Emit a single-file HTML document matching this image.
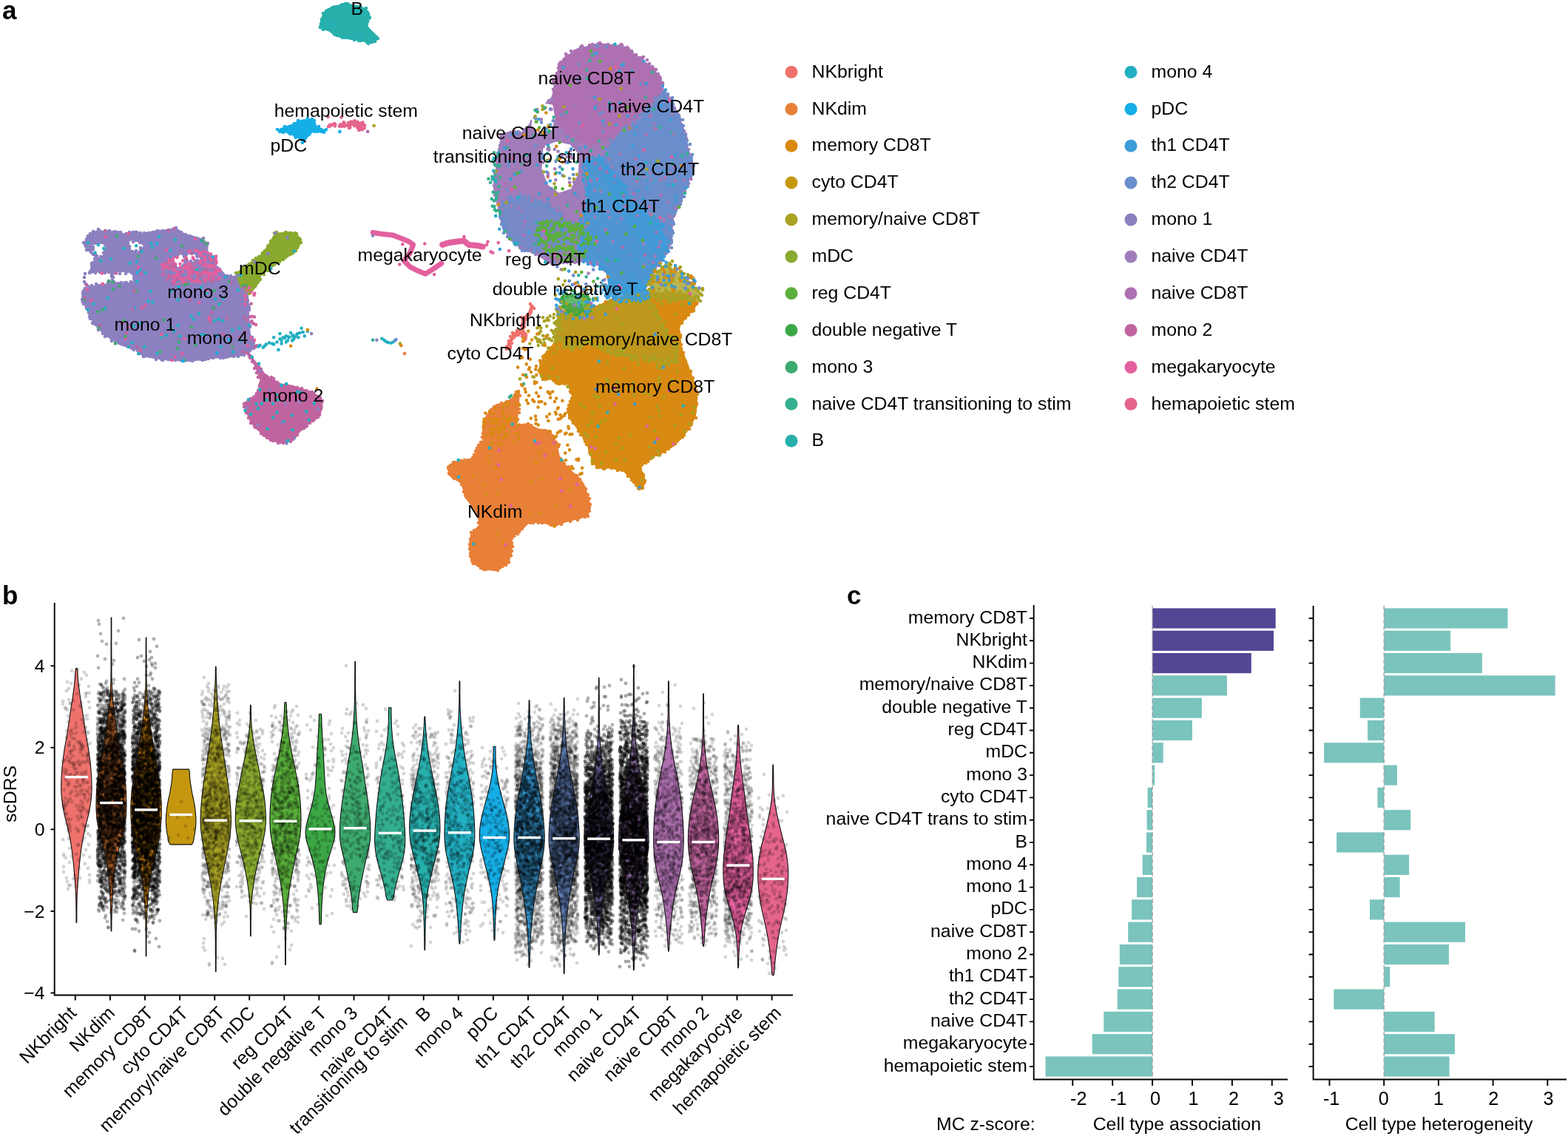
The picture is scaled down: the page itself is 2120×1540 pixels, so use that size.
<!DOCTYPE html><html><head><meta charset="utf-8"><style>html,body{margin:0;padding:0;background:#fff}svg{display:block}text{font-family:"Liberation Sans",Arial,sans-serif}</style></head><body>
<svg xmlns="http://www.w3.org/2000/svg" width="2120" height="1540" viewBox="0 0 2120 1540">
<rect width="2120" height="1540" fill="#fff"/>
<g font-weight="bold" font-size="35">
<text x="3" y="26">a</text><text x="3" y="817">b</text><text x="1145" y="817">c</text>
</g>
<g id="umap">
<path d="M114.1 329.4 117.9 322.1 124.0 315.9 134.6 311.3 139.7 314.6 153.3 313.6 156.2 312.9 165.6 317.6 184.3 313.0 189.3 316.2 196.5 317.7 203.0 314.3 211.8 312.7 223.1 311.7 237.0 309.1 249.4 317.1 272.9 323.7 280.4 329.6 279.4 340.9 292.7 360.8 306.5 374.5 318.7 374.5 333.6 391.2 335.5 414.8 335.5 435.7 337.7 453.3 343.6 463.1 342.2 470.7 327.4 479.9 307.6 481.9 280.4 484.0 261.9 487.1 233.2 486.0 210.7 484.0 193.2 480.1 184.9 471.9 163.8 465.6 143.8 453.5 127.8 437.6 119.7 421.4 111.8 405.6 111.8 397.3 118.1 389.7 121.4 378.7 123.4 363.0 130.6 348.4 121.4 338.5 115.1 333.0Z" fill="#8C80C0" stroke="#8C80C0" stroke-width="3" stroke-linejoin="round"/>
<path d="M113 328h0m4-4h0m1-2h0m1-3h0m3-3h0m4-3h0m5 1h0m2-4h0m5 5h0m2-1h0m5-1h0m3 0h0m0-1h0m5 3h0m2-2h0m5 1h0m3 0h0m1 2h0m5 1h0m2-1h0m4-2h0m4 1h0m1-1h0m4 0h0m6 1h0m5 0h0m1 4h0m2-3h0m3-1h0m7-1h0m5-2h0m3 1h0m4-1h0m4 1h0m2-1h0m2-1h0m6 1h0m4-4h0m2 4h0m1 1h0m4 1h0m3 4h0m3-1h0m4 3h0m2-1h0m4 3h0m4 1h0m1-1h0m3 2h0m6-2h0m-1 3h0m3 3h0m4 1h0m-3 4h0m1 4h0m2 5h0m0 2h0m3 1h0m3 6h0m1 2h0m0 2h0m1 4h0m2 0h0m3 3h0m3 2h0m1 2h0m2 3h0m2 5h0m5-1h0m2 1h0m3-1h0m5 3h0m2-2h0m0 1h0m3 3h0m4 2h0m-1 6h0m4-1h0m3 2h0m2 6h0m1 2h0m-2 2h0m0 5h0m2 4h0m-1 1h0m2 6h0m1 3h0m0 3h0m-3 3h0m1 1h0m-1 5h0m1 5h0m2 3h0m1 5h0m0 1h0m-2 3h0m0 4h0m2 6h0m3 1h0m1 5h0m0 3h0m3 4h0m-2 3h0m-5 3h0m-2 2h0m-1 0h0m-5 4h0m-2-1h0m-5 0h0m-1 3h0m-6 0h0m0 0h0m-6 0h0m-4-2h0m0 3h0m-4 1h0m-4 0h0m-1-2h0m-6 0h0m-3 2h0m-3-1h0m-3 2h0m-2-1h0m-2 2h0m-4 1h0m-3-1h0m-3-2h0m-3 1h0m-5 3h0m-3-1h0m-1 0h0m-4 0h0m-3 1h0m-5-1h0m-2-2h0m-1 1h0m-4 1h0m-2-1h0m-5 0h0m-3 0h0m-4-1h0m-3 2h0m-2-1h0m-2-3h0m-5 3h0m-2-4h0m-7 0h0m-3-1h0m-4 1h0m-1 0h0m-5-4h0m-1-5h0m-2 1h0m-5-1h0m-2-3h0m-1 1h0m-6-3h0m-2-1h0m-4-1h0m-1-2h0m-4 0h0m-5-3h0m0-1h0m-5 1h0m0-2h0m-6-5h0m-3 1h0m-1-5h0m-2 1h0m-1-5h0m-5 0h0m0-3h0m-5-5h0m1-1h0m-4 0h0m1-4h0m-4-2h0m-1-3h0m0-5h0m-1 0h0m-3-6h0m0-3h0m-4-3h0m-1-3h0m-1-3h0m2-4h0m-1-5h0m1-3h0m2-3h0m4 0h0m-1-4h0m4-5h0m1-3h0m-1-1h0m0-5h0m1-1h0m-1-4h0m2-3h0m0-5h0m0-3h0m2-1h0m2-5h0m1 0h0m1-3h0m-5-5h0m-2-1h0m-3-3h0m-3 0h0m0-5h0" stroke="#8C80C0" stroke-width="4.6" stroke-linecap="round" fill="none"/>
<path d="M242.8 354.8h0m13.2 6.8h0m-21.9 0.1h0m-8.9-4.9h0m17.1-7.9h0m22.5 14h0m13.2 6h0m-2.7 10.4h0m-26.1-26h0m26.7 14.9h0m13.5-0.7h0m-12.7 8.7h0m-47.6-13.6h0m29.2 14.6h0m24.1-0.4h0m-17.7 3.2h0m7.9-9.4h0m-44-15.6h0m34.1 12.5h0m5.4 2.5h0m13.7 3.2h0m-23.6-10h0m12.5-22.1h0m6.2 8.8h0m-0.6-2.3h0m-18.8 8.4h0m-1.2 14.1h0m23.1-3.1h0m-10-25.4h0m-39.6 8.3h0m47.7 2.4h0m-14.1-13.7h0m8.4 31.9h0m0.3-18.8h0m-12.8 8.1h0m-4-16.2h0m34.2 3.8h0m-35.5 3.2h0m-19.2 31.8h0m0.1-17.1h0m-5.6-2.7h0m54.3-0.7h0m5.3 9.2h0m-52.4 9.1h0m20.4-41h0m-2.8 13h0m-24.8 2h0m14 23.3h0m41.8-33.9h0m7 27.9h0m-2-19.9h0m-42.3 4.9h0m-0.9 1.6h0m-6.1 23.9h0m-2.9-31.5h0m21-3.6h0m-11 36h0m40.8-6.7h0m-20.2 4.7h0m24.8-17.1h0m-17.7-23.5h0m1 18.9h0m1.6 9.1h0m-22.4-14.1h0m-14 18.5h0m28.7-20.6h0m-7.9 4.4h0m-28 24.1h0m23.2-32.3h0m-3.8-3.7h0m-8.6-2.3h0m-8.3 7.8h0m26.5 29.6h0m14.4-22.3h0m-26.9 5.2h0m-3-8.7h0m10.2 13.7h0m28.7-19.4h0m-47.3 1.5h0m10.3 9.3h0m-29.4 12.3h0m69.1-11.1h0m-40.4 21.4h0m34.7-3.4h0m-24.2-8.1h0m10 3.8h0m-15.2-10h0m-18 17.3h0m33-28.9h0m-41.4-2.5h0m40.7 21h0m-8.9-5.4h0m-11-16.9h0m17.1-10h0m-24 21.2h0m46.6 0.6h0m-51.9-10.7h0m21.1 20.1h0m-6.3-19.6h0m19.8 31.4h0m-26.4-23.7h0m27.6-10.5h0m9.2 25.4h0m-23.4-25.1h0m25.2 1.2h0m-47.9 24.9h0m5.9 9h0m16.1-35.9h0m-21.8 10.8h0m-6.2-1.1h0m-6.9 0h0m69.7-3h0m-21.3 2.3h0m-23.3-2.2h0m-7.5 0.9h0m6.1 22.1h0m37.3-18.3h0m-61.9 2h0m25.9 20.9h0m-14.4-26.1h0m17.5 21.1h0m40.7-26.1h0m-13.8 30.1h0m-32.7-29.4h0m49.5 16.2h0m-55.6 4.7h0m4.3-20.7h0m48 16.8h0m-54.6-7.5h0m12.2-10.5h0m3.5 11.4h0m39.8-14.6h0m-10 26.1h0m1.6 1.6h0m-17.2-20.9h0m-23 1.6h0m37-13.3h0m-46.8 31.7h0m-13.1-9.4h0m5-2.6h0m49.1-2.4h0m-38.1-1.4h0m30.9 12.1h0m10.2 8.1h0m-6.6-34.1h0m14.1 8.1h0m-21.9 3.7h0m13.6-8.1h0m-39.2 2.1h0m26.5 3.8h0m-5.7-4.4h0m24.1 19.8h0m-26.7 7.8h0m36.4-21h0m-5.1 3.6h0m-48.5 15.5h0m26.9-7.5h0m-30.3-11.8h0m3 10.9h0m31.7-18.6h0" stroke="#E3609E" stroke-width="4.6" stroke-linecap="round" fill="none"/>
<path d="M116.8 370.7 135.0 367.5 151.4 369.7 152.6 382.3 138.2 384.5 121.5 386.6 114.3 380.5Z" fill="#fff"/>
<path d="M115 370h0m6-1h0m2-1h0m6 1h0m1-2h0m5 1h0m5-1h0m2 2h0m5-1h0m4 3h0m0 3h0m1 4h0m2 6h0m-5-2h0m-3 0h0m-6 3h0m-2 1h0m-4 0h0m-4-2h0m-6 2h0m-2 2h0m-6-4h0m-2-3h0m0-6h0" stroke="#8C80C0" stroke-width="4.6" stroke-linecap="round" fill="none"/>
<path d="M151.3 369.2 165.0 367.5 179.8 369.7 179.5 381.4 164.9 382.5 151.5 380.3Z" fill="#fff"/>
<path d="M151 371h0m3-2h0m8 1h0m2-4h0m6 4h0m2-3h0m6 2h0m3 1h0m0 2h0m0 4h0m-2 7h0m-2-2h0m-6 1h0m-2 0h0m-5 0h0m-3 1h0m-7-2h0m-2-2h0m1-4h0m-1-2h0" stroke="#8C80C0" stroke-width="4.6" stroke-linecap="round" fill="none"/>
<path d="M125.5 329.7 141.3 327.3 142.6 340.5 134.2 350.1 125.5 342.7Z" fill="#fff"/>
<path d="M126 329h0m3 0h0m4 0h0m4-1h0m3 0h0m2 3h0m1 6h0m-1 2h0m-2 3h0m-4 5h0m-3 3h0m-2-4h0m-2-2h0m-3 0h0m0-7h0m0-3h0" stroke="#8C80C0" stroke-width="4.6" stroke-linecap="round" fill="none"/>
<path d="M174.4 325.8 186.6 323.3 193.9 333.1 186.4 341.8 175.6 337.0Z" fill="#fff"/>
<path d="M176 324h0m4 3h0m3-2h0m3 0h0m3 3h0m4 1h0m2 6h0m-5 0h0m0 3h0m-2 3h0m-4-2h0m-5 1h0m-4-4h0m0-3h0m-2-5h0" stroke="#8C80C0" stroke-width="4.6" stroke-linecap="round" fill="none"/>
<path d="M231.2 346.9 245.8 343.3 251.8 355.3 243.3 363.8 233.7 359.0Z" fill="#fff"/>
<path d="M230 348h0m6-1h0m1-1h0m4-2h0m5-1h0m3 4h0m1 6h0m0 4h0m-1 1h0m-2 2h0m-2 4h0m-5-1h0m-3-4h0m-2-2h0m-1-3h0m-1-1h0" stroke="#8C80C0" stroke-width="4.6" stroke-linecap="round" fill="none"/>
<path d="M251.3 343.7 262.5 342.4 271.6 350.2 262.2 355.6 252.7 353.2Z" fill="#fff"/>
<path d="M252 344h0m2-3h0m3 1h0m6 0h0m3 4h0m1 1h0m5 2h0m-5 3h0m-3 1h0m-3 3h0m-3-3h0m-5 0h0m-2-3h0" stroke="#8C80C0" stroke-width="4.6" stroke-linecap="round" fill="none"/>
<path d="M320.2 370.1 330.8 361.4 351.8 346.6 362.7 333.6 372.4 316.2 394.2 314.4 404.5 321.2 405.9 328.5 396.8 339.5 384.9 349.4 368.3 357.7 352.8 371.0 346.4 385.8 337.9 396.1 334.9 395.1 323.5 379.8Z" fill="#89AA2E" stroke="#89AA2E" stroke-width="3" stroke-linejoin="round"/>
<path d="M319 369h0m2 0h0m6-2h0m1-4h0m1-1h0m5-3h0m3-2h0m3 0h0m0-1h0m2-4h0m4-3h0m1 1h0m3-3h0m6-4h0m-1-1h0m3-3h0m4-4h0m0-2h0m1-1h0m4-3h0m-1-3h0m4-4h0m2-3h0m-1-4h0m3-1h0m4 3h0m5 0h0m3-3h0m2 1h0m4 0h0m1 0h0m6 0h0m2 1h0m0 2h0m4 5h0m1 1h0m1 4h0m-4 5h0m-1 2h0m-2 4h0m-3 2h0m-2 2h0m-3 1h0m-2 1h0m-4 3h0m-3 3h0m-2-2h0m-3 5h0m-2-2h0m-4 1h0m0 4h0m-3 2h0m-5 1h0m-1 3h0m-1 3h0m-6 2h0m1 3h0m-6-1h0m-1 2h0m2 6h0m-3 3h0m-1 1h0m-3 2h0m0 3h0m-4 4h0m-3 2h0m-1 4h0m-3-3h0m1-1h0m-2-3h0m-6-3h0m0-1h0m-2-3h0m-1-4h0m0-4h0m-1-3h0" stroke="#89AA2E" stroke-width="4.6" stroke-linecap="round" fill="none"/>
<path d="M335.0 478.5 346.8 491.9 359.5 508.9 379.5 519.9 394.3 522.1 418.8 530.2 433.5 537.6 435.2 551.4 429.8 564.1 413.7 574.1 402.9 584.9 395.2 594.5 380.6 598.2 365.6 594.4 351.8 582.6 339.9 570.7 334.0 557.0 330.7 545.2 339.0 540.2 350.6 530.9 353.0 514.1 346.4 496.5 338.0 479.7Z" fill="#C0649F" stroke="#C0649F" stroke-width="3" stroke-linejoin="round"/>
<path d="M333 477h0m5 6h0m0 1h0m4 4h0m1 1h0m3 4h0m2 3h0m2 0h0m3 3h0m0 3h0m1 3h0m5 3h0m1 0h0m2 2h0m5 0h0m3 2h0m0 2h0m5 3h0m1 3h0m2 0h0m5 1h0m3 0h0m2 0h0m2 2h0m5 0h0m1 0h0m6 1h0m0 1h0m6 0h0m0 1h0m5 4h0m1-2h0m4 2h0m4 0h0m2 2h0m5 4h0m0 2h0m3-1h0m4 5h0m-1 2h0m-1 4h0m0 2h0m-1 3h0m-1 6h0m0 2h0m-2 3h0m-4 2h0m-2 2h0m-1 1h0m-4 3h0m-3-1h0m-1 5h0m-2 1h0m-2 2h0m-3 1h0m-4 3h0m-3 2h0m1 3h0m-2 1h0m-3 3h0m-1 2h0m-3 3h0m-5 0h0m0-1h0m-5 3h0m-4-1h0m-3 1h0m0-2h0m-6-1h0m-1 0h0m-3-1h0m-1-2h0m-4-1h0m-3-3h0m-2-1h0m-3-2h0m-2-5h0m-2-1h0m-4-2h0m-1-2h0m-2-4h0m-3 0h0m1-5h0m-4-2h0m-1-6h0m-2-1h0m1-3h0m-2-4h0m-2-1h0m0-4h0m5-1h0m1-4h0m3-2h0m4-2h0m3-2h0m1-3h0m3-2h0m-1-2h0m2-5h0m0-2h0m1-3h0m2-4h0m0-1h0m-5-3h0m2-4h0m-4-2h0m1-7h0m-4 1h0m2-5h0m-4-4h0m-1 0h0m-1-5h0m1 0h0m-4-3h0" stroke="#C0649F" stroke-width="4.6" stroke-linecap="round" fill="none"/>
<path d="M441.0 14.1 451.1 9.1 470.0 6.4 486.0 9.1 493.6 12.9 498.2 17.4 499.3 22.8 498.1 27.3 494.3 35.0 503.2 43.9 509.4 50.0 509.4 52.8 505.4 56.8 501.5 57.8 492.3 55.2 484.8 53.7 473.5 52.3 462.3 49.5 451.8 46.8 446.1 41.2 432.7 37.2 432.4 36.0 435.6 29.6 436.3 22.4 438.7 17.5Z" fill="#27AFAC" stroke="#27AFAC" stroke-width="3" stroke-linejoin="round"/>
<path d="M441 15h0m4-1h0m4-2h0m1-2h0m4 0h0m3 0h0m4-3h0m2-1h0m4-1h0m3 0h0m3 2h0m4 2h0m1 0h0m5 0h0m4 1h0m2 1h0m6 0h0m1 5h0m0 2h0m4 6h0m-3 5h0m-1 2h0m0 2h0m1 5h0m1 3h0m2 1h0m3 3h0m2 2h0m4 3h0m2 2h0m-4 4h0m-5 1h0m-4 2h0m-2-2h0m-4-3h0m-4 1h0m-3 0h0m-6-1h0m0-1h0m-7-2h0m-4-1h0m0 1h0m-5 0h0m-3-2h0m-4-1h0m-3-1h0m-3-4h0m-3-2h0m-3-2h0m-6-2h0m-1 3h0m-4-3h0m1 0h0m0-5h0m1-3h0m0-3h0m2-2h0m0-6h0" stroke="#27AFAC" stroke-width="4.6" stroke-linecap="round" fill="none"/>
<path d="M377.1 176.4 380.1 174.6 391.1 170.5 401.8 167.4 404.7 164.5 410.6 162.8 420.7 162.1 424.4 164.0 427.2 171.1 436.9 175.9 439.2 177.3 440.1 176.7 432.9 177.9 423.1 176.3 416.1 183.2 410.1 189.3 409.1 191.6 408.6 189.2 401.7 184.1 394.2 181.0 386.6 178.0 377.4 176.7Z" fill="#15AEE6" stroke="#15AEE6" stroke-width="3" stroke-linejoin="round"/>
<path d="M375 175h0m6 0h0m4-2h0m0-2h0m6 1h0m6-3h0m1-2h0m4-1h0m1-3h0m3 1h0m3 1h0m3-1h0m4-4h0m6 1h0m3 2h0m-1 6h0m4 4h0m3-2h0m3 4h0m3 3h0m1 1h0m3-4h0m-6 3h0m-1-2h0m-5 2h0m-4 0h0m-2-4h0m-3 5h0m-2 3h0m-3 2h0m-2 3h0m-2 2h0m-2 4h0m1-3h0m-5-4h0m-5 0h0m-1-2h0m-6-3h0m-1 0h0m-5-4h0m-4 2h0m-3-1h0m-2 0h0" stroke="#15AEE6" stroke-width="4.6" stroke-linecap="round" fill="none"/>
<path d="M484.6 166.5h0m-22.3 4.2h0m22.8 4.2h0m-0.3-0.3h0m-13.9-8.2h0m16.2 7.4h0m-14.1-1.8h0m-8.2-6.6h0m18.9 3.5h0m-1.2-3.1h0m6.6 4h0m-23.7 0.9h0m-6.6-0.3h0m2.3-0.7h0m-17.1 1.6h0m39.4-6.6h0m-11 2.7h0m15.6 1.9h0m-17.3-3.1h0m12.2 2.3h0m9.7 4.7h0m-7.4 2.7h0m-12.7-7.8h0m-19.8 2.3h0m23.9-2.4h0m-23.9-0.6h0m37.4 7.7h0m-6.7-2.7h0m-6.4-5.7h0m-4.9 6.4h0m7.3-7.8h0m8.6 9.6h0m-42.1-6.1h0m40.7 2.5h0m-22.6-4h0m21.5 1.9h0m-11.3-4.7h0m5 5.7h0m-25.9-1.9h0m33.1-1.1h0m-38.8 2.2h0m28.9-3.9h0m-11 1h0m14.4 0.1h0m4.6 0.7h0m1.5 2.6h0m-37.4-1.3h0m42-3h0m-11.6-0.3h0m-5.9 4.1h0m0.2 3h0m11.5-1.8h0m-4.6-2.4h0m-0.6-4.9h0m5.2 3.9h0m1.8 7.4h0m3.9-5.4h0m-2.2-2.9h0m-29 4.5h0m4.3-1.1h0m21.5 4.9h0m8-5.2h0m-25.5 0.5h0m10.7-4.6h0m-7.1 4.5h0m7.3-5.8h0m9.7 8.5h0m-21.8-3h0m-20 1h0m34.7-5.7h0m4.5 10.8h0m-25.3-7.2h0m26.1 1.5h0m-3.6-2.6h0m-31-0.1h0" stroke="#E5648C" stroke-width="4.6" stroke-linecap="round" fill="none"/>
<path d="M760.6 84.2 765.4 76.7 778.6 70.1 790.1 64.4 806.4 61.9 819.9 61.2 833.4 62.5 849.2 66.5 856.8 73.7 868.9 82.4 879.6 90.6 892.7 105.3 895.7 120.4 902.0 129.8 915.8 154.5 923.6 175.0 929.6 203.9 935.2 221.4 933.9 237.1 924.7 255.7 920.3 271.6 912.8 283.5 908.0 299.5 908.0 313.7 905.6 328.1 899.9 343.2 890.2 354.9 882.8 366.5 876.9 383.2 866.3 394.7 850.2 396.5 827.9 392.0 823.2 373.4 812.1 359.0 790.4 352.5 759.7 354.5 745.9 356.3 732.8 347.0 706.7 334.9 692.5 325.5 684.1 312.4 678.4 299.0 675.9 284.2 670.4 265.3 668.5 247.2 672.5 228.6 674.5 210.4 676.5 195.6 679.0 182.6 690.5 178.5 706.4 179.6 720.4 164.6 731.9 155.2 738.0 141.0 745.6 133.3 751.2 126.0 749.6 111.4 755.2 95.3Z" fill="#A07DBA" stroke="#A07DBA" stroke-width="3" stroke-linejoin="round"/>
<path d="M760 86h0m4-4h0m3-4h0m0-3h0m7 0h0m0-4h0m5-1h0m3-3h0m2 0h0m1-3h0m7 1h0m3-1h0m3 1h0m3-4h0m3 0h0m3 0h0m3 2h0m4-2h0m3 0h0m5-1h0m1 2h0m2 0h0m7 0h0m0 0h0m5 0h0m1 1h0m4 1h0m3 1h0m3 2h0m5 2h0m2 3h0m1 3h0m4 1h0m3 2h0m2 1h0m3 3h0m3 3h0m1 1h0m6 1h0m2 4h0m1 4h0m2 2h0m2-1h0m5 4h0m-1 2h0m4 4h0m-1 1h0m4 5h0m-3 2h0m2 4h0m1 4h0m3 2h0m2 4h0m2 2h0m2 3h0m2 1h0m1 2h0m1 5h0m1 4h0m2 1h0m2 4h0m1 1h0m1 3h0m2 3h0m0 4h0m1 2h0m2 5h0m0 1h0m0 2h0m1 4h0m3 2h0m2 4h0m0 5h0m1 1h0m-1 6h0m-1-1h0m3 5h0m2 5h0m-1 4h0m1 1h0m1 2h0m0 4h0m1 4h0m2 2h0m-1 2h0m1 4h0m0 4h0m1 2h0m-2 3h0m2 2h0m-4 5h0m-3 2h0m2 5h0m-3 0h0m0 5h0m-2 5h0m-1 1h0m-3 2h0m0 4h0m-2 2h0m1 5h0m-3 5h0m-1-1h0m-3 6h0m-2 2h0m-2 2h0m2 4h0m-1 2h0m-2 5h0m-2 3h0m1 5h0m0 1h0m-2 3h0m3 3h0m-3 4h0m1 6h0m0 4h0m-3 0h0m2 4h0m-2 4h0m-3 2h0m-2 6h0m1 1h0m-2 2h0m-4 4h0m0 3h0m-2 1h0m-3 0h0m1 6h0m-4 3h0m0 1h0m-3 5h0m-1 4h0m-3 1h0m1 2h0m-3 6h0m0 3h0m-3 0h0m-2 3h0m0 2h0m-3 2h0m-3 3h0m-3-1h0m-5 4h0m-2-2h0m-4 0h0m-3 0h0m-1 0h0m-6 1h0m-3-2h0m0-2h0m-5 3h0m-2-4h0m-5 2h0m0-2h0m-2-3h0m1-6h0m-1-4h0m0-2h0m0-2h0m-4-4h0m-1-3h0m-1-2h0m-3-1h0m-3-2h0m-1-2h0m-3-3h0m-4-2h0m-4 3h0m-2-2h0m-4-1h0m-2-2h0m-3-2h0m-3 1h0m-4 2h0m-3-1h0m0 1h0m-3 1h0m-7-2h0m-3 2h0m-1-1h0m-4 1h0m-2-1h0m-2 0h0m-5 0h0m-5 4h0m-1-1h0m-6-4h0m-2-2h0m-2-1h0m-3-2h0m-1-2h0m-2 0h0m-3-3h0m-4 1h0m-3-4h0m-1 1h0m-5-4h0m-1 1h0m-6-3h0m-3 1h0m-2-1h0m-1-5h0m-3-1h0m-3 0h0m-4-5h0m1-1h0m-2-2h0m-3-2h0m-2-4h0m-4-2h0m0-4h0m1-5h0m-2-3h0m-2-1h0m-2-5h0m2-3h0m-2-5h0m-3-3h0m1-4h0m-2-4h0m1-1h0m-3-4h0m0-3h0m1-3h0m-3-1h0m-1-4h0m1-2h0m0-4h0m-1-3h0m1-4h0m1-2h0m-2-5h0m2-3h0m-1-3h0m2-2h0m1-5h0m0-2h0m1-4h0m-1-3h0m4-1h0m-4-3h0m4-3h0m-3-4h0m2-5h0m1-5h0m2-1h0m0-2h0m0-6h0m-1-4h0m0 0h0m6-3h0m1 0h0m5 0h0m0-1h0m6 0h0m1-2h0m5 0h0m2 2h0m3 1h0m2-6h0m3 0h0m4-2h0m2-2h0m1-4h0m1-3h0m5-3h0m3-2h0m2 0h0m1-6h0m3-2h0m2-3h0m2 0h0m1-4h0m-1-2h0m4-4h0m1-2h0m4-1h0m3-5h0m0-2h0m2-3h0m-1-4h0m0-2h0m2-2h0m-1-4h0m2-4h0m0-6h0m1-1h0m-1-3h0m4-4h0m0-3h0m0-1h0m0-5h0" stroke="#A07DBA" stroke-width="4.6" stroke-linecap="round" fill="none"/>
<path d="M760.6 84.2 765.4 76.7 778.6 70.1 790.1 64.4 806.4 61.9 819.9 61.2 833.4 62.5 849.2 66.5 856.8 73.7 868.9 82.4 879.6 90.6 892.7 105.3 895.2 118.0 877.4 137.7 859.7 157.4 842.8 169.2 831.9 178.7 811.6 192.7 795.7 196.3 781.8 187.0 762.5 177.3 751.4 158.8 748.5 140.0 751.1 125.1 749.6 111.4 755.2 95.3Z" fill="#AE70B0" opacity="1"/>
<path d="M762 84h0m-4 0h0m4-3h0m2-2h0m2-3h0m-1-3h0m8 2h0m-4 1h0m3-7h0m5 0h0m1 2h0m1-1h0m1-2h0m6-5h0m1-1h0m3 5h0m3-1h0m4-5h0m4 4h0m-5 1h0m5-6h0m7 3h0m1-4h0m2-1h0m-2 3h0m0 1h0m4-2h0m6 1h0m4 1h0m2 0h0m3 3h0m-4-1h0m4 0h0m5 1h0m-3-4h0m8 6h0m2-7h0m1 1h0m2 6h0m-1 2h0m6-5h0m-1 2h0m7 3h0m-4-3h0m2 8h0m2 0h0m3 3h0m3-3h0m6 4h0m0 4h0m4-5h0m-2 3h0m3 7h0m4-6h0m-3 8h0m5-2h0m1-1h0m4 4h0m2 3h0m-4 0h0m2 6h0m5-5h0m-2 5h0m4 3h0m1 0h0m-1 4h0m3-2h0m1 10h0m-2-4h0m5 4h0m-3 4h0m-1 2h0m0 5h0m3-6h0m-5 8h0m1 1h0m-4 1h0m-3-1h0m2 6h0m-1 0h0m-6 2h0m2 0h0m-3 0h0m-2 3h0m-5 1h0m1 6h0m-1-3h0m-3 1h0m-1 1h0m-4 7h0m2-2h0m0 1h0m-5 0h0m0 3h0m1 4h0m0-1h0m-2 4h0m-8-2h0m2 8h0m-4-1h0m-1 2h0m-5-2h0m5 0h0m-7-1h0m-3 4h0m3 1h0m-4 2h0m-1 6h0m-1-3h0m-1 7h0m-3-5h0m0 7h0m-6-4h0m-3 4h0m4 2h0m-2-2h0m-6 6h0m0-2h0m-1 1h0m-7 2h0m-2 3h0m0-1h0m0-1h0m-4-2h0m2 5h0m-2-3h0m-5 6h0m-5-5h0m-3-1h0m3-2h0m-2 2h0m-4 0h0m-2-1h0m-1-4h0m-1-2h0m-3 3h0m-1-5h0m-2 5h0m-5-7h0m-2 4h0m-5-8h0m1 4h0m0-4h0m-1-2h0m-3-3h0m-7-2h0m-1 1h0m3-4h0m2-1h0m-8-4h0m4 4h0m-6-9h0m4 0h0m1-1h0m-3-3h0m1-2h0m-4 2h0m-3-4h0m0-3h0m2-1h0m-3-4h0m3 0h0m5-5h0m-5-5h0m0-1h0m1-5h0m4 1h0m-4 1h0m-1-6h0m0 0h0m5-7h0m-1 2h0m-4-6h0m2 2h0m-2-4h0m5-4h0m0 1h0m-2-2h0m2-3h0m5-7h0m1 4h0m-3-10h0m-1 5h0m1-2h0" stroke="#AE70B0" stroke-width="4.6" stroke-linecap="round" fill="none"/>
<path d="M898.6 124.7 902.0 129.8 915.8 154.5 923.6 175.0 929.6 203.9 935.2 221.4 933.9 237.1 924.7 255.7 920.3 271.6 912.8 283.5 908.0 299.5 908.0 313.7 905.6 328.3 902.4 340.9 881.7 336.8 862.7 317.7 847.8 297.9 833.1 278.4 823.4 249.1 815.7 215.5 827.8 192.2 847.2 174.7 864.3 162.6 882.6 142.3Z" fill="#6A8DCB" opacity="1"/>
<path d="M896 127h0m1-2h0m6 2h0m-1 8h0m4 2h0m3-5h0m-5 8h0m5-4h0m0 4h0m1 1h0m-3 9h0m4 1h0m-1-1h0m2 2h0m1 4h0m1 3h0m4-3h0m-1 5h0m6 1h0m-5 8h0m6 0h0m-4-2h0m1 1h0m-1 6h0m3 3h0m0-2h0m4 7h0m-1 1h0m1 6h0m2 0h0m-3-1h0m1 8h0m0-3h0m1 0h0m5 1h0m-3 10h0m-2 0h0m1-1h0m0 1h0m5 8h0m2-4h0m-1 4h0m0 4h0m-2 6h0m-2 0h0m7 1h0m-2 6h0m-4-1h0m4 0h0m0 3h0m-2 4h0m1 0h0m-1 3h0m-4 3h0m-1 5h0m1 0h0m-1 0h0m-3 0h0m4 5h0m-4 2h0m1 0h0m-6 7h0m2 0h0m2 5h0m0-5h0m-4 9h0m2-4h0m-6 4h0m-1 2h0m4 4h0m-4-2h0m-2 10h0m2-3h0m-3 5h0m1-3h0m-1 4h0m-2 1h0m-2 3h0m-1 0h0m-2 7h0m-2-1h0m6 3h0m-3 2h0m4 1h0m-2 9h0m-3-1h0m4 4h0m-3-3h0m0 6h0m1 1h0m-2 6h0m2 0h0m-3 4h0m3-1h0m0 7h0m-5 2h0m-1-2h0m2 5h0m-4 0h0m1 2h0m-9-2h0m1-1h0m1-1h0m-6 3h0m-2-3h0m-2 2h0m-1-1h0m-4-7h0m1 2h0m-1 0h0m-7-6h0m-2 3h0m-1-7h0m4 2h0m-8 0h0m4-4h0m-7 0h0m2-2h0m3 0h0m-3-7h0m-5 1h0m-4 2h0m0-7h0m-1-2h0m3 0h0m-4-3h0m-5-2h0m5 2h0m-1-6h0m-7-4h0m2 1h0m-2-1h0m-1-3h0m1-3h0m-1 1h0m-8-3h0m3-1h0m-1-3h0m-4 2h0m-1-2h0m3-3h0m-4 1h0m-1-3h0m-3-5h0m3-6h0m2-2h0m-3-1h0m2 1h0m-2-2h0m-2-1h0m-3-6h0m3-3h0m0-1h0m-7-3h0m5 5h0m-4-5h0m-2 0h0m3-8h0m-5 2h0m-1-1h0m2-8h0m1-1h0m0-4h0m2 0h0m-1-4h0m-1 4h0m-4-10h0m0 3h0m-2-3h0m-2-3h0m7-2h0m0-5h0m3-2h0m1 5h0m2-6h0m-4-3h0m4-1h0m3-6h0m-3 4h0m2-4h0m-2-6h0m3 5h0m6-7h0m2-3h0m0 6h0m-1-2h0m5-9h0m-1 2h0m1 0h0m1-1h0m3-7h0m4-1h0m2 4h0m2-4h0m-3-1h0m3 0h0m2-2h0m3-3h0m5-3h0m-2 5h0m3-3h0m6-4h0m-4-5h0m7-2h0m-2 2h0m-1-2h0m2-1h0m4-3h0m-1-2h0m2-4h0m1 5h0m4-2h0m-2-1h0m5-3h0m2-3h0m-1-1h0m1-6h0m1 0h0m5-3h0m5-3h0m-1-1h0m2 3h0" stroke="#6A8DCB" stroke-width="4.6" stroke-linecap="round" fill="none"/>
<path d="M793.2 217.9 810.8 213.9 827.2 232.2 847.3 262.2 872.7 287.7 892.0 302.1 901.3 330.1 896.8 346.3 887.1 358.0 878.8 373.5 873.1 387.8 864.6 394.6 850.1 396.5 827.9 392.0 823.2 373.4 812.1 359.0 792.3 353.0 783.6 339.2 788.5 300.5 795.5 260.0 791.5 234.9Z" fill="#3A9CD8" opacity="0.8"/>
<path d="M795 214h0m-2 4h0m8-5h0m0 5h0m4-3h0m2 0h0m3-4h0m2 3h0m-2-3h0m0 6h0m5-3h0m-1 2h0m0 2h0m3 8h0m7 0h0m-3-1h0m4 5h0m1 0h0m-3 1h0m7 3h0m-5 2h0m4-3h0m6 6h0m-1-2h0m2 8h0m2 0h0m1 3h0m-1-1h0m3 4h0m2-2h0m2 4h0m1-1h0m1 7h0m-4 2h0m1-3h0m3 2h0m2 7h0m3 0h0m-1 2h0m5 1h0m3 3h0m-3-5h0m4 8h0m-1 0h0m5 3h0m-5-1h0m2-1h0m8 4h0m0 2h0m-1-1h0m2 7h0m4-3h0m-3 1h0m7 3h0m2 4h0m-3 1h0m2 2h0m3-2h0m8 2h0m-4 5h0m5 2h0m0-2h0m5 2h0m1 0h0m0 2h0m-2 1h0m-2 9h0m3 2h0m-1-2h0m0 4h0m6 2h0m-3 5h0m5 0h0m-6 2h0m4 5h0m-1 0h0m1 0h0m-1 4h0m2 1h0m-5 7h0m-3 1h0m4 0h0m-3 3h0m2 2h0m-3-4h0m-5 3h0m3 8h0m-8 0h0m3-2h0m-3 7h0m1-1h0m-1 2h0m-2 3h0m2 5h0m-3 2h0m-4 4h0m2 0h0m-4-2h0m1 7h0m1-1h0m-6 3h0m5-1h0m-3 2h0m-6 1h0m-2 4h0m3 6h0m-8-5h0m3 0h0m-7 2h0m-4-1h0m0 1h0m2 0h0m-8 4h0m-1-1h0m0-1h0m-5-5h0m1 2h0m-4 1h0m0-3h0m-6 4h0m-1-5h0m-1-1h0m0-4h0m0 2h0m-4 1h0m-1-8h0m-2 0h0m4-1h0m-3-2h0m-3-6h0m3 3h0m-1-4h0m-1-4h0m0 1h0m-6-4h0m2-3h0m-6 3h0m1-5h0m-1 3h0m-6-6h0m-3 0h0m1 3h0m-1-3h0m-4 0h0m-3 1h0m2-1h0m-8-2h0m4-3h0m0 1h0m-2-2h0m-2-2h0m-6-3h0m3-3h0m-4-6h0m3 4h0m-3-8h0m0-3h0m4 5h0m1-7h0m0-5h0m1 0h0m-6 0h0m1-5h0m0-1h0m4 1h0m-4-2h0m1-8h0m5-1h0m-2 0h0m-1-1h0m0-2h0m5-4h0m-6-1h0m1-4h0m3-6h0m2 3h0m1-5h0m-1-1h0m-2 0h0m7-2h0m0-6h0m1-5h0m-4-1h0m0 2h0m3-4h0m-3-5h0m1-1h0m-1 1h0m3-4h0m-3-1h0m-1-5h0m3 1h0m3-2h0m-1-1h0m-2-4h0m-6-6h0m0 3h0m5-4h0m-4-5h0m-1 0h0m7-5h0m-8-4h0m3 4h0m4-6h0m-5-5h0m0 3h0" stroke="#3A9CD8" stroke-width="4.6" stroke-linecap="round" fill="none"/>
<path d="M683.1 272.5 700.2 265.7 728.8 273.3 757.9 287.9 771.3 301.2 766.8 327.7 739.5 341.3 706.4 334.7 692.5 325.5 684.1 312.4 678.6 299.6Z" fill="#6A8DCB" opacity="0.75"/>
<path d="M683 276h0m6-2h0m-2-1h0m0-6h0m5 2h0m-1-3h0m1 5h0m8-1h0m4-5h0m0 0h0m3 5h0m-3-6h0m3 5h0m3-4h0m6 6h0m-1-5h0m6 5h0m-4-1h0m6 5h0m1-2h0m0-2h0m8 1h0m-4 3h0m2-2h0m5 4h0m3 2h0m1-4h0m4 1h0m0 4h0m4 3h0m-2 1h0m6-1h0m-2 5h0m6-6h0m-1 9h0m2-4h0m6 5h0m0 1h0m-3-3h0m9 7h0m-5-4h0m3 8h0m1 0h0m8 1h0m-1 0h0m-6 0h0m4 3h0m2 7h0m-7 3h0m-1 0h0m0 4h0m5 3h0m-7 2h0m4 2h0m-1 0h0m1 4h0m-7-5h0m2 3h0m-3-1h0m0 1h0m-1 7h0m-5-4h0m-1 2h0m-4 0h0m3 4h0m-7-2h0m1 7h0m-2-5h0m-6 3h0m1-2h0m-3 6h0m-1-8h0m-8 0h0m3 4h0m-4-2h0m-3 1h0m0 2h0m-2-1h0m0 0h0m-4-7h0m-3 6h0m-4 0h0m-4 0h0m0-3h0m-4-4h0m-1-1h0m-4-1h0m5 1h0m-2-1h0m-3 1h0m-2-7h0m-6-1h0m-3-3h0m6 3h0m-6-3h0m3-1h0m-1-5h0m-7 1h0m1-4h0m-1-3h0m4-5h0m-4 2h0m-1 0h0m-2-2h0m3-2h0m-5-8h0m2 3h0m-2-7h0m6 3h0m-4-6h0m5-1h0m1-1h0m-4-7h0m-1 2h0m1-6h0" stroke="#6A8DCB" stroke-width="4.6" stroke-linecap="round" fill="none"/>
<path d="M768.1 334.4h0m0.5 2.3h0m-22.9-37.9h0m4.5 4.7h0m-19.4 21.1h0m12.5 16.6h0m-7.4-40.2h0m9.7 18.5h0m30.2 2.2h0m18.9-6.2h0m-8.1-6.9h0m2.1 34.6h0m-14.4-31.5h0m-0.9 18.5h0m0.2-24.4h0m-40.4-5h0m39.7 28.4h0m-33.5-30.3h0m11 39.5h0m-8.8-21.4h0m21.2-15.3h0m-21.4 41.1h0m2.9-25h0m37.4-9.4h0m-44.6-0.3h0m14.9 8.8h0m20 6.4h0m1.8 21.9h0m-17.6-43.2h0m1.7 35.7h0m-28.6-35.6h0m30.1 3.3h0m-19.4 16h0m10.2 1.8h0m44.9 5.1h0m-67.5-20h0m52.4 20.5h0m15.6-2.3h0m-54.9-21.3h0m48.7 2.5h0m-60.9 3.2h0m65.6 11.8h0m-36.8-8.6h0m-19.3 20.7h0m12.2-32.6h0m48.6 21.7h0m-25.9 2h0m6.9 1.3h0m-39.5-2.3h0m28.9 9.2h0m19.7-17h0m-49.2 13.8h0m16.5-27.5h0m-19.3 36.5h0m30.6 11.5h0m-14.1-15.7h0m-13.2-12.1h0m21.7 28.3h0m8.6-43.9h0m16.5-0.9h0m-39.9 12.3h0m1.7 15.7h0m-25-17.7h0m18.3 4.8h0m23.7 15.5h0m-33.1-28.3h0m0.9-6.2h0m29.1 26.7h0m-22.4-24.8h0m27.4 17h0m-13.8 26.2h0m19.7-1.7h0m21.9-27.1h0m-50.9-7.2h0m10.2 14.5h0m33.4 16.6h0m-15.2-17.6h0m-41.9-16.2h0m42.2 20.6h0m-6.8-24.3h0m9.5 4.4h0m-35.5 6.7h0m22.4 18.6h0m7.8-12.3h0m3.7 19.7h0m0.5-5.5h0m-2.4-31.7h0m-32.3 15h0m13.7 31.9h0m25.5-36.1h0m-5.7 24.4h0m-41.8-32.6h0m6.9 2.6h0m14.9 9.2h0m-25.6 9.7h0m67.4-0.3h0m-45.8 7.7h0m6.4-31.8h0m3.5-9.4h0m15.1 8.6h0m7.1 40.4h0m-9.7-12h0m-34.8 7.9h0m8.2-30.7h0m40.6 20.8h0m-18.2-24.2h0m10.7 4.4h0m-43.1 25.5h0m7.2 0.9h0m5.5-11.4h0m-1.2-6.3h0m12.3-9.5h0m-24.6-10h0m36 36.3h0m-28.2 5.7h0m36.3-27h0m-18.4-9.2h0m34.1 22.3h0m-18.5-10.5h0m1.9-9.3h0m6.3 34.3h0m-54.9-12.9h0m7.6 7.3h0m47.8 5h0m-44.7-41.9h0m33.7 28.3h0m-40.9-22.3h0m34.6-5.1h0m4 8h0m-29.2 10.9h0m21.4 18.1h0m-24.4-26.1h0m32.7 24.1h0m-2 12.6h0m-31.9-35.4h0m35.7-3.1h0m-39.4-2h0m47.9 36h0m1.8-31h0m-37.4 24.7h0m15.5-34.2h0m-4.1 2.8h0m-26.7 18.5h0m31.4-8.6h0m15.2 10h0m-50.4-8.6h0m32.2-8h0m14.4-1.9h0m-27.3 15.3h0m30.8 17.6h0m-26.6-19.4h0m19.3-20.5h0m-12.8 31.9h0m-25.4-10.2h0m38.2-10h0m11.8 8.2h0m-53.4-2.6h0m-2.7-6.3h0m55.9-9.2h0m-47.1 23.8h0m52.2-21.8h0m-51.5 35.8h0m19.7-25.6h0m-23.6-5.7h0m10.6 29.8h0m16.7 13h0m10.2-40.1h0m-10.8 25.7h0m21-35.2h0m-30.9 7.1h0m-6.5 13.3h0m46.8-8.9h0m-53.2 25.4h0m13.1-33.4h0m6 38h0m34.7-14.8h0m-20 19.5h0m18.9-4.9h0m-45.5-27.1h0m8.5-0.8h0m0.3-14.6h0m2.5 31.5h0m37.2 7.2h0m-12.4 0h0m6.6-30.1h0m-12.2 7.6h0m-9.1-2.6h0m21.9 0.5h0m1.8 30.2h0m-13-11.8h0m-10.1-11.8h0m-16.2 19.7h0m34.5 5.2h0m-44.3-31.8h0m2.7-14.4h0m42.7 7.6h0m-4.3-1.7h0m-21.8 12.2h0m-11.8 13.8h0m45.6-9.7h0m0.4 15.8h0m-45.9 8.4h0m20.4-46h0m1.1 43.4h0m-5.4-20.8h0m-7.9 23.8h0m19.4-40.3h0m-23.6 9.3h0m5.4 21.2h0m-0.2-37.5h0m7.3 43.7h0m20.7-27.8h0m-44.2 23.3h0m45.2-31.6h0m-28.7 9.7h0m21.6 33h0m-39.7-37.7h0m10 25.8h0m-11.1-11.1h0m24.4 7.3h0" stroke="#5AAF3A" stroke-width="4.6" stroke-linecap="round" fill="none"/>
<path d="M720.6 149.2 734.7 139.4 747.3 141.7 750.5 160.1 745.2 177.2 729.6 182.7 718.4 171.6Z" fill="#fff"/>
<path d="M744 147.4h0m-5.3 26.8h0m-3.7-27.2h0m9 21.8h0m-15.4-7.5h0" stroke="#3A9CD8" stroke-width="4.6" stroke-linecap="round" fill="none"/>
<path d="M747.7 163.3h0m-15.7 2.2h0m5.8 13.1h0m-14.8-19.3h0m1.3 0.9h0" stroke="#6A8DCB" stroke-width="4.6" stroke-linecap="round" fill="none"/>
<path d="M742.8 177h0m-16-25.6h0m-1.9 13.4h0m4.3 7.8h0m3.4 9h0" stroke="#5AAF3A" stroke-width="4.6" stroke-linecap="round" fill="none"/>
<path d="M730.1 179.4h0m1.8-17.8h0m9.7 10.3h0m-15.3-23.9h0m7.7 32.3h0" stroke="#A07DBA" stroke-width="4.6" stroke-linecap="round" fill="none"/>
<path d="M734.6 178.3h0m-1.1-34.9h0m7.8 26.8h0m-17.7-13h0m10-9.2h0" stroke="#A9A224" stroke-width="4.6" stroke-linecap="round" fill="none"/>
<path d="M734.8 179.8h0m6.7-8h0m-14.3 3.9h0m11.1-23.2h0m-0.9-6.8h0" stroke="#D88A12" stroke-width="4.6" stroke-linecap="round" fill="none"/>
<path d="M736.4 145.6h0m-10.4 4.9h0m22.7 8.1h0m-25.1-9.7h0" stroke="#33AE8E" stroke-width="4.6" stroke-linecap="round" fill="none"/>
<path d="M734.6 197.9 751.9 191.4 770.8 195.6 783.5 209.5 781.5 235.4 772.1 255.2 755.7 260.7 740.8 250.0 732.5 228.2Z" fill="#fff"/>
<path d="M741.1 196.5h0m13.5 15.6h0m-20.8 1.7h0m38.8-4.3h0m-37.2 0.2h0" stroke="#3A9CD8" stroke-width="4.6" stroke-linecap="round" fill="none"/>
<path d="M753.1 216h0m7.7 21.3h0m-3.8-11.5h0m-5.6-7.5h0m18.5 23h0" stroke="#6A8DCB" stroke-width="4.6" stroke-linecap="round" fill="none"/>
<path d="M754.2 215.8h0m-14.3 1h0m11.1 36.6h0m0 1.2h0m9.6 0.7h0" stroke="#5AAF3A" stroke-width="4.6" stroke-linecap="round" fill="none"/>
<path d="M767.8 218.6h0m8.2 27.6h0m-25.7-17.9h0m9.7-17.8h0m-5.4-5.7h0" stroke="#A07DBA" stroke-width="4.6" stroke-linecap="round" fill="none"/>
<path d="M775.9 241.9h0m-13.3-3.6h0m17.3-2.6h0m-30.4 12.6h0m21.2 2.6h0" stroke="#A9A224" stroke-width="4.6" stroke-linecap="round" fill="none"/>
<path d="M750.6 235h0m9.9-15.7h0m-3.7-4.8h0m-16.1 24.7h0m11.5-41.3h0" stroke="#D88A12" stroke-width="4.6" stroke-linecap="round" fill="none"/>
<path d="M779.5 219.2h0m-37.7-19.8h0m10.4 34.2h0m-12.2-26.4h0" stroke="#33AE8E" stroke-width="4.6" stroke-linecap="round" fill="none"/>
<path d="M750.5 360.6 790.2 358.5 819.3 368.9 823.8 391.3 799.9 393.5 774.8 389.5 750.5 386.3Z" fill="#fff"/>
<path d="M814.5 384.9h0m-45.4-18.3h0m46 12.9h0m-34.2 2.4h0m-7.1 3.1h0" stroke="#3A9CD8" stroke-width="4.6" stroke-linecap="round" fill="none"/>
<path d="M753.3 360.4h0m48.9 4.2h0m-27 7.8h0m17.1 11.6h0m-22.6-4.1h0" stroke="#6A8DCB" stroke-width="4.6" stroke-linecap="round" fill="none"/>
<path d="M802.4 380.6h0m-38.7-16.8h0m55.9 24.8h0m0.9 2.4h0m-34.2-22.9h0" stroke="#5AAF3A" stroke-width="4.6" stroke-linecap="round" fill="none"/>
<path d="M758.7 364.2h0m17.5 20.1h0m41.4-6.2h0m-22-8.5h0m23.1 15.4h0" stroke="#A07DBA" stroke-width="4.6" stroke-linecap="round" fill="none"/>
<path d="M763.8 379.8h0m-9-2.7h0m6.1-12.5h0m17.2 3.3h0m-16.7 17.2h0" stroke="#A9A224" stroke-width="4.6" stroke-linecap="round" fill="none"/>
<path d="M799.8 392.4h0m-17.1-6.2h0m-4.1-3.5h0m38.1 3.5h0m-24.2 4.1h0" stroke="#D88A12" stroke-width="4.6" stroke-linecap="round" fill="none"/>
<path d="M782.3 372.2h0m10.4 2.1h0m15.4 2.2h0m0.2 10.7h0" stroke="#33AE8E" stroke-width="4.6" stroke-linecap="round" fill="none"/>
<path d="M728.4 501.5 735.8 481.8 749.5 465.3 755.2 442.5 757.7 425.0 771.7 418.0 798.8 418.0 826.6 406.9 853.3 398.9 907.1 396.2 930.4 398.8 943.2 409.5 931.8 423.2 917.2 440.7 920.2 469.9 928.5 492.1 936.6 513.7 941.9 537.5 939.3 563.4 928.9 581.6 915.8 597.4 897.3 610.5 878.0 618.8 865.1 631.8 870.9 649.3 868.8 660.0 864.9 661.3 858.2 652.4 846.6 637.8 825.9 631.9 810.2 631.9 801.4 625.3 798.8 609.8 790.3 592.8 779.2 576.1 771.5 565.8 769.0 551.2 774.6 534.4 767.6 516.8 755.3 519.8 744.8 511.9 734.7 511.9Z" fill="#D88A12" stroke="#D88A12" stroke-width="3" stroke-linejoin="round"/>
<path d="M729 501h0m2-4h0m1-3h0m-1-3h0m3-1h0m1-4h0m1-1h0m-2-3h0m5-4h0m1-2h0m1 0h0m4-2h0m0-4h0m4-1h0m0-2h0m1-3h0m1-7h0m2-3h0m1-4h0m2-1h0m-1-5h0m1-2h0m-1-2h0m-1-5h0m1-2h0m4-6h0m-1-2h0m3 0h0m2-1h0m2-5h0m5-1h0m0 0h0m4-1h0m5 1h0m3-1h0m3 0h0m3 1h0m4 1h0m1-1h0m4 0h0m0 2h0m6-2h0m3-3h0m2 1h0m5-1h0m0-2h0m5-3h0m1-2h0m4 0h0m3-2h0m4 1h0m3-3h0m4 0h0m3 1h0m0-2h0m6-2h0m2-1h0m0-1h0m4-1h0m5 1h0m4 0h0m1 1h0m5-2h0m4 1h0m1-1h0m3 2h0m3 0h0m2-4h0m5 0h0m3 0h0m5 2h0m2 1h0m5-2h0m2-2h0m0 1h0m7-1h0m2 0h0m2 4h0m4 0h0m1-2h0m4 2h0m3 1h0m4 0h0m4 0h0m4 3h0m2 1h0m3 5h0m0 2h0m-2 0h0m-2 5h0m0 4h0m-2 1h0m-4 1h0m-1 4h0m-4 4h0m-2-1h0m-3 3h0m0 5h0m-4 1h0m0 3h0m-1 3h0m-1 1h0m2 4h0m2 4h0m0 3h0m-2 4h0m1 3h0m2 3h0m0 5h0m0 2h0m3 4h0m-2 1h0m1 4h0m1 4h0m3 2h0m2 6h0m0 0h0m1 4h0m4 4h0m-1 1h0m-1 3h0m5 5h0m-2 3h0m0 3h0m2 1h0m3 5h0m-1 1h0m2 4h0m0 2h0m2 3h0m-2 4h0m-1 2h0m2 7h0m-2 0h0m1 3h0m-1 5h0m0 2h0m-2 4h0m3 5h0m-5 1h0m0 2h0m-1 5h0m-1 2h0m-2 5h0m-3 0h0m-2 3h0m-2 5h0m-2 3h0m-5 2h0m1 0h0m-4 3h0m-2 4h0m-3 2h0m-3 2h0m-3 3h0m-2-2h0m-4 5h0m1 1h0m-6 2h0m0-2h0m-4 4h0m-5-2h0m-1 5h0m0-1h0m-3 3h0m-3 1h0m-1 3h0m-3 2h0m-5 2h0m-1 1h0m-2 3h0m1 2h0m0 4h0m2 2h0m2 2h0m0 3h0m2 5h0m-1 3h0m-3 5h0m1 2h0m-5 1h0m-1-1h0m-3-4h0m-3-4h0m-1-3h0m-2 0h0m-1-5h0m-4 0h0m0-3h0m-2-2h0m-4-4h0m-3-1h0m0 1h0m-5 1h0m-2-3h0m-5-2h0m-1 2h0m-4-2h0m-4 1h0m-2 2h0m-2-1h0m-5-1h0m-3 0h0m-4-6h0m-2 1h0m1-5h0m0-1h0m-2-6h0m0-3h0m-3-1h0m0-4h0m-1-4h0m-3-2h0m0-5h0m-2 1h0m-1-4h0m-1-4h0m-4-1h0m0-4h0m-3-1h0m1-5h0m-3-2h0m-3-4h0m-2 0h0m-1-4h0m-4-3h0m0-3h0m0-2h0m-2-3h0m0-4h0m1-5h0m2-5h0m3-1h0m-1-3h0m2-3h0m-3-5h0m-1-2h0m1-2h0m-2-5h0m0-4h0m-3 0h0m-3 1h0m-4-1h0m-3-1h0m-3 1h0m-2 0h0m-2-3h0m-2-1h0m-1-3h0m-6 1h0m-3 1h0m-4 0h0m-1-4h0m-1-2h0m-3-5h0" stroke="#D88A12" stroke-width="4.6" stroke-linecap="round" fill="none"/>
<path d="M752.6 417.3 771.0 412.7 804.0 418.1 826.4 409.7 852.7 404.5 877.8 409.5 890.6 430.0 904.2 451.8 917.2 475.2 915.0 488.2 901.6 492.7 880.7 487.5 853.4 482.0 826.4 476.6 813.6 471.5 798.6 459.5 785.9 465.8 771.2 470.8 762.8 466.6 757.8 451.6 752.6 435.8Z" fill="#A9A224" opacity="0.55"/>
<path d="M756 416h0m-4 2h0m5-3h0m1 3h0m3-4h0m7-1h0m-2-2h0m4 4h0m1-3h0m0 3h0m4 1h0m2 0h0m-1-4h0m10 4h0m0-1h0m0-2h0m0 4h0m6-3h0m2-1h0m2 1h0m1 2h0m3-2h0m2 5h0m-1-2h0m7 1h0m1 1h0m2-6h0m1 4h0m4-1h0m0-3h0m7 2h0m0-7h0m2-1h0m5 7h0m0-7h0m4-1h0m2 3h0m-5 2h0m6-1h0m4-3h0m4-3h0m2 1h0m-5-1h0m3-2h0m7 0h0m-2 1h0m3 5h0m8 0h0m2-3h0m1 0h0m4 4h0m0-4h0m-3 6h0m6-2h0m5-3h0m1 3h0m3 0h0m-3 6h0m1 0h0m6-2h0m0 3h0m-3 1h0m7 3h0m-2 3h0m-3 3h0m7 3h0m-2-3h0m1 6h0m4-1h0m0 0h0m5 5h0m-2 4h0m-2 2h0m3 2h0m-1-2h0m6 4h0m-1 2h0m0 1h0m-1 5h0m3 2h0m4 0h0m1-1h0m3 3h0m2 6h0m-1 2h0m-1 1h0m6-2h0m-6 4h0m4-1h0m-1 8h0m2-4h0m-2 6h0m0 1h0m2 2h0m0 6h0m-4 3h0m1-5h0m2 5h0m-4-3h0m0 2h0m-3 0h0m-4 4h0m-3 0h0m-5 0h0m3-4h0m-4 4h0m-6 0h0m4-7h0m-7 0h0m-3-1h0m0 1h0m-4 1h0m-2 2h0m1-6h0m-6-1h0m-2 1h0m1 4h0m0-5h0m-10 4h0m1 1h0m-3-5h0m-4 5h0m1-5h0m-3 2h0m1-3h0m-8-1h0m4 0h0m-4 1h0m-4-1h0m-4 0h0m3-4h0m-7 5h0m3-7h0m-5 5h0m-1-2h0m-8-2h0m3 3h0m-6-2h0m1-1h0m-7-2h0m0 0h0m-2-4h0m1-1h0m-1-1h0m-4 2h0m-5-2h0m-2 0h0m-2-3h0m0-6h0m-1 2h0m-2-2h0m-1 2h0m1 2h0m-6 0h0m2 1h0m-5 5h0m-4 1h0m-3-5h0m-4 4h0m4-2h0m-5 5h0m-4-4h0m0 3h0m2 3h0m-8-4h0m-1-5h0m-2 6h0m-1-5h0m2-6h0m1-2h0m-6 3h0m-3-5h0m1-1h0m-2-5h0m1-3h0m-2-1h0m3-3h0m1 0h0m-5-4h0m4-4h0m-1-1h0m1 0h0m-3 1h0m-4-9h0m5 2h0m0-5h0m-1-3h0m-1-1h0" stroke="#A9A224" stroke-width="4.6" stroke-linecap="round" fill="none"/>
<path d="M605.6 632.4 613.0 626.1 626.4 622.7 641.5 620.2 644.6 607.2 653.5 595.5 653.5 580.4 656.2 566.9 662.8 555.1 671.5 547.6 682.7 546.3 692.3 539.7 701.0 529.7 701.1 529.1 700.8 539.9 699.4 559.6 697.3 575.4 713.6 573.6 725.9 580.4 739.8 583.2 748.4 590.6 752.3 602.3 755.3 617.1 766.0 632.4 777.5 642.4 789.8 657.4 795.2 673.7 797.3 686.8 792.8 697.9 769.9 702.9 749.0 710.8 733.3 705.5 715.0 705.5 703.1 717.4 691.0 726.5 691.0 746.6 686.2 761.4 671.8 770.9 652.1 768.4 637.8 758.9 635.3 736.4 637.8 721.7 649.3 710.1 646.0 694.0 632.2 674.6 623.7 652.1 610.1 643.9Z" fill="#E88038" stroke="#E88038" stroke-width="3" stroke-linejoin="round"/>
<path d="M606 632h0m1-1h0m2-2h0m4-4h0m2 0h0m5 0h0m3-2h0m5-1h0m3 2h0m3-1h0m0-1h0m5-3h0m4 2h0m0-4h0m-2-2h0m2-5h0m2-4h0m2-1h0m0-3h0m3-4h0m4-2h0m-2-5h0m3-2h0m-2-3h0m1-2h0m0-4h0m0-3h0m0-2h0m3-4h0m1-4h0m1-4h0m1-1h0m3-3h0m1-5h0m3-1h0m1-3h0m5-1h0m4-1h0m1-3h0m5 0h0m2-2h0m3 0h0m3-2h0m3-2h0m2-5h0m2-4h0m3-1h0m-2 2h0m2 0h0m2 4h0m-3 3h0m-1 6h0m2 2h0m-2 3h0m3 4h0m0 5h0m-4 3h0m-1 3h0m3 3h0m-2 3h0m-2 2h0m0 3h0m3 1h0m5 0h0m4-1h0m4 0h0m2-2h0m4 2h0m0 1h0m6 4h0m2 1h0m5 1h0m2 0h0m4 0h0m1 2h0m6 1h0m2 5h0m1-1h0m2 4h0m3 5h0m-1 3h0m2 0h0m2 3h0m-3 4h0m0 3h0m2 5h0m1 3h0m3 1h0m0 1h0m3 3h0m2 3h0m0 3h0m5 1h0m0 1h0m1 3h0m4 5h0m3 2h0m3 1h0m1 0h0m1 3h0m3 2h0m2 4h0m2 3h0m0 3h0m4 3h0m-2 3h0m5 5h0m0 0h0m2 5h0m-2 5h0m3 3h0m-2 2h0m1 2h0m0 5h0m-3 3h0m1 4h0m-4 1h0m-3-2h0m-5 3h0m-2 3h0m-4-2h0m-3 1h0m-3 3h0m-6-2h0m0 0h0m-3 1h0m-3 5h0m-5-1h0m-3 2h0m-2 1h0m-4-1h0m0 0h0m-4-3h0m-5-1h0m-3 1h0m-4-1h0m-1 1h0m-6-2h0m-1 2h0m-4 0h0m-2-1h0m-1 0h0m-4 3h0m-4 3h0m0 3h0m-4 4h0m-1-1h0m-1 4h0m-5 3h0m0-1h0m-6 4h0m3 0h0m0 6h0m0 4h0m1 1h0m-1 6h0m-2 2h0m1 4h0m-2 1h0m-2 4h0m-1 4h0m2 0h0m-4 4h0m-5 2h0m0 0h0m-6 2h0m0 3h0m-3-2h0m-6 0h0m0-1h0m-7 2h0m-3 0h0m-4-3h0m0 1h0m-4-4h0m-4-2h0m-2 0h0m-1-2h0m-1-4h0m-2-4h0m0-4h0m1-3h0m-2-3h0m2-2h0m-2-4h0m3-2h0m-2-5h0m3-5h0m-2-4h0m3 0h0m1-3h0m6-2h0m0-1h0m4-4h0m-4-3h0m2-2h0m-1-5h0m-1-4h0m-1-2h0m0-1h0m-2-5h0m-2-4h0m-2-1h0m-2-3h0m-2-4h0m-2 0h0m-3-3h0m-2-3h0m0-4h0m-2-1h0m1-6h0m0-2h0m-4-2h0m0-1h0m-1-3h0m-5-4h0m-4 0h0m-1-2h0m-1-1h0m-4-3h0m-1-1h0m0-5h0" stroke="#E88038" stroke-width="4.6" stroke-linecap="round" fill="none"/>
<path d="M881.2 373.8 900.4 356.4 922.8 370.8 946.5 393.5 946.5 404.5 900.2 404.5 876.1 401.9Z" fill="#A9A224" opacity="0.8"/>
<path d="M881 372h0m0 0h0m3 2h0m3-7h0m-2-2h0m4 3h0m6-6h0m1 0h0m-1-1h0m-2-5h0m7 3h0m-1 1h0m6-4h0m-4 3h0m6-1h0m-3 3h0m2 3h0m7-2h0m0 1h0m0 0h0m7 4h0m1 0h0m2 3h0m1 0h0m1 0h0m5 5h0m-2 2h0m-2-1h0m3 6h0m0-2h0m9 4h0m0-2h0m-2 5h0m2 2h0m2 2h0m4 2h0m5-2h0m1-1h0m0 2h0m-3 5h0m2 2h0m-5 6h0m3 2h0m-3-6h0m0 1h0m-4-1h0m-4 5h0m2 0h0m-5 0h0m-1-4h0m-3 3h0m-1-3h0m-5 1h0m-4 0h0m3 2h0m-7 1h0m-2 1h0m-2-6h0m-2 4h0m-2 3h0m3-5h0m-3 3h0m-4-3h0m1 5h0m-10-5h0m0-1h0m-1 5h0m-5-1h0m0-7h0m2 2h0m-7-1h0m-1 0h0m-4 0h0m1 2h0m-4 0h0m4-1h0m-3 0h0m4-6h0m-2-4h0m-3 2h0m5-8h0m3 4h0m-7-4h0m2-4h0m5-4h0m-2 0h0" stroke="#A9A224" stroke-width="4.6" stroke-linecap="round" fill="none"/>
<path d="M820.6 385.4 868.2 383.6 875.8 395.1 870.0 404.5 840.4 404.5 816.4 399.4Z" fill="#3A9CD8" opacity="0.85"/>
<path d="M818 386h0m4 3h0m1-2h0m1-4h0m3-1h0m5 0h0m5 0h0m0 6h0m-1-6h0m7 2h0m4-1h0m-2 5h0m2 0h0m6-6h0m0 6h0m-1-1h0m7-1h0m1-5h0m5 0h0m1 5h0m-2-1h0m3 1h0m-1 3h0m4 1h0m2 2h0m0 0h0m-1 1h0m1 5h0m4-2h0m1 6h0m-1-5h0m-3 7h0m-2-3h0m0 3h0m-5 3h0m-5-6h0m3 2h0m-9-1h0m5 4h0m-8-4h0m3 4h0m-5-4h0m-3 6h0m-6-4h0m-2 4h0m-2 0h0m4-2h0m-9-1h0m2-2h0m-5 0h0m3-4h0m-2 2h0m-7-2h0m0 3h0m-2 1h0m-2-3h0m1-3h0m-7-1h0m3-4h0m2-3h0m5 1h0m0-1h0" stroke="#3A9CD8" stroke-width="4.6" stroke-linecap="round" fill="none"/>
<path d="M759.6 400.7 775.2 396.6 794.6 399.2 799.1 409.8 792.8 421.8 772.8 424.4 760.4 416.1Z" fill="#3BA845" opacity="0.8"/>
<path d="M761 403h0m-1-1h0m2-2h0m5 1h0m-1-4h0m7 3h0m4-6h0m-4-1h0m6 6h0m2 0h0m2-1h0m5 1h0m1 0h0m1 2h0m3-5h0m1 3h0m1 3h0m0 1h0m2 2h0m5-1h0m-7 8h0m2-1h0m1 2h0m-4-1h0m4 9h0m-6-2h0m-1-1h0m3 7h0m-8-5h0m2 5h0m-4-3h0m-4 4h0m2 0h0m-8-1h0m5 1h0m-6-4h0m-6 3h0m-2-1h0m3-4h0m0 2h0m-5-8h0m-2 1h0m-3 2h0m4-8h0m-4-1h0m3-2h0m-2 2h0m-2-3h0" stroke="#3BA845" stroke-width="4.6" stroke-linecap="round" fill="none"/>
<path d="M717.4 418.5 715.2 426.5 707.1 430.5 706.4 434.5 707.7 445.0 700.2 448.0 694.1 451.5 691.7 456.2 690.7 464.1 689.7 469.3 689.0 469.1 685.4 470.6 688.4 461.5 695.6 455.4 704.3 450.2 708.9 459.4 709.6 460.1 711.0 459.3 711.7 453.9 706.5 445.6 707.8 436.4 712.3 428.5 716.2 421.6 718.7 412.6 720.7 414.6Z" fill="#EF716C" stroke="#EF716C" stroke-width="3" stroke-linejoin="round"/>
<path d="M717 420h0m1 2h0m-2 3h0m-4 3h0m-2 1h0m-5 0h0m2 4h0m-1 5h0m3 4h0m-2 3h0m-4 3h0m-4-1h0m-2 4h0m-4-1h0m-3 5h0m1 5h0m1 4h0m-2 5h0m0 2h0m-5 1h0m0-3h0m3-4h0m0-4h0m1 0h0m4-3h0m2-2h0m2-4h0m4 1h0m3-5h0m3 5h0m-1 2h0m2 6h0m2-2h0m0-1h0m1-5h0m0-1h0m-2-2h0m-2-6h0m-2-3h0m1-1h0m3-3h0m0-4h0m4-1h0m-1-5h0m4-3h0m2-4h0m0-2h0m1-3h0m-2-4h0m5 6h0" stroke="#EF716C" stroke-width="4.6" stroke-linecap="round" fill="none"/>
<path d="M504.1 314.5 517.7 316.6 531.3 317.9 543.6 322.7 553.2 326.8 558.6 330.9 554.5 341.8 546.3 352.7 554.5 360.9 565.4 366.3 575.0 370.4 585.9 363.6 596.8 356.1" fill="none" stroke="#E3609E" stroke-width="7" stroke-linecap="round" stroke-linejoin="round"/>
<path d="M598.2 330.9 606.3 328.2 617.2 326.8 626.8 325.4 633.6 330.9 647.2 332.3 652.7 333.6" fill="none" stroke="#E3609E" stroke-width="8" stroke-linecap="round" stroke-linejoin="round"/>
<path d="M262 431.7h0m-86.3-75.8h0m-57 62.9h0m73.2-78.8h0m20.6 137.8h0m-45-141.9h0m91.2 91.2h0m-28.4-88.4h0m-80.4 11.5h0m81.2 43.4h0m9.5 46.4h0m81.4-47.9h0m-179.5 24.8h0m36.2 46.1h0m94.3-137.5h0m-0.6 127h0m-66.5-118.3h0m59.9 30.3h0m-125.5-28.6h0m64.2-7h0m-4.2 78.6h0m40-27.3h0m-53.2 98.1h0m127.8-2.4h0m-23.7-71.3h0m5.3 6.8h0m-160.1-58.7h0m48.9 28.2h0m51.6-56.8h0m40.1 128.6h0m21.6 15.9h0m-114.5-136.3h0m106.2 101.5h0m-93.2-64.8h0m21.3 86.8h0m-28.9-90.9h0m41.5 78.6h0m43-63.3h0m40.2 66h0m-73.2-73.7h0m-67.3 96.8h0m-45.2-127.8h0m173.4 61.9h0m-61.2 1.9h0m-34.3 3.3h0m-73.5-77.5h0m136.1 93h0m32.1 9.6h0m-65.8 14.4h0m-89.7-45h0m178 40.7h0m-120.2-49.7h0m91.9 37.3h0m-114.3 9.5h0m43.6 12.3h0m-29.3 15.5h0m76.6-79.8h0m-29.1 65.6h0m-8 28.7h0m44.2-87.2h0m-90 41.6h0m116.1-63.1h0m-186-46.3h0m7.4 82.8h0m58.7-57.2h0m30.1-33.9h0m110.2 140.7h0m-83.7-72.9h0m-59.8 29.3h0m154.8 23h0" stroke="#22AFC2" stroke-width="4.6" stroke-linecap="round" fill="none"/>
<path d="M137.9 369.4h0m0.6 14.3h0m205.5 76.2h0m-170.3-144h0m60.8 45.2h0m34.8 48.2h0m-18.2-48.4h0m32.8 72.1h0m-4.9-40.4h0m-59.8-34.2h0m-101.3 33.3h0m137.7-51.8h0m58.2 128.3h0m-1.5-11.7h0m-87.3-118.6h0m-51.9 104.1h0m18.7-25.9h0m-2.7 57.6h0m-2.1-111.8h0m62.2 96.4h0m-125.8-52.4h0m112.7 76.7h0m6.2-110.4h0m4 106.1h0m88.3-10.5h0m-164.9-10.4h0m26.4-44.3h0m-31.2 23.5h0m99.3-113.6h0m10.6 46.9h0m-132.2-50.1h0m75.4 132.8h0m17.6-96.3h0m-3.4 130.8h0m50.6-57.7h0" stroke="#E3609E" stroke-width="4.6" stroke-linecap="round" fill="none"/>
<path d="M309.8 381.1h0m-67.9 81.5h0m-86 1.9h0m-41.7-59.6h0m131.5-72.4h0m83 54.3h0m-176.2-5.2h0m97.1 3.3h0m29.2-55.1h0m-109.4 125.2h0m144.8 13.7h0m-25.6-52.4h0m-77.2-67h0m37.4 137.7h0m-90.5-167.7h0m116 6h0m-112.7 61.4h0m22.2 6.7h0m-36.7-13.5h0m128.6-14.5h0m-143.1 56.2h0m83.9 53.8h0m-83.1-31.8h0m135-69.6h0m-129.4 44.7h0m150.5-25.8h0m-68.3 39.5h0m32.7-48.6h0m-101.1 7.5h0m86.9 80.1h0m-52.9-124.7h0m72.2 95.5h0m-91.5-8.9h0m165.2-47h0m-68.5 79.6h0" stroke="#3DAA6E" stroke-width="4.6" stroke-linecap="round" fill="none"/>
<path d="M156.9 369.4h0m24.6 24.2h0m104.8 28.6h0m44.2 7.2h0m-213.5-44.1h0m-2.2 17.5h0m144.7-59.9h0m53.4 39.1h0m-56.4 23.8h0m-85.3 44h0m13.8 19h0m42.9-156.6h0m-48.1 106.1h0m114.7-40.6h0m-60.9 5.7h0m94.3 92h0m-43.8-40.3h0m-142-123.2h0m164.8 118.1h0m-47.9-66.7h0m-23.5-54.2h0m-45.8 60.9h0m134.4 86.3h0m-189.1-16.5h0m166.7 11.8h0" stroke="#C0649F" stroke-width="4.6" stroke-linecap="round" fill="none"/>
<path d="M309.6 459h0m-77.9-110.1h0m60.9 104.9h0m-45.4 34.4h0m46.2-11.1h0m-5.7-129.8h0m-101.8 21.4h0m26.3-39.6h0" stroke="#15AEE6" stroke-width="4.6" stroke-linecap="round" fill="none"/>
<path d="M297.3 365.6h0m-21.5 0.9h0m4.8-6.6h0m-25.8 14.5h0m21.1 5.1h0m-28.7-1.4h0m31.2-9.7h0m-24-0.3h0m-24.1-16.7h0m17.1 1h0m-19.2 21h0m49.7-3.5h0m-38.2 3.7h0m45.1-3.6h0m-43.5-2h0m12.1-10.5h0m-17.9 21.2h0m35.2 2.4h0m-33.5-23.7h0m24.6-7.3h0m-15.1 17.1h0m13.1 13.1h0m6.9-9.7h0m0.6 5.3h0m-15.9-27.9h0m44.7 28.1h0m-62.2-24.1h0m7 19.4h0m-6.7-22.7h0m26.5-0.5h0m-17.2 13.4h0m-3.9-13.5h0m4 8.6h0m4.7 6h0m2.6-3.2h0" stroke="#E3609E" stroke-width="4.6" stroke-linecap="round" fill="none"/>
<path d="M226.1 377.7h0m52.3-12.2h0m-53.5-9.2h0m65.4 7.9h0m-50.7 12.9h0m50-24.8h0m-28.4 15.6h0m-28-8.6h0m36.5 12.6h0m0.8-1.9h0m-18.3-19.6h0m-26.3 27.3h0m61.8 2.4h0m-57.5-4.8h0m7-15h0m2.1 18.2h0m45-0.9h0m-31.8 3.6h0m-8.9-12.8h0m30.1-12.1h0" stroke="#C0649F" stroke-width="4.6" stroke-linecap="round" fill="none"/>
<path d="M336.9 389h0m7.4 7.6h0m-11.9 8.4h0m9.1 32.3h0m-2.1 19.5h0m4.1-57.9h0m-3.9-3.7h0m-5.2-2h0m-3 18.3h0m14.6 27.6h0m-14.4-39.4h0m9 28h0" stroke="#E3609E" stroke-width="4.6" stroke-linecap="round" fill="none"/>
<path d="M330.5 388.5h0m9.7 45.6h0m-8.8 15.5h0m2.9-16.6h0m5.2-22.4h0m-1.9 18h0m7.5 40.3h0m-1.2-40.4h0m-1 8.9h0m4.4 30h0" stroke="#C0649F" stroke-width="4.6" stroke-linecap="round" fill="none"/>
<path d="M873 131.8h0m-52.4 76.3h0m-92.3 117.1h0m-2.8-24.6h0m73.4-96.8h0m59.5 102h0m25.5-157.8h0m-35.7 79.3h0m74.2-16.6h0m-128.7 29.3h0m3.8-158.1h0m-85.5 127.8h0m48.3 19.2h0m49.8-38.2h0m-68.1-12.6h0m10.4 133.8h0m47.6 18.3h0m-78.6-146.2h0m52.9 5.6h0m155 18.4h0m-88.6 53.3h0m51-89.1h0m-80.4 84.8h0m-128.1 55.7h0m84.1-34.9h0m-1.4-125.8h0m-26.7 72.4h0m-16.6 105.7h0m-37-130.6h0m193.7 102.2h0m2.8-203.9h0m26.5 82.1h0m-20.8 39.3h0m21.2 2.1h0m-108.1-146.6h0m21.2 278.5h0m-115.8-131.1h0m87-127.5h0m69.7 137.3h0m-31.2 120.5h0m94.3-91.2h0m-223.6-28.2h0m121.9-17.8h0m-30.8-109.3h0m67.9 135.8h0" stroke="#33AE8E" stroke-width="4.6" stroke-linecap="round" fill="none"/>
<path d="M749.6 343h0m21.8-131.3h0m-36.2 100.6h0m173.1-100.3h0m-214.6 1.9h0m113 112.7h0m25.5-236.4h0m38.2 112.5h0m34.8-67.1h0m-219.4 55.1h0m120.4 51.6h0m-114.4 13.9h0m95.3-86.4h0m105.2 124.6h0m-53.1 94.8h0" stroke="#E3609E" stroke-width="4.6" stroke-linecap="round" fill="none"/>
<path d="M699 328.8h0m174.6-109.3h0m-173.1 47.2h0m135.3 84.6h0m-98.5 3.1h0m-41.8-25.3h0m214.9-78.9h0m-78.9-190.5h0m-0.5 208.1h0m45-33.1h0m-32.3-149.8h0m39.3 159.9h0m-59-105.4h0m-4.2 211.1h0m-53.9-144.1h0" stroke="#22AFC2" stroke-width="4.6" stroke-linecap="round" fill="none"/>
<path d="M839.8 119.7h0m-15.5 48h0m-29.7 134h0m-124.1-70.2h0m80.5 31.3h0m138.6-45.2h0m-52.2-61.1h0m-102.3 75.8h0m75.7-98.2h0m63.6 94.6h0m-112.1-84.2h0m-77.8 129.4h0" stroke="#A9A224" stroke-width="4.6" stroke-linecap="round" fill="none"/>
<path d="M850.9 173h0m-65.1 118.5h0m-77-108.9h0m171.6 108.1h0m-55.2-197.7h0m-151.6 183.8h0m148.2 97.3h0m-28.5-139.2h0m-51.3-18.3h0m179.4 8h0" stroke="#D88A12" stroke-width="4.6" stroke-linecap="round" fill="none"/>
<path d="M719.1 271.1h0m85.3-50.6h0m52.4 41.5h0m-13.2-33h0m-168.8-16.7h0m218.9 51.4h0m18.9-19.5h0m-202.6 55.4h0m131.6 34.4h0m-152.6-117.7h0m197.8-41.7h0m-204.4 73.8h0m140.2-128.5h0m-66.7-11.1h0m36-35.3h0m52.8 205.5h0m-45-193.5h0m58 31.5h0m76.6 125.3h0m-22.4-16h0m-157.5 58.1h0m104.9-69.2h0m-118.9-13.6h0m120.2-65.7h0m-152.4 87.5h0m136.9-142.9h0m-107 241.4h0m60 33.4h0m59.4-85.1h0m-60.5 15h0m10.8-164.9h0m47.6-18.5h0m-105.6 247.4h0m70.7-116.5h0m38.8-6.4h0m-89.2 20.4h0m143.4 34.8h0m-171 51.7h0m100.7-68.4h0m24.7-115.6h0m25.4 94.2h0m-21.1 101.7h0m-137.5-146.8h0m29.3-114.2h0m140.7 208.3h0m-105.6-48h0m-36.2 48.2h0m48.4-64.7h0m37.1-53.5h0m-42.6-81h0m-42.5-10.2h0m110.4 99h0m-102.2 21.1h0m60 34.8h0m46.6 41.3h0m-33.8-196.3h0m-79.7 136.4h0m74.2-140.7h0m-20.2 231.8h0m-110.5 7.2h0m153.1-72.7h0m29.4 88.6h0m-53.4-47h0m-123.4-113.2h0m40.3 178.2h0m124.8-194.5h0m-115.7 33.4h0m135.8 49.5h0m-61.4-31.8h0m-96.7 29.3h0" stroke="#AE70B0" stroke-width="4.6" stroke-linecap="round" fill="none"/>
<path d="M796 106h0m-91 125.1h0m178.6-25.5h0m-206.2 74.5h0m103 36.2h0m3.7-115.4h0m-9 35.1h0m40-58h0m35.1 4.4h0m68.6-22h0m-135.3 6h0m27.5-12.5h0m37.3 44.7h0m10.5-41.1h0m-68.8 90.9h0m71.7 32.6h0m-79.3-193.9h0m63.8 87.3h0m-141.7 116.8h0m118.8-147.5h0m63.5 145.3h0m-104.5-23.2h0m62.4-57.2h0m-154.6-26.1h0m233.8 3h0m-84-97.5h0m36.9 265.5h0m-109.7-168.5h0m38.3-40.9h0m47.6 88h0m51.2 36.4h0m-69.6-61.4h0m-53.3-99.5h0m33.7 44.2h0m7.3 205.8h0m-76.8-102.5h0m-4.7 87h0m-18.6-62.7h0m94.7-110.2h0m-130 55.1h0m121.2 113.4h0m-59.5-5.3h0m-20.1-57.7h0m130.4-46.9h0m-163.1-8.2h0m226.6-28h0m-104.9 10h0m-14.2-129.1h0m103.4 183.6h0m-146.7-101.1h0m135.2 32.2h0m-65.1 59.6h0m36.2-133.4h0m-46.7-49.8h0m24.3 203.9h0m-36-205.3h0m119.3 162.8h0m-33.6-4.4h0m-169.3-23.9h0m-38.7 59.8h0m39.4 41.4h0m-12.5-4.1h0m121.5 7.5h0m17.9-107.6h0m22.1 69.4h0m-116.4 76h0m93.2 6.1h0m33.7-131.9h0m-111.3 116.7h0m71-87.6h0" stroke="#6A8DCB" stroke-width="4.6" stroke-linecap="round" fill="none"/>
<path d="M871.3 289.6h0m-94-27.8h0m26.6-19.4h0m-12.4-43.7h0m62.4-102.8h0m0.6 279.7h0m18.8-132h0m-111.6-152.5h0m-71.4 151.2h0m24.9 71.9h0m170.7-92.2h0m14-100.4h0m-143.1 112.1h0m107.1-22.4h0m-116.2 143.2h0m24.6-153.2h0m-46.1 21.7h0m132.1-41.5h0m-12.1 45.1h0m-102.4 17.9h0m62.8-172.4h0m-67.3 160.5h0m173.3-22.7h0m-183.8 52.4h0m-32.9-26.6h0m146.4-147.6h0m-27.2 75.5h0m53.7 104.9h0m45.1-2.9h0m-56.3 69.5h0m-175.5-134.7h0m60.3 17.3h0m161.4 31.6h0m-35.1 70.2h0m-127.7-50h0m26.7-49.5h0m42.5 66h0m63.4-173.1h0m-174.7 67.2h0m-10.8 38.9h0m71.6 91.5h0m136.2-194.2h0m-76.3 121.8h0m13.5-69.3h0m42 85.1h0m21.8-22.4h0m-58.9-92.2h0m17.5 57.4h0m7 61h0m-24.6-13.3h0m22.7-74.1h0m-65.1 50.6h0m74.6-138.2h0m-65.5 63.9h0m21.7-0.1h0m83.6 35.7h0m-4 127.2h0m-167.3-62.1h0m99.1-151.1h0m-30.7 131h0m41.6-70.5h0m65.4 114.1h0m-6.9-108.9h0m-47.4 190.2h0m34.4-209.4h0m-9.6 150h0m42.9-38.8h0m-61.3 33.3h0m-91.6-58.8h0m29.5-96.8h0" stroke="#3A9CD8" stroke-width="4.6" stroke-linecap="round" fill="none"/>
<path d="M736.5 346.8h0m160.1-50.4h0m-43.1-64.1h0m-31.6 53.5h0m-29-201.6h0m-58.1 255.6h0m148.6 15.1h0m-116.7-143h0m158.5 32.2h0m-73.8-148.6h0m-0.7 27.8h0m8.8 43.3h0m-50.3-82.9h0m83.7 243.5h0m-68.9-33.1h0m-66-192.7h0m-4 209.6h0m65.1-207.2h0m-88.2 116.5h0m57.2-116.8h0m82 226.2h0m-118.8-86.5h0m-1.5-41.2h0m1.6 78.8h0m155.1 12.8h0m-43.7-62.6h0m-34.1 95.7h0m48.9-38.6h0m-195.5-66.6h0m56.5 44.3h0m35-52.1h0m38.6 45.4h0m96.5-104.8h0m-106.2-91.4h0m-68.1 156.7h0m117.2-109h0m33.6 235.8h0m-42-186.1h0m-152.4 118.6h0m14.2 6.8h0m144-148.8h0m-53.6-6.6h0m108.1 143.3h0m-49.4-3.1h0m24.2-36.5h0m-51.7-7.8h0m45.2 14h0m-130.8-5.8h0m66.5 121.3h0m54.4-226.4h0m-57.8 128.1h0m19.5-42.2h0m-19.2 78.1h0m101.8-59.1h0m-26.6 56.3h0m-128.8-111.6h0m48.6-20.4h0m-32.8 138.8h0m70.6 88.6h0m47.8-218.7h0m-180.5 166.5h0m74.2-156.1h0m13.2 129.4h0m82.9-189.1h0m-154.9 56.3h0m-6.4 46.5h0m-12.4 60.5h0m76.4-139h0m75.2 27.8h0m18.7 188.3h0m-126-210.3h0m110.2-40.2h0m-40.5-32.4h0m-72.6 127.2h0m84.5-118.3h0m60.4 229.9h0m-211.6-67.8h0m205.3-90.9h0m-177.6 32.7h0m177.4 55.7h0m2.6-71h0m-20.6 58.4h0m11.1-105.5h0m23.9 172.6h0m-190.5 7.7h0m-31.8-88.7h0m59.8 102h0m126.3-27.6h0m-21.5 3.7h0m70.4-114.1h0" stroke="#A07DBA" stroke-width="4.6" stroke-linecap="round" fill="none"/>
<path d="M807.1 280.5h0m111.3-0.4h0m-112.3 40.8h0m-7-252h0m15.7 130.5h0m-58.1-6.8h0m-31.2-28.1h0m144 196.3h0m-79.6-13.7h0m-90.6-112.9h0m169.5 90.9h0m-97.8-209.9h0m72.8 60.9h0m-147.8 76.8h0m150.5 63.4h0m-25.6-0.9h0m3.1-53.2h0m34 44.1h0m-10.5-161.4h0m-49.3 175.7h0m42.1 48.5h0m-150.9-46.1h0m121.8-239.9h0m-31.5 203.3h0m24.8 43.5h0" stroke="#5AAF3A" stroke-width="4.6" stroke-linecap="round" fill="none"/>
<path d="M350 491.7h0m1.2 35.2h0m38.1 68.8h0m-14.8-38.1h0m-14.3-16.9h0m-21.2 19.4h0m41.3-39.2h0m8.1 75.8h0m-1.3-77.7h0m-11.5 21.8h0m-6.5 4.8h0m14.3 24.4h0m34.3-2.2h0m-48.3-3.2h0m-20.4-12.2h0m46.5 28.8h0m18.7-24.8h0m-78.3-16.1h0m58.7 21.2h0m-47.9-15.4h0m55.4-16.4h0m-28.6 3.5h0m-32.9-50.7h0m84.2 63h0m-18.4-14.8h0m-52.5 14.9h0m7.7 34.1h0m-30.2-24.7h0" stroke="#22AFC2" stroke-width="4.6" stroke-linecap="round" fill="none"/>
<path d="M364.6 527.1h0m22.8 72.4h0m-1.8-54h0m-36.9 29.1h0m32.4-3.5h0m48.9-17.8h0m-25.4-9.7h0m-71.3 7.5h0m18.9-50.2h0m45.9 91.3h0" stroke="#8C80C0" stroke-width="4.6" stroke-linecap="round" fill="none"/>
<path d="M854.7 525.5h0m-51.5 9.9h0m-2.6 87.9h0m33.9-94.4h0m78.7-104.1h0m-78.8 91.6h0m-19.1 11.6h0m25.3-89.5h0m80-34.2h0m-153 118.6h0m137.2-116.4h0m-72.2 45.7h0m-80.8 6.8h0m137.1 90.5h0m-135.2-78.9h0m139.5 50.9h0m-122.5-59.4h0m86.9 72h0m40 3.1h0m-102.7 37.8h0m141.9-168.7h0m-103.6 24.5h0m58.4 79.6h0m20.5 64.9h0m26.9-24.5h0m-34.9-65.9h0m29.1 88.2h0m3.5-14.8h0m-45.4-3.1h0m-0.6-39.4h0m-106.9-51.5h0m136.7 97h0m-28.7 54.2h0m-69.6-99.7h0m-1-25.6h0m-30 96.5h0m86.6 17.7h0m7.5-124.1h0m-63.6-12.8h0m-12.7 69.4h0m33.4-63.9h0m42.6 109.3h0m-71.8 44.3h0m28.3-171.8h0m81.1-43.2h0m-51.4 119.7h0m-26.3 90.6h0m23 27.4h0m25.5-150h0m-51.7 106.8h0m9.9-17.6h0m-50.6-30.5h0m88.1-61.2h0m-82 39.4h0m25.6 85.2h0m-47.8-150.7h0m27.4 99.9h0m24.7 21.3h0m-26.2-43.3h0m45-30.7h0m-55.8 52h0m-14.9-23.2h0m93.3-12.7h0m13.9 28.5h0m-59.6 37.2h0m81.9-144.3h0m-5.6 59h0m-82.8 14h0m-18.4-73h0m71.5 108.3h0m-89.1-13.3h0m-15.4-111h0m49.2 30.7h0m-74.4 7.1h0m4.9 33.3h0m51.3 80.6h0m12.8-23h0m-62.7-130.1h0m170.3 144.9h0m-31.2-171.8h0m-32.2-12.1h0m26.5 210.4h0m-26-116.9h0m-65.2 121.6h0m22-100.7h0m-26.1 77h0m121.7-88.5h0m-96.8 109.6h0m63.2 6.8h0m-38.7-119.8h0" stroke="#A9A224" stroke-width="4.6" stroke-linecap="round" fill="none"/>
<path d="M932.9 397h0m-127.9 209.4h0m70-30.2h0m-41.3-158.6h0m76.7 182.7h0m-79-54.3h0m72.9-18.5h0m-73.4-2.6h0m58.2 68.4h0m-89.7 11.1h0" stroke="#E3609E" stroke-width="4.6" stroke-linecap="round" fill="none"/>
<path d="M808.5 576.4h0m1.3-87.9h0m11.6 69.1h0m110.7-147.4h0m-8.3 138.6h0" stroke="#22AFC2" stroke-width="4.6" stroke-linecap="round" fill="none"/>
<path d="M885.3 598.1h0m-66.6-173.2h0m67.1 27.2h0m-49.6 80.9h0m-30.3-6.8h0m58.8 132.8h0m32.3-162.3h0m-38.9 49.6h0" stroke="#3A9CD8" stroke-width="4.6" stroke-linecap="round" fill="none"/>
<path d="M749 598.6h0m-12.4 17.3h0m20.9 31.2h0m22.6 7.9h0m-106.3-26.5h0m0.7-19.5h0m9.1 127.2h0m75.5-72.5h0m-29.6-65.4h0m-51.9 50.2h0m93.8 36h0m-80.8-0.5h0" stroke="#E3609E" stroke-width="4.6" stroke-linecap="round" fill="none"/>
<path d="M672.7 667.6h0m-34.5-8.4h0m28.1-70.2h0m82.7 24.7h0m0.5 97.8h0m20-49.8h0m-52.4 33.7h0m7.3-70h0m1.4 1.2h0m-62.4-40.5h0m-8.6 69.9h0m4.3-39.2h0m70-4.9h0m22.6 71.4h0m-33.8-31.9h0m14.4-3.5h0m-51.6 85.5h0m-19.3-108.4h0m8.7 6.9h0m11.5-56.2h0m-9.4 145.9h0m-33.3-78.6h0m19.2 25.4h0m40.3-98.3h0m32 123.3h0" stroke="#D88A12" stroke-width="4.6" stroke-linecap="round" fill="none"/>
<path d="M661.9 605.5h0m97.4 16.5h0m-66.7-48.5h0m-73 48.6h0m20.8 113.4h0" stroke="#22AFC2" stroke-width="4.6" stroke-linecap="round" fill="none"/>
<path d="M344.4 354.3h0m-23.4 18.2h0m51.1-57.3h0m-9.8 27.9h0m26.2-21.8h0" stroke="#8C80C0" stroke-width="4.6" stroke-linecap="round" fill="none"/>
<path d="M325.4 372.1h0m72.4-32.6h0m-31.4 23.7h0" stroke="#22AFC2" stroke-width="4.6" stroke-linecap="round" fill="none"/>
<path d="M466.5 50.8h0m21.5 0h0m-38.1-18.4h0" stroke="#22AFC2" stroke-width="4.6" stroke-linecap="round" fill="none"/>
<path d="M782.8 414.5h0m-6.1-17.8h0m26 16.7h0m-7.3 7.7h0m-7.5 7.3h0m-36.3-24.4h0m6.9 12.7h0m-1.8-19.4h0m25.9 11.8h0m-0.8-8.5h0m-27.9-8.2h0m3.8 14.4h0m1 2.7h0m-0.2 11.4h0m45.6-17.3h0m-50.7 13.7h0m43-7h0m8.6-14.1h0m-10.9 31.9h0m-18.2-16.6h0m26.4-5.5h0m-41.2-10.1h0m46.4 7.1h0m-15.3 5.2h0m-37.5-2.9h0m11.9 24.5h0m8.3 1.1h0m-9.6-38.9h0m40.3 1.2h0m-7.2 21.8h0m-32.2 10h0m17.5 4.6h0m23.9-23.8h0m-15.4 14.8h0m-2.3-29.6h0m2.1 31h0m-31.6-28h0m-8.1 18.9h0m2.5 12.7h0m40.2-17.6h0" stroke="#3A9CD8" stroke-width="4.6" stroke-linecap="round" fill="none"/>
<path d="M759.7 407.9h0m27.2 18.3h0m18.2-22.6h0m-13.1 13.6h0m7.4 6.9h0m-11.4 0.4h0m-32 5.2h0m34.7-35.7h0m-31.9 22.9h0m8.8 12.5h0m-1.7-19h0m14.3 19.1h0m-12.8-2h0m26.9-13.6h0m1.7-1h0m-45.2-13.6h0m38.8-4.4h0m-0.4 9.7h0m-16.4 20h0m29-3.2h0" stroke="#A9A224" stroke-width="4.6" stroke-linecap="round" fill="none"/>
<path d="M776.6 412.5h0m10.3-19.2h0m-31.4 24.4h0m5.1 3.9h0m31.3-24.7h0m-1.9 34.4h0m9.3-21.4h0m1.5 19.5h0" stroke="#A07DBA" stroke-width="4.6" stroke-linecap="round" fill="none"/>
<path d="M748.5 429.6h0m-12.3 34.1h0m-0.3-29.5h0m3.4-1.4h0m0.7-2.4h0m9.6 6.3h0m8-5.8h0m-11.6 29.5h0m-16.4-0.9h0m13.3-0.6h0m-13.9-7.7h0m24.8 7.8h0m-22.5-15.6h0m24.1-15.5h0m-15.2 25.3h0m-0.9-12.2h0m11.6-5.2h0m-16.8-6.6h0m0 24.5h0m16.5-0.9h0m-7-25.4h0m-16.5 34.6h0m32.7-14.6h0m-16.7 10.4h0m-16.6-14.3h0m9.5 22.1h0m15.7-2.4h0m-22.8-12.8h0m27.9-15.8h0m-21.5 24.3h0m24.5-32.5h0m-11.5 24h0m-6.2 20.8h0m-16.5-13.3h0m8.4 8.6h0m15.1-18.6h0m-21.3 19.2h0m20.8-11.1h0m-17.3 6.9h0m21.4-23.3h0m3.6 2.6h0m2 14.8h0m-6.6-11.6h0m-12.3 11.9h0m13.2-9.4h0m3.6-11h0m-14.4-3.9h0m-13.3 8h0m-4.7 15.3h0m21.8-9.5h0" stroke="#A9A224" stroke-width="4.6" stroke-linecap="round" fill="none"/>
<path d="M935.8 376.2h0m-44.6 14.6h0m-1.7-12.2h0m16.9 3.7h0m34.6 7.5h0m-38-14.7h0m18.5-5.6h0m-14.8 0h0m23.4 1.8h0m-0.1 20.8h0m-20-13.3h0m-9.9 13.5h0m8.1-22.3h0m-3.3 4.2h0m-8.3-3.6h0m35.7 3.6h0m-12.4-13.1h0m-12.8 15.8h0m-1.6-18.1h0m13.3 17.4h0m-10.1 3.8h0m-6 3.1h0m17.1 10.7h0m-28.6-27.3h0m37.2 27h0m-15.7-5.7h0m-25-7.1h0m15.3 2.6h0m-2.2-24.3h0m-2 25.7h0m31.1 9.1h0m-20.9-40.7h0m21.3 20.4h0m-34.4 12.4h0m16.3 6.4h0" stroke="#A9A224" stroke-width="4.6" stroke-linecap="round" fill="none"/>
<path d="M936.5 375.6h0m-28.4 0h0m-24.3 16.2h0m6.7-13.9h0m8.5-9.6h0m13.6-4.4h0m-20.6 18.1h0m3.6-18.5h0m9.9 10h0m14.7 6.5h0m-22.2-12.9h0m13.1 25.5h0m23.3-19.6h0m-49.6-5.8h0m22.6 13.5h0m-24.6 0.4h0m26.4 10h0m-10.8-15.7h0m5.8 1.1h0m3.2-10h0m5.3 1h0m5.3-4.6h0m-14.1 13.5h0m33.8 0.8h0m0.5 3.5h0m-4.8-5.4h0m0.7 7.3h0m4.7 0.8h0m-28.4-9.4h0m-27.2 18.7h0" stroke="#D88A12" stroke-width="4.6" stroke-linecap="round" fill="none"/>
<path d="M938.2 378.5h0m-25.6 10.1h0m-15.1-9.4h0m7.3-0.1h0m-2.3-6.4h0m22.7 8h0m-24.5-25.8h0m-0.4 5.3h0m-18.2 28.5h0m17.2-2.9h0m37.7 2.4h0m2.6-7.9h0m-17.3-9.9h0m-17.7 3.4h0m8.4-14.8h0m14.1 31h0m-18.7-3.2h0m-19.2-12.5h0m38.6 1.3h0m-5.7-0.4h0" stroke="#3A9CD8" stroke-width="4.6" stroke-linecap="round" fill="none"/>
<path d="M929 383.5h0m-18.3-11.1h0m-22 5.9h0m8.1-7.2h0m-2.8 13.7h0m37.6-1.9h0m-1.5-6.6h0m15.2 13h0m-19.4 0.4h0m-10.4-25.7h0" stroke="#6A8DCB" stroke-width="4.6" stroke-linecap="round" fill="none"/>
<path d="M673.3 260.1h0m-3.1-16.9h0m5 41.9h0m-12.1-38.3h0m6.7-10h0m5.9-13h0m-10 55h0m-1-9.9h0m0.8-30h0m3.9-15.5h0m7.1 66h0m-16-47.6h0m14.3 10.2h0m-1.1-27.2h0m-5.7-18.6h0m-0.1 65.2h0m-1.6-53.8h0m4.5 67.5h0m2.1-74.6h0m-4.3 11.3h0m7.6 17.9h0m-7.3 43.7h0m-3-40.8h0m4.9 19h0m-4.1-1.8h0m1.7 19.2h0m2.7-10h0m0.4-2.8h0" stroke="#33AE8E" stroke-width="4.6" stroke-linecap="round" fill="none"/>
<path d="M667.8 214h0m-0.5 16.9h0m3.2 14.7h0m3.6-39.3h0m-3.9 85.6h0m-3.3-50.7h0" stroke="#22AFC2" stroke-width="4.6" stroke-linecap="round" fill="none"/>
<path d="M768.9 579.3h0m-0.6-2.6h0m-13.5-10h0m-1.1 18.7h0m-3.7-42.4h0m-38.1-1.8h0m47.4 23.2h0m10.8 43.8h0m-9.7-66.3h0m-2.8 19.2h0m6.6 51.5h0m22.9 20.2h0m-65-89.9h0m25-13.4h0m-19.4 45.1h0m-9.9-9h0m61.7 55.7h0m-4.8 12.2h0m-49.3-116.4h0m26.4 42.7h0m5.3 6.5h0m-13-28.6h0m-7.2 8.2h0m5.5-15.3h0m-17.1 0.6h0m39.7 91h0m-23.6-53.2h0m-27.5-23.6h0m67.8 77.1h0m-49.5-79.5h0m20-4.4h0m-21.4-14.4h0m34.8 61.3h0m-36.8-42.1h0m-4.3 29.4h0m30.3-21.6h0m2 32h0m-47.1-57.2h0m31.1 3.9h0m11.1 60.2h0m-9.4-58.5h0m30.2 99.1h0m-30.9-47.7h0m-31.1-53h0m45.2 71.3h0m-33-85.1h0m28.2 41.2h0m-11.8 6h0m24.8 23.2h0m-36.6-36h0m36.7 8.7h0m-39.5 8.3h0m46.1 66.3h0m-46.8-71h0m46.7 24.5h0m-27.1-54.8h0m29.8 54.4h0m13.1 52.9h0m-43.5-80.2h0m39.3 60.9h0m-67.3-85.9h0m13.1 1.2h0m25.9 16.6h0m4 30.4h0m26.3 58.3h0m-64.2-100.6h0m23.8 42.9h0m5.7 7.4h0m17.8 10.9h0m-4.7-39.9h0" stroke="#D88A12" stroke-width="4.6" stroke-linecap="round" fill="none"/>
<path d="M688.5 562.9h0m-8.3-11.8h0m-13.8 8.2h0m4.6 7.8h0m30.7 7.1h0m-21.7-8.2h0m-0.1 26.9h0m-1.2-19.6h0m-8.8-21.3h0m3.3 25.2h0m-15.4 11.9h0m17.2-8.6h0m-1.1 11.1h0m12.8-43.7h0m-6.7 9.3h0m10.1 6.9h0m12.2-16.4h0m-37.5 52.8h0m-10.2-33.8h0m19.5 17.5h0m-8.4-3.9h0m31.9-33.8h0m-31.9 51.3h0m16.2-31.8h0m-18.8 14.1h0m-8.1-7.4h0m11.7-5.8h0m16.4 20.9h0m3.5-19.6h0m-17.4 12.5h0m6.2 19.7h0m3.6-22.3h0m7-6.7h0m-8.9 11.7h0m-9.5-11h0m34.1 20.8h0m-21.4-33.1h0m-19.2 7.2h0m12.6 1.1h0m-8.6 3.1h0m16.2-24.6h0m4.3 39.6h0m-23.6-30h0m-8.1 14.5h0m32.5-3.9h0m-4.4 12.5h0m-4.1 20.8h0m10.1-31.1h0m-3 20.7h0m-18.9-3.7h0m25.2-20h0m5.9-0.7h0m0.2 20.6h0m-41-27.3h0m15.7 12.7h0m7-14.1h0m-25.5 19.9h0m46 9.6h0m-3.8 10.1h0m-9.9-53.1h0" stroke="#D88A12" stroke-width="4.6" stroke-linecap="round" fill="none"/>
<path d="M711.8 492.4h0m7.3-32.9h0m17.6 7.4h0m-13.8 51.6h0m-22.8-21.9h0m6.2 24.8h0m10.5-35.7h0m-4.3-14.1h0m11.8 27.8h0m29.3-20.6h0m-43.7-6.4h0m28.4-17.6h0m-30.4 2.6h0m17.4 49.7h0m12.8-27.4h0m-11.7-28.2h0m-19.5 19.4h0m8.1 28.4h0m-8.1-37.9h0m-3.2 22.5h0m2.3-0.5h0m1.1 23.3h0m29.6-26.5h0m-6.7 7.3h0m-15.8-39.8h0" stroke="#D88A12" stroke-width="4.6" stroke-linecap="round" fill="none"/>
<path d="M741.9 509.5h0m-21.5-0.2h0m1.3 0.7h0m9.4-62h0m10.1 22.5h0m-24.8-5.9h0m30.3 33.1h0m-35.8 9h0m-7.9 5.5h0m29.3-3.3h0" stroke="#A9A224" stroke-width="4.6" stroke-linecap="round" fill="none"/>
<path d="M659.5 326.8h0m4.1 13.6h0m10.2-12.2h0m14.3 10.9h0m-113.8-9.6h0m12.9 41.6h0m-47-13.6h0m4.1-27.3h0m83.2-10.2h0m30.6 10.9h0m8.2 10.9h0m58.7 258.2h0" stroke="#E3609E" stroke-width="4.6" stroke-linecap="round" fill="none"/>
<path d="M675.2 309.8h0m0.7 27.2h0" stroke="#3A9CD8" stroke-width="4.6" stroke-linecap="round" fill="none"/>
<path d="M504.1 459.7h0m206.9 48.3h0m-3 11h0m-19 18h0m2-2h0" stroke="#33AE8E" stroke-width="4.6" stroke-linecap="round" fill="none"/>
<path d="M509.5 459.7h0m-5.4-141.1h0m-83 132.5h0" stroke="#8C80C0" stroke-width="4.6" stroke-linecap="round" fill="none"/>
<path d="M516.4 457.7h0m2.7 2h0m2.7 2.1h0m2.7 1.3h0m4.1 0.7h0m2.7-1.3h0m-179.8 4.2h0m8.3-1.1h0m4.2-2h0m10.4-1.1h0m4.1-4.1h0m6.3-1.1h0m5.2-2.1h0m6.2-2h0m6.2-2.1h0m7.3-2.1h0m-6.2 7.3h0m-8.3 4.1h0m-8.4 2.1h0m-6.2 2.1h0m-10.4 1h0m-14.5 4.2h0m-6.3-1h0m8.3-1.1h0m10.4-3.1h0m2.1-8.3h0m8.3-5.2h0m8.3 3.1h0m4.2 2.1h0m4.2-2.1h0m6.2-2.1h0m4.1-2.1h0m6.3 4.2h0m-4.2-10.4h0m8.3 4.2h0m-35.3 12.4h0m8.3 0h0m8.3-2h0m-20.8 14.5h0m6.3-16.6h0m16.6-1.1h0m-6.2-5.2h0m329.9 146h0m-103 49h0" stroke="#22AFC2" stroke-width="4.6" stroke-linecap="round" fill="none"/>
<path d="M535.4 459.1h0m-1.3 1.3h0" stroke="#6A8DCB" stroke-width="4.6" stroke-linecap="round" fill="none"/>
<path d="M540.9 464.5h0m-35.2-294.5h0" stroke="#A9A224" stroke-width="4.6" stroke-linecap="round" fill="none"/>
<path d="M542.3 467.2h0m-126.4-21.3h0m-22.8 21.8h0m35.3 58.2h0m271.6 4.1h0m5-10h0m7-10h0m6-7h0m7-8h0m-28 39h0m19-37h0" stroke="#D88A12" stroke-width="4.6" stroke-linecap="round" fill="none"/>
<path d="M547 478.1h0" stroke="#E88038" stroke-width="4.6" stroke-linecap="round" fill="none"/>
<path d="M443.6 157.9h0m17.8 0.7h0" stroke="#E5648C" stroke-width="4.6" stroke-linecap="round" fill="none"/>
<path d="M497.1 177.9h0" stroke="#AE70B0" stroke-width="4.6" stroke-linecap="round" fill="none"/>
<path d="M459.3 177.9h0" stroke="#15AEE6" stroke-width="4.6" stroke-linecap="round" fill="none"/>
</g>
<g font-size="24.8" fill="#000">
<text x="474.5" y="20.3">B</text>
<text x="370.7" y="158.0">hemapoietic stem</text>
<text x="365.5" y="205.0">pDC</text>
<text x="727.6" y="113.9">naive CD8T</text>
<text x="821.3" y="151.9">naive CD4T</text>
<text x="624.8" y="188.4">naive CD4T</text>
<text x="585.8" y="220.3">transitioning to stim</text>
<text x="839.0" y="236.5">th2 CD4T</text>
<text x="785.8" y="287.1">th1 CD4T</text>
<text x="483.5" y="353.0">megakaryocyte</text>
<text x="683.1" y="358.5">reg CD4T</text>
<text x="323.1" y="371.0">mDC</text>
<text x="226.3" y="402.5">mono 3</text>
<text x="665.8" y="399.0">double negative T</text>
<text x="154.5" y="447.0">mono 1</text>
<text x="252.7" y="464.8">mono 4</text>
<text x="635.0" y="440.5">NKbright</text>
<text x="763.1" y="466.8">memory/naive CD8T</text>
<text x="604.5" y="486.0">cyto CD4T</text>
<text x="354.5" y="542.8">mono 2</text>
<text x="805.1" y="530.6">memory CD8T</text>
<text x="631.9" y="699.7">NKdim</text>
</g>
<g font-size="24.8">
<circle cx="1070" cy="97.5" r="8.5" fill="#EF716C"/>
<text x="1097.5" y="104.7">NKbright</text>
<circle cx="1070" cy="147.4" r="8.5" fill="#E88038"/>
<text x="1097.5" y="154.6">NKdim</text>
<circle cx="1070" cy="197.2" r="8.5" fill="#D88A12"/>
<text x="1097.5" y="204.4">memory CD8T</text>
<circle cx="1070" cy="247.1" r="8.5" fill="#C4970F"/>
<text x="1097.5" y="254.3">cyto CD4T</text>
<circle cx="1070" cy="297.0" r="8.5" fill="#A9A224"/>
<text x="1097.5" y="304.2">memory/naive CD8T</text>
<circle cx="1070" cy="346.9" r="8.5" fill="#89AA2E"/>
<text x="1097.5" y="354.1">mDC</text>
<circle cx="1070" cy="396.7" r="8.5" fill="#5AAF3A"/>
<text x="1097.5" y="403.9">reg CD4T</text>
<circle cx="1070" cy="446.6" r="8.5" fill="#3BA845"/>
<text x="1097.5" y="453.8">double negative T</text>
<circle cx="1070" cy="496.5" r="8.5" fill="#3DAA6E"/>
<text x="1097.5" y="503.7">mono 3</text>
<circle cx="1070" cy="546.3" r="8.5" fill="#33AE8E"/>
<text x="1097.5" y="553.5">naive CD4T transitioning to stim</text>
<circle cx="1070" cy="596.2" r="8.5" fill="#27AFAC"/>
<text x="1097.5" y="603.4">B</text>
<circle cx="1529" cy="97.5" r="8.5" fill="#22AFC2"/>
<text x="1556.5" y="104.7">mono 4</text>
<circle cx="1529" cy="147.4" r="8.5" fill="#15AEE6"/>
<text x="1556.5" y="154.6">pDC</text>
<circle cx="1529" cy="197.2" r="8.5" fill="#3A9CD8"/>
<text x="1556.5" y="204.4">th1 CD4T</text>
<circle cx="1529" cy="247.1" r="8.5" fill="#6A8DCB"/>
<text x="1556.5" y="254.3">th2 CD4T</text>
<circle cx="1529" cy="297.0" r="8.5" fill="#8C80C0"/>
<text x="1556.5" y="304.2">mono 1</text>
<circle cx="1529" cy="346.9" r="8.5" fill="#A07DBA"/>
<text x="1556.5" y="354.1">naive CD4T</text>
<circle cx="1529" cy="396.7" r="8.5" fill="#AE70B0"/>
<text x="1556.5" y="403.9">naive CD8T</text>
<circle cx="1529" cy="446.6" r="8.5" fill="#C0649F"/>
<text x="1556.5" y="453.8">mono 2</text>
<circle cx="1529" cy="496.5" r="8.5" fill="#E3609E"/>
<text x="1556.5" y="503.7">megakaryocyte</text>
<circle cx="1529" cy="546.3" r="8.5" fill="#E5648C"/>
<text x="1556.5" y="553.5">hemapoietic stem</text>
</g>
<g id="panelb">
<path d="M73.7 815V1345.5H1072" fill="none" stroke="#000" stroke-width="1.9"/>
<path d="M68.5 900.3H73.7" stroke="#000" stroke-width="1.9"/>
<path d="M68.5 1010.8H73.7" stroke="#000" stroke-width="1.9"/>
<path d="M68.5 1121.4H73.7" stroke="#000" stroke-width="1.9"/>
<path d="M68.5 1232.0H73.7" stroke="#000" stroke-width="1.9"/>
<path d="M68.5 1342.5H73.7" stroke="#000" stroke-width="1.9"/>
<g font-size="24.8" text-anchor="end">
<text x="60.5" y="908.9">4</text>
<text x="60.5" y="1019.4">2</text>
<text x="60.5" y="1130.0">0</text>
<text x="60.5" y="1240.6">−2</text>
<text x="60.5" y="1351.1">−4</text>
</g>
<text font-size="24.8" transform="translate(21.6 1073.5) rotate(-90)" text-anchor="middle">scDRS</text>
<path d="M101.8 1345.5V1352.5" stroke="#000" stroke-width="1.9"/>
<path d="M148.9 1345.5V1352.5" stroke="#000" stroke-width="1.9"/>
<path d="M196.0 1345.5V1352.5" stroke="#000" stroke-width="1.9"/>
<path d="M243.1 1345.5V1352.5" stroke="#000" stroke-width="1.9"/>
<path d="M290.2 1345.5V1352.5" stroke="#000" stroke-width="1.9"/>
<path d="M337.2 1345.5V1352.5" stroke="#000" stroke-width="1.9"/>
<path d="M384.3 1345.5V1352.5" stroke="#000" stroke-width="1.9"/>
<path d="M431.4 1345.5V1352.5" stroke="#000" stroke-width="1.9"/>
<path d="M478.5 1345.5V1352.5" stroke="#000" stroke-width="1.9"/>
<path d="M525.6 1345.5V1352.5" stroke="#000" stroke-width="1.9"/>
<path d="M572.7 1345.5V1352.5" stroke="#000" stroke-width="1.9"/>
<path d="M619.8 1345.5V1352.5" stroke="#000" stroke-width="1.9"/>
<path d="M666.9 1345.5V1352.5" stroke="#000" stroke-width="1.9"/>
<path d="M714.0 1345.5V1352.5" stroke="#000" stroke-width="1.9"/>
<path d="M761.1 1345.5V1352.5" stroke="#000" stroke-width="1.9"/>
<path d="M808.1 1345.5V1352.5" stroke="#000" stroke-width="1.9"/>
<path d="M855.2 1345.5V1352.5" stroke="#000" stroke-width="1.9"/>
<path d="M902.3 1345.5V1352.5" stroke="#000" stroke-width="1.9"/>
<path d="M949.4 1345.5V1352.5" stroke="#000" stroke-width="1.9"/>
<path d="M996.5 1345.5V1352.5" stroke="#000" stroke-width="1.9"/>
<path d="M1043.6 1345.5V1352.5" stroke="#000" stroke-width="1.9"/>
<defs>
<path id="v0" d="M104.2 903.6 104.9 907.5 105.1 911.3 105.2 915.2 105.6 919.1 105.9 922.9 106.4 926.8 106.8 930.7 107.4 934.6 108.0 939.1 108.6 943.7 109.3 948.2 110.1 952.8 110.8 957.4 111.5 961.9 112.2 966.5 112.8 971.0 113.4 975.6 114.1 980.2 114.8 984.7 115.5 989.3 116.3 993.8 117.1 998.4 117.9 1003.0 118.7 1007.5 119.5 1012.1 120.2 1016.6 120.8 1021.2 121.4 1025.8 122.0 1030.2 122.4 1034.6 122.9 1039.0 123.2 1043.5 123.5 1048.0 123.8 1052.6 123.9 1057.1 124.0 1061.7 124.1 1066.3 123.9 1070.8 123.7 1075.4 123.2 1079.9 122.7 1084.5 122.0 1089.1 121.2 1093.6 120.3 1098.2 119.4 1102.3 118.4 1106.5 117.3 1110.6 116.2 1114.8 115.2 1119.7 114.1 1124.7 113.0 1129.7 112.0 1134.7 111.1 1139.6 110.3 1144.6 109.6 1149.6 109.0 1154.6 108.4 1159.5 107.8 1164.5 107.3 1169.5 106.8 1174.5 106.4 1179.4 106.0 1184.4 105.6 1189.4 105.2 1194.4 104.9 1199.3 104.6 1204.3 104.4 1207.1 104.2 1209.8 104.1 1214.0 104.0 1218.2 103.9 1222.4 103.9 1226.6 103.8 1230.7 103.8 1234.9 103.8 1239.1 103.8 1243.3 103.7 1247.4 103.1 1247.4 103.0 1243.3 103.0 1239.1 103.0 1234.9 103.0 1230.7 102.9 1226.6 102.9 1222.4 102.8 1218.2 102.7 1214.0 102.6 1209.8 102.4 1207.1 102.2 1204.3 101.9 1199.3 101.6 1194.4 101.2 1189.4 100.8 1184.4 100.4 1179.4 100.0 1174.5 99.5 1169.5 99.0 1164.5 98.4 1159.5 97.8 1154.6 97.2 1149.6 96.5 1144.6 95.7 1139.6 94.8 1134.7 93.8 1129.7 92.7 1124.7 91.6 1119.7 90.5 1114.8 89.4 1110.6 88.4 1106.5 87.4 1102.3 86.5 1098.2 85.6 1093.6 84.8 1089.1 84.1 1084.5 83.6 1079.9 83.1 1075.4 82.9 1070.8 82.7 1066.3 82.8 1061.7 82.9 1057.1 83.0 1052.6 83.3 1048.0 83.6 1043.5 83.9 1039.0 84.4 1034.6 84.8 1030.2 85.4 1025.8 86.0 1021.2 86.6 1016.6 87.3 1012.1 88.1 1007.5 88.9 1003.0 89.7 998.4 90.5 993.8 91.3 989.3 92.0 984.7 92.7 980.2 93.4 975.6 94.0 971.0 94.6 966.5 95.3 961.9 96.0 957.4 96.7 952.8 97.5 948.2 98.2 943.7 98.8 939.1 99.4 934.6 100.0 930.7 100.4 926.8 100.8 922.9 101.2 919.1 101.5 915.2 101.7 911.3 101.9 907.5 102.6 903.6Z"/>
<path id="v1" d="M150.8 835.0 150.8 838.9 150.8 842.8 150.8 846.7 150.8 850.6 150.8 854.5 150.8 858.4 150.8 862.3 150.8 866.2 150.8 870.1 150.8 874.0 150.8 877.9 150.8 881.8 150.9 885.7 150.9 889.6 150.9 893.5 150.9 897.4 150.9 901.3 150.9 905.2 150.9 909.1 150.9 913.0 151.0 916.9 151.1 921.3 151.3 925.7 151.5 930.1 151.7 934.6 152.0 939.1 152.4 943.7 152.8 948.2 153.3 952.8 153.8 957.4 154.4 961.9 155.0 966.5 155.6 971.0 156.2 975.6 156.9 980.2 157.5 984.7 158.2 989.3 158.9 993.8 159.6 998.4 160.3 1003.0 161.1 1007.5 161.8 1012.1 162.6 1016.6 163.4 1021.2 164.2 1025.8 165.1 1030.2 165.9 1034.6 166.7 1039.0 167.5 1043.5 168.2 1048.0 168.8 1052.6 169.3 1057.1 169.7 1061.7 170.1 1066.3 170.4 1070.8 170.6 1075.4 170.8 1079.9 170.9 1084.5 170.9 1089.1 170.8 1093.6 170.6 1098.2 170.4 1102.3 169.9 1106.5 169.3 1110.6 168.6 1114.8 167.7 1119.7 166.6 1124.7 165.4 1129.7 164.2 1134.7 162.8 1139.6 161.5 1144.6 160.2 1149.6 159.1 1154.6 158.0 1159.5 157.1 1164.5 156.2 1169.5 155.5 1174.5 154.8 1179.4 154.3 1184.4 153.7 1189.4 153.3 1194.4 152.9 1199.3 152.5 1204.3 152.2 1209.3 152.0 1214.3 151.7 1219.2 151.5 1224.4 151.4 1229.6 151.2 1234.7 151.1 1238.8 151.0 1242.8 150.9 1246.9 150.9 1250.9 150.9 1255.0 150.8 1259.0 150.2 1259.0 150.1 1255.0 150.1 1250.9 150.0 1246.9 150.0 1242.8 149.9 1238.8 149.8 1234.7 149.6 1229.6 149.5 1224.4 149.3 1219.2 149.0 1214.3 148.8 1209.3 148.5 1204.3 148.1 1199.3 147.7 1194.4 147.3 1189.4 146.7 1184.4 146.1 1179.4 145.5 1174.5 144.7 1169.5 143.9 1164.5 143.0 1159.5 141.9 1154.6 140.7 1149.6 139.5 1144.6 138.1 1139.6 136.8 1134.7 135.5 1129.7 134.3 1124.7 133.3 1119.7 132.4 1114.8 131.6 1110.6 131.1 1106.5 130.6 1102.3 130.3 1098.2 130.1 1093.6 130.0 1089.1 130.1 1084.5 130.2 1079.9 130.3 1075.4 130.6 1070.8 130.9 1066.3 131.2 1061.7 131.7 1057.1 132.2 1052.6 132.8 1048.0 133.5 1043.5 134.3 1039.0 135.1 1034.6 135.9 1030.2 136.8 1025.8 137.6 1021.2 138.4 1016.6 139.2 1012.1 139.9 1007.5 140.7 1003.0 141.4 998.4 142.1 993.8 142.8 989.3 143.5 984.7 144.1 980.2 144.8 975.6 145.4 971.0 146.0 966.5 146.6 961.9 147.2 957.4 147.7 952.8 148.2 948.2 148.6 943.7 148.9 939.1 149.3 934.6 149.5 930.1 149.7 925.7 149.9 921.3 150.0 916.9 150.0 913.0 150.1 909.1 150.1 905.2 150.1 901.3 150.1 897.4 150.1 893.5 150.1 889.6 150.1 885.7 150.1 881.8 150.1 877.9 150.1 874.0 150.1 870.1 150.2 866.2 150.2 862.3 150.2 858.4 150.2 854.5 150.2 850.6 150.2 846.7 150.2 842.8 150.2 838.9 150.2 835.0Z"/>
<path id="v2" d="M197.9 862.1 197.9 866.0 197.9 869.9 197.9 873.7 197.9 877.6 197.9 881.5 198.0 885.4 198.0 889.2 198.0 893.1 198.0 897.0 198.0 900.8 198.0 904.7 198.0 908.6 198.0 912.4 198.0 916.3 198.1 920.2 198.2 924.1 198.3 927.9 198.4 932.1 198.6 936.2 198.8 940.4 199.1 944.5 199.4 948.7 199.8 952.8 200.2 957.4 200.6 961.9 201.2 966.5 201.8 971.0 202.4 975.6 203.0 980.2 203.7 984.7 204.4 989.3 205.0 993.8 205.7 998.4 206.4 1003.0 207.1 1007.5 207.8 1012.1 208.5 1016.6 209.3 1021.2 210.1 1025.8 210.9 1030.2 211.7 1034.6 212.5 1039.0 213.3 1043.5 214.1 1048.0 214.8 1052.6 215.4 1057.1 216.0 1061.7 216.6 1066.3 217.1 1070.8 217.5 1075.4 217.8 1079.9 218.1 1084.5 218.2 1089.1 218.3 1093.6 218.3 1098.2 218.2 1102.3 218.1 1106.5 217.8 1110.6 217.4 1114.8 216.9 1119.7 216.3 1124.7 215.6 1129.7 214.7 1134.9 213.8 1140.2 212.8 1145.0 211.8 1149.9 210.7 1154.7 209.6 1159.5 208.5 1163.8 207.5 1168.1 206.4 1172.4 205.4 1176.7 204.5 1180.9 203.6 1185.2 202.8 1189.4 202.1 1194.4 201.5 1199.3 200.9 1204.3 200.4 1209.3 200.0 1214.3 199.6 1219.2 199.2 1224.4 198.9 1229.6 198.7 1234.7 198.6 1238.9 198.4 1243.0 198.3 1247.2 198.2 1251.3 198.1 1255.5 198.1 1259.6 198.0 1263.7 198.0 1267.9 197.9 1272.0 197.9 1276.2 197.9 1280.3 197.9 1284.5 197.9 1288.6 197.9 1292.8 197.3 1292.8 197.3 1288.6 197.2 1284.5 197.2 1280.3 197.2 1276.2 197.2 1272.0 197.2 1267.9 197.2 1263.7 197.1 1259.6 197.0 1255.5 197.0 1251.3 196.9 1247.2 196.8 1243.0 196.6 1238.9 196.4 1234.7 196.2 1229.6 195.9 1224.4 195.6 1219.2 195.2 1214.3 194.8 1209.3 194.3 1204.3 193.7 1199.3 193.0 1194.4 192.3 1189.4 191.5 1185.2 190.7 1180.9 189.7 1176.7 188.7 1172.4 187.7 1168.1 186.6 1163.8 185.6 1159.5 184.5 1154.7 183.4 1149.9 182.3 1145.0 181.4 1140.2 180.4 1134.9 179.6 1129.7 178.8 1124.7 178.2 1119.7 177.8 1114.8 177.4 1110.6 177.1 1106.5 176.9 1102.3 176.9 1098.2 176.8 1093.6 176.9 1089.1 177.1 1084.5 177.4 1079.9 177.7 1075.4 178.1 1070.8 178.6 1066.3 179.2 1061.7 179.7 1057.1 180.4 1052.6 181.1 1048.0 181.9 1043.5 182.7 1039.0 183.5 1034.6 184.3 1030.2 185.1 1025.8 185.9 1021.2 186.6 1016.6 187.4 1012.1 188.1 1007.5 188.7 1003.0 189.4 998.4 190.1 993.8 190.8 989.3 191.5 984.7 192.2 980.2 192.8 975.6 193.4 971.0 194.0 966.5 194.5 961.9 195.0 957.4 195.4 952.8 195.7 948.7 196.0 944.5 196.3 940.4 196.5 936.2 196.7 932.1 196.9 927.9 197.0 924.1 197.1 920.2 197.1 916.3 197.1 912.4 197.1 908.6 197.2 904.7 197.2 900.8 197.2 897.0 197.2 893.1 197.2 889.2 197.2 885.4 197.2 881.5 197.2 877.6 197.2 873.7 197.3 869.9 197.3 866.0 197.3 862.1Z"/>
<path id="v3" d="M255.6 1040.1 256.4 1044.8 256.5 1049.5 256.8 1053.6 257.3 1057.6 258.0 1061.7 258.7 1066.7 259.6 1071.6 260.5 1075.8 261.4 1079.9 262.3 1084.5 263.2 1089.1 263.8 1093.6 264.3 1098.2 264.7 1102.7 264.9 1107.3 264.9 1111.9 264.7 1116.4 264.1 1121.7 263.4 1126.9 262.5 1130.8 262.0 1134.7 261.4 1138.3 259.2 1141.9 230.2 1141.9 227.9 1138.3 227.3 1134.7 226.8 1130.8 225.9 1126.9 225.2 1121.7 224.7 1116.4 224.4 1111.9 224.4 1107.3 224.6 1102.7 225.1 1098.2 225.5 1093.6 226.2 1089.1 227.0 1084.5 227.9 1079.9 228.9 1075.8 229.8 1071.6 230.6 1066.7 231.4 1061.7 232.0 1057.6 232.5 1053.6 232.8 1049.5 233.0 1044.8 233.8 1040.1Z"/>
<path id="v4" d="M292.1 901.4 292.2 905.6 292.2 909.8 292.3 914.0 292.4 918.2 292.5 922.4 292.7 926.4 292.9 930.5 293.1 934.6 293.4 939.1 293.6 943.7 293.9 948.2 294.2 952.8 294.5 957.4 294.9 961.9 295.3 966.5 295.7 971.0 296.2 975.6 296.7 980.2 297.2 984.7 297.8 989.3 298.4 993.8 299.0 998.4 299.7 1003.0 300.4 1007.5 301.1 1012.1 301.8 1016.6 302.4 1021.2 303.1 1025.8 303.8 1030.2 304.5 1034.6 305.2 1039.0 305.9 1043.5 306.5 1048.0 307.2 1052.6 307.8 1057.1 308.5 1061.7 309.1 1066.3 309.7 1070.8 310.2 1075.4 310.7 1079.9 311.1 1084.5 311.5 1089.1 311.9 1093.6 312.1 1098.2 312.3 1102.7 312.4 1107.3 312.4 1111.9 312.2 1116.4 311.9 1120.8 311.5 1125.3 310.9 1129.7 310.2 1134.7 309.4 1139.6 308.5 1144.6 307.5 1149.6 306.6 1154.6 305.6 1159.5 304.6 1164.5 303.6 1169.5 302.6 1174.5 301.6 1179.4 300.6 1184.4 299.6 1189.4 298.7 1194.4 297.8 1199.3 297.0 1204.3 296.2 1209.3 295.6 1214.3 295.0 1219.2 294.5 1224.4 294.0 1229.6 293.6 1234.7 293.2 1239.7 292.9 1244.7 292.7 1249.6 292.5 1253.7 292.4 1257.7 292.3 1261.7 292.3 1265.7 292.3 1269.7 292.2 1273.7 292.2 1277.7 292.2 1281.7 292.2 1285.7 292.2 1289.7 292.2 1293.7 292.1 1297.7 292.1 1301.8 292.1 1305.8 292.1 1309.8 292.1 1313.8 291.5 1313.8 291.4 1309.8 291.4 1305.8 291.4 1301.8 291.4 1297.7 291.4 1293.7 291.3 1289.7 291.3 1285.7 291.3 1281.7 291.3 1277.7 291.3 1273.7 291.3 1269.7 291.2 1265.7 291.2 1261.7 291.1 1257.7 291.0 1253.7 290.8 1249.6 290.6 1244.7 290.3 1239.7 290.0 1234.7 289.5 1229.6 289.0 1224.4 288.5 1219.2 287.9 1214.3 287.3 1209.3 286.5 1204.3 285.7 1199.3 284.8 1194.4 283.9 1189.4 282.9 1184.4 282.0 1179.4 281.0 1174.5 280.0 1169.5 279.0 1164.5 278.0 1159.5 277.0 1154.6 276.0 1149.6 275.0 1144.6 274.1 1139.6 273.3 1134.7 272.6 1129.7 272.0 1125.3 271.6 1120.8 271.3 1116.4 271.2 1111.9 271.1 1107.3 271.2 1102.7 271.4 1098.2 271.7 1093.6 272.0 1089.1 272.4 1084.5 272.8 1079.9 273.3 1075.4 273.9 1070.8 274.4 1066.3 275.0 1061.7 275.7 1057.1 276.3 1052.6 277.0 1048.0 277.7 1043.5 278.3 1039.0 279.0 1034.6 279.7 1030.2 280.4 1025.8 281.1 1021.2 281.8 1016.6 282.4 1012.1 283.1 1007.5 283.8 1003.0 284.5 998.4 285.1 993.8 285.7 989.3 286.3 984.7 286.8 980.2 287.3 975.6 287.8 971.0 288.2 966.5 288.6 961.9 289.0 957.4 289.3 952.8 289.6 948.2 289.9 943.7 290.2 939.1 290.4 934.6 290.6 930.5 290.8 926.4 291.0 922.4 291.1 918.2 291.3 914.0 291.3 909.8 291.3 905.6 291.5 901.4Z"/>
<path id="v5" d="M339.2 953.3 339.3 957.2 339.3 961.1 339.4 965.0 339.4 968.8 339.6 972.7 339.8 976.6 340.0 980.4 340.4 984.9 340.9 989.3 341.4 993.8 342.1 998.4 342.8 1003.0 343.6 1007.5 344.4 1012.1 345.2 1016.6 346.1 1021.2 347.0 1025.8 347.9 1030.2 348.9 1034.6 349.8 1039.0 350.7 1043.5 351.6 1048.0 352.5 1052.6 353.4 1057.1 354.3 1061.7 355.2 1066.3 356.1 1070.8 356.8 1075.4 357.5 1079.9 358.1 1084.5 358.5 1089.1 358.9 1093.6 359.1 1098.2 359.3 1102.7 359.4 1107.3 359.3 1111.9 359.0 1116.4 358.6 1120.8 358.0 1125.3 357.2 1129.7 356.2 1134.7 355.1 1139.6 353.9 1144.6 352.7 1149.6 351.4 1154.6 350.2 1159.5 348.9 1164.5 347.8 1169.5 346.7 1174.5 345.7 1179.4 344.7 1184.4 343.8 1189.4 343.0 1194.4 342.3 1199.3 341.6 1204.3 341.0 1209.3 340.5 1214.3 340.1 1219.2 339.8 1222.8 339.6 1226.4 339.4 1230.4 339.3 1234.3 339.3 1238.2 339.3 1242.1 339.2 1246.1 339.2 1250.0 339.2 1253.9 339.2 1257.8 339.2 1261.8 339.2 1265.7 338.6 1265.7 338.5 1261.8 338.5 1257.8 338.5 1253.9 338.5 1250.0 338.5 1246.1 338.4 1242.1 338.4 1238.2 338.4 1234.3 338.3 1230.4 338.1 1226.4 337.9 1222.8 337.6 1219.2 337.2 1214.3 336.7 1209.3 336.1 1204.3 335.4 1199.3 334.7 1194.4 333.9 1189.4 333.0 1184.4 332.1 1179.4 331.0 1174.5 329.9 1169.5 328.8 1164.5 327.5 1159.5 326.3 1154.6 325.0 1149.6 323.8 1144.6 322.6 1139.6 321.5 1134.7 320.5 1129.7 319.8 1125.3 319.1 1120.8 318.7 1116.4 318.4 1111.9 318.3 1107.3 318.4 1102.7 318.6 1098.2 318.8 1093.6 319.2 1089.1 319.6 1084.5 320.2 1079.9 320.9 1075.4 321.6 1070.8 322.5 1066.3 323.4 1061.7 324.3 1057.1 325.2 1052.6 326.1 1048.0 327.0 1043.5 327.9 1039.0 328.9 1034.6 329.8 1030.2 330.7 1025.8 331.6 1021.2 332.5 1016.6 333.3 1012.1 334.1 1007.5 334.9 1003.0 335.6 998.4 336.3 993.8 336.8 989.3 337.3 984.9 337.7 980.4 337.9 976.6 338.1 972.7 338.3 968.8 338.3 965.0 338.4 961.1 338.4 957.2 338.6 953.3Z"/>
<path id="v6" d="M386.9 949.5 387.3 953.8 387.3 958.1 387.5 962.4 387.7 966.7 388.1 971.0 388.4 975.6 388.9 980.2 389.4 984.7 389.9 989.3 390.5 993.8 391.1 998.4 391.8 1003.0 392.6 1007.5 393.4 1012.1 394.2 1016.6 395.1 1021.2 396.0 1025.8 396.9 1030.2 397.8 1034.6 398.8 1039.0 399.7 1043.5 400.7 1048.0 401.5 1052.6 402.4 1057.1 403.2 1061.7 403.9 1066.3 404.6 1070.8 405.1 1075.4 405.6 1079.9 406.0 1084.5 406.3 1089.1 406.6 1093.6 406.7 1098.2 406.9 1102.7 407.0 1107.3 406.9 1111.9 406.8 1116.4 406.6 1120.4 406.3 1124.4 405.8 1128.4 405.2 1132.5 404.4 1137.1 403.6 1141.7 402.6 1146.3 401.5 1150.7 400.5 1155.1 399.4 1159.5 398.4 1164.5 397.3 1169.5 396.3 1174.5 395.3 1179.4 394.3 1184.4 393.4 1189.4 392.5 1194.4 391.7 1199.3 390.9 1204.3 390.3 1209.3 389.7 1214.3 389.1 1219.2 388.7 1224.4 388.3 1229.6 387.9 1234.7 387.6 1239.7 387.3 1244.7 387.1 1249.6 386.9 1253.5 386.7 1257.4 386.6 1261.3 386.5 1265.1 386.5 1269.1 386.4 1273.0 386.4 1276.9 386.4 1280.8 386.3 1284.8 386.3 1288.7 386.3 1292.6 386.3 1296.5 386.3 1300.5 386.2 1304.4 385.6 1304.4 385.6 1300.5 385.6 1296.5 385.6 1292.6 385.6 1288.7 385.5 1284.8 385.5 1280.8 385.5 1276.9 385.5 1273.0 385.4 1269.1 385.4 1265.1 385.3 1261.3 385.2 1257.4 385.0 1253.5 384.8 1249.6 384.6 1244.7 384.3 1239.7 384.0 1234.7 383.6 1229.6 383.2 1224.4 382.7 1219.2 382.2 1214.3 381.6 1209.3 380.9 1204.3 380.2 1199.3 379.4 1194.4 378.5 1189.4 377.6 1184.4 376.6 1179.4 375.6 1174.5 374.6 1169.5 373.5 1164.5 372.5 1159.5 371.4 1155.1 370.3 1150.7 369.3 1146.3 368.3 1141.7 367.5 1137.1 366.7 1132.5 366.1 1128.4 365.6 1124.4 365.3 1120.4 365.1 1116.4 365.0 1111.9 364.9 1107.3 365.0 1102.7 365.1 1098.2 365.3 1093.6 365.6 1089.1 365.9 1084.5 366.3 1079.9 366.7 1075.4 367.3 1070.8 367.9 1066.3 368.7 1061.7 369.5 1057.1 370.3 1052.6 371.2 1048.0 372.2 1043.5 373.1 1039.0 374.0 1034.6 375.0 1030.2 375.9 1025.8 376.8 1021.2 377.7 1016.6 378.5 1012.1 379.3 1007.5 380.0 1003.0 380.7 998.4 381.4 993.8 382.0 989.3 382.5 984.7 383.0 980.2 383.5 975.6 383.8 971.0 384.1 966.7 384.4 962.4 384.5 958.1 384.6 953.8 384.9 949.5Z"/>
<path id="v7" d="M434.5 965.5 434.8 969.5 434.9 973.4 434.9 977.4 435.1 981.4 435.3 985.3 435.5 989.3 435.7 993.8 436.0 998.4 436.3 1003.0 436.5 1007.5 436.8 1012.1 437.1 1016.6 437.3 1021.2 437.6 1025.8 437.8 1030.2 438.0 1034.6 438.3 1039.0 438.5 1043.5 438.7 1048.0 439.0 1052.6 439.3 1057.1 439.7 1061.7 440.1 1066.3 440.7 1070.8 441.4 1075.4 442.3 1079.9 443.3 1084.5 444.5 1089.1 445.7 1093.6 447.1 1098.2 448.5 1102.9 449.8 1107.6 450.9 1112.0 451.9 1116.4 452.6 1120.3 452.9 1124.2 452.8 1128.3 452.4 1132.5 451.6 1136.5 450.5 1140.6 449.1 1144.6 447.6 1149.6 446.1 1154.6 444.5 1159.5 443.1 1164.5 441.8 1169.5 440.7 1174.5 439.7 1179.4 438.8 1184.4 438.1 1189.4 437.5 1194.4 436.9 1199.3 436.4 1204.3 436.0 1209.3 435.6 1214.3 435.3 1219.2 435.0 1224.4 434.8 1229.6 434.6 1234.7 434.5 1239.7 434.4 1244.7 434.0 1249.6 432.0 1249.6 431.7 1244.7 431.6 1239.7 431.5 1234.7 431.3 1229.6 431.1 1224.4 430.8 1219.2 430.5 1214.3 430.1 1209.3 429.7 1204.3 429.2 1199.3 428.6 1194.4 428.0 1189.4 427.2 1184.4 426.4 1179.4 425.4 1174.5 424.2 1169.5 422.9 1164.5 421.5 1159.5 420.0 1154.6 418.5 1149.6 416.9 1144.6 415.6 1140.6 414.4 1136.5 413.7 1132.5 413.2 1128.3 413.1 1124.2 413.5 1120.3 414.2 1116.4 415.1 1112.0 416.3 1107.6 417.6 1102.9 418.9 1098.2 420.3 1093.6 421.6 1089.1 422.7 1084.5 423.7 1079.9 424.6 1075.4 425.4 1070.8 425.9 1066.3 426.4 1061.7 426.7 1057.1 427.0 1052.6 427.3 1048.0 427.6 1043.5 427.8 1039.0 428.0 1034.6 428.3 1030.2 428.5 1025.8 428.7 1021.2 429.0 1016.6 429.2 1012.1 429.5 1007.5 429.8 1003.0 430.1 998.4 430.3 993.8 430.6 989.3 430.8 985.3 431.0 981.4 431.1 977.4 431.2 973.4 431.3 969.5 431.5 965.5Z"/>
<path id="v8" d="M480.4 894.2 480.5 898.1 480.5 901.9 480.5 905.8 480.5 909.7 480.5 913.5 480.5 917.4 480.5 921.3 480.5 925.2 480.6 929.0 480.6 932.9 480.6 936.8 480.7 940.6 480.8 944.5 480.9 948.9 481.0 953.3 481.2 957.8 481.4 962.2 481.6 966.6 481.9 971.0 482.1 975.6 482.5 980.2 482.9 984.7 483.3 989.3 483.8 993.8 484.3 998.4 485.0 1003.0 485.6 1007.5 486.4 1012.1 487.1 1016.6 487.8 1021.2 488.6 1025.8 489.4 1030.2 490.1 1034.6 490.8 1039.0 491.5 1043.5 492.1 1048.0 492.8 1052.6 493.4 1057.1 494.1 1061.7 494.8 1066.3 495.5 1070.8 496.2 1075.4 496.9 1079.9 497.5 1084.5 498.2 1089.1 498.7 1093.6 499.2 1098.2 499.7 1102.7 500.1 1107.3 500.4 1111.9 500.6 1116.4 500.8 1121.0 500.8 1125.5 500.7 1130.1 500.5 1134.7 500.1 1138.5 499.4 1142.4 498.6 1146.3 497.7 1150.7 496.6 1155.1 495.5 1159.5 494.4 1164.5 493.2 1169.5 492.2 1174.5 491.1 1179.4 490.1 1184.4 489.1 1189.4 488.1 1194.4 487.2 1199.3 486.4 1204.3 485.6 1209.3 484.9 1214.3 484.2 1219.2 483.9 1224.0 483.6 1228.8 482.7 1233.6 477.5 1233.6 476.6 1228.8 476.3 1224.0 476.0 1219.2 475.4 1214.3 474.7 1209.3 473.9 1204.3 473.0 1199.3 472.1 1194.4 471.1 1189.4 470.1 1184.4 469.1 1179.4 468.1 1174.5 467.0 1169.5 465.9 1164.5 464.7 1159.5 463.6 1155.1 462.6 1150.7 461.6 1146.3 460.8 1142.4 460.2 1138.5 459.8 1134.7 459.5 1130.1 459.4 1125.5 459.5 1121.0 459.6 1116.4 459.9 1111.9 460.2 1107.3 460.5 1102.7 461.0 1098.2 461.5 1093.6 462.1 1089.1 462.7 1084.5 463.4 1079.9 464.1 1075.4 464.8 1070.8 465.5 1066.3 466.1 1061.7 466.8 1057.1 467.5 1052.6 468.1 1048.0 468.8 1043.5 469.5 1039.0 470.1 1034.6 470.9 1030.2 471.6 1025.8 472.4 1021.2 473.2 1016.6 473.9 1012.1 474.6 1007.5 475.3 1003.0 475.9 998.4 476.4 993.8 476.9 989.3 477.4 984.7 477.8 980.2 478.1 975.6 478.4 971.0 478.6 966.6 478.9 962.2 479.1 957.8 479.2 953.3 479.4 948.9 479.5 944.5 479.6 940.6 479.6 936.8 479.7 932.9 479.7 929.0 479.7 925.2 479.7 921.3 479.7 917.4 479.7 913.5 479.8 909.7 479.8 905.8 479.8 901.9 479.8 898.1 479.8 894.2Z"/>
<path id="v9" d="M529.0 956.7 528.9 961.5 529.0 966.2 529.1 971.0 529.2 975.6 529.3 980.2 529.6 984.7 529.9 989.3 530.3 993.8 530.7 998.4 531.2 1003.0 531.9 1007.5 532.5 1012.1 533.3 1016.6 534.1 1021.2 535.0 1025.8 535.9 1030.2 536.7 1034.6 537.6 1039.0 538.4 1043.5 539.2 1048.0 539.9 1052.6 540.6 1057.1 541.3 1061.7 541.9 1066.3 542.5 1070.8 543.1 1075.4 543.7 1079.9 544.2 1084.5 544.7 1089.1 545.2 1093.6 545.6 1098.2 546.0 1102.7 546.3 1107.3 546.7 1111.9 547.0 1116.4 547.3 1121.0 547.5 1125.5 547.7 1130.1 547.8 1134.7 547.7 1139.5 547.4 1144.2 546.9 1149.0 546.1 1154.3 545.1 1159.5 544.0 1164.5 542.6 1169.5 541.2 1174.5 539.7 1179.4 538.4 1184.4 537.0 1189.4 535.8 1194.4 534.6 1199.3 533.5 1204.3 533.0 1208.6 532.4 1212.8 530.6 1217.0 523.8 1217.0 522.0 1212.8 521.5 1208.6 520.9 1204.3 519.8 1199.3 518.6 1194.4 517.4 1189.4 516.1 1184.4 514.7 1179.4 513.2 1174.5 511.8 1169.5 510.5 1164.5 509.3 1159.5 508.3 1154.3 507.5 1149.0 507.0 1144.2 506.7 1139.5 506.6 1134.7 506.7 1130.1 506.9 1125.5 507.2 1121.0 507.5 1116.4 507.8 1111.9 508.1 1107.3 508.4 1102.7 508.8 1098.2 509.2 1093.6 509.7 1089.1 510.2 1084.5 510.7 1079.9 511.3 1075.4 511.9 1070.8 512.5 1066.3 513.2 1061.7 513.8 1057.1 514.5 1052.6 515.2 1048.0 516.0 1043.5 516.8 1039.0 517.7 1034.6 518.6 1030.2 519.4 1025.8 520.3 1021.2 521.1 1016.6 521.9 1012.1 522.6 1007.5 523.2 1003.0 523.7 998.4 524.2 993.8 524.5 989.3 524.8 984.7 525.1 980.2 525.3 975.6 525.4 971.0 525.4 966.2 525.5 961.5 525.4 956.7Z"/>
<path id="v10" d="M574.6 968.8 575.0 972.9 575.2 977.0 575.3 981.1 575.6 985.2 575.9 989.3 576.2 993.8 576.7 998.4 577.1 1003.0 577.7 1007.5 578.2 1012.1 578.8 1016.6 579.5 1021.2 580.3 1025.8 581.1 1030.2 581.9 1034.6 582.8 1039.0 583.7 1043.5 584.6 1048.0 585.5 1052.6 586.4 1057.1 587.3 1061.7 588.3 1066.3 589.2 1070.8 590.1 1075.4 590.9 1079.9 591.7 1084.5 592.5 1089.1 593.1 1093.6 593.7 1098.2 594.2 1102.7 594.6 1107.3 594.8 1111.9 594.9 1116.4 594.9 1121.0 594.8 1125.5 594.5 1130.1 594.1 1134.7 593.6 1138.5 592.9 1142.4 592.0 1146.3 591.0 1150.7 590.0 1155.1 588.8 1159.5 587.6 1164.5 586.3 1169.5 585.1 1174.5 583.9 1179.4 582.7 1184.4 581.5 1189.4 580.4 1194.4 579.4 1199.3 578.5 1204.3 577.8 1209.3 577.1 1214.3 576.6 1219.2 576.3 1224.4 575.9 1229.6 575.7 1234.7 575.5 1239.7 575.3 1244.7 575.2 1249.6 575.1 1253.5 575.0 1257.4 574.9 1261.3 574.9 1265.1 574.8 1269.0 574.8 1272.9 574.7 1276.7 574.7 1280.6 574.6 1284.5 574.0 1284.5 573.9 1280.6 573.9 1276.7 573.8 1272.9 573.8 1269.0 573.7 1265.1 573.7 1261.3 573.6 1257.4 573.5 1253.5 573.4 1249.6 573.3 1244.7 573.1 1239.7 572.9 1234.7 572.7 1229.6 572.3 1224.4 572.0 1219.2 571.5 1214.3 570.8 1209.3 570.1 1204.3 569.2 1199.3 568.2 1194.4 567.1 1189.4 565.9 1184.4 564.7 1179.4 563.5 1174.5 562.3 1169.5 561.0 1164.5 559.8 1159.5 558.6 1155.1 557.6 1150.7 556.6 1146.3 555.7 1142.4 555.0 1138.5 554.5 1134.7 554.1 1130.1 553.8 1125.5 553.7 1121.0 553.7 1116.4 553.8 1111.9 554.0 1107.3 554.4 1102.7 554.9 1098.2 555.5 1093.6 556.1 1089.1 556.9 1084.5 557.7 1079.9 558.5 1075.4 559.4 1070.8 560.3 1066.3 561.3 1061.7 562.2 1057.1 563.1 1052.6 564.0 1048.0 564.9 1043.5 565.8 1039.0 566.7 1034.6 567.5 1030.2 568.3 1025.8 569.1 1021.2 569.8 1016.6 570.4 1012.1 571.0 1007.5 571.5 1003.0 571.9 998.4 572.4 993.8 572.7 989.3 573.0 985.2 573.3 981.1 573.5 977.0 573.6 972.9 574.0 968.8Z"/>
<path id="v11" d="M621.7 920.7 621.8 924.8 621.8 928.8 621.8 932.8 621.8 936.9 621.8 940.9 621.9 944.9 621.9 949.0 622.0 953.0 622.1 957.1 622.3 961.1 622.6 966.1 622.8 971.0 623.1 975.6 623.5 980.2 623.9 984.7 624.3 989.3 624.7 993.8 625.2 998.4 625.7 1003.0 626.3 1007.5 626.9 1012.1 627.6 1016.6 628.3 1021.2 629.0 1025.8 629.8 1030.2 630.6 1034.6 631.4 1039.0 632.3 1043.5 633.1 1048.0 634.0 1052.6 634.8 1057.1 635.6 1061.7 636.4 1066.3 637.1 1070.8 637.8 1075.4 638.5 1079.9 639.1 1084.5 639.6 1089.1 640.1 1093.6 640.5 1098.2 640.8 1102.7 641.1 1107.3 641.4 1111.9 641.5 1116.4 641.7 1120.7 641.8 1125.0 641.8 1129.4 641.7 1133.7 641.4 1138.0 640.9 1143.5 640.2 1149.0 639.3 1154.3 638.3 1159.5 637.1 1164.5 635.9 1169.5 634.6 1174.5 633.4 1179.4 632.3 1184.4 631.2 1189.4 630.2 1194.4 629.2 1199.3 628.3 1204.3 627.5 1209.3 626.8 1214.3 626.1 1219.2 625.5 1224.4 625.0 1229.6 624.5 1234.7 624.1 1239.7 623.7 1244.7 623.3 1249.6 623.0 1254.6 622.6 1259.6 622.5 1264.6 622.3 1270.4 621.7 1276.2 621.1 1276.2 620.4 1270.4 620.3 1264.6 620.1 1259.6 619.8 1254.6 619.5 1249.6 619.1 1244.7 618.7 1239.7 618.3 1234.7 617.8 1229.6 617.3 1224.4 616.7 1219.2 616.0 1214.3 615.3 1209.3 614.5 1204.3 613.6 1199.3 612.6 1194.4 611.6 1189.4 610.5 1184.4 609.3 1179.4 608.1 1174.5 606.9 1169.5 605.7 1164.5 604.5 1159.5 603.4 1154.3 602.6 1149.0 601.9 1143.5 601.4 1138.0 601.1 1133.7 601.0 1129.4 601.0 1125.0 601.1 1120.7 601.3 1116.4 601.4 1111.9 601.7 1107.3 601.9 1102.7 602.3 1098.2 602.7 1093.6 603.2 1089.1 603.7 1084.5 604.3 1079.9 604.9 1075.4 605.6 1070.8 606.4 1066.3 607.2 1061.7 608.0 1057.1 608.8 1052.6 609.6 1048.0 610.5 1043.5 611.3 1039.0 612.2 1034.6 613.0 1030.2 613.7 1025.8 614.5 1021.2 615.2 1016.6 615.9 1012.1 616.5 1007.5 617.1 1003.0 617.6 998.4 618.1 993.8 618.5 989.3 618.9 984.7 619.3 980.2 619.7 975.6 620.0 971.0 620.2 966.1 620.5 961.1 620.6 957.1 620.8 953.0 620.9 949.0 620.9 944.9 620.9 940.9 621.0 936.9 621.0 932.8 621.0 928.8 621.0 924.8 621.1 920.7Z"/>
<path id="v12" d="M670.0 1009.2 669.9 1013.3 670.0 1017.5 670.0 1021.6 670.1 1025.8 670.2 1030.2 670.5 1034.6 670.8 1039.0 671.4 1043.5 672.0 1048.0 672.7 1052.6 673.6 1057.1 674.6 1061.7 675.6 1066.3 676.7 1070.8 677.9 1075.4 679.2 1079.9 680.4 1084.5 681.7 1089.1 682.9 1093.6 684.0 1098.2 685.2 1102.7 686.1 1107.3 687.0 1111.9 687.6 1116.4 688.2 1121.0 688.6 1125.5 688.7 1130.1 688.5 1134.7 688.1 1138.5 687.5 1142.4 686.7 1146.3 685.7 1150.7 684.6 1155.1 683.4 1159.5 682.2 1164.5 680.9 1169.5 679.7 1174.5 678.5 1179.4 677.3 1184.4 676.1 1189.4 675.0 1194.4 674.0 1199.3 673.1 1204.3 672.4 1209.3 671.7 1214.3 671.2 1219.2 670.8 1224.4 670.5 1229.6 670.2 1234.7 669.9 1239.7 669.7 1244.7 669.5 1249.6 669.4 1254.0 669.3 1258.3 669.2 1262.6 669.1 1266.9 668.9 1271.2 668.1 1271.2 667.8 1266.9 667.8 1262.6 667.7 1258.3 667.6 1254.0 667.4 1249.6 667.2 1244.7 667.0 1239.7 666.8 1234.7 666.5 1229.6 666.1 1224.4 665.7 1219.2 665.2 1214.3 664.6 1209.3 663.8 1204.3 663.0 1199.3 662.0 1194.4 660.9 1189.4 659.7 1184.4 658.5 1179.4 657.3 1174.5 656.0 1169.5 654.8 1164.5 653.6 1159.5 652.4 1155.1 651.3 1150.7 650.3 1146.3 649.5 1142.4 648.9 1138.5 648.5 1134.7 648.3 1130.1 648.4 1125.5 648.7 1121.0 649.3 1116.4 650.0 1111.9 650.8 1107.3 651.8 1102.7 652.9 1098.2 654.1 1093.6 655.3 1089.1 656.5 1084.5 657.8 1079.9 659.0 1075.4 660.2 1070.8 661.3 1066.3 662.4 1061.7 663.4 1057.1 664.2 1052.6 665.0 1048.0 665.6 1043.5 666.1 1039.0 666.5 1034.6 666.7 1030.2 666.9 1025.8 666.9 1021.6 667.0 1017.5 667.0 1013.3 667.0 1009.2Z"/>
<path id="v13" d="M715.9 946.7 716.0 950.8 716.1 954.8 716.1 958.9 716.2 962.9 716.3 967.0 716.4 971.0 716.5 975.6 716.7 980.2 716.9 984.7 717.1 989.3 717.4 993.8 717.7 998.4 718.1 1003.0 718.6 1007.5 719.1 1012.1 719.7 1016.6 720.4 1021.2 721.0 1025.8 721.7 1030.2 722.4 1034.6 723.2 1039.0 724.0 1043.5 724.8 1048.0 725.6 1052.6 726.5 1057.1 727.4 1061.7 728.3 1066.3 729.2 1070.8 730.0 1075.4 730.9 1079.9 731.6 1084.5 732.4 1089.1 733.0 1093.6 733.6 1098.2 734.1 1102.7 734.6 1107.3 735.0 1111.9 735.4 1116.4 735.7 1120.4 736.0 1124.4 736.2 1128.4 736.2 1132.5 736.2 1137.1 735.9 1141.7 735.5 1146.3 734.9 1150.7 734.2 1155.1 733.4 1159.5 732.4 1164.5 731.5 1169.5 730.5 1174.5 729.5 1179.4 728.5 1184.4 727.6 1189.4 726.6 1194.4 725.7 1199.3 724.8 1204.3 724.0 1209.3 723.1 1214.3 722.3 1219.2 721.6 1224.4 720.9 1229.6 720.3 1234.7 719.7 1239.7 719.1 1244.7 718.7 1249.6 718.2 1254.6 717.9 1259.6 717.5 1264.6 717.3 1269.6 717.0 1274.5 716.8 1279.5 716.7 1283.6 716.5 1287.7 716.4 1291.8 716.3 1295.9 716.2 1300.0 716.1 1304.1 715.9 1308.2 715.3 1308.2 715.0 1304.1 714.9 1300.0 714.9 1295.9 714.8 1291.8 714.6 1287.7 714.5 1283.6 714.3 1279.5 714.1 1274.5 713.9 1269.6 713.6 1264.6 713.3 1259.6 712.9 1254.6 712.5 1249.6 712.0 1244.7 711.5 1239.7 710.9 1234.7 710.2 1229.6 709.5 1224.4 708.8 1219.2 708.0 1214.3 707.2 1209.3 706.3 1204.3 705.4 1199.3 704.5 1194.4 703.6 1189.4 702.6 1184.4 701.6 1179.4 700.6 1174.5 699.7 1169.5 698.7 1164.5 697.8 1159.5 696.9 1155.1 696.2 1150.7 695.6 1146.3 695.2 1141.7 695.0 1137.1 694.9 1132.5 695.0 1128.4 695.2 1124.4 695.4 1120.4 695.7 1116.4 696.1 1111.9 696.5 1107.3 697.0 1102.7 697.6 1098.2 698.1 1093.6 698.8 1089.1 699.5 1084.5 700.3 1079.9 701.1 1075.4 702.0 1070.8 702.8 1066.3 703.7 1061.7 704.7 1057.1 705.5 1052.6 706.4 1048.0 707.2 1043.5 707.9 1039.0 708.7 1034.6 709.4 1030.2 710.1 1025.8 710.8 1021.2 711.4 1016.6 712.0 1012.1 712.5 1007.5 713.0 1003.0 713.4 998.4 713.8 993.8 714.0 989.3 714.2 984.7 714.4 980.2 714.6 975.6 714.7 971.0 714.8 967.0 714.9 962.9 715.0 958.9 715.1 954.8 715.1 950.8 715.3 946.7Z"/>
<path id="v14" d="M763.0 943.4 763.1 947.3 763.1 951.3 763.2 955.2 763.2 959.2 763.3 963.1 763.4 967.1 763.5 971.0 763.7 975.6 763.8 980.2 764.0 984.7 764.3 989.3 764.5 993.8 764.8 998.4 765.2 1003.0 765.6 1007.5 766.1 1012.1 766.6 1016.6 767.2 1021.2 767.9 1025.8 768.6 1030.2 769.4 1034.6 770.1 1039.0 771.0 1043.5 771.8 1048.0 772.7 1052.6 773.6 1057.1 774.5 1061.7 775.4 1066.3 776.3 1070.8 777.1 1075.4 777.9 1079.9 778.7 1084.5 779.4 1089.1 780.1 1093.6 780.7 1098.2 781.2 1102.7 781.7 1107.3 782.1 1111.9 782.5 1116.4 782.8 1121.0 783.0 1125.5 783.2 1130.1 783.3 1134.7 783.1 1139.5 782.7 1144.2 782.1 1149.0 781.3 1154.3 780.3 1159.5 779.3 1164.5 778.1 1169.5 777.0 1174.5 776.0 1179.4 775.0 1184.4 774.1 1189.4 773.1 1194.4 772.2 1199.3 771.3 1204.3 770.5 1209.3 769.7 1214.3 768.9 1219.2 768.1 1224.4 767.5 1229.6 766.8 1234.7 766.3 1239.7 765.8 1244.7 765.3 1249.6 764.9 1254.6 764.6 1259.6 764.3 1264.6 764.1 1269.6 763.9 1274.5 763.7 1279.5 763.6 1283.6 763.5 1287.7 763.4 1291.8 763.3 1296.0 763.3 1300.1 763.2 1304.2 763.2 1308.3 763.1 1312.4 763.0 1316.5 762.4 1316.5 762.2 1312.4 762.2 1308.3 762.1 1304.2 762.0 1300.1 762.0 1296.0 761.9 1291.8 761.8 1287.7 761.7 1283.6 761.6 1279.5 761.4 1274.5 761.2 1269.6 761.0 1264.6 760.7 1259.6 760.4 1254.6 760.0 1249.6 759.6 1244.7 759.1 1239.7 758.5 1234.7 757.9 1229.6 757.2 1224.4 756.4 1219.2 755.7 1214.3 754.8 1209.3 754.0 1204.3 753.1 1199.3 752.2 1194.4 751.3 1189.4 750.3 1184.4 749.3 1179.4 748.3 1174.5 747.2 1169.5 746.0 1164.5 745.0 1159.5 744.0 1154.3 743.2 1149.0 742.6 1144.2 742.2 1139.5 742.0 1134.7 742.1 1130.1 742.3 1125.5 742.5 1121.0 742.9 1116.4 743.2 1111.9 743.6 1107.3 744.1 1102.7 744.7 1098.2 745.2 1093.6 745.9 1089.1 746.6 1084.5 747.4 1079.9 748.2 1075.4 749.0 1070.8 749.9 1066.3 750.8 1061.7 751.7 1057.1 752.6 1052.6 753.5 1048.0 754.4 1043.5 755.2 1039.0 756.0 1034.6 756.7 1030.2 757.4 1025.8 758.1 1021.2 758.7 1016.6 759.2 1012.1 759.7 1007.5 760.1 1003.0 760.5 998.4 760.8 993.8 761.1 989.3 761.3 984.7 761.5 980.2 761.6 975.6 761.8 971.0 761.9 967.1 762.0 963.1 762.1 959.2 762.1 955.2 762.2 951.3 762.2 947.3 762.4 943.4Z"/>
<path id="v15" d="M810.0 916.3 810.1 920.2 810.1 924.2 810.1 928.1 810.1 932.0 810.1 936.0 810.2 939.9 810.2 943.9 810.2 947.8 810.2 951.7 810.2 955.7 810.2 959.6 810.3 963.5 810.3 967.5 810.3 971.4 810.3 975.3 810.4 979.3 810.5 983.2 810.6 987.3 810.7 991.3 810.9 995.4 811.1 999.4 811.3 1003.5 811.6 1007.5 812.0 1012.1 812.4 1016.6 812.9 1021.2 813.4 1025.8 814.0 1030.2 814.6 1034.6 815.3 1039.0 816.0 1043.5 816.8 1048.0 817.6 1052.6 818.4 1057.1 819.3 1061.7 820.2 1066.3 821.1 1070.8 822.0 1075.4 822.9 1079.9 823.8 1084.5 824.7 1089.1 825.5 1093.6 826.3 1098.2 827.1 1102.7 827.7 1107.3 828.3 1111.9 828.7 1116.4 829.1 1120.7 829.4 1125.0 829.5 1129.4 829.5 1133.7 829.4 1138.0 829.3 1142.1 828.9 1146.3 828.3 1150.4 827.6 1154.6 826.7 1160.1 825.8 1165.6 824.7 1170.0 823.6 1174.5 822.5 1179.4 821.4 1184.4 820.3 1189.4 819.3 1194.4 818.4 1199.3 817.5 1204.3 816.6 1209.3 815.8 1214.3 815.1 1219.2 814.4 1224.4 813.8 1229.6 813.3 1234.7 812.8 1239.7 812.4 1244.7 812.0 1249.6 811.7 1254.6 811.4 1259.6 811.2 1264.6 810.9 1269.0 810.7 1273.4 810.5 1277.8 810.5 1282.3 810.4 1286.7 810.0 1291.1 809.5 1291.1 809.1 1286.7 809.0 1282.3 809.0 1277.8 808.8 1273.4 808.6 1269.0 808.3 1264.6 808.1 1259.6 807.8 1254.6 807.5 1249.6 807.1 1244.7 806.7 1239.7 806.2 1234.7 805.7 1229.6 805.1 1224.4 804.4 1219.2 803.7 1214.3 802.9 1209.3 802.0 1204.3 801.1 1199.3 800.2 1194.4 799.2 1189.4 798.1 1184.4 797.0 1179.4 795.9 1174.5 794.8 1170.0 793.7 1165.6 792.8 1160.1 791.9 1154.6 791.2 1150.4 790.6 1146.3 790.2 1142.1 790.1 1138.0 790.0 1133.7 790.0 1129.4 790.1 1125.0 790.4 1120.7 790.8 1116.4 791.2 1111.9 791.8 1107.3 792.4 1102.7 793.2 1098.2 794.0 1093.6 794.8 1089.1 795.7 1084.5 796.6 1079.9 797.5 1075.4 798.4 1070.8 799.3 1066.3 800.2 1061.7 801.1 1057.1 801.9 1052.6 802.7 1048.0 803.5 1043.5 804.2 1039.0 804.9 1034.6 805.5 1030.2 806.1 1025.8 806.6 1021.2 807.1 1016.6 807.5 1012.1 807.9 1007.5 808.2 1003.5 808.4 999.4 808.6 995.4 808.8 991.3 808.9 987.3 809.0 983.2 809.1 979.3 809.2 975.3 809.2 971.4 809.2 967.5 809.2 963.5 809.3 959.6 809.3 955.7 809.3 951.7 809.3 947.8 809.3 943.9 809.3 939.9 809.4 936.0 809.4 932.0 809.4 928.1 809.4 924.2 809.4 920.2 809.5 916.3Z"/>
<path id="v16" d="M857.1 898.6 857.2 902.5 857.2 906.4 857.2 910.3 857.2 914.2 857.2 918.1 857.3 922.0 857.3 926.0 857.3 929.9 857.3 933.8 857.3 937.7 857.3 941.6 857.4 945.5 857.4 949.4 857.4 953.3 857.5 957.2 857.6 961.1 857.6 966.1 857.8 971.0 857.9 975.6 858.1 980.2 858.3 984.7 858.5 989.3 858.7 993.8 859.0 998.4 859.4 1003.0 859.8 1007.5 860.2 1012.1 860.7 1016.6 861.3 1021.2 861.9 1025.8 862.6 1030.2 863.2 1034.6 864.0 1039.0 864.8 1043.5 865.6 1048.0 866.4 1052.6 867.3 1057.1 868.2 1061.7 869.1 1066.3 869.9 1070.8 870.7 1075.4 871.5 1079.9 872.3 1084.5 873.0 1089.1 873.7 1093.6 874.3 1098.2 874.9 1102.7 875.5 1107.3 875.9 1111.9 876.2 1116.4 876.5 1120.7 876.8 1125.0 876.9 1129.4 877.0 1133.7 877.0 1138.0 876.8 1142.6 876.5 1147.2 875.9 1151.8 875.2 1157.3 874.4 1162.9 873.5 1168.7 872.4 1174.5 871.4 1179.4 870.5 1184.4 869.5 1189.4 868.5 1194.4 867.6 1199.3 866.6 1204.3 865.7 1209.3 864.8 1214.3 863.9 1219.2 863.1 1224.4 862.4 1229.6 861.7 1234.7 861.2 1239.7 860.6 1244.7 860.2 1249.6 859.7 1254.6 859.4 1259.6 859.0 1264.6 858.7 1269.6 858.4 1274.5 858.2 1279.5 858.0 1283.5 857.8 1287.5 857.7 1291.5 857.6 1295.5 857.5 1299.5 857.4 1303.5 857.4 1307.6 857.1 1311.6 856.5 1311.6 856.3 1307.6 856.3 1303.5 856.2 1299.5 856.1 1295.5 856.0 1291.5 855.8 1287.5 855.7 1283.5 855.5 1279.5 855.3 1274.5 855.0 1269.6 854.7 1264.6 854.3 1259.6 853.9 1254.6 853.5 1249.6 853.0 1244.7 852.5 1239.7 851.9 1234.7 851.3 1229.6 850.6 1224.4 849.8 1219.2 848.9 1214.3 848.0 1209.3 847.1 1204.3 846.1 1199.3 845.2 1194.4 844.2 1189.4 843.2 1184.4 842.3 1179.4 841.2 1174.5 840.2 1168.7 839.3 1162.9 838.5 1157.3 837.8 1151.8 837.2 1147.2 836.9 1142.6 836.7 1138.0 836.7 1133.7 836.8 1129.4 836.9 1125.0 837.2 1120.7 837.4 1116.4 837.8 1111.9 838.2 1107.3 838.7 1102.7 839.3 1098.2 840.0 1093.6 840.6 1089.1 841.4 1084.5 842.1 1079.9 842.9 1075.4 843.8 1070.8 844.6 1066.3 845.5 1061.7 846.4 1057.1 847.3 1052.6 848.1 1048.0 848.9 1043.5 849.7 1039.0 850.4 1034.6 851.1 1030.2 851.8 1025.8 852.4 1021.2 852.9 1016.6 853.4 1012.1 853.9 1007.5 854.3 1003.0 854.7 998.4 855.0 993.8 855.2 989.3 855.4 984.7 855.6 980.2 855.8 975.6 855.9 971.0 856.0 966.1 856.1 961.1 856.2 957.2 856.3 953.3 856.3 949.4 856.3 945.5 856.3 941.6 856.4 937.7 856.4 933.8 856.4 929.9 856.4 926.0 856.4 922.0 856.4 918.1 856.5 914.2 856.5 910.3 856.5 906.4 856.5 902.5 856.5 898.6Z"/>
<path id="v17" d="M904.2 920.7 904.3 924.8 904.3 928.9 904.4 932.9 904.4 937.0 904.4 941.1 904.5 945.1 904.5 949.2 904.6 953.3 904.6 957.3 904.7 961.4 904.7 965.5 904.8 969.5 905.0 973.6 905.2 977.7 905.5 983.5 905.8 989.3 906.2 993.8 906.7 998.4 907.2 1003.0 907.8 1007.5 908.4 1012.1 909.1 1016.6 909.8 1021.2 910.7 1025.8 911.5 1030.2 912.4 1034.6 913.3 1039.0 914.2 1043.5 915.1 1048.0 916.0 1052.6 916.8 1057.1 917.6 1061.7 918.3 1066.3 919.1 1070.8 919.8 1075.4 920.4 1079.9 921.0 1084.5 921.6 1089.1 922.0 1093.6 922.4 1098.2 922.8 1102.7 923.2 1107.3 923.5 1111.9 923.7 1116.4 924.0 1121.0 924.1 1125.5 924.2 1130.1 924.2 1134.7 924.2 1139.5 924.0 1144.2 923.8 1149.0 923.4 1154.3 923.0 1159.5 922.3 1164.5 921.6 1169.5 920.6 1174.5 919.6 1179.4 918.5 1184.4 917.4 1189.4 916.1 1194.4 915.0 1199.3 913.8 1204.3 912.8 1209.3 911.8 1214.3 910.9 1219.2 910.0 1224.4 909.3 1229.6 908.6 1234.7 908.0 1239.7 907.5 1244.7 907.0 1249.6 906.5 1254.6 906.1 1259.6 905.7 1264.6 905.4 1268.9 905.0 1273.2 904.9 1277.5 904.8 1281.8 904.2 1286.1 903.6 1286.1 903.1 1281.8 903.0 1277.5 902.8 1273.2 902.5 1268.9 902.2 1264.6 901.8 1259.6 901.4 1254.6 900.9 1249.6 900.4 1244.7 899.8 1239.7 899.2 1234.7 898.6 1229.6 897.8 1224.4 897.0 1219.2 896.1 1214.3 895.1 1209.3 894.0 1204.3 892.9 1199.3 891.7 1194.4 890.5 1189.4 889.3 1184.4 888.2 1179.4 887.2 1174.5 886.3 1169.5 885.5 1164.5 884.9 1159.5 884.4 1154.3 884.1 1149.0 883.8 1144.2 883.7 1139.5 883.6 1134.7 883.7 1130.1 883.7 1125.5 883.9 1121.0 884.1 1116.4 884.4 1111.9 884.7 1107.3 885.0 1102.7 885.4 1098.2 885.8 1093.6 886.3 1089.1 886.8 1084.5 887.4 1079.9 888.1 1075.4 888.8 1070.8 889.5 1066.3 890.3 1061.7 891.1 1057.1 891.9 1052.6 892.8 1048.0 893.6 1043.5 894.5 1039.0 895.4 1034.6 896.3 1030.2 897.2 1025.8 898.0 1021.2 898.8 1016.6 899.5 1012.1 900.1 1007.5 900.7 1003.0 901.2 998.4 901.7 993.8 902.1 989.3 902.4 983.5 902.7 977.7 902.9 973.6 903.1 969.5 903.2 965.5 903.2 961.4 903.2 957.3 903.3 953.3 903.3 949.2 903.4 945.1 903.4 941.1 903.5 937.0 903.5 932.9 903.5 928.9 903.5 924.8 903.6 920.7Z"/>
<path id="v18" d="M951.3 937.9 951.4 941.9 951.4 945.9 951.4 950.0 951.4 954.0 951.4 958.0 951.4 962.0 951.5 966.1 951.5 970.1 951.5 974.1 951.5 978.1 951.6 982.2 951.6 986.2 951.7 990.2 951.8 994.3 952.0 998.7 952.3 1003.1 952.6 1007.5 952.9 1012.1 953.4 1016.6 953.9 1021.2 954.4 1025.8 955.0 1030.2 955.6 1034.6 956.3 1039.0 957.1 1043.5 957.9 1048.0 958.8 1052.6 959.7 1057.1 960.7 1061.7 961.8 1066.3 962.8 1070.8 963.9 1075.4 964.9 1079.9 965.9 1084.5 966.8 1089.1 967.7 1093.6 968.4 1098.2 969.2 1102.7 969.8 1107.3 970.3 1111.9 970.7 1116.4 971.1 1121.0 971.4 1125.5 971.6 1130.1 971.6 1134.7 971.6 1138.5 971.5 1142.4 971.2 1146.3 970.8 1150.7 970.3 1155.1 969.6 1159.5 968.8 1164.5 967.9 1169.5 966.9 1174.5 965.7 1179.4 964.6 1184.4 963.5 1189.4 962.3 1194.4 961.2 1199.3 960.2 1204.3 959.2 1209.3 958.3 1214.3 957.5 1219.2 956.7 1224.4 956.0 1229.6 955.3 1234.7 954.7 1239.7 954.2 1244.7 953.7 1249.6 953.3 1254.6 952.9 1259.6 952.5 1264.6 952.3 1269.6 952.1 1274.5 951.3 1279.5 950.7 1279.5 949.9 1274.5 949.7 1269.6 949.5 1264.6 949.1 1259.6 948.7 1254.6 948.3 1249.6 947.8 1244.7 947.3 1239.7 946.7 1234.7 946.1 1229.6 945.3 1224.4 944.6 1219.2 943.7 1214.3 942.8 1209.3 941.8 1204.3 940.8 1199.3 939.7 1194.4 938.6 1189.4 937.4 1184.4 936.3 1179.4 935.2 1174.5 934.1 1169.5 933.2 1164.5 932.4 1159.5 931.7 1155.1 931.2 1150.7 930.8 1146.3 930.6 1142.4 930.4 1138.5 930.4 1134.7 930.5 1130.1 930.7 1125.5 930.9 1121.0 931.3 1116.4 931.7 1111.9 932.3 1107.3 932.9 1102.7 933.6 1098.2 934.4 1093.6 935.2 1089.1 936.1 1084.5 937.1 1079.9 938.2 1075.4 939.2 1070.8 940.3 1066.3 941.3 1061.7 942.3 1057.1 943.3 1052.6 944.1 1048.0 944.9 1043.5 945.7 1039.0 946.4 1034.6 947.0 1030.2 947.6 1025.8 948.2 1021.2 948.7 1016.6 949.1 1012.1 949.5 1007.5 949.8 1003.1 950.0 998.7 950.2 994.3 950.3 990.2 950.4 986.2 950.5 982.2 950.5 978.1 950.5 974.1 950.5 970.1 950.6 966.1 950.6 962.0 950.6 958.0 950.6 954.0 950.7 950.0 950.7 945.9 950.7 941.9 950.7 937.9Z"/>
<path id="v19" d="M998.4 980.4 998.8 985.0 998.9 989.5 999.0 994.0 999.2 998.5 999.4 1003.0 999.6 1007.5 999.8 1012.1 1000.1 1016.6 1000.4 1021.2 1000.8 1025.8 1001.1 1030.2 1001.6 1034.6 1002.0 1039.0 1002.6 1043.5 1003.1 1048.0 1003.7 1052.6 1004.3 1057.1 1005.0 1061.7 1005.6 1066.3 1006.2 1070.8 1006.9 1075.4 1007.5 1079.9 1008.0 1084.5 1008.6 1089.1 1009.2 1093.6 1009.7 1098.2 1010.3 1102.7 1010.9 1107.3 1011.5 1111.9 1012.2 1116.4 1012.9 1121.0 1013.6 1125.5 1014.3 1130.1 1014.9 1134.7 1015.5 1139.2 1016.1 1143.8 1016.6 1148.3 1017.0 1152.9 1017.4 1156.2 1017.8 1159.5 1018.0 1164.5 1018.2 1169.5 1018.3 1174.5 1018.3 1179.4 1018.2 1184.4 1018.0 1189.4 1017.5 1194.4 1016.9 1199.3 1016.1 1204.3 1015.0 1209.3 1013.8 1214.3 1012.4 1219.2 1010.8 1224.4 1009.3 1229.6 1007.8 1234.7 1006.3 1239.7 1004.9 1244.7 1003.7 1249.6 1002.6 1254.6 1001.7 1259.6 1001.0 1264.6 1000.4 1269.6 999.9 1274.5 999.5 1279.5 999.3 1283.7 999.1 1287.9 998.9 1292.1 998.8 1296.2 998.7 1300.4 998.7 1304.6 998.4 1308.8 997.8 1308.8 997.6 1304.6 997.5 1300.4 997.4 1296.2 997.3 1292.1 997.1 1287.9 996.9 1283.7 996.7 1279.5 996.3 1274.5 995.8 1269.6 995.3 1264.6 994.5 1259.6 993.6 1254.6 992.5 1249.6 991.3 1244.7 989.9 1239.7 988.5 1234.7 986.9 1229.6 985.4 1224.4 983.9 1219.2 982.4 1214.3 981.2 1209.3 980.2 1204.3 979.3 1199.3 978.7 1194.4 978.3 1189.4 978.0 1184.4 977.9 1179.4 977.9 1174.5 978.0 1169.5 978.2 1164.5 978.5 1159.5 978.8 1156.2 979.2 1152.9 979.7 1148.3 980.2 1143.8 980.7 1139.2 981.3 1134.7 982.0 1130.1 982.6 1125.5 983.3 1121.0 984.0 1116.4 984.7 1111.9 985.3 1107.3 985.9 1102.7 986.5 1098.2 987.1 1093.6 987.6 1089.1 988.2 1084.5 988.8 1079.9 989.4 1075.4 990.0 1070.8 990.6 1066.3 991.3 1061.7 991.9 1057.1 992.5 1052.6 993.1 1048.0 993.7 1043.5 994.2 1039.0 994.7 1034.6 995.1 1030.2 995.5 1025.8 995.8 1021.2 996.1 1016.6 996.4 1012.1 996.6 1007.5 996.9 1003.0 997.1 998.5 997.3 994.0 997.4 989.5 997.4 985.0 997.8 980.4Z"/>
<path id="v20" d="M1045.5 1034.1 1045.6 1038.1 1045.7 1042.1 1045.7 1046.2 1045.8 1050.2 1045.9 1054.2 1045.9 1058.3 1046.0 1062.3 1046.1 1066.3 1046.3 1070.4 1046.6 1074.4 1046.9 1078.4 1047.3 1082.4 1047.8 1086.4 1048.5 1090.4 1049.2 1094.4 1049.9 1098.4 1050.7 1102.4 1051.6 1106.4 1052.6 1110.3 1053.5 1114.4 1054.5 1118.5 1055.5 1122.6 1056.5 1126.7 1057.5 1130.8 1058.6 1134.8 1059.6 1138.8 1060.6 1142.7 1061.5 1146.7 1062.4 1150.7 1063.2 1154.8 1063.9 1158.9 1064.5 1163.0 1064.9 1167.1 1065.3 1171.2 1065.5 1175.1 1065.7 1179.1 1065.7 1183.1 1065.6 1187.1 1065.5 1191.1 1065.2 1195.1 1064.9 1199.2 1064.6 1203.3 1064.1 1207.4 1063.5 1211.5 1063.0 1215.5 1062.4 1219.5 1061.7 1223.4 1060.9 1227.4 1060.0 1231.4 1059.2 1235.4 1058.3 1239.4 1057.3 1243.3 1056.4 1247.3 1055.5 1251.3 1054.6 1255.4 1053.8 1259.5 1053.0 1263.6 1052.3 1267.7 1051.6 1271.8 1051.0 1275.7 1050.4 1279.7 1049.8 1283.7 1049.3 1287.7 1048.9 1291.7 1048.4 1295.8 1048.0 1299.8 1047.6 1303.9 1047.2 1308.0 1047.0 1312.1 1046.8 1315.4 1046.0 1318.7 1044.4 1318.7 1043.6 1315.4 1043.4 1312.1 1043.2 1308.0 1042.8 1303.9 1042.4 1299.8 1042.0 1295.8 1041.5 1291.7 1041.1 1287.7 1040.6 1283.7 1040.0 1279.7 1039.4 1275.7 1038.8 1271.8 1038.1 1267.7 1037.4 1263.6 1036.6 1259.5 1035.8 1255.4 1034.9 1251.3 1034.0 1247.3 1033.1 1243.3 1032.1 1239.4 1031.2 1235.4 1030.4 1231.4 1029.5 1227.4 1028.7 1223.4 1028.0 1219.5 1027.4 1215.5 1026.9 1211.5 1026.3 1207.4 1025.8 1203.3 1025.5 1199.2 1025.2 1195.1 1024.9 1191.1 1024.8 1187.1 1024.7 1183.1 1024.7 1179.1 1024.9 1175.1 1025.1 1171.2 1025.5 1167.1 1025.9 1163.0 1026.5 1158.9 1027.2 1154.8 1028.0 1150.7 1028.9 1146.7 1029.8 1142.7 1030.8 1138.8 1031.8 1134.8 1032.9 1130.8 1033.9 1126.7 1034.9 1122.6 1035.9 1118.5 1036.9 1114.4 1037.8 1110.3 1038.8 1106.4 1039.7 1102.4 1040.5 1098.4 1041.2 1094.4 1041.9 1090.4 1042.6 1086.4 1043.1 1082.4 1043.5 1078.4 1043.8 1074.4 1044.1 1070.4 1044.3 1066.3 1044.4 1062.3 1044.5 1058.3 1044.5 1054.2 1044.6 1050.2 1044.7 1046.2 1044.7 1042.1 1044.8 1038.1 1044.9 1034.1Z"/>
</defs>
<use href="#v0" fill="#EF716C"/>
<g stroke="#000" stroke-opacity="0.170" stroke-width="4.8" stroke-linecap="round" fill="none">
<path d="M88 1079h0m-1-11h0m14 116h0m-15-100h0m4-150h0m-2 119h0m15 36h0m-13 98h0m29-167h0m-3 27h0m-1 76h0m-20-134h0m-6 55h0m1 56h0m11-51h0m2 27h0m6-45h0m5-63h0m-6 121h0m-22-49h0m6-64h0m-7 113h0m32-20h0m-16-70h0m-5 48h0m25 112h0m0-202h0m-11-7h0m8 167h0m-23-101h0m10 127h0m9-170h0m8 157h0m-30-68h0m6-40h0m14 33h0m-9-64h0m7 22h0m6 136h0m0-207h0m-31 193h0m26-127h0m-16 11h0m11 144h0m-1-160h0m10 42h0m-12 144h0m5-186h0m6-94h0m-3 182h0m-8-52h0m3 69h0m6 29h0"/>
<path d="M95 1197h0m-2-189h0m19 84h0m7 82h0m-7-59h0m-9 40h0m18-81h0m-17-16h0m8 28h0m-9 34h0m7-47h0m-23 22h0m17 104h0m1-154h0m-8 39h0m15-63h0m8-72h0m-29 243h0m27-173h0m-6 49h0m1-9h0m-14-22h0m7 58h0m-11 23h0m23-151h0m-32 188h0m20-62h0m14 49h0m-22-150h0m-3 2h0m-7 34h0m-2 151h0m6-94h0m15 89h0m-10-16h0m-7-117h0m8-43h0m-12 174h0m19-50h0m13-93h0m-3-46h0m-18 87h0m6 0h0m17-80h0m-2 93h0m-14-19h0m12-126h0m-27 163h0m19-147h0m12-26h0m-1 143h0m-26 46h0"/>
<path d="M120 1096h0m-21-82h0m13 41h0m-16 53h0m5-68h0m21-35h0m-4-5h0m-27 24h0m27-52h0m-5 18h0m-13 44h0m1-21h0m2 18h0m-8 1h0m15-76h0m-23 133h0m28-101h0m-26 172h0m30-133h0m-20-67h0m19 137h0m-25 100h0m19-167h0m-6 112h0m5-37h0m-17-102h0m19-25h0m6 80h0m-10 38h0m3-84h0m9 54h0m-6 102h0m-8-242h0m7 192h0m-17-211h0m-4 39h0m1 168h0m15-107h0m-16 22h0m-1 53h0m25-145h0m-28 150h0m0-129h0m33 107h0m-32 49h0m28-91h0m-26 84h0m22-53h0m-27 104h0m7 8h0m20-91h0m-10 29h0"/>
<path d="M112 1047h0m-19 73h0m22-89h0m-9-2h0m-7 3h0m10 73h0m-22-13h0m26 64h0m-11-172h0m-8 64h0m-9-18h0m3-73h0m19 76h0m11-41h0m-7 57h0m8 67h0m-24-36h0m0-54h0m14 76h0m-8-53h0m-9 11h0m25-70h0m4 42h0m-27-25h0m14 54h0m-17-101h0m19 137h0m-23-52h0m7-16h0m13-25h0m-12 120h0m-2 10h0m-7-106h0m28 105h0m-20-12h0m16-38h0m-17-23h0m17-50h0m-21 79h0m3-121h0m-7-16h0m34 55h0m-4 72h0m-12-96h0m-9 150h0m6-124h0m-4 7h0m12-3h0m-23-65h0m12 39h0m-2-36h0m6 113h0"/>
<path d="M106 1074h0m13 53h0m0-28h0m-9-93h0m-6-68h0m-12 171h0m3-36h0m26 7h0m-27 67h0m-4-150h0m0-9h0m8 43h0m10 156h0m2-214h0m-7 5h0m5 57h0m-2 89h0m3-61h0m4-11h0m0-43h0m-23 46h0m27-142h0m1 109h0m-9 47h0m-17 133h0m0-79h0m29-186h0m-22 251h0m-8-140h0m25-64h0m-30 108h0m23-75h0m5 77h0m7 99h0m-26-242h0m20 166h0m-5-199h0m0 127h0m-14-121h0m-3 7h0m6 16h0m-6 111h0m12-153h0m11 138h0m5 147h0m-4-132h0m-3 16h0m-11-29h0m-3-11h0m21 149h0m-16-128h0m-14-133h0"/>
</g>
<use href="#v0" fill="none" stroke="#111" stroke-width="1.1" stroke-linejoin="round"/>
<rect x="87.9" y="1048.9" width="31" height="3.4" fill="#fff"/>
<use href="#v1" fill="#E88038"/>
<g stroke="#000" stroke-opacity="0.290" stroke-width="4.8" stroke-linecap="round" fill="none">
<path d="M167 1114h0m-17-171h0m17 79h0m-17-1h0m15 91h0m1-146h0m-5 143h0m2 85h0m-5-42h0m-20-120h0m20-15h0m0 97h0m-15-42h0m9 95h0m9-190h0m-27 76h0m-1 70h0m19 25h0m7 39h0m-10-62h0m-17-141h0m23 120h0m-18-26h0m21-5h0m-24 80h0m35-33h0m-24-96h0m-2 10h0m7 21h0m-12 27h0m-4 89h0m0-72h0m34 12h0m-12-30h0m12-54h0m-24 119h0m25 53h0m-17-82h0m-6-36h0m-1-17h0m-2-66h0m-5 55h0m10-112h0m11 127h0m-4-43h0m0 60h0m-12 60h0m-3-58h0m-7-82h0m25 6h0"/>
<path d="M161 1105h0m-9-141h0m13 63h0m-12 181h0m-21-48h0m14-225h0m8 220h0m-16-164h0m27 30h0m-5 49h0m-1 32h0m-6-76h0m-18 144h0m3-71h0m26 60h0m1-34h0m-24-43h0m-7-73h0m35-14h0m-19 96h0m5-80h0m14-18h0m-29 185h0m14-109h0m13-1h0m-12 27h0m-2-18h0m14-42h0m-32-110h0m18 150h0m4-68h0m3-5h0m-20 59h0m7 33h0m17-23h0m2 14h0m3 79h0m-3 39h0m-27-48h0m23-30h0m-4-179h0m-16 172h0m2 23h0m-2-117h0m-4-22h0m2 106h0m-3 77h0m-5-37h0m7 77h0m11-43h0"/>
<path d="M155 1078h0m-16 15h0m27-34h0m-21-31h0m22 151h0m-24-214h0m17 36h0m-12 73h0m-10 117h0m-4-177h0m1 58h0m20 75h0m-6-59h0m-2-8h0m17 7h0m0-137h0m-10 116h0m-19 16h0m4-64h0m-6 64h0m5 56h0m30-31h0m-34-36h0m28 134h0m-25-36h0m9-70h0m14 44h0m-1-79h0m5-91h0m-13 146h0m-5 135h0m-1-258h0m5 17h0m10 121h0m-27-119h0m3 104h0m32-143h0m-30 90h0m6 49h0m-6-58h0m20 108h0m-26-103h0m11-26h0m26-53h0m-13 98h0m-4-61h0m-5 125h0m1-176h0m9 210h0m-1-109h0"/>
<path d="M142 1009h0m5 142h0m-8-148h0m8 3h0m-14-8h0m33 45h0m-20-32h0m11-75h0m-9 132h0m-11 70h0m-4-235h0m12 44h0m6 159h0m-8 23h0m11 87h0m-11-14h0m15-5h0m-17-78h0m15-54h0m-15 18h0m-8 53h0m15-146h0m-3 137h0m14-73h0m-6 64h0m-10-185h0m-7 200h0m24-52h0m-2-64h0m11 54h0m-4 130h0m-3-185h0m0 177h0m4-175h0m-21 95h0m-3-124h0m20 68h0m-30 3h0m32-6h0m-14-16h0m1 172h0m17-206h0m-18 194h0m-16-201h0m10 123h0m4 14h0m-1-170h0m21 6h0m-35 71h0m5 106h0"/>
<path d="M148 1177h0m3-134h0m1-82h0m12 66h0m-9-3h0m-5-3h0m17 56h0m-21-7h0m4 22h0m-7 75h0m4-37h0m10-111h0m8 51h0m2-1h0m-12-5h0m-10 37h0m17 40h0m-22 46h0m17-161h0m-12 164h0m-12-216h0m29 35h0m-28-45h0m4 72h0m-5 21h0m20-41h0m3-61h0m-17 29h0m-1 178h0m14-71h0m10-36h0m-21 133h0m-2-156h0m5-75h0m-11 102h0m10 45h0m13-111h0m5 60h0m-28 28h0m16 49h0m-10 80h0m20-241h0m-27 72h0m21 28h0m12 23h0m-18 14h0m-15-45h0m3-84h0m14 206h0m12-159h0"/>
<path d="M139 1083h0m-1-94h0m6-14h0m-6 253h0m10-250h0m14 180h0m4-145h0m-13 55h0m3 38h0m-18 15h0m27 20h0m-17-194h0m-5 100h0m24 72h0m-22-56h0m-12 43h0m30-16h0m4 71h0m-24-37h0m2 80h0m5-205h0m-7 221h0m3-146h0m16-80h0m-11 106h0m-11-74h0m26 106h0m-17-17h0m-14-107h0m19 26h0m14 128h0m-1 9h0m-7-88h0m-6 61h0m-12-50h0m2-46h0m-7 52h0m-1-1h0m-1-45h0m6 63h0m-7-64h0m4 79h0m28-139h0m-14-56h0m13 20h0m-10 273h0m-9-147h0m7-34h0m-14-74h0m0 123h0"/>
<path d="M133 1068h0m17 61h0m-13-203h0m24 263h0m-27-181h0m8 58h0m16 12h0m-13-141h0m22 162h0m-15-43h0m5 163h0m11-25h0m-18-256h0m18 113h0m-14-117h0m-14 74h0m20 210h0m-4-222h0m-8 152h0m-8-83h0m17 152h0m-7-190h0m-2-64h0m20 215h0m-32-144h0m31 84h0m-13-13h0m-3-144h0m-6 70h0m3-35h0m15 195h0m-17-209h0m-14 93h0m31 41h0m-4-58h0m5-15h0m-30 35h0m27-133h0m-20 217h0m28-113h0m0 66h0m-4-37h0m-11 32h0m3 28h0m-9-2h0m-3-108h0m14 25h0m-23 134h0m31-169h0m-30 108h0"/>
<path d="M136 1025h0m12 59h0m14 27h0m-24-63h0m22 5h0m-13 100h0m-5 67h0m7-224h0m-14 168h0m31-12h0m-4 38h0m-25-106h0m3-70h0m7 73h0m3 6h0m-4-83h0m14-14h0m7 126h0m-8 3h0m-24-115h0m16-9h0m-8 65h0m-10-55h0m32 130h0m-10-182h0m-4 220h0m-9-152h0m2-3h0m-10 64h0m10-72h0m15 110h0m-13-35h0m16-83h0m-21 121h0m20-49h0m-9-42h0m15-61h0m-19 199h0m5-140h0m12 84h0m-1-108h0m-23 73h0m-4-63h0m20 40h0m-20 49h0m-4-55h0m19-51h0m15 130h0m-25 25h0m2-115h0"/>
<path d="M132 1053h0m7 17h0m17-112h0m8 116h0m-26 46h0m9-47h0m10-127h0m-14 130h0m19 96h0m-3 15h0m-3-70h0m-12 33h0m20-145h0m-8 121h0m-18-105h0m17 132h0m-2-22h0m-2-67h0m2-22h0m6 43h0m-20 56h0m28-33h0m-22-100h0m1 73h0m5-7h0m9 29h0m-15-173h0m-10 165h0m18 21h0m2 92h0m-10-158h0m13 8h0m-16 167h0m19-84h0m-25-165h0m9-2h0m8-1h0m12 223h0m-5-190h0m4 20h0m-28-41h0m10 127h0m18 32h0m2-114h0m-11 12h0m-10 92h0m-13-40h0m16-138h0m-4 25h0m11 48h0"/>
<path d="M140 1214h0m25-225h0m2 83h0m-22 75h0m-5 31h0m17-128h0m-17 11h0m24 9h0m-17-31h0m-7-33h0m0 64h0m18 151h0m-7-243h0m16 117h0m-20 68h0m5 46h0m-13-123h0m20-83h0m3 91h0m-19-33h0m24 34h0m-1 149h0m-4-190h0m-3 69h0m5-166h0m-12 174h0m-12 27h0m-5-213h0m27 162h0m-28-13h0m11 10h0m19-155h0m-28 180h0m-1-119h0m34 205h0m-23-73h0m15-73h0m-4-119h0m-10 73h0m-4 53h0m9-178h0m-19 234h0m-1-60h0m28-49h0m-20 157h0m-7-154h0m24-40h0m-2 110h0m-5 61h0m9-182h0"/>
<path d="M153 1057h0m-11 31h0m-3 79h0m2-25h0m1-46h0m2-53h0m18-33h0m-27 25h0m5 133h0m24-57h0m-17-84h0m-15-49h0m21-18h0m-5 138h0m-4-82h0m6-78h0m-15 103h0m16 27h0m-12-29h0m20 103h0m-18 18h0m-5-74h0m19-86h0m-15 150h0m-3-116h0m7 69h0m24-112h0m-3 50h0m3-5h0m-27-95h0m3 191h0m21-107h0m-26 144h0m25-6h0m-10-101h0m0 69h0m-18-30h0m3-172h0m-2 96h0m29-17h0m-7 34h0m8 15h0m2-29h0m-24 9h0m-12 39h0m22 54h0m12-130h0m-13 5h0m11 11h0m-6 87h0"/>
<path d="M152 1142h0m-1-52h0m-1 10h0m-13 70h0m-5-176h0m9-37h0m-3 44h0m10-40h0m19 79h0m-9-39h0m-4 115h0m-18 56h0m7-42h0m26-76h0m-19 111h0m-17-21h0m33-156h0m-31 201h0m-3-103h0m30 96h0m-4-56h0m-12-142h0m2 203h0m-13-75h0m28 39h0m-1-156h0m-11 28h0m0 118h0m-8-97h0m23-36h0m-11 35h0m-3 62h0m6-69h0m-20 67h0m-3-61h0m9-107h0m11 122h0m7-17h0m-27 103h0m32-97h0m0 94h0m-7-90h0m-9 44h0m10 2h0m-5 35h0m3 23h0m-23-94h0m22-43h0m-23 115h0m16-72h0"/>
<path d="M141 988h0m7 132h0m11-84h0m-16 14h0m12 2h0m10 16h0m-31 26h0m33-53h0m0 73h0m-18 103h0m-5-156h0m25-118h0m-12 284h0m7-180h0m-3-4h0m-15-32h0m3 82h0m19-151h0m-26 142h0m-5 17h0m8-123h0m-9 133h0m14-76h0m14-52h0m-10 223h0m-19-180h0m28 9h0m-27 89h0m1-187h0m22 158h0m-24-24h0m26-128h0m0 232h0m-3 15h0m-15-38h0m14-73h0m-12-8h0m-4-77h0m5 119h0m-5-54h0m14 23h0m14 96h0m-25-163h0m19 106h0m-26-145h0m18 24h0m-15 231h0m15-191h0m5-50h0m-1 20h0"/>
<path d="M159 1097h0m3 76h0m0-116h0m-2-38h0m-25-25h0m17 200h0m-13 0h0m3-149h0m16-47h0m-6 141h0m10-98h0m-1 75h0m-12 0h0m4-7h0m-6 33h0m0-170h0m11 187h0m7-41h0m4-122h0m-29-23h0m22 160h0m-12-20h0m19-78h0m0 70h0m-26-96h0m6 84h0m15 45h0m2-87h0m-15 87h0m0-59h0m-3-103h0m-11 223h0m31-24h0m-23-87h0m22-55h0m-1-90h0m-21 161h0m4 27h0m-12-109h0m20-46h0m-4 45h0m-3-50h0m-10 57h0m23 35h0m-8-28h0m0 90h0m-17-70h0m-3-32h0m-1 55h0m21-38h0"/>
<path d="M145 1029h0m-13-58h0m15 92h0m5 16h0m-10-48h0m26 176h0m-15-136h0m-1-89h0m-5 123h0m7-48h0m-6-71h0m-9 153h0m-1 8h0m7-80h0m9 52h0m-18-24h0m32-93h0m-24 84h0m6 66h0m15-68h0m-11 37h0m-3-27h0m16-125h0m-17 193h0m5-162h0m-20 128h0m16 64h0m15-191h0m-23 52h0m-6 168h0m31-222h0m-33 32h0m7 160h0m-4-32h0m1-20h0m-1-52h0m29 30h0m-35 44h0m5-100h0m7-24h0m-6 35h0m29 63h0m-22-161h0m-6 147h0m26 8h0m0-96h0m-21 171h0m-1-171h0m21 57h0m-19-50h0"/>
<path d="M157 1019h0m-11 129h0m13-107h0m-5 143h0m-13-92h0m-3 93h0m11-98h0m-9 10h0m20-60h0m-17 88h0m-10-26h0m25-47h0m-15-39h0m5 51h0m15 123h0m-25-208h0m-2 192h0m25-6h0m-2-23h0m6-153h0m-14-33h0m12 97h0m-25-2h0m28 21h0m-22-26h0m18 15h0m-8 118h0m3-50h0m2-94h0m-17 138h0m-6-34h0m7-94h0m-2-42h0m18-42h0m-7 102h0m-16-61h0m26 116h0m-2-32h0m9 84h0m-10-123h0m-1 39h0m3-17h0m7-48h0m-6 70h0m-7 23h0m-23-86h0m34 83h0m-21-95h0m7 74h0m11-66h0"/>
<path d="M159 1037h0m4 3h0m-1-79h0m-3 140h0m-2-24h0m-25-97h0m31 138h0m-18-101h0m-8 209h0m11-193h0m9 87h0m-15 46h0m26-13h0m-5-100h0m-7 39h0m-18 59h0m6 68h0m-4-148h0m26 63h0m-24-50h0m11 107h0m-13-47h0m-7-7h0m3-75h0m28 6h0m-11 48h0m6 38h0m-21 7h0m14-148h0m-12-44h0m-4 67h0m20 159h0m4-198h0m-16 4h0m-6-14h0m4 212h0m23-138h0m-28 129h0m28 10h0m-28-159h0m13-31h0m-6 75h0m-1-70h0m18 127h0m-15-24h0m14-72h0m1 61h0m-3-64h0m-3 116h0m-21-315h0"/>
<path d="M160 1056h0m-8 5h0m-7-63h0m4 163h0m-16-158h0m27 61h0m-28 93h0m36-75h0m-2 29h0m-27-146h0m-3 167h0m25 0h0m4-81h0m-9-18h0m10 17h0m-15 103h0m2-144h0m-9 13h0m-6-44h0m7 167h0m-13-112h0m22-68h0m14 122h0m-16 19h0m8-112h0m-15 50h0m1 108h0m-4-180h0m12 105h0m-7 66h0m-12-24h0m16-125h0m18-19h0m-14 113h0m-8 5h0m20-53h0m-31-39h0m0 17h0m3-3h0m5 63h0m8-12h0m8-41h0m-24-27h0m-1 125h0m11-7h0m9 19h0m1 42h0m7-82h0m-5-144h0m-11 145h0"/>
<path d="M137 1104h0m27-59h0m0-52h0m-10 16h0m-18 20h0m12 121h0m13 55h0m1-86h0m0-64h0m-12 26h0m-7-83h0m2 79h0m4 77h0m-7-51h0m12-78h0m-3 6h0m0 57h0m0 66h0m8-134h0m-18 91h0m25-41h0m3 15h0m-3 84h0m-24-162h0m4 135h0m22-105h0m-19 35h0m-12-10h0m7-65h0m7 219h0m7-153h0m-16-74h0m2-12h0m-2 133h0m13-80h0m-11 51h0m3 79h0m-13-151h0m19 181h0m7-20h0m-17 13h0m-1 7h0m3-131h0m-11 72h0m17-185h0m-3 157h0m6-11h0m-18-2h0m28 29h0m-21-195h0"/>
<path d="M143 1058h0m9 83h0m6-129h0m9 65h0m-1 92h0m-5-171h0m7 46h0m-22-106h0m-4 264h0m-2-230h0m20 39h0m-10 19h0m-16-10h0m23 144h0m-6-145h0m16-25h0m-20 81h0m0-93h0m18 146h0m-10-59h0m3 13h0m-24 4h0m25 15h0m-16-85h0m14-16h0m-15 3h0m-9-41h0m10 124h0m8-44h0m-10 85h0m12-7h0m-11-48h0m12 45h0m13-63h0m-22-44h0m14 17h0m-27-73h0m2 99h0m23-90h0m-13 192h0m1-90h0m4-29h0m15 31h0m2-121h0m-20 208h0m14-101h0m-4 73h0m-9-2h0m-11 30h0m-2-105h0"/>
<path d="M134 1157h0m12-93h0m21-21h0m-17 136h0m18-77h0m-15-137h0m12 38h0m1 73h0m-30-91h0m21 84h0m11 34h0m-16-106h0m6 38h0m5-27h0m-14-27h0m-11 99h0m16-36h0m-17 70h0m11 29h0m-8-146h0m27 90h0m-9 91h0m9-73h0m1 7h0m-27-29h0m17-23h0m0-42h0m6 97h0m-3-134h0m-9 214h0m-16-163h0m8 6h0m-2-77h0m1 8h0m9 250h0m-9-48h0m20-159h0m3 56h0m-24 173h0m-8-207h0m32 187h0m-1-181h0m-20 56h0m15-50h0m5-92h0m-14 159h0m14-41h0m-22-43h0m-11 53h0m13-120h0"/>
<path d="M137 998h0m24-29h0m5 11h0m-6 110h0m-27 6h0m23-84h0m13 167h0m-16-75h0m-21 23h0m33 29h0m-28-166h0m22-18h0m-16 111h0m19 25h0m-22-74h0m11 93h0m-15-141h0m21 47h0m-7 66h0m8 84h0m-16-93h0m0 44h0m-4-72h0m1 164h0m12-197h0m-14 63h0m25-99h0m-9 18h0m1-3h0m-7 43h0m19-78h0m-2 67h0m-9 29h0m-19 97h0m30 21h0m-21-254h0m11 75h0m-20 1h0m30 31h0m2-47h0m-29 128h0m20-157h0m-10 122h0m-12-101h0m11 37h0m4 121h0m-2-4h0m-6-192h0m-12 74h0m21-97h0"/>
<path d="M139 1157h0m-2-85h0m12 27h0m-13 40h0m27-98h0m-26-68h0m19 126h0m-23 71h0m6-64h0m27-15h0m-18 76h0m-10-82h0m20-67h0m-21 64h0m13-42h0m-17-87h0m0 73h0m32-64h0m-10 223h0m-13-23h0m22-194h0m-1 53h0m-27 130h0m1-168h0m7 124h0m5-125h0m16 2h0m-4 162h0m-23-64h0m-1 20h0m21 7h0m-11-15h0m-4-47h0m24-78h0m-23 102h0m-1-34h0m-7 60h0m21 82h0m4 16h0m-3-219h0m-8 12h0m16 181h0m-20-56h0m-11 36h0m12-115h0m16-24h0m-21 151h0m27-69h0m-31 46h0m29 54h0"/>
<path d="M134 1064h0m31-67h0m-26 13h0m-3 133h0m6-109h0m9 93h0m-9 38h0m-6-49h0m21-175h0m-2 86h0m-22 157h0m21-102h0m4-58h0m6 79h0m-13 44h0m8-29h0m-7 71h0m-3-188h0m11 62h0m-9 11h0m-12 80h0m3-101h0m6 15h0m-2 42h0m-7-124h0m14 197h0m8-191h0m4 106h0m3-57h0m-11 73h0m-5-90h0m-15 169h0m7-69h0m-12 44h0m18-25h0m-1-127h0m18 85h0m-13 26h0m-3-176h0m4 215h0m-7 12h0m-5-29h0m0-50h0m19-100h0m-23 78h0m13 83h0m-14-293h0m13 172h0m6 24h0m-19-49h0"/>
<path d="M160 1139h0m-14-200h0m-6 140h0m-8-12h0m13 64h0m-1-11h0m-8-125h0m-4 155h0m33-80h0m-27-57h0m21 89h0m2-95h0m0 117h0m-9-13h0m17-179h0m-13 55h0m-17 163h0m17 5h0m5-139h0m-17-56h0m-3 122h0m0 12h0m-5-101h0m20 86h0m8-2h0m-14-143h0m-6 106h0m25 98h0m-32-155h0m21 155h0m-23-128h0m20 50h0m-2-102h0m-14 60h0m-4 92h0m17 16h0m16-146h0m-33 54h0m-2 81h0m0 15h0m17-16h0m14-154h0m-15 112h0m-5 109h0m-3-202h0m20 103h0m-18 103h0m17-172h0m-8 13h0m7 202h0"/>
<path d="M146 1057h0m6-98h0m1 157h0m9-1h0m-19-176h0m-7 282h0m33-83h0m-28-28h0m2-125h0m13 102h0m-19-60h0m23 55h0m5 56h0m-26-81h0m5 20h0m15-24h0m-20 143h0m23-199h0m-10 75h0m9 40h0m-3-134h0m5 75h0m-9-37h0m12-64h0m-20 202h0m-11-29h0m26-164h0m1 232h0m-13-32h0m-9-39h0m8-51h0m9-114h0m3 163h0m-18-2h0m10-82h0m6 16h0m-11 27h0m0-62h0m1 163h0m-16-56h0m9-57h0m16-72h0m5 161h0m-16-111h0m-6 19h0m-5 41h0m24-154h0m-26 109h0m13 73h0m-6 1h0"/>
<path d="M165 1025h0m3 29h0m-8 24h0m5 38h0m-9-9h0m9-148h0m-16 27h0m6 32h0m-8 236h0m-11-174h0m-3 9h0m28-117h0m-25 244h0m-2-280h0m19 142h0m-1-76h0m1 74h0m-13 101h0m-7-142h0m4 21h0m26 21h0m-19-112h0m14 174h0m4-140h0m-25-59h0m23 105h0m-7-10h0m12 78h0m-29-149h0m1 180h0m0-68h0m20-26h0m-3 149h0m-22-102h0m33-107h0m-25 167h0m29-67h0m-35-58h0m22 115h0m-5 29h0m-18-169h0m4 24h0m12-36h0m-16 3h0m24-6h0m-8 165h0m-13-51h0m1 85h0m29-60h0m-14-39h0"/>
<path d="M144 1168h0m21-100h0m-13 58h0m5-62h0m-20 134h0m22-80h0m-19-128h0m23 155h0m0-164h0m-1 190h0m-27-40h0m18-94h0m-3 71h0m14-59h0m3-50h0m-20-27h0m6 105h0m14-82h0m-35 58h0m26 3h0m-8-49h0m17 216h0m-34-259h0m22 73h0m-18-28h0m-2 179h0m30-31h0m-30-45h0m14-52h0m4-17h0m-10 124h0m16-13h0m-24-118h0m12-18h0m10 75h0m-4-52h0m-6 73h0m6-58h0m-7 34h0m1-33h0m16 52h0m-18-161h0m-11 82h0m23 86h0m-9-73h0m12-30h0m-15-44h0m-2 128h0m22 50h0m-3-86h0"/>
<path d="M158 1103h0m-22-246h0m16 278h0m-17-55h0m21 22h0m-8 37h0m-5-152h0m-7 141h0m21-24h0m-18-103h0m30 45h0m-31 65h0m28-66h0m-4 35h0m6 35h0m-36-32h0m18-120h0m-4 221h0m-6-49h0m27-84h0m-18 11h0m9 7h0m-6-65h0m-16 112h0m16-148h0m-4 66h0m-9-13h0m8 13h0m3 0h0m15 106h0m-25-24h0m-5-53h0m15-7h0m7-13h0m-11-35h0m-10-19h0m23-20h0m-24 138h0m17-110h0m-15 6h0m0 4h0m28 69h0m-8-141h0m-22 70h0m3 41h0m17 23h0m2 62h0m-9-11h0m-4-45h0m-11 32h0"/>
<path d="M156 1121h0m-11-130h0m0 75h0m-10 77h0m13-184h0m-15 45h0m20 44h0m-3 28h0m-7 9h0m9-13h0m0 35h0m-7-112h0m-12 77h0m29 31h0m-11-91h0m9 24h0m9 26h0m-26-101h0m21 79h0m-5-11h0m-26 94h0m10-129h0m18 107h0m6-111h0m1 160h0m-19-204h0m6 133h0m9-50h0m5-67h0m-15 134h0m15-33h0m-23-99h0m22 162h0m-35-106h0m7 108h0m-1-60h0m-5 55h0m10 10h0m24-113h0m-2-42h0m-13 92h0m5 84h0m5 21h0m-26-126h0m0-64h0m20 135h0m6-56h0m-25-107h0m13-18h0m-6 219h0"/>
<path d="M139 1082h0m15 90h0m-10-158h0m14 152h0m-4-215h0m-18 22h0m18 87h0m-7 121h0m13-194h0m-23 80h0m18 31h0m6-17h0m4 12h0m-6 88h0m-23-55h0m12 49h0m11-81h0m-27 14h0m25 12h0m-15-126h0m1 134h0m1-130h0m-1 115h0m13-61h0m8 60h0m-20 2h0m-8 40h0m4-103h0m-6-17h0m14 168h0m15-136h0m-27-42h0m27 14h0m-27 45h0m32 13h0m-17-122h0m-18 54h0m15 166h0m2-5h0m-16-133h0m32-59h0m0 126h0m-11 40h0m-17-100h0m13 79h0m8-202h0m-4 52h0m4 94h0m-26-142h0m10 20h0"/>
<path d="M146 1118h0m-6-31h0m8-131h0m-2 262h0m22-83h0m-9 77h0m-9-104h0m1-150h0m18 227h0m-21-132h0m15 123h0m-25-186h0m11 106h0m-6 13h0m13-106h0m-1 168h0m-20 52h0m-2-138h0m23 9h0m-12 12h0m24-107h0m-31-61h0m27 132h0m-19 30h0m9-79h0m-7 30h0m19-112h0m-12 202h0m-18-77h0m0-24h0m13 57h0m-3-78h0m-13 133h0m13-123h0m-10-12h0m30-20h0m1 57h0m-17-81h0m-4 185h0m3-26h0m-12-74h0m-5 20h0m24-19h0m-10 43h0m-11-154h0m26 106h0m-29 98h0m33-36h0m-8-29h0m-7-10h0"/>
<path d="M137 1199h0m2 13h0m18-95h0m7-66h0m-17-46h0m9 133h0m7 51h0m-28-14h0m5-83h0m14-85h0m13 127h0m-6 31h0m-6 13h0m8-71h0m-29 56h0m17-39h0m-11-159h0m2 132h0m-2-152h0m9 135h0m-14-47h0m23 142h0m-9-67h0m9 20h0m-1 43h0m-6-27h0m-13-22h0m13-26h0m9 20h0m0-15h0m-8-110h0m-2 56h0m0 183h0m18-144h0m-21 48h0m14-52h0m7-94h0m-19 21h0m-12 7h0m29-41h0m-13 230h0m-10 9h0m2-63h0m-12-70h0m20-71h0m-3 75h0m-16-61h0m28 135h0m6-206h0m-21 42h0"/>
<path d="M146 1127h0m0-41h0m8-35h0m15 60h0m-4-50h0m-12-93h0m1 95h0m-5-14h0m17 50h0m-30-44h0m31 55h0m-23-97h0m25 76h0m-11-43h0m-7-8h0m-15 40h0m3 30h0m21 73h0m-14-103h0m-11-14h0m12 141h0m2-211h0m18 66h0m0 169h0m-28-228h0m20 110h0m7-26h0m-27-54h0m-7-6h0m3 133h0m-1-122h0m28 4h0m-4-24h0m-16 15h0m19 173h0m-20-113h0m12 61h0m-15-100h0m5-7h0m11 18h0m-13 34h0m-7-61h0m28 54h0m-8 19h0m-13 59h0m1-100h0m0 104h0m8-42h0m10-30h0m9-137h0"/>
<path d="M155 1204h0m7-8h0m-18-163h0m24 54h0m-3 20h0m-12-100h0m-10 84h0m-7-6h0m31-58h0m-6 57h0m-25 2h0m9 99h0m1 15h0m8-62h0m-12-161h0m8 129h0m13-148h0m-20 60h0m7 140h0m-3-30h0m-4-27h0m-5-12h0m1 6h0m14 54h0m7-73h0m-3-12h0m-22-116h0m11 224h0m-6-120h0m27 79h0m-4-33h0m-6 12h0m-7-39h0m0-83h0m7 86h0m-14-60h0m-10 86h0m7 95h0m17-97h0m0-125h0m3 105h0m-27-38h0m-1 144h0m10-46h0m19-80h0m6 20h0m-33-24h0m35-94h0m-6 30h0m-28-14h0"/>
<path d="M145 1046h0m2 68h0m7-140h0m8 180h0m-18-42h0m0-4h0m0-50h0m-8 82h0m0-143h0m-4 13h0m1 159h0m0 9h0m35-105h0m-29-82h0m4 4h0m3 47h0m13 165h0m-2 18h0m1-118h0m-22-31h0m4-69h0m15 183h0m-18-237h0m15 55h0m7 116h0m-25-14h0m19 57h0m-9-87h0m25 90h0m-31-52h0m30 69h0m-2-64h0m-5-128h0m-20 123h0m16 87h0m2-201h0m-10 139h0m7-75h0m11-32h0m-10-23h0m-18 87h0m-6-74h0m18 145h0m-3 34h0m-11-13h0m-5-42h0m7-63h0m28 130h0m-30-83h0m28 18h0"/>
<path d="M141 1034h0m21 21h0m-13-51h0m3 18h0m-10 10h0m-4-29h0m22 51h0m-12-52h0m-8 39h0m21-2h0m7 59h0m0 104h0m-26-135h0m11 98h0m-11-155h0m25 62h0m-1-60h0m-29 78h0m31 64h0m-29-156h0m13 101h0m-3 32h0m7-72h0m0 28h0m7 9h0m-16 19h0m3 24h0m19 73h0m-23-108h0m-9-111h0m18 105h0m11-143h0m-20 134h0m13-62h0m-23 41h0m6 12h0m24 0h0m-26 42h0m12-109h0m-6 74h0m-6 19h0m14-10h0m-10-54h0m-6 59h0m0-66h0m21-50h0m-16 81h0m17-127h0m-21 3h0m-1 273h0"/>
<path d="M169 1164h0m-29-204h0m29 207h0m-10-96h0m-4 43h0m8-51h0m-7-37h0m-22 50h0m21-124h0m12 131h0m-26 32h0m17-84h0m8-83h0m-23 126h0m22-83h0m4 94h0m-32 31h0m8 26h0m13-36h0m-6-78h0m7-5h0m-3 72h0m-18 112h0m4-109h0m0-131h0m-6 75h0m21-62h0m-8 127h0m-10-42h0m19-67h0m-24 15h0m6-19h0m8 63h0m5 137h0m2-254h0m7 127h0m-18-82h0m-7 164h0m31 11h0m-21-53h0m9-11h0m-24-25h0m32-40h0m-8 32h0m-14 17h0m17 41h0m-5 9h0m-21 4h0m33-19h0m-4-67h0"/>
<path d="M156 1149h0m9-154h0m-3 76h0m-27-45h0m6 151h0m13-181h0m-17-70h0m9 14h0m20 72h0m-15 175h0m-17-150h0m15 77h0m18-74h0m-16 27h0m-1-29h0m-6 22h0m23 44h0m-11-79h0m8 202h0m0-139h0m-7-119h0m-23 63h0m34 61h0m-7-5h0m4-130h0m-1 50h0m-25 192h0m8-76h0m11-110h0m3 25h0m1 166h0m-24-60h0m-1 61h0m-4-147h0m34 10h0m-13 4h0m1-17h0m10 12h0m-24-84h0m20 206h0m-6-157h0m8-45h0m-17 73h0m16 16h0m-12 4h0m12-49h0m-15 14h0m18 26h0m-26-55h0m24-61h0"/>
<path d="M169 1166h0m-29-27h0m5 14h0m-11-11h0m18-71h0m-13-96h0m14 49h0m-12-70h0m16 123h0m-7-4h0m13-92h0m-5-13h0m0 107h0m-9 40h0m8 91h0m9-140h0m-14-54h0m6 221h0m10-279h0m-6 157h0m-23-3h0m28 3h0m-11-67h0m-23 53h0m19-91h0m-6 101h0m-7-15h0m29-46h0m-6 91h0m-28-31h0m12 34h0m-11 23h0m23-39h0m-8-99h0m19 21h0m-21 64h0m3-139h0m-13 81h0m12 50h0m-11-62h0m-6-27h0m31 63h0m4 120h0m-14-152h0m-17 15h0m30-85h0m-28 104h0m13 105h0m-7 63h0m-7-287h0"/>
<path d="M133 1064h0m22 45h0m12 43h0m-14-32h0m-18-64h0m-2 18h0m36 49h0m-25 74h0m20-141h0m-16-11h0m-10 43h0m23 119h0m-21-270h0m6 148h0m17-33h0m-10 101h0m-18-84h0m17 53h0m1-60h0m-19 40h0m29-119h0m-2 158h0m-11-38h0m-3-49h0m-1 137h0m-14-99h0m14 13h0m-9 118h0m7-40h0m12-232h0m10 65h0m-2 121h0m-30 86h0m11-101h0m18 58h0m-17-188h0m1-12h0m-14 154h0m3-75h0m17-41h0m-18 80h0m30 105h0m-26-131h0m26 78h0m-29 71h0m24-151h0m8-53h0m-33 176h0m27-122h0m2-63h0"/>
<path d="M158 1060h0m-26-26h0m21-11h0m-13-93h0m-5 184h0m2-29h0m31 56h0m-19-126h0m1 117h0m14-181h0m-19 65h0m-5 99h0m23-49h0m-30 164h0m8-175h0m21 167h0m-27-162h0m-1 10h0m5-61h0m0 119h0m22-134h0m5 20h0m3 198h0m0-191h0m-35 150h0m13-212h0m-8 55h0m26 59h0m-33-52h0m13 88h0m-4-58h0m22-46h0m-4 138h0m2 28h0m-23-91h0m2-144h0m23 206h0m-13-36h0m12-34h0m-8-107h0m7 219h0m-28-21h0m2-115h0m19 38h0m8-29h0m-21-66h0m15 53h0m-14 84h0m-2-49h0m-6-52h0"/>
<path d="M136 1192h0m22-193h0m-1 18h0m3-35h0m1 179h0m-10-9h0m10-37h0m-27-54h0m34-68h0m-33 87h0m9 125h0m17-252h0m-19 32h0m1 3h0m2 142h0m-5-6h0m21-119h0m-9 10h0m-1 115h0m9-84h0m-1 65h0m-1-93h0m-2 52h0m-11 39h0m17-74h0m-30-34h0m10-53h0m25 163h0m-5 44h0m-16-169h0m14-35h0m-7 166h0m0 30h0m-7-95h0m3 148h0m-5-234h0m23-130h0m-28 389h0m18-64h0m-1-153h0m-12 152h0m-1-58h0m26-156h0m-34 169h0m22 23h0m-21-70h0m-1-84h0m0-11h0m21 179h0m-3 39h0"/>
<path d="M150 1010h0m0 95h0m2 60h0m15-172h0m-19 122h0m6-196h0m13 145h0m-1-76h0m-26 24h0m23 33h0m-7-29h0m-24-24h0m4 36h0m31-63h0m-26 3h0m-9 190h0m13-101h0m19 106h0m-11-130h0m-12 98h0m-4 74h0m8-147h0m22 1h0m-16 103h0m7-203h0m-8 105h0m-13 54h0m29-60h0m-12-7h0m4-42h0m11 123h0m-28-161h0m23 82h0m-30 71h0m20-125h0m-17 139h0m-1-83h0m-1-27h0m31 98h0m-6-176h0m-8 125h0m8 83h0m-21-105h0m27 92h0m-10-68h0m-21-74h0m27 24h0m-20 79h0m24-76h0m-7 44h0"/>
<path d="M137 1000h0m8 183h0m-12-163h0m31 74h0m-11 90h0m-13-136h0m5 11h0m10 125h0m-3-103h0m-7-95h0m10 183h0m10-188h0m-1 184h0m-19-69h0m-5-119h0m1 58h0m3-68h0m1 121h0m23 20h0m-13-15h0m-15-127h0m25 132h0m-15 48h0m-13-32h0m21-11h0m-15-128h0m8 145h0m6-39h0m-24-9h0m23-43h0m-2-14h0m2 95h0m-10-1h0m22-66h0m-35 9h0m34 65h0m-2-162h0m-17 241h0m1-61h0m-5-264h0m-9 164h0m8 40h0m26 106h0m-22-64h0m21-70h0m-9 17h0m-24-35h0m8-43h0m21 222h0m-10-145h0"/>
<path d="M133 1002h0m24 21h0m-25 73h0m14 37h0m17 3h0m-7-166h0m0 36h0m-17 72h0m11 35h0m19-42h0m-3-28h0m-13 2h0m12 132h0m2-160h0m-12 144h0m9-190h0m-24 147h0m16 103h0m-18-114h0m29-82h0m-13 103h0m4 41h0m-14-15h0m19-47h0m-15-97h0m1 71h0m8-77h0m2 1h0m-23-59h0m22 141h0m-23 59h0m34-131h0m-25-30h0m7 241h0m-15-288h0m33 58h0m-1 134h0m-18-56h0m2-133h0m3 45h0m7 109h0m-16-19h0m15-16h0m-11 106h0m18-13h0m-24-160h0m12 123h0m-6-55h0m10-26h0m3 67h0"/>
<path d="M137 1034h0m18 199h0m-13-45h0m-9-144h0m12 152h0m-1-108h0m-2-66h0m-9 133h0m14-116h0m-10 60h0m16-91h0m-1 180h0m-3-203h0m7 31h0m-6 26h0m-2-26h0m-8 192h0m-5-43h0m34-225h0m-27 48h0m21 7h0m-19 99h0m10-75h0m1 180h0m10-32h0m-21-112h0m24-103h0m-30 97h0m22-27h0m0 99h0m-14 0h0m5 31h0m13-107h0m-30-9h0m27-76h0m7 83h0m-13 178h0m3-61h0m3-18h0m-16-57h0m-10-127h0m16 157h0m-3 25h0m-1-72h0m2 114h0m-9 47h0m19-236h0m-7-5h0m-6-35h0m19 5h0"/>
<path d="M135 1061h0m11 23h0m-2-15h0m-7-97h0m20 51h0m-2-22h0m13 234h0m-26-207h0m18-15h0m-24 35h0m28 44h0m-20 44h0m18-40h0m-19 142h0m5-235h0m20 73h0m-3 8h0m-8 44h0m-10-28h0m4 2h0m3-139h0m-4 66h0m-1 81h0m-9-85h0m-4 153h0m-3-145h0m8 58h0m15-33h0m9-36h0m-11 169h0m-19-58h0m15 18h0m-9 30h0m3-230h0m-6 169h0m28-82h0m-12-88h0m-22 155h0m36 32h0m-36-70h0m5 11h0m15-67h0m4 159h0m-1-53h0m7-177h0m-19 73h0m14-17h0m-9 40h0m6-7h0m-5 0h0"/>
<path d="M156 1053h0m-7-39h0m-11 47h0m12 32h0m8 19h0m-25-70h0m34 53h0m-4-25h0m-27-83h0m22 137h0m-11-84h0m2 2h0m-4 32h0m11 8h0m0-75h0m3 125h0m8-77h0m-6 66h0m-21-78h0m22 109h0m5-213h0m-13 184h0m-2-90h0m-15 60h0m24 41h0m-24-7h0m25-91h0m3 91h0m-6-115h0m10 7h0m-5 71h0m5-19h0m-35 142h0m34-295h0m1 34h0m-1 229h0m-16-133h0m-9 42h0m17-237h0m-8 322h0m-13-40h0m-1-39h0m30 93h0m-35-23h0m17-70h0m1-31h0m-12 143h0m12-249h0m1 91h0m5-1h0"/>
<path d="M162 1068h0m-18-63h0m12 194h0m10-99h0m-2-88h0m-16 192h0m18-147h0m3-35h0m-19 28h0m6 54h0m-22 121h0m-1-83h0m27-180h0m-1 73h0m8 92h0m-21-1h0m12-46h0m1-79h0m-24 23h0m29 171h0m-15-254h0m7 55h0m-23 49h0m1 103h0m18-14h0m11-8h0m-7-82h0m13-46h0m-32 150h0m4-173h0m4 45h0m5 102h0m-3-118h0m2 82h0m-12-69h0m25 41h0m4 153h0m-3-55h0m-27-140h0m23 59h0m-8 129h0m-2-125h0m18 45h0m-9-48h0m-19 52h0m4-29h0m15 6h0m-7-19h0m-8 9h0m-11-208h0"/>
<path d="M147 953h0m-1 167h0m17 39h0m-12-97h0m-1-77h0m-15 123h0m11-24h0m-12 11h0m8-42h0m27-89h0m-34 137h0m5-166h0m21 99h0m-20 15h0m22 161h0m-16-33h0m-7-182h0m25 152h0m2-41h0m-21 40h0m7-22h0m-3-142h0m15 160h0m-23-34h0m16 26h0m-5-168h0m15 193h0m-20-150h0m7 186h0m5-39h0m7-203h0m-35 238h0m1-115h0m19 25h0m-17-36h0m27 54h0m-11-96h0m15-49h0m-27 150h0m29-150h0m-20 3h0m-2 56h0m-10 43h0m9 68h0m13-67h0m-24 34h0m7-136h0m5 1h0m-11-11h0m5 41h0"/>
<path d="M134 1043h0m26 139h0m-7-1h0m-6-151h0m-2 14h0m-9 67h0m26-35h0m-3 43h0m-19 20h0m9-180h0m12 20h0m0 107h0m3-2h0m-29-67h0m4 41h0m1 75h0m0-7h0m23-5h0m-22-19h0m4 45h0m6 27h0m-5-239h0m14 113h0m-3-178h0m-15 279h0m2-52h0m6-8h0m8 15h0m-22-65h0m7 55h0m17 2h0m9 73h0m-36-112h0m26-26h0m-15 149h0m20-205h0m-12 62h0m0-8h0m-5 131h0m20-166h0m-14 16h0m13 66h0m-27-42h0m29-4h0m-13 26h0m-16-66h0m6 168h0m18-135h0m-25 149h0m-5-86h0"/>
<path d="M150 1078h0m12-65h0m-5 105h0m-9-72h0m15 146h0m-22-94h0m-5-64h0m10 58h0m18-72h0m-16 62h0m-8-44h0m14 16h0m0 7h0m-1-36h0m-19 94h0m15-83h0m11 79h0m-5-137h0m7 35h0m6 83h0m-35-158h0m33 154h0m-11 84h0m6-98h0m4-24h0m0 171h0m-28-238h0m-1 84h0m30 70h0m-28 39h0m19-243h0m-20 170h0m11-6h0m10-42h0m8-39h0m-9-64h0m9 264h0m-8-144h0m8 8h0m-13 32h0m12-44h0m3-67h0m-31 184h0m26-189h0m-2 120h0m-5 33h0m-21-24h0m27 5h0m-29 0h0m13-38h0"/>
<path d="M134 962h0m10 59h0m10-5h0m12 3h0m-14 14h0m-6-23h0m-13 50h0m2 34h0m28-50h0m-14 53h0m3-113h0m0-13h0m7 118h0m-20-97h0m2 77h0m18-108h0m7 21h0m-21-15h0m22 152h0m2-97h0m-36-25h0m25 95h0m-6-18h0m-4 71h0m4-23h0m-7-24h0m16 18h0m-23 50h0m29-130h0m-16 86h0m2-43h0m-18 21h0m4-4h0m29-36h0m-24-139h0m0 97h0m-8 161h0m30-34h0m-32 23h0m2 45h0m15-116h0m-6 8h0m16 35h0m-2 14h0m-10-155h0m18 52h0m-7 46h0m-20-65h0m11 96h0m-7-134h0"/>
<path d="M161 1073h0m-3-79h0m-11-36h0m17 184h0m-11-104h0m-4 75h0m-15-50h0m24-25h0m-25 89h0m20-39h0m-6-13h0m-3 103h0m16-212h0m-3 245h0m-14-198h0m0 61h0m-4-23h0m26-72h0m-30-8h0m26 64h0m-6-76h0m1 112h0m1 87h0m1-147h0m8-73h0m-25 279h0m28-97h0m-3-177h0m-32 150h0m6-102h0m4 142h0m24-87h0m-35-21h0m7 25h0m17 68h0m9-13h0m-10-52h0m-20-46h0m33-30h0m-11 151h0m3 73h0m1-215h0m0 141h0m-11-40h0m9-16h0m-24-99h0m15 228h0m4-108h0m-18 129h0m17-328h0"/>
<path d="M147 1173h0m-7-162h0m17-66h0m1 107h0m-22 130h0m31 24h0m-31-35h0m19 24h0m-3-184h0m-9 7h0m4 63h0m21 27h0m-8-8h0m-26 25h0m2-86h0m27 2h0m-31-54h0m15 28h0m12-53h0m-16 195h0m14-98h0m-22 30h0m32-99h0m-22 66h0m10 61h0m-3-98h0m-9 71h0m15-25h0m5-55h0m-7 39h0m-20-55h0m15 121h0m-8 48h0m5-156h0m9 108h0m0-50h0m-21 45h0m1 24h0m29-108h0m-28-7h0m15-36h0m-16 83h0m14-102h0m-9 237h0m15-191h0m-3 52h0m2 21h0m0 75h0m7-198h0m-2 127h0"/>
<path d="M150 1108h0m14-91h0m-18 164h0m-4-62h0m0 96h0m-6-238h0m11 192h0m1-227h0m-2 12h0m15 90h0m-27-6h0m34 191h0m-23-131h0m-8-49h0m31-5h0m-27 116h0m-6-43h0m17 15h0m-20 34h0m34-136h0m-24 11h0m-4-35h0m31 50h0m-34 159h0m1-149h0m-2-51h0m7 181h0m-2-48h0m11 27h0m-14-161h0m12 50h0m-13-71h0m27 74h0m-25 18h0m7-93h0m3 170h0m-14-22h0m5-164h0m-2 171h0m32-102h0m-33-57h0m0-26h0m0 143h0m34-8h0m0 61h0m-9-56h0m-10-109h0m-2 111h0m-12 10h0m1-167h0"/>
<path d="M144 1193h0m19-132h0m-7 25h0m9 2h0m-30 43h0m3 20h0m6-117h0m11-32h0m-6 207h0m0-89h0m-16-9h0m12-7h0m6-97h0m6-25h0m5 42h0m0 149h0m-26-234h0m-3 192h0m17 53h0m-7-109h0m11-67h0m-21 5h0m26-61h0m-12 116h0m-5 148h0m0-175h0m-10 32h0m3 55h0m11-48h0m4-14h0m11 19h0m1-16h0m1 65h0m-30-25h0m5 73h0m16-36h0m-17-100h0m31 1h0m0 91h0m-6-72h0m-11 8h0m-9 10h0m-6 30h0m18-89h0m1 111h0m-14-86h0m26-115h0m-11 209h0m-24 11h0m1-316h0"/>
<path d="M151 1156h0m13-135h0m-19 143h0m17-146h0m-16 30h0m15-2h0m-25 21h0m8 43h0m2 68h0m21-123h0m-28 10h0m28 37h0m-26-11h0m28 120h0m-29-73h0m17-53h0m-16 77h0m-6-46h0m0 76h0m1-106h0m10 59h0m13-52h0m10 63h0m-25-72h0m-9 52h0m8-117h0m19 89h0m-20-61h0m3 48h0m10-64h0m2-33h0m-5-24h0m1 146h0m-7-172h0m-6 212h0m-3-52h0m5-217h0m12 180h0m-16-56h0m-2 47h0m3 76h0m17-158h0m4 12h0m-19-4h0m10 68h0m17 67h0m-17-146h0m3 209h0m1-182h0m-21 228h0"/>
<path d="M154 1076h0m5 34h0m-3 88h0m-20-167h0m-3 116h0m18-135h0m-1 4h0m-4 191h0m-3-167h0m2 44h0m9 63h0m-1-159h0m-14 199h0m7-20h0m-10-191h0m26 158h0m0-168h0m-6 85h0m-11 176h0m8-287h0m2 42h0m12 76h0m-23 110h0m14-72h0m-7-28h0m-1-69h0m6-38h0m-22 119h0m20 57h0m12 21h0m-27-147h0m13-34h0m15 236h0m-1-48h0m-2 22h0m-14 47h0m11-182h0m5 68h0m-19-30h0m16-58h0m4-84h0m-28 198h0m-3-104h0m-1 129h0m12-34h0m-10-99h0m-5 31h0m28-47h0m6 37h0m0 74h0"/>
</g>
<use href="#v1" fill="none" stroke="#111" stroke-width="1.1" stroke-linejoin="round"/>
<rect x="135.0" y="1083.8" width="31" height="3.4" fill="#fff"/>
<use href="#v2" fill="#D88A12"/>
<g stroke="#000" stroke-opacity="0.320" stroke-width="4.8" stroke-linecap="round" fill="none">
<path d="M191 1068h0m19-53h0m-11 19h0m8 198h0m-18-94h0m16-31h0m3 0h0m-4-143h0m-8 132h0m-9 41h0m14-141h0m-21 38h0m36 52h0m-15-60h0m15 57h0m-31-46h0m13 106h0m16-67h0m-10-84h0m-15 179h0m20-204h0m-19 229h0m7-36h0m16-154h0m-31 180h0m2-98h0m23 37h0m-20 41h0m15-111h0m-1 40h0m8-27h0m1-4h0m6 77h0m-8 29h0m-5 21h0m-21-85h0m17-155h0m-15 83h0m32 60h0m-4 4h0m-20-20h0m12 81h0m9-172h0m2 73h0m-8-39h0m4 142h0m-15-65h0m17-35h0m-29-6h0m2-66h0"/>
<path d="M205 1036h0m-23 145h0m16-280h0m-17 45h0m28 164h0m-3 94h0m9-92h0m-8 108h0m0-91h0m2-17h0m-23-95h0m11 186h0m10-91h0m-5-98h0m-12-34h0m23 59h0m-27 169h0m11-158h0m13-1h0m-11-39h0m11 40h0m-6 67h0m-23 76h0m0-57h0m20-146h0m13 78h0m-7-19h0m3 94h0m-28 2h0m1-152h0m10-13h0m18 21h0m-11 214h0m-14-184h0m25 65h0m-14 29h0m-9 8h0m13-69h0m-20-50h0m16 182h0m-9-130h0m6 95h0m7-149h0m5 52h0m-23 109h0m27-64h0m2-31h0m3-37h0m-26-4h0m-3-1h0"/>
<path d="M189 1151h0m13-98h0m-1 143h0m1-142h0m-15-95h0m25 271h0m-27-257h0m-4 35h0m0 202h0m33-156h0m-16 26h0m17 98h0m-20-284h0m-3 257h0m-7-81h0m-5-63h0m34 105h0m-13-24h0m-6-25h0m-9 59h0m22-31h0m5 31h0m-21-77h0m12-15h0m-21 123h0m-4-129h0m1 69h0m24 22h0m5-34h0m-1-115h0m2 112h0m-11 75h0m1-104h0m9 159h0m1-20h0m-25-121h0m7-52h0m-9 228h0m17-122h0m-10-133h0m16 111h0m7 28h0m-15 129h0m-5-176h0m16-9h0m2 110h0m0-220h0m3 41h0m-27 161h0m25-30h0"/>
<path d="M180 1091h0m36-35h0m-8-35h0m-11 91h0m4-107h0m14 68h0m-4 10h0m-7 34h0m5 76h0m-18-55h0m-7-147h0m14 144h0m-18 81h0m17-127h0m8-32h0m-7 154h0m7-206h0m-12 5h0m-2 44h0m6-63h0m-6 200h0m15-82h0m-23 147h0m32-222h0m-7 35h0m-5-51h0m-11 130h0m6 10h0m-12-240h0m30 104h0m-20 33h0m17 19h0m-32-30h0m8 130h0m23-32h0m-21-162h0m-9 145h0m22-52h0m-9-72h0m14 55h0m-12-28h0m-4 62h0m13-84h0m-10 115h0m6-137h0m-14 185h0m11-86h0m7-88h0m-15 132h0m-11 89h0"/>
<path d="M199 1084h0m12-44h0m-12 175h0m-17-29h0m25-133h0m-25 60h0m18-83h0m-18 17h0m9 49h0m-1 42h0m13 23h0m-15-121h0m16 37h0m4 122h0m-19-143h0m20 36h0m6 8h0m-27 108h0m18-247h0m-3 204h0m-13 0h0m21 104h0m0-206h0m-13-16h0m-2-18h0m12 92h0m-1-113h0m-4 144h0m2-255h0m-19 205h0m-5-82h0m-1-3h0m26 71h0m-27 31h0m36-185h0m0 183h0m-20-57h0m0 49h0m9-12h0m-12-116h0m24-20h0m-8 91h0m-28 20h0m22-36h0m8 67h0m-13-126h0m9 104h0m-20 60h0m0-36h0m-4-150h0"/>
<path d="M195 1171h0m-15-20h0m23-62h0m12-41h0m-33 86h0m31-8h0m-11-61h0m-17 21h0m6-22h0m-7 18h0m7 28h0m9 70h0m2-71h0m-7-58h0m3 106h0m-8-130h0m16-1h0m9 53h0m-6 73h0m-11-82h0m-4 26h0m12-6h0m6 6h0m-28 4h0m30 98h0m-12-97h0m-20-48h0m5-13h0m11 7h0m-5 17h0m-2 67h0m-3-92h0m24 50h0m-31 96h0m9-139h0m10 2h0m-13-60h0m4 179h0m19-83h0m-7-39h0m-1 54h0m-11 108h0m-11-138h0m10 37h0m8-8h0m-2 87h0m-9-135h0m-5 31h0m9-5h0m24 77h0"/>
<path d="M189 1007h0m7 107h0m11-80h0m-10 114h0m16-94h0m-16-64h0m17 120h0m-3 41h0m0-163h0m-30 109h0m10 87h0m22-66h0m-27 39h0m3-98h0m-8-85h0m24 199h0m10-96h0m-2-52h0m-20 157h0m-8-156h0m30-5h0m-21 7h0m14 79h0m-2-14h0m-23 70h0m28-188h0m-26 85h0m-1 2h0m12 94h0m2 0h0m-17-44h0m25-89h0m-9 40h0m-7 20h0m19 87h0m-1-150h0m-9 3h0m-3 153h0m-10-47h0m15-50h0m-16 135h0m17-233h0m7 101h0m-25 1h0m19 26h0m-6 95h0m-11-237h0m23 73h0m-24-22h0m14-11h0"/>
<path d="M203 946h0m-3 57h0m-2 64h0m-15 91h0m20-101h0m-21-18h0m32-2h0m-35-41h0m24 12h0m13-22h0m-26 54h0m13-36h0m2 114h0m-7 15h0m10-62h0m-26 109h0m12 2h0m-11-14h0m2-163h0m14 105h0m-1-25h0m-1 141h0m15-219h0m-33 133h0m13 9h0m12 38h0m-3-68h0m-3 28h0m-7 7h0m-3-131h0m11 86h0m-9-20h0m-11 34h0m13-125h0m8 64h0m-15-90h0m10 163h0m10 56h0m-22-59h0m32-56h0m-33 84h0m6-173h0m2 140h0m12-100h0m-3 97h0m12-100h0m-2 53h0m-19 78h0m20-94h0m-20 109h0"/>
<path d="M197 1183h0m8-138h0m-17-61h0m0 102h0m11-15h0m-11 32h0m22-49h0m-11-16h0m7-18h0m-14-58h0m22 128h0m-13 102h0m-2-244h0m-2 202h0m-12-93h0m9-17h0m22-9h0m0 156h0m-33-48h0m25 24h0m-26-129h0m34 3h0m-30 59h0m10-29h0m2-66h0m-10-34h0m8 109h0m-11 168h0m11-193h0m3 160h0m11 7h0m-14-50h0m1-10h0m5-97h0m-4 104h0m-16 17h0m27-133h0m-24-100h0m26 245h0m-18-138h0m18 56h0m-8-124h0m-9 147h0m5 21h0m10-107h0m-26 105h0m5 23h0m6-99h0m20 132h0m-28-128h0"/>
<path d="M210 1152h0m-18-48h0m6-6h0m3 31h0m9-186h0m-21 230h0m25-219h0m-14 120h0m-15 8h0m3 75h0m9-72h0m-8-18h0m21 61h0m-9-21h0m-5-55h0m-4 51h0m-2 116h0m-1-204h0m25 115h0m-18-16h0m16 121h0m-19-119h0m-9-74h0m9 32h0m-3 25h0m-8-51h0m19-114h0m1 195h0m-16 86h0m-3-246h0m9 52h0m-4 238h0m20-328h0m-29 125h0m1 44h0m-1 40h0m4-39h0m23-43h0m-13 122h0m-14-41h0m13-146h0m-12 73h0m23 100h0m-18-169h0m3 188h0m1-60h0m-8-102h0m19 94h0m12 57h0m-33-142h0"/>
<path d="M198 1139h0m1 22h0m6-115h0m-16 96h0m15 15h0m-24-83h0m7 60h0m19-83h0m-26 57h0m24-67h0m10 124h0m-30 6h0m6-116h0m-5 174h0m15-104h0m-14-63h0m14 56h0m5 58h0m-14-30h0m-6-162h0m26-43h0m-25 159h0m14-81h0m-13 53h0m18-71h0m3 14h0m-21 20h0m-8 179h0m1-119h0m27 29h0m-7 57h0m3-89h0m-23-23h0m27 134h0m-19-241h0m1 98h0m-6-79h0m1 219h0m31-35h0m-19 33h0m-9-126h0m9 107h0m-4-157h0m2 83h0m17-127h0m-24 138h0m-1-151h0m26 38h0m-8 95h0m-22 66h0"/>
<path d="M185 1156h0m8-45h0m10-198h0m-6 211h0m-5-79h0m2 110h0m20-2h0m-5-34h0m-10-132h0m-13 148h0m28-67h0m2-131h0m-2 156h0m-24 34h0m26-21h0m-30 57h0m29-53h0m-1 73h0m1-25h0m-36-40h0m20-44h0m7 135h0m6-254h0m-11-19h0m4 162h0m5 6h0m0 118h0m-10-87h0m4-17h0m-22-34h0m12 33h0m14-111h0m4 82h0m-11 9h0m5-74h0m-23-2h0m1 186h0m22-146h0m-7-58h0m15 99h0m-23-16h0m-2 113h0m22 20h0m-9-185h0m-4-83h0m16 58h0m-12 7h0m-1-79h0m-2 216h0m-6-1h0"/>
<path d="M180 1093h0m14 29h0m7-97h0m6 139h0m-28 50h0m5-110h0m11 133h0m-13-68h0m9-77h0m21-23h0m-14 47h0m-1 82h0m-12-51h0m15-67h0m1 98h0m8 22h0m-1-190h0m-24 86h0m12-34h0m12-2h0m-1-20h0m0 104h0m3-36h0m-17 78h0m16 3h0m-30-191h0m2 108h0m-2 15h0m26 10h0m4 36h0m-29-132h0m3 120h0m14 5h0m12-39h0m-6-126h0m-19 231h0m27-148h0m-3-52h0m-28 51h0m5 4h0m28 151h0m-1-106h0m3-9h0m-5 30h0m-21-7h0m7 39h0m19-105h0m-16-27h0m-10 53h0m17-29h0"/>
<path d="M201 985h0m-18 61h0m18 24h0m7-100h0m-27 217h0m-1-25h0m7-82h0m28 79h0m-16 16h0m-3-30h0m14 67h0m-22-178h0m26-51h0m-21 71h0m4 90h0m16 41h0m-14-115h0m-1-19h0m-15 4h0m23 128h0m-7-86h0m-2 137h0m10-261h0m-11 70h0m-15 60h0m13-122h0m16 72h0m-9-74h0m-15 192h0m12-192h0m-2 247h0m-9-71h0m29-180h0m-25 17h0m-10 86h0m11 136h0m11-60h0m-15-122h0m12 99h0m1 21h0m-12-40h0m9 85h0m13-69h0m-25-92h0m13-38h0m8 62h0m6 43h0m-32-142h0m25 173h0m-2-73h0"/>
<path d="M179 1016h0m27 153h0m-9 22h0m11-30h0m-16-56h0m1 90h0m-1-131h0m9 53h0m-18 62h0m-3-6h0m14-97h0m-6 99h0m-4-176h0m27 207h0m0-61h0m-16-110h0m11 146h0m6-239h0m-9 219h0m2 26h0m-11-80h0m-3 43h0m6-16h0m6 11h0m-21 20h0m1-200h0m19 36h0m11 212h0m-2-78h0m-10 15h0m-5-42h0m-14-120h0m14 231h0m14-158h0m-13 95h0m-7-58h0m-7-75h0m6 141h0m-4-93h0m-2 39h0m0 22h0m9-104h0m-4 23h0m25 69h0m-24-16h0m26-21h0m-32-7h0m-3 96h0m4-222h0m22 179h0"/>
<path d="M198 1131h0m1-20h0m10-87h0m-13-58h0m5 142h0m4-58h0m1 8h0m-16 37h0m15 76h0m-20-199h0m9 7h0m12 122h0m-4-80h0m-18 74h0m-4 89h0m10-220h0m4 155h0m-5 2h0m21 15h0m-23 22h0m23-80h0m-27 36h0m8 3h0m4 26h0m-9-93h0m20 43h0m-24-124h0m-2 128h0m7-91h0m18 133h0m-19-198h0m4 185h0m-10-76h0m36 117h0m-28-78h0m2-19h0m16 130h0m5-97h0m-25-214h0m3 223h0m-6-29h0m6 16h0m-9 1h0m5-29h0m24-58h0m-22-59h0m25 193h0m-11-79h0m-13 101h0m12-134h0"/>
<path d="M188 1001h0m14 109h0m-1 50h0m5-55h0m-27 26h0m27-68h0m-23 51h0m15 9h0m16 40h0m-32-158h0m31 126h0m-11-185h0m-13 289h0m24-109h0m-6 72h0m-8-178h0m-12 169h0m-3-94h0m6-17h0m15 34h0m-6-171h0m4 59h0m-13 136h0m12 27h0m-7-71h0m-14-121h0m17-23h0m-18 122h0m24-63h0m11 87h0m-17-125h0m7 141h0m-16-127h0m0-5h0m24-40h0m-12 221h0m-12-132h0m22 37h0m-25 41h0m-2-71h0m17 106h0m2-86h0m-23-110h0m11 166h0m14-56h0m11-36h0m-34 104h0m21-130h0m-3 206h0m-21-193h0"/>
<path d="M191 1108h0m25-69h0m-31 36h0m22-18h0m-7-87h0m-3-8h0m-16 141h0m0-62h0m17 40h0m8-3h0m-18-42h0m17 29h0m-17 38h0m22-200h0m-2 204h0m6-9h0m-10 49h0m3 35h0m-22-104h0m24 77h0m-27 60h0m26-206h0m-26 42h0m26 79h0m-9-65h0m-3 40h0m4 3h0m15-79h0m-7 27h0m-21 85h0m7-35h0m6-6h0m-11-36h0m12-88h0m-18 183h0m6-58h0m9 25h0m1-111h0m-13-25h0m9 110h0m4-88h0m3 86h0m7 71h0m-20-72h0m16-43h0m-24 150h0m31-28h0m-22-30h0m23-13h0m-27 22h0"/>
<path d="M186 1067h0m-5 35h0m3-48h0m-4 39h0m21 146h0m-8-88h0m-4-171h0m10 150h0m14-43h0m-14-101h0m10 134h0m-29-40h0m12 21h0m5-6h0m8-66h0m-17 114h0m24 46h0m-26-68h0m12-12h0m11-54h0m-5-7h0m-1 10h0m-5 107h0m9 9h0m-14-58h0m-14-3h0m9-29h0m2-18h0m4-8h0m10 64h0m-5 104h0m-9-235h0m16-17h0m-23 82h0m-1-122h0m6 121h0m23 127h0m-18-146h0m-5-87h0m18 180h0m-26 96h0m23-48h0m-14-115h0m17 14h0m-16 15h0m6-49h0m17 188h0m-33-196h0m23 128h0m9-120h0"/>
<path d="M191 1195h0m-11-146h0m2 16h0m5 100h0m-7-55h0m28-19h0m-16-13h0m-6-66h0m17-37h0m-6-37h0m0 302h0m1-50h0m-18-46h0m12-57h0m20-60h0m-19 64h0m18-45h0m-16 129h0m-13-175h0m2 118h0m7-42h0m2-20h0m-11 126h0m20-141h0m9 82h0m-12-1h0m-6-15h0m11-130h0m-19 259h0m14-132h0m-11-138h0m14 220h0m-16-135h0m24-9h0m-29 138h0m32 39h0m-20-105h0m7-83h0m13-21h0m-1-13h0m-30 208h0m13-198h0m-9 112h0m5 17h0m-8-138h0m10 203h0m-10-24h0m14-25h0m-7-45h0m-7-45h0"/>
<path d="M181 1145h0m12-80h0m-7 24h0m26-47h0m-28 59h0m-1 72h0m10 19h0m8 2h0m-8 24h0m13-147h0m-22 114h0m4-56h0m-7 74h0m23-28h0m-4-60h0m9 58h0m-16-133h0m-11 88h0m1-129h0m23 220h0m-10-142h0m18-65h0m-14 112h0m-6 3h0m11-81h0m-22 53h0m28-48h0m-30 78h0m12-57h0m-8-22h0m16-82h0m-6 125h0m18-139h0m-27 138h0m21 26h0m7 74h0m-28-201h0m26 95h0m-32-60h0m24 81h0m1 18h0m1-36h0m-23 12h0m3 54h0m4-37h0m24-98h0m-29 4h0m13 88h0m-15-108h0m16 64h0"/>
<path d="M202 1058h0m-18 144h0m-4-153h0m28 39h0m-13 43h0m-1-146h0m16 61h0m-4 99h0m-10-74h0m-14-89h0m32 18h0m-26-19h0m26 249h0m-24-199h0m-9 85h0m7-58h0m4-61h0m-13 132h0m32-25h0m-2-107h0m-28 43h0m3 77h0m24-85h0m-6-23h0m9 75h0m-15-80h0m-4 182h0m1-60h0m-2-95h0m-8 135h0m11-32h0m-12-43h0m9-42h0m-5 154h0m27-137h0m-11-30h0m-12 136h0m8-202h0m15 53h0m-17 86h0m9-40h0m-10-90h0m-13 127h0m20-146h0m-6 154h0m13 20h0m-29-119h0m11 143h0m-9-124h0m6-169h0"/>
<path d="M201 994h0m12 81h0m0 35h0m-1 31h0m-8-35h0m-2-29h0m-10 32h0m0 29h0m1-195h0m10 252h0m-9-214h0m2 85h0m0-36h0m1 79h0m2-91h0m-15 74h0m31-96h0m-13 208h0m1-96h0m10 38h0m-10-107h0m-17 144h0m2-2h0m27 99h0m-29-136h0m8 73h0m-13-86h0m26 117h0m-27-226h0m31 10h0m-14 82h0m16-89h0m-14 42h0m-2 81h0m-5-91h0m-3 166h0m-8-75h0m23-52h0m-20-29h0m-2 36h0m17 66h0m17-175h0m-3 44h0m2-64h0m-29 59h0m29 44h0m-36 59h0m24-146h0m7 77h0m-2-203h0"/>
<path d="M198 1096h0m-5-80h0m5 126h0m2-48h0m-3 65h0m12 6h0m-5 58h0m-1-142h0m11 92h0m-34-11h0m8 35h0m3 39h0m16 11h0m-20-125h0m15 139h0m8-179h0m-13 49h0m-8-63h0m12 71h0m-19-32h0m2-114h0m31 105h0m-30-9h0m27 118h0m-19-170h0m-6 57h0m-1-99h0m4 113h0m26-77h0m-15 65h0m-12 63h0m-8-121h0m10 83h0m-12 8h0m28-91h0m-17 128h0m12-39h0m-22-18h0m21 32h0m-15-12h0m29-189h0m-27 115h0m-8 76h0m1-41h0m12 144h0m-2-112h0m20 80h0m-8-54h0m12-42h0m-32-88h0"/>
<path d="M198 1116h0m14-46h0m-25 110h0m25-80h0m-29-8h0m9-73h0m21-25h0m-10 114h0m8 30h0m-6-187h0m-24 105h0m19 80h0m-5 105h0m-14-95h0m28-43h0m-26 57h0m0-95h0m23 173h0m-18-260h0m9-11h0m-1 225h0m3-48h0m11-100h0m-9 26h0m-16-27h0m25-93h0m-8 67h0m-11 149h0m12-57h0m3-209h0m-18 65h0m11 143h0m3 76h0m-20-100h0m16-20h0m7 169h0m-2-121h0m-7 27h0m11-30h0m-9 85h0m-15-164h0m6 58h0m7-67h0m-4 121h0m7-62h0m15-145h0m-25 231h0m-5-146h0m24 49h0m-25 88h0"/>
<path d="M196 957h0m11 69h0m-1 45h0m6 39h0m-25-60h0m0 46h0m21 110h0m-27-128h0m33 44h0m-23-9h0m7-74h0m-2 39h0m-12-4h0m20 55h0m-4-189h0m3 164h0m-4-86h0m-16 88h0m25 42h0m-17 2h0m-11-10h0m13-79h0m16-13h0m-16 57h0m11 27h0m-16-5h0m11-60h0m7 95h0m-26-213h0m6 65h0m22 81h0m-22-64h0m20 69h0m-24-17h0m25 6h0m-21 122h0m26-244h0m-16 132h0m-4-31h0m14 136h0m1-93h0m-3-158h0m-22 226h0m23-41h0m11-182h0m-9 154h0m-4 33h0m-22 58h0m27-270h0m-25 146h0"/>
<path d="M199 1085h0m-11 48h0m12-27h0m-4 114h0m2-208h0m-19 162h0m21-122h0m-19 68h0m-1-96h0m18 111h0m-18-45h0m36-55h0m-10-117h0m8 168h0m-26-50h0m10 43h0m15-34h0m-30-14h0m4-62h0m29 166h0m-33-68h0m23-5h0m-19-5h0m1-26h0m14 152h0m7-213h0m-13 189h0m-17-31h0m22-95h0m4-10h0m-22 48h0m25 51h0m-25 35h0m28-63h0m3 136h0m-12-183h0m10-4h0m-18 101h0m12-82h0m5 138h0m5-39h0m-4 3h0m-32-83h0m30 49h0m-29 82h0m8-127h0m23-55h0m-14 124h0m-15-38h0m18-149h0"/>
<path d="M205 1002h0m-2 19h0m0-19h0m12-22h0m-28 65h0m29 103h0m-37-57h0m9-113h0m25-4h0m-13 5h0m11 56h0m-12 160h0m2-64h0m-17-112h0m11 96h0m-6-56h0m22-23h0m-6 127h0m-10-122h0m13-18h0m-21 157h0m0-64h0m21-33h0m-15 27h0m14-94h0m-16 36h0m0-43h0m-4-25h0m-7 180h0m10 27h0m-2-165h0m28 116h0m-35-119h0m15 143h0m-5-135h0m-8 122h0m15-100h0m-3-42h0m-15 68h0m2 81h0m-2-120h0m5-99h0m30 249h0m-10-138h0m-9 18h0m15-27h0m-18 41h0m2-141h0m12 144h0m1-146h0"/>
<path d="M200 1049h0m6 81h0m-27-40h0m6-17h0m19-8h0m5-43h0m-25 24h0m16 42h0m0 16h0m-7-152h0m3 155h0m15-105h0m1 18h0m-10 2h0m-15 18h0m12 170h0m5-147h0m1 79h0m7-196h0m-16 290h0m-5-273h0m-11 42h0m27 160h0m-15-48h0m-12 8h0m15-47h0m-1-90h0m15 137h0m-28-140h0m12 18h0m10 188h0m2 31h0m9-214h0m-22 144h0m-10 8h0m2-144h0m9 12h0m15 134h0m-28-109h0m22-45h0m-5 119h0m-17 18h0m27-188h0m-9 137h0m-2 8h0m14 16h0m-3-11h0m0-74h0m3 23h0m4 86h0"/>
<path d="M182 1141h0m26-60h0m-18 97h0m9-20h0m4-110h0m-9 28h0m8-34h0m-9 28h0m22-49h0m-27 1h0m27 4h0m-19 39h0m9-101h0m-25 142h0m27 5h0m5-33h0m-29 22h0m8-67h0m-1-22h0m20 120h0m-18-5h0m12 7h0m7-107h0m-8-54h0m-21 49h0m2 135h0m3-132h0m-8 5h0m1 144h0m18-23h0m-2 29h0m-1-43h0m5 24h0m8-108h0m8 125h0m-17-164h0m-6 140h0m-6-132h0m5 157h0m18-45h0m-7 53h0m9-142h0m-22-84h0m19 140h0m3 47h0m4-141h0m-35 119h0m28 66h0m-19-82h0m-3-24h0"/>
<path d="M191 1192h0m21-122h0m-12-55h0m-18-57h0m32 138h0m-33-35h0m8 15h0m-10 99h0m6-78h0m14 47h0m9 4h0m-13-68h0m9 9h0m-6-176h0m11 187h0m-15-145h0m16 262h0m-5-134h0m-20 36h0m-5 30h0m21-1h0m-1-20h0m0-42h0m2-111h0m-7-32h0m17 166h0m-24-36h0m11-28h0m-19 20h0m5-50h0m22 104h0m-18-34h0m8 68h0m11-173h0m-3 135h0m-16-82h0m8-37h0m-8 60h0m7 11h0m13 66h0m2 19h0m-21-95h0m-6-85h0m28 14h0m-3 176h0m-20-124h0m5 70h0m-5-5h0m-9 5h0m23-227h0"/>
<path d="M189 987h0m-1 119h0m12-129h0m8 170h0m-8-37h0m10-35h0m-2 45h0m-23-140h0m16 152h0m15-137h0m-31 189h0m-2-77h0m9 78h0m-2-69h0m-9 95h0m31-28h0m-29-91h0m8-83h0m-3 133h0m24-53h0m-21 91h0m-7-127h0m3-61h0m15 192h0m3-203h0m7 172h0m-22 12h0m-4-110h0m22 84h0m6-37h0m-7 59h0m-11-18h0m-13-68h0m12-22h0m-1 130h0m11-137h0m4-12h0m-18 76h0m-8 31h0m24-49h0m3-2h0m-2 67h0m-23-70h0m26 36h0m-17 8h0m7-153h0m15 145h0m-19-53h0m-15 59h0m28-89h0"/>
<path d="M194 1054h0m-14 169h0m28-287h0m-16 120h0m-4-1h0m21-77h0m-2 124h0m-24 69h0m20-112h0m2-54h0m8 157h0m-29 3h0m9-184h0m7 177h0m4-212h0m-24 284h0m32-8h0m-24-77h0m11 30h0m-7-170h0m-5 124h0m21 69h0m-28-194h0m17-50h0m2 52h0m13 36h0m-18-13h0m8 71h0m-23-1h0m25 9h0m-25 45h0m30-92h0m-30 86h0m7-70h0m18 37h0m10-63h0m-33-38h0m31-24h0m-32 109h0m10-21h0m9 77h0m11-200h0m-20 30h0m-6-30h0m5 238h0m-4-73h0m20-98h0m3 93h0m-26 14h0m0 157h0"/>
<path d="M190 1090h0m0 16h0m14-74h0m-12-20h0m8 70h0m4 103h0m4-201h0m0 219h0m2-43h0m-16-27h0m-10 71h0m17-64h0m2-45h0m-19-72h0m26-75h0m-19 190h0m-1 7h0m-1-7h0m23 35h0m-30-135h0m28-41h0m-20 159h0m-10-77h0m34-3h0m-30 168h0m6-73h0m23-54h0m-28 30h0m25-198h0m-17 193h0m16-43h0m1 109h0m-20-240h0m-8 265h0m25-58h0m-4-11h0m-19-152h0m13 147h0m-15-84h0m19-12h0m12 112h0m-28-93h0m14 14h0m10-4h0m-5 106h0m-19-206h0m29 89h0m-29-97h0m22 233h0m9-145h0"/>
<path d="M183 1203h0m4-180h0m1 37h0m-1 84h0m17-17h0m8-28h0m-8 37h0m-22 75h0m17-36h0m4-96h0m7-49h0m-15 74h0m21 61h0m-7-47h0m2-77h0m-11 17h0m6 42h0m-15 26h0m-11 56h0m20-30h0m-12-29h0m7 11h0m-14-67h0m16 66h0m-4 82h0m4-155h0m17 9h0m-10-64h0m-7 200h0m-9-29h0m1 36h0m24-149h0m-18 104h0m15-154h0m-18-20h0m1 123h0m7 59h0m14-18h0m-15-49h0m-16-47h0m-1 19h0m14-74h0m-2-5h0m-6 76h0m20 149h0m-7-42h0m-19-104h0m26 10h0m-13 62h0m9 88h0"/>
<path d="M216 1181h0m-33-131h0m6 47h0m9 30h0m1 139h0m-16-95h0m19-93h0m-16-39h0m6 188h0m-7-131h0m-4-43h0m27 101h0m-17-59h0m14-75h0m-2 140h0m-16-41h0m2-25h0m-9-65h0m27-5h0m-12 154h0m-4-104h0m0 5h0m17-36h0m-23-11h0m3-23h0m20 148h0m-25-43h0m12 15h0m12-101h0m-6-53h0m-10-5h0m17 69h0m-7-3h0m8-70h0m-6 102h0m-21-125h0m3 16h0m20 175h0m-5 15h0m-19-82h0m8-39h0m17 113h0m-8-154h0m-8 97h0m12 16h0m-2 125h0m1-239h0m-6 87h0m-11 99h0m18 102h0"/>
<path d="M215 1153h0m-24-150h0m3 61h0m7 74h0m-4-122h0m-13 106h0m30-143h0m-17 65h0m10-86h0m-19 32h0m14 82h0m-10 71h0m21 54h0m-32 16h0m6-152h0m1-68h0m-4 10h0m20-4h0m-21 97h0m13-49h0m19 21h0m-30 33h0m18 61h0m9-119h0m-5 31h0m0-39h0m-9 48h0m8 108h0m-17-201h0m20 57h0m-11 132h0m-15 8h0m2-110h0m1 25h0m-5 38h0m29 19h0m-8-197h0m-22 89h0m34 32h0m-19-62h0m4 31h0m-12 86h0m5-23h0m16 50h0m-9-115h0m9-26h0m4-9h0m-30 271h0m25-320h0m-16-79h0"/>
<path d="M207 1005h0m-14 109h0m11 116h0m-23-88h0m31-170h0m-32 1h0m25 88h0m-12-55h0m1 77h0m8-90h0m-22-16h0m6 67h0m22 143h0m-1-62h0m1-56h0m-9-64h0m16 90h0m-15 3h0m-15-85h0m0 149h0m19-23h0m-19-24h0m30-170h0m-6 204h0m-14 5h0m5-107h0m11-24h0m-32 29h0m18 12h0m-4 44h0m5-39h0m-13 52h0m15-138h0m12-2h0m4 212h0m-24-184h0m15 137h0m1-132h0m3 108h0m-13 33h0m18-96h0m-26-37h0m1 166h0m-4-55h0m18-80h0m4 136h0m-6-71h0m-18-190h0m29 208h0m-4-142h0"/>
<path d="M210 1143h0m-8 43h0m-3-85h0m10 40h0m2-13h0m-29-71h0m26 139h0m-29-45h0m5-12h0m17-74h0m-14 27h0m24-102h0m1-3h0m-13 213h0m10-33h0m6-113h0m-14-8h0m-1 31h0m16 46h0m-36-127h0m2 128h0m20 118h0m-13-278h0m-2 104h0m15 84h0m12-168h0m-30 84h0m10-53h0m19 175h0m-8-30h0m-15-117h0m26-39h0m-7 168h0m-28-67h0m7-84h0m17 127h0m5-104h0m-12-28h0m3 26h0m-6 64h0m17 105h0m-31-58h0m-1-25h0m33-18h0m-4 8h0m-4-179h0m-19 141h0m0 36h0m21-81h0m4 179h0"/>
<path d="M189 1124h0m-8-154h0m6 206h0m1 59h0m7-87h0m-2-141h0m6 125h0m1-1h0m1-77h0m-11 39h0m1-88h0m21 184h0m-14-160h0m-8 9h0m-2 184h0m14-193h0m0-137h0m-15 140h0m6 0h0m5 19h0m-10 29h0m2 38h0m-1-143h0m-3 18h0m0 191h0m13-23h0m-20-122h0m3 76h0m5-41h0m6 52h0m0-34h0m9-45h0m-5 119h0m19-127h0m-33 72h0m17-79h0m13 11h0m-4-16h0m-4 96h0m3 96h0m-4-282h0m-16 68h0m18-36h0m-4 113h0m5 53h0m-13-11h0m-1-47h0m-8-7h0m22 103h0m3-276h0"/>
<path d="M195 960h0m18 76h0m-28-9h0m25 141h0m-18-29h0m23-96h0m-6 147h0m-13-162h0m3 109h0m-1-67h0m15 100h0m-24-34h0m12 1h0m12-177h0m-6 198h0m0-71h0m-7-24h0m0 127h0m-2 0h0m-5-42h0m-9-134h0m11 22h0m8-94h0m-7 153h0m18-99h0m-35 131h0m22-51h0m14-66h0m-30 141h0m12 56h0m-6-25h0m7-139h0m-8-67h0m13 160h0m-16-53h0m8 128h0m-4-202h0m-10 105h0m18-86h0m-14 62h0m17 22h0m-4-106h0m-14 89h0m30 30h0m-18-10h0m-9 29h0m16 55h0m-22-134h0m14-60h0m-6-36h0"/>
<path d="M199 1069h0m1-77h0m-9 40h0m15-59h0m6 80h0m-1 92h0m-16-100h0m-12 85h0m11-131h0m-7 161h0m4-153h0m15 15h0m-20-13h0m7 117h0m-4 47h0m12-40h0m7-162h0m2 145h0m-10 39h0m-2-23h0m4 48h0m-10-15h0m-2-112h0m-1-9h0m23 19h0m4 56h0m-25-136h0m4 25h0m-16 42h0m34 30h0m-13 37h0m3-167h0m-22 161h0m4-41h0m-5-35h0m10 82h0m0-8h0m4-80h0m13 10h0m2 175h0m-14-201h0m0-4h0m18 192h0m-12-83h0m-7-143h0m18 177h0m2 27h0m-19-84h0m0-36h0m9-13h0"/>
<path d="M187 1090h0m5 2h0m7 3h0m-17-112h0m-1-5h0m25 169h0m0-153h0m-6 37h0m-10 56h0m8 50h0m4-108h0m1 69h0m12-10h0m-32 89h0m13-80h0m-13 10h0m1-21h0m26-16h0m-3 78h0m-9-137h0m9 81h0m-12 15h0m9-72h0m12 1h0m-35 75h0m25-53h0m-25 48h0m5 141h0m28-200h0m-3 105h0m-7-15h0m-19-181h0m13 68h0m-1 12h0m5 51h0m12 24h0m-27-120h0m21 111h0m-5 97h0m-20 9h0m18-197h0m-14 58h0m19-50h0m-19 13h0m-7 8h0m7 70h0m26-10h0m-33 45h0m34-55h0m-32 74h0"/>
<path d="M214 1016h0m-35 148h0m2-234h0m27 187h0m-4-58h0m-15-113h0m10 22h0m0 180h0m-20 108h0m19-121h0m-7-116h0m22 53h0m-34 41h0m26 53h0m2-90h0m-18-4h0m14 11h0m-2 48h0m6 68h0m-7 17h0m-10-175h0m20 37h0m-2 61h0m-26 35h0m10-108h0m-2 15h0m1 40h0m15-59h0m5-90h0m-17 86h0m12 66h0m6 69h0m-14-115h0m18 52h0m-34-40h0m17-51h0m-19 34h0m29 72h0m-16-17h0m-12-140h0m33 74h0m-27 137h0m18-5h0m5-119h0m-7-8h0m5-51h0m-4 94h0m-13-95h0m14-53h0m-17 85h0"/>
<path d="M200 1007h0m-11-1h0m26 127h0m-31-80h0m13 106h0m5-15h0m11-123h0m-10-50h0m6 93h0m-10 58h0m-10 12h0m10-86h0m-3-67h0m9 218h0m5-133h0m-17 99h0m5-166h0m7 20h0m-17 21h0m26 81h0m-30-46h0m31 35h0m-2-58h0m-5-36h0m-7 21h0m-8 108h0m0 90h0m-1-76h0m2-135h0m0 209h0m-6-180h0m25 55h0m-11-9h0m-15-48h0m24-68h0m-15 186h0m-10-54h0m0 62h0m0-59h0m-6-23h0m27-21h0m-28-34h0m14 125h0m-2-155h0m21 133h0m-21 16h0m20-8h0m-17-29h0m-9 4h0m29-174h0"/>
<path d="M214 1067h0m-33 95h0m28-113h0m-18 3h0m-10-29h0m30-67h0m-23 226h0m26-4h0m-8-198h0m-1 73h0m-6 38h0m-3-96h0m-7 65h0m13-53h0m-11-23h0m23 72h0m-15 132h0m6-44h0m-5 42h0m-19-31h0m35-32h0m-8-39h0m-28-92h0m7 160h0m14-88h0m-13 54h0m7-144h0m13 118h0m-27 115h0m29-207h0m-20 152h0m24-154h0m-26 211h0m10-147h0m3 70h0m3-155h0m1-88h0m3 250h0m-2-96h0m-4 73h0m-18 26h0m5-67h0m11 72h0m7 52h0m-15-91h0m9 38h0m1 78h0m-9-119h0m-4 84h0m25-81h0"/>
<path d="M201 927h0m9 141h0m0 64h0m-28 55h0m27-65h0m5-176h0m1 13h0m-30 111h0m5 30h0m-4 5h0m0-59h0m0 90h0m20 39h0m-22-109h0m28 5h0m-20-64h0m5 71h0m14-80h0m-11 106h0m3 125h0m-13-190h0m-8 25h0m18 22h0m5-49h0m-5 20h0m-12-90h0m5 123h0m19-216h0m-31 199h0m11 111h0m17-78h0m-16-20h0m-2-6h0m8 73h0m2-50h0m13 59h0m-15-88h0m14-24h0m-19 53h0m-12 86h0m8-155h0m-4 61h0m-5 13h0m31-32h0m-30 56h0m33-77h0m-4 57h0m-29-129h0m5 22h0m3 69h0"/>
<path d="M180 1051h0m18 43h0m-17-3h0m11-59h0m7 23h0m-20 131h0m14-59h0m-10 53h0m2-169h0m25 14h0m-26 77h0m30-67h0m-5 203h0m-1 4h0m-22-299h0m28 226h0m-18-118h0m14 53h0m-12 62h0m-16-2h0m28-86h0m2 18h0m2 108h0m-29 3h0m22-18h0m-12-141h0m-9 56h0m23-6h0m-6 71h0m7-153h0m-19-16h0m-4 165h0m10-174h0m12 0h0m-14 132h0m-13-22h0m29-104h0m-25 138h0m15-92h0m-14 28h0m10 55h0m-2 43h0m20-114h0m-25 47h0m15 102h0m-10-142h0m4 21h0m14 8h0m-16-65h0m-2 54h0"/>
<path d="M213 1092h0m-6 18h0m-8 55h0m7-95h0m9 114h0m-29-200h0m28-27h0m-23 133h0m12-1h0m-5 98h0m-18-85h0m30-126h0m-23 109h0m18 21h0m9-23h0m2 3h0m-25 27h0m3 5h0m11 14h0m0-24h0m-12 27h0m0 32h0m-6-74h0m3 23h0m25 15h0m-11 39h0m-15-37h0m18-88h0m-12-70h0m-7 128h0m24-94h0m-33 1h0m26 66h0m-18 80h0m20-128h0m-10 39h0m-15-109h0m33 247h0m-17-181h0m-7 119h0m8-179h0m10 58h0m0-31h0m-23 188h0m17-55h0m9-76h0m-13-66h0m-7 125h0m14-83h0m-2-114h0"/>
<path d="M189 1039h0m-2 161h0m10-181h0m-4 199h0m15-276h0m-26 170h0m0-189h0m-1 72h0m28 183h0m-2-115h0m-25 115h0m3-112h0m17-85h0m10 231h0m4-143h0m-25-89h0m1 8h0m18 76h0m-25 37h0m16-54h0m9 72h0m-23 63h0m-3-174h0m9 4h0m8 44h0m-8 74h0m4-195h0m-13 70h0m17 116h0m-20 63h0m23-193h0m2 44h0m-22 66h0m32-26h0m-37-125h0m32 119h0m-23 82h0m-1-32h0m24-2h0m-31-86h0m8 24h0m-1-4h0m29-49h0m-29 71h0m9 69h0m6-9h0m-21 7h0m10-54h0m4-54h0m13 114h0"/>
<path d="M193 1093h0m-13 109h0m31-1h0m-25-77h0m-7-15h0m36 46h0m-33 55h0m20-63h0m-18 69h0m14-104h0m-6-118h0m1 56h0m-7-48h0m30 60h0m-14-118h0m10 183h0m-7-52h0m-2 141h0m8-256h0m-30 103h0m16 30h0m-4 106h0m3-45h0m-6 24h0m19-81h0m-22 125h0m-2-272h0m2 47h0m14 102h0m12 41h0m-22-65h0m21 13h0m-8-153h0m-5 244h0m3-84h0m11-145h0m0 2h0m-9 27h0m8 18h0m-14 59h0m6-7h0m-10-46h0m7-31h0m-3 97h0m-6-28h0m19-57h0m-1-20h0m-20 57h0m21 81h0m0-42h0"/>
<path d="M196 1180h0m-17 44h0m11 1h0m17-116h0m-8-67h0m-15-76h0m3 177h0m4-8h0m13-4h0m8 7h0m-31-42h0m16 77h0m1-205h0m15 41h0m-14 92h0m11-130h0m-31 127h0m14 133h0m2-45h0m-11-18h0m21-46h0m0 1h0m-23-140h0m14 45h0m12 28h0m4 6h0m-16 26h0m3 25h0m14-89h0m-21 171h0m0-189h0m12 64h0m6 123h0m-29-170h0m9 214h0m-10-151h0m7-73h0m-3 83h0m26-142h0m-24 114h0m18-67h0m5 200h0m1-21h0m-30-213h0m20 169h0m-3 14h0m18-109h0m-26 30h0m0-119h0m13 9h0"/>
<path d="M214 1081h0m-18 25h0m4-38h0m5-50h0m-10 116h0m12 25h0m-1 17h0m9-225h0m-13 176h0m7 8h0m5-103h0m-2-13h0m-1 104h0m-31 6h0m9-67h0m8 94h0m-18-152h0m18 111h0m-8 2h0m14 114h0m6-179h0m-27-112h0m12 96h0m11-11h0m-21 89h0m14-123h0m-5 108h0m-6-62h0m20 117h0m-15-1h0m-1-52h0m14 138h0m-12-91h0m20-128h0m-17 86h0m3-23h0m-7 126h0m11-127h0m0 40h0m-15-15h0m1-14h0m9 46h0m-18 0h0m27-57h0m3 90h0m-14-86h0m12-70h0m4 30h0m0 66h0m-24 66h0"/>
<path d="M197 1062h0m14 149h0m-19-107h0m5 50h0m16-58h0m-9-40h0m-1-21h0m-18-34h0m10 71h0m15-73h0m-4 11h0m-8-49h0m8 176h0m-3 2h0m2-32h0m1-36h0m-17-73h0m9 21h0m-17 2h0m23 193h0m4 3h0m-19-50h0m-9-28h0m16 31h0m20-11h0m-11-68h0m3 1h0m-25-76h0m12 88h0m-12 31h0m12-145h0m-2 69h0m-9 46h0m12-93h0m-15 14h0m23 36h0m-22-98h0m24-19h0m0 111h0m4-21h0m-20 21h0m18 31h0m-28-18h0m5-8h0m19 65h0m5-50h0m-7 94h0m-1-35h0m-4 17h0m1-86h0"/>
<path d="M188 1126h0m-7 25h0m29-219h0m-15 135h0m17 5h0m-26 93h0m-7-165h0m9 0h0m-7 119h0m35-157h0m-26 239h0m0 9h0m26-141h0m-25 79h0m-11 27h0m15-72h0m8-98h0m-21 23h0m34 60h0m-30 25h0m-1 120h0m12-285h0m14 186h0m-19 68h0m18-140h0m-6 11h0m6 50h0m-4 18h0m-6-80h0m-19 159h0m30-75h0m-18-35h0m22-71h0m-4-14h0m-32 99h0m20-104h0m-16 55h0m-2-32h0m17 11h0m-1-46h0m-18 33h0m8 16h0m13 115h0m-13-72h0m24-58h0m3 33h0m-33 41h0m20-98h0m-18 25h0m4 81h0"/>
<path d="M214 1179h0m-28-75h0m-1-3h0m24 108h0m-3 21h0m8-81h0m-3 8h0m-10-89h0m-4 27h0m17-54h0m-16 110h0m9-65h0m-11 26h0m19 34h0m-3 40h0m-33-42h0m29 26h0m-16-16h0m6-90h0m12-16h0m-29 113h0m17 14h0m-15-84h0m2-129h0m16 85h0m-3 43h0m-6-115h0m7 82h0m8 13h0m-8 64h0m14 37h0m-13-182h0m-2 77h0m5-53h0m-19-58h0m16 151h0m-17 26h0m-2 38h0m2-55h0m22-163h0m-13 86h0m22 66h0m-33-11h0m30 34h0m1 68h0m-30-130h0m23 39h0m-13-111h0m4 127h0m-8-197h0"/>
<path d="M211 995h0m-13 112h0m-5-37h0m6-11h0m-10 20h0m6 4h0m18 61h0m-7-46h0m-13-30h0m8 27h0m-17-68h0m-3 12h0m19 207h0m-20-11h0m31-174h0m-15 59h0m11-4h0m-3-55h0m-11 142h0m-8-116h0m31 39h0m-3-60h0m-29 3h0m20 121h0m-8-67h0m2 71h0m3-172h0m-8 0h0m6 15h0m-7 116h0m7 1h0m-7-129h0m17 35h0m3 37h0m-2-103h0m-24 85h0m5 22h0m9-18h0m7 91h0m-2-164h0m-11 137h0m-12-88h0m23 68h0m8-31h0m-30-32h0m32-6h0m-22-119h0m-13 92h0m29 1h0m2-13h0"/>
<path d="M202 1160h0m-8-113h0m-10 100h0m-1-82h0m-1 54h0m0-7h0m13-77h0m6 71h0m-17-55h0m12-3h0m2 108h0m0 5h0m1-122h0m-14 160h0m6-96h0m25 107h0m-35-37h0m24-109h0m1-17h0m-23 87h0m31-161h0m-5 108h0m-11-104h0m-7 105h0m14-125h0m-23 187h0m0-84h0m24-82h0m-20 106h0m20-131h0m-22 87h0m32 138h0m-34 20h0m10-43h0m9-167h0m-16 36h0m21 193h0m10-25h0m-4-71h0m-31 52h0m32-112h0m-16-5h0m-3-91h0m-7 71h0m-1 70h0m-7-23h0m7-53h0m30 77h0m-15 21h0m-15-24h0"/>
<path d="M196 1186h0m-9-179h0m-8 133h0m34-69h0m-24 44h0m-1-43h0m-1 58h0m7 61h0m-12-110h0m12-44h0m-7-23h0m-2 70h0m-2 11h0m-2 34h0m12 85h0m8-157h0m9 51h0m-25-17h0m16-141h0m-7 57h0m-3 50h0m16 4h0m-19 27h0m6 4h0m-6-43h0m-1 5h0m11-6h0m-6-5h0m0 129h0m21 25h0m-25-68h0m20-99h0m-25-9h0m28-19h0m-30 12h0m10 12h0m-2 46h0m-6 95h0m-2-170h0m29 172h0m-17-44h0m6 1h0m-6 77h0m-10-29h0m23-115h0m5-68h0m-23 208h0m-8-238h0m31 94h0m3 51h0"/>
<path d="M209 1189h0m4-111h0m-19 51h0m2 59h0m2-140h0m15-66h0m3 132h0m-35-31h0m32-142h0m-8 199h0m3-130h0m-3 52h0m6 35h0m-9-45h0m-11 178h0m14-210h0m-12 84h0m-6-52h0m29 193h0m-4-132h0m2-73h0m-34 107h0m17-72h0m-8-138h0m8 86h0m-12 88h0m3 115h0m-6-140h0m-1 33h0m4 73h0m26-135h0m5-121h0m-18 218h0m0-70h0m-3 111h0m3-184h0m-9 167h0m15-95h0m-20 60h0m5-98h0m11 85h0m5-158h0m-6 67h0m1 100h0m7-58h0m-25-43h0m17-41h0m-5-14h0m10 8h0m4 208h0"/>
</g>
<use href="#v2" fill="none" stroke="#111" stroke-width="1.1" stroke-linejoin="round"/>
<rect x="182.1" y="1093.2" width="31" height="3.4" fill="#fff"/>
<use href="#v3" fill="#C4970F"/>
<g stroke="#000" stroke-opacity="0.170" stroke-width="4.8" stroke-linecap="round" fill="none">
<path d="M254 1104h0m-14 1h0m-12 31h0m35-15h0m-9 12h0m-25-31h0m0 30h0m22-15h0m-10 12h0m4-45h0"/>
</g>
<use href="#v3" fill="none" stroke="#111" stroke-width="1.1" stroke-linejoin="round"/>
<rect x="229.2" y="1099.8" width="31" height="3.4" fill="#fff"/>
<use href="#v4" fill="#A9A224"/>
<g stroke="#000" stroke-opacity="0.170" stroke-width="4.8" stroke-linecap="round" fill="none">
<path d="M298 1089h0m-23 57h0m12 17h0m10-119h0m-21 68h0m10-32h0m-6 5h0m12 128h0m9-231h0m6 128h0m3 22h0m-11-16h0m0-105h0m1 130h0m5 57h0m0-125h0m-31 86h0m19-169h0m-12 177h0m29-145h0m-27 53h0m-1 6h0m10-53h0m-1 53h0m-9-146h0m26 35h0m-24 209h0m-4-58h0m20-93h0m-11 84h0m-9-184h0m30 78h0m-13 5h0m-11-12h0m15 127h0m-8-58h0m5-37h0m-10 121h0m16 28h0m-20-68h0m-2-112h0m3 51h0m14-105h0m-6 298h0m6-257h0m-3-31h0m-19-3h0m7 63h0m21 69h0m-11-2h0m-6 86h0m1-127h0m5 253h0"/>
<path d="M310 1127h0m-3 80h0m-2-137h0m-21-46h0m10 56h0m-17-67h0m31 81h0m-28-101h0m26 67h0m-3 47h0m-4-15h0m6-45h0m3 165h0m1-134h0m-13-55h0m11 62h0m3-24h0m-31 29h0m6 5h0m4 44h0m16-7h0m-14-10h0m10-104h0m-2 105h0m-6 48h0m7 58h0m-4-189h0m12 102h0m-28 78h0m-1-58h0m13-54h0m6-69h0m11 139h0m-34 103h0m0-329h0m7 243h0m0 37h0m14-222h0m-17 85h0m12 60h0m1-209h0m-8 152h0m8 33h0m14 93h0m-25-78h0m28-131h0m-19 9h0m15 75h0m-5-13h0m-25 2h0m26 131h0m-17-21h0m-4-251h0"/>
<path d="M298 1102h0m-24-4h0m34 39h0m-25-131h0m4-6h0m-8 198h0m1-145h0m26 15h0m-27 101h0m13-46h0m6-133h0m-19 141h0m1-114h0m-3 173h0m13-46h0m-7 31h0m12-12h0m-15-119h0m25 190h0m-10-207h0m-2 12h0m-17 8h0m6-59h0m20 211h0m-8-3h0m-17-119h0m1-12h0m20-63h0m8 19h0m-7 85h0m4-121h0m-27 175h0m8-75h0m-11 28h0m34-7h0m1 18h0m-34 77h0m8-68h0m21-190h0m-20 51h0m5 113h0m-14-30h0m9 77h0m12-224h0m-2 83h0m-19 97h0m26-16h0m-16 113h0m14-104h0m-19-91h0m22 87h0m-2-17h0m5-119h0"/>
<path d="M284 1119h0m24-42h0m-25-124h0m8 77h0m-9 65h0m16-95h0m8-22h0m-30 127h0m30 40h0m0-27h0m-33-179h0m37 11h0m-33 162h0m22-99h0m-20 54h0m0 81h0m14-155h0m11 36h0m-8 73h0m-3-38h0m4 95h0m-6 45h0m4-34h0m-12-5h0m3-161h0m9-63h0m7 201h0m-15-191h0m-7 169h0m13 88h0m3-155h0m-18 1h0m-3 18h0m31-72h0m-1 131h0m-29 138h0m24-175h0m-24-67h0m6 33h0m23 73h0m-15 68h0m1-77h0m11-2h0m-6 32h0m2-88h0m-19 109h0m-1-60h0m0 64h0m31-75h0m-9 9h0m-11-96h0m-9 206h0m5-6h0"/>
<path d="M306 1165h0m-4-105h0m-28 27h0m30 52h0m5 28h0m-22-72h0m-10-69h0m5 131h0m27-212h0m1 186h0m-21 16h0m19-59h0m-13-161h0m-3 205h0m13-47h0m-5 95h0m-18-149h0m14 69h0m-20 108h0m12-114h0m19 9h0m-34 82h0m24-192h0m1 45h0m-11 87h0m-1-99h0m5 100h0m0-23h0m12 49h0m-25 21h0m4-86h0m22 30h0m-8-97h0m-6 50h0m2 57h0m-16-174h0m26 42h0m-18 65h0m10 62h0m-18-104h0m30-37h0m-2 55h0m-16 63h0m4-104h0m4 20h0m-19 62h0m14-20h0m0 133h0m19-113h0m-22 107h0m12-145h0m-2 27h0m6 238h0"/>
<path d="M294 982h0m5 28h0m-2-43h0m-8 38h0m7 222h0m-11-97h0m15-131h0m-14 163h0m7-187h0m-5 164h0m-8-22h0m-2 30h0m21-59h0m-2 4h0m13-99h0m-22 121h0m-13-46h0m15-7h0m-11 28h0m16-128h0m5 289h0m0-130h0m-9 12h0m19-164h0m-29 62h0m12-63h0m1 53h0m-5 135h0m-15-128h0m10 78h0m10-11h0m15-58h0m-17-34h0m19-8h0m-16 244h0m-3-96h0m14-144h0m-31 70h0m21-62h0m13 116h0m-5-136h0m-10-43h0m-6 163h0m22-16h0m-17 20h0m-5-2h0m-9-70h0m12 89h0m19-165h0m-17 26h0m2 232h0m-5-216h0"/>
<path d="M286 1183h0m-2 44h0m-5-137h0m-6-128h0m22 146h0m1-136h0m6 107h0m-15 37h0m8 55h0m-4 78h0m-3-197h0m-5 120h0m12-137h0m-4 163h0m7-141h0m12 102h0m-24 82h0m-8-106h0m18-74h0m11-113h0m-27 137h0m4 39h0m-7-16h0m8 11h0m-1 3h0m20-29h0m-20 19h0m9-82h0m5 114h0m-16-199h0m15 229h0m-13-83h0m1 16h0m17-75h0m-24 21h0m7-40h0m-5 142h0m26 25h0m-14-38h0m-9 31h0m-4-90h0m-5 44h0m8-121h0m10 20h0m-13-11h0m17 113h0m-5-167h0m-5 238h0m21-81h0m-3-9h0m-21 8h0m5 44h0"/>
<path d="M292 958h0m18 126h0m-29 84h0m15-115h0m13 95h0m-8 148h0m-21-220h0m26 149h0m-23-85h0m1-175h0m2 36h0m-8-41h0m24 190h0m-18-70h0m6-16h0m5-92h0m9 28h0m-31 69h0m13-11h0m7-48h0m-13 133h0m12-157h0m1 150h0m-18 17h0m5 64h0m29-18h0m-32-86h0m20-64h0m-23 99h0m21-98h0m-10 79h0m25 60h0m-14-44h0m-14-88h0m25-122h0m-26 300h0m-2-87h0m6 63h0m-4-12h0m15-148h0m11 142h0m-1-158h0m-7-14h0m7 77h0m-31-58h0m7 85h0m-5-47h0m18-31h0m7 177h0m-21-227h0m-5 8h0m22 9h0"/>
<path d="M308 1110h0m1-122h0m-6 252h0m-3-188h0m-4 131h0m-4 11h0m-19-88h0m34-25h0m-4 19h0m-17-21h0m9-120h0m-14 153h0m12-99h0m3-52h0m-15 145h0m6-56h0m2-75h0m8-30h0m-15-14h0m23 109h0m-29 86h0m3-135h0m-6 113h0m17 123h0m-5-161h0m-5-55h0m27-22h0m-26 190h0m13 21h0m-16-8h0m2 0h0m22 29h0m7-8h0m-29-115h0m8 114h0m-6-288h0m3 233h0m23 14h0m-10 21h0m-1-68h0m-23 44h0m31-176h0m-23 44h0m24 36h0m-22 154h0m5-68h0m6 27h0m-5 53h0m10-58h0m-5-84h0m-18 189h0m7-125h0"/>
<path d="M281 1161h0m-5-54h0m14 57h0m-7-48h0m10 8h0m-14 16h0m20 17h0m9-37h0m-4-153h0m-28 100h0m19 89h0m-15-81h0m7-30h0m1 14h0m-12 55h0m24 34h0m10-213h0m-22 56h0m-7 26h0m29-2h0m-10 106h0m-11 49h0m20-244h0m-29 306h0m24-183h0m2 177h0m-21-166h0m6 75h0m-5 96h0m5-159h0m12 86h0m-6-49h0m-5 35h0m17 12h0m-1-31h0m-8 37h0m-24-106h0m26 30h0m-29-99h0m3 147h0m9-33h0m24-61h0m1-74h0m-11 209h0m-13-81h0m-12-128h0m33-37h0m-15 178h0m11-30h0m3-138h0m-28 197h0m22-54h0"/>
<path d="M283 1119h0m-3 1h0m27-39h0m-28 117h0m-6-63h0m11-118h0m25 94h0m-33-33h0m23-142h0m5 56h0m-23 7h0m22-71h0m-25 165h0m11 46h0m9-127h0m-3 114h0m-19 13h0m19-42h0m-1-23h0m-4 4h0m0 39h0m-6 31h0m22-178h0m-4 182h0m-4-122h0m-13-17h0m-2 24h0m1 108h0m26 73h0m-21-222h0m13 83h0m-15-59h0m-4 122h0m-9-118h0m8 211h0m-5-22h0m10-184h0m-3 45h0m4 95h0m13 2h0m-3-125h0m-11 47h0m4 42h0m5-126h0m-17 93h0m3 65h0m0 26h0m-5-13h0m-3-134h0m15 52h0m3-110h0m11 70h0"/>
<path d="M274 935h0m14 46h0m4 174h0m3 75h0m-12 73h0m11-292h0m-17 81h0m25-132h0m-11 197h0m18-29h0m-2 47h0m-17-120h0m-7 114h0m22-57h0m-4-13h0m-12-155h0m-10 36h0m3 193h0m-3-11h0m4-93h0m21 13h0m-3 77h0m-13-38h0m-10-36h0m14 43h0m16-184h0m-30 101h0m28 175h0m-13-86h0m2-14h0m9 57h0m-30-47h0m35-34h0m-22-33h0m20-73h0m-23-20h0m-10 88h0m31 155h0m-13-92h0m-9 102h0m-3-215h0m18 106h0m11-106h0m0 109h0m-29 82h0m3-101h0m-9-146h0m5 124h0m-1 41h0m9-97h0m12 48h0m-5 124h0"/>
<path d="M284 1073h0m9 53h0m-14-11h0m22 25h0m-7-63h0m-18 77h0m5-134h0m23 86h0m-3 12h0m-27-148h0m28 21h0m-13 12h0m-7 196h0m6-258h0m18 147h0m-14-154h0m-17 255h0m-1-139h0m2 120h0m-2-14h0m23-149h0m3 60h0m6-93h0m-8 123h0m-15 10h0m9 140h0m-2-259h0m-12 147h0m-2-1h0m8-65h0m10-77h0m9 2h0m-9 24h0m-8 220h0m-6-134h0m-5-145h0m0 247h0m31-142h0m-15 68h0m-4-142h0m6 91h0m16 23h0m-31 16h0m25-132h0m-12 77h0m-16 24h0m6 22h0m0-149h0m1 63h0m8 100h0m20-155h0m-8 43h0"/>
<path d="M275 1148h0m1-11h0m15-112h0m-7-7h0m11 160h0m10-43h0m-17-29h0m0 69h0m11-17h0m-17-139h0m4 90h0m-5 38h0m-2-26h0m-2-12h0m1 60h0m10-159h0m15 26h0m-26 111h0m17 9h0m-3 38h0m-13-156h0m20 116h0m-5-103h0m4 7h0m0 75h0m0 42h0m5-60h0m-20-44h0m16-52h0m10 89h0m-2-17h0m-5 96h0m-18-216h0m14 54h0m7 41h0m-9 3h0m10 1h0m-13 11h0m-10 2h0m5 38h0m8 3h0m-14 2h0m13-134h0m-1 204h0m-13-107h0m3 84h0m3-90h0m-1-83h0m8 20h0m-19 161h0m17-115h0m15 129h0"/>
<path d="M285 1173h0m4-40h0m19-89h0m-21 105h0m3 92h0m18-42h0m-7-148h0m-13 143h0m22-46h0m-30-116h0m6-48h0m-1-37h0m12 124h0m-17 31h0m2-4h0m7-79h0m12 12h0m-22-88h0m19 158h0m-8-30h0m-15 106h0m8-39h0m8-67h0m-16-38h0m-1 9h0m28-78h0m-23 132h0m10-163h0m3 197h0m10-198h0m-18 112h0m26-71h0m-19 52h0m18 12h0m-14 104h0m-11-65h0m17 69h0m-19 73h0m6-125h0m-1-138h0m-11 54h0m2 79h0m31-72h0m-20 45h0m19 137h0m-6-152h0m-22-19h0m-5 125h0m23-23h0m-22 74h0m4 34h0m12 18h0"/>
<path d="M294 1131h0m-10-95h0m-7 64h0m10-36h0m13 69h0m-1-58h0m9 50h0m-5 122h0m-14-14h0m2 4h0m-10-155h0m14 88h0m-19-168h0m31 99h0m-7-115h0m8 184h0m-20-199h0m-1 222h0m23-59h0m-36 47h0m4 56h0m2-131h0m16 78h0m13 15h0m-3-96h0m-19-9h0m-9 74h0m20 33h0m1-120h0m8 87h0m-29-47h0m16-169h0m-19 244h0m33 43h0m-9-284h0m-1 123h0m-12 88h0m-10-250h0m17 90h0m-4 59h0m-12 138h0m-2-95h0m8 22h0m17-58h0m-24 83h0m24-56h0m8-87h0m-20 72h0m-1 4h0m7-67h0m15 94h0m-18-11h0"/>
<path d="M284 1159h0m8 43h0m-17-78h0m24-32h0m8 44h0m-2-123h0m-3 94h0m3 2h0m-24-64h0m26-40h0m-8 122h0m-11 13h0m-9 33h0m3 5h0m17-16h0m-25-168h0m27 76h0m-12 54h0m11-164h0m-2 106h0m11 50h0m-12-52h0m3 162h0m-12-34h0m-3-116h0m10 101h0m15-133h0m-10 180h0m4-176h0m-29 25h0m1-83h0m15-55h0m-13 109h0m13 30h0m17-55h0m-31-34h0m5 0h0m4 115h0m5 57h0m-6-16h0m16 72h0m8-230h0m-17 76h0m18-10h0m-4 126h0m-15-79h0m-17-81h0m20 65h0m2 142h0m0-198h0m2 80h0m-13 2h0"/>
<path d="M280 1051h0m17 37h0m0-44h0m-21 64h0m27-156h0m-25 155h0m2-130h0m23 43h0m2 88h0m-30 167h0m24-105h0m-17-17h0m11-50h0m0-10h0m-7-155h0m-10 211h0m15-204h0m14-4h0m1 56h0m-25 184h0m10 36h0m11-67h0m-17-185h0m-11 224h0m27-115h0m-24-80h0m30 174h0m-17-177h0m11-46h0m-16 42h0m4 160h0m-9 9h0m6-110h0m-1 22h0m20-79h0m-30 6h0m18 67h0m-6 126h0m-11-67h0m29 91h0m-24-69h0m-6 48h0m-2-242h0m14 242h0m-5-90h0m22-85h0m0 107h0m-12 12h0m6-148h0m1 102h0m-21 93h0m11-146h0"/>
<path d="M281 1125h0m-6-13h0m34 65h0m-3-87h0m-16-103h0m-4 46h0m11 73h0m6 23h0m1 31h0m-21-13h0m0-75h0m4-60h0m-13 16h0m26 9h0m-26 166h0m7 33h0m11-276h0m-10 145h0m-3-18h0m-2-85h0m32 171h0m-9 31h0m-4-80h0m-15-1h0m13-129h0m-20 27h0m19-65h0m-14 30h0m16 130h0m14 4h0m-5 79h0m-23 20h0m7-121h0m3-12h0m13 19h0m-20 78h0m-2-7h0m21-83h0m-11-49h0m-6 90h0m1 51h0m-2-218h0m-9 204h0m24-36h0m-8-141h0m-9 95h0m4 40h0m-8-58h0m14 55h0m9-11h0m1-121h0m2 36h0"/>
<path d="M305 1115h0m-26-5h0m-4-71h0m-1 198h0m28-167h0m-18-80h0m3 126h0m6-12h0m-6 79h0m6-119h0m8-5h0m-26 66h0m19-107h0m-11 83h0m-5-104h0m17-11h0m12 143h0m-7-43h0m-20 38h0m26-39h0m-7-100h0m-7 186h0m-10 22h0m26-186h0m-32 139h0m34-105h0m-21 116h0m20-164h0m-12 243h0m1-49h0m-7-206h0m-13 262h0m32-131h0m-20-85h0m1 69h0m-6-34h0m10-40h0m-12 110h0m8 25h0m-10 77h0m27-62h0m-6-44h0m-19 67h0m10-4h0m-19-143h0m1 68h0m24 48h0m-6 2h0m-19 5h0m1-196h0m15 115h0m14 135h0"/>
<path d="M291 1240h0m13-140h0m-5-61h0m-3 65h0m-5 79h0m-5-49h0m-9-189h0m21 153h0m-12-43h0m2 126h0m0 47h0m-5 77h0m-3-231h0m22 93h0m9-184h0m-28 82h0m18 96h0m5-149h0m-26-13h0m1 239h0m-2-268h0m26 73h0m-21-41h0m-6 18h0m30 88h0m-30-10h0m24-34h0m-22-57h0m10 21h0m4-17h0m3 127h0m7 27h0m-14-88h0m5 91h0m-9 3h0m-6-76h0m18-6h0m-20 61h0m3-185h0m-8-17h0m5 51h0m22 57h0m-12 2h0m13 95h0m-9-76h0m-11 38h0m27-62h0m-27 86h0m0-34h0m9-22h0m8 3h0m-1 150h0"/>
</g>
<use href="#v4" fill="none" stroke="#111" stroke-width="1.1" stroke-linejoin="round"/>
<rect x="276.3" y="1107.5" width="31" height="3.4" fill="#fff"/>
<use href="#v5" fill="#89AA2E"/>
<g stroke="#000" stroke-opacity="0.170" stroke-width="4.8" stroke-linecap="round" fill="none">
<path d="M348 1125h0m-14-87h0m17 15h0m-7 12h0m-18 54h0m9-39h0m-15 58h0m15 27h0m6-176h0m-1 231h0m-7-226h0m19 111h0m-20-7h0m-5 68h0m8-23h0m-5-71h0m21 19h0m-17-5h0m7 58h0m10 10h0m-2-137h0m3 51h0m-1 0h0m-18 71h0m25-96h0m-27 4h0m2 21h0m-2 57h0m6 17h0m14-34h0m-30-38h0m11 87h0m11-110h0m-18 152h0m-4-65h0m14 9h0m-14-53h0m13-16h0m2 67h0m-16-150h0m33 144h0m-18-7h0m-4 32h0m-10-76h0m23 86h0m11 3h0m-30-90h0m29-27h0m-20 39h0m15 14h0m-2 73h0m-23-113h0m20-47h0m-16 130h0m24-93h0"/>
<path d="M325 1160h0m23 40h0m6-130h0m-32-57h0m11 4h0m-3 127h0m20 42h0m6-77h0m-35-28h0m21-74h0m-9 101h0m7 10h0m12 35h0m-32-136h0m25 10h0m-6-2h0m16 81h0m-13 51h0m-22 9h0m25-56h0m-14 22h0m-2-22h0m24-11h0m-11-98h0m3 105h0m-7 45h0m-11 62h0m8-125h0m9 112h0m5-67h0m-6 78h0m-9-160h0m3-21h0m5-6h0m15 184h0m-27-173h0m-10 64h0m38-61h0m-20 24h0m5 116h0m-6-196h0m6 181h0m13 29h0m-4-159h0m-22 142h0m14-77h0m-7-24h0m10 10h0m-17 72h0m24-1h0m-9-68h0m8 114h0m-4-93h0m-2-18h0m-1-116h0"/>
<path d="M343 1016h0m-7-23h0m-3 124h0m25-97h0m-35 71h0m2 24h0m30-46h0m-16-28h0m-10 130h0m8-55h0m-2-31h0m-8-46h0m20 10h0m-12 25h0m9-14h0m1 59h0m-13-47h0m-8 6h0m30 83h0m-25-32h0m26 20h0m-18 23h0m-4-113h0m11 93h0m5 15h0m0-139h0m-26 56h0m15-53h0m15 190h0m-9-145h0m1 6h0m-13 32h0m-6 3h0m29-129h0m-9 82h0m-12 51h0m11 15h0m-24-139h0m13 16h0m-12 153h0m29-65h0m-10 32h0m-16 60h0m22-186h0m-4 34h0m-23 96h0m33-14h0m-22-56h0m-3-24h0m29 62h0m-23-110h0m5 174h0m6-37h0m-7-16h0m0-152h0"/>
<path d="M350 1122h0m-28-3h0m13-21h0m11-96h0m-17 97h0m19 108h0m4-80h0m-25 80h0m-6-169h0m9-34h0m21 77h0m-8 105h0m-20-88h0m4 108h0m9-127h0m-10-4h0m27 90h0m-20-161h0m13 68h0m-10 72h0m-5-44h0m13 25h0m-18-58h0m1 96h0m9-78h0m-7 75h0m16-126h0m2 36h0m9 6h0m-34 41h0m31 10h0m-7 48h0m11-149h0m-35 38h0m32 3h0m-17 48h0m18 79h0m-8-110h0m2 107h0m-2-148h0m-21 57h0m-1-4h0m21-4h0m-11 96h0m22-45h0m-24-28h0m-5-59h0m1 41h0m7-38h0m0 70h0m11 10h0m-21-85h0m30 67h0m-28-70h0m17-42h0"/>
<path d="M331 1111h0m6 31h0m-15-130h0m-2 131h0m21-58h0m12-61h0m-26 164h0m12-173h0m-12 56h0m11-88h0m-11 84h0m26 33h0m-23-95h0m4 140h0m11-117h0m2 98h0m-22 5h0m8-28h0m13-47h0m-1 85h0m-8-90h0m17 4h0m-12 75h0m1-107h0m-5 98h0m15-8h0m-9 8h0m-22 10h0m9-88h0m24 1h0m-17 37h0m4 16h0m-6-94h0m5 73h0m0-62h0m2 7h0m6-23h0m1 54h0m-26-78h0m1 142h0m7-92h0m2 11h0m13 187h0m-14 17h0m22-157h0m-18 11h0m9 101h0m8-112h0m-20 23h0m-2-66h0m-5 140h0m14-154h0m1 77h0m-14 93h0m13-78h0"/>
<path d="M330 1108h0m0 13h0m27-65h0m-5-70h0m-22 151h0m11-18h0m-9-44h0m11 109h0m2-40h0m-10-126h0m22 38h0m-8 6h0m-1 126h0m-16-171h0m17 98h0m-19-81h0m16 93h0m8-33h0m-21 75h0m-9-106h0m25 10h0m-20 38h0m3-75h0m17 106h0m-2 61h0m8-143h0m-7 45h0m-2 57h0m-10-125h0m8 117h0m-12-5h0m0 7h0m23-6h0m-14 38h0m-8-45h0m19-21h0m5 107h0m-11-231h0m-23 40h0m13-42h0m21 40h0m-17 78h0m-20-69h0m21-12h0m-3 94h0m3 61h0m12-16h0m-22-4h0m-10-29h0m34-38h0m-15 52h0m0-24h0m-5-15h0m8 40h0"/>
<path d="M324 1127h0m29-42h0m-9-11h0m3 33h0m-19-101h0m-5 33h0m15 147h0m2-155h0m-4 103h0m3-52h0m-15 76h0m1-100h0m17-28h0m7 137h0m-12 52h0m18-204h0m-4 45h0m-12 20h0m-18-30h0m28-39h0m-6 22h0m-1 114h0m8-71h0m-7 145h0m-1-103h0m-3-26h0m18 14h0m-21 105h0m3-202h0m-18 91h0m1-24h0m13-61h0m7 139h0m-10-99h0m19 121h0m4-35h0m-10-84h0m11-13h0m-22 47h0m-8 92h0m17-191h0m-23 68h0m33 39h0m-24 86h0m-3-15h0m11-165h0m14 175h0m5-126h0m-10 28h0m0-9h0m11 92h0m-13-122h0m-2 172h0m-5-113h0"/>
<path d="M336 1191h0m11-109h0m-19 28h0m21 56h0m-7-89h0m-11 43h0m5-7h0m19-21h0m-6-10h0m-9 113h0m-2-39h0m0-131h0m-6 48h0m5-57h0m14 196h0m-10-191h0m-8 84h0m5-6h0m0-87h0m2 157h0m-10-53h0m-9-62h0m6 49h0m-6-139h0m14 33h0m5 150h0m-12 44h0m18-44h0m1-157h0m-11 188h0m-7-104h0m-4-1h0m-1 35h0m24-22h0m-28-4h0m26 29h0m-1 79h0m4-99h0m-1-8h0m-7 60h0m-20-131h0m30 108h0m-8-48h0m1 68h0m5-36h0m-11-85h0m19 125h0m-36-97h0m-1 152h0m11-95h0m-7-124h0m-1 204h0m24 26h0m1-110h0"/>
<path d="M338 1213h0m16-180h0m-5 140h0m-16-75h0m7 6h0m-1-28h0m-4 20h0m22 2h0m-23 37h0m10-42h0m-11-56h0m-7 162h0m20-185h0m-7 171h0m-11-125h0m1 70h0m1-58h0m9 53h0m-14-34h0m22 52h0m8-80h0m-33 21h0m12-105h0m-8 116h0m9 44h0m-8 65h0m28-125h0m-21 78h0m2-54h0m8-62h0m-2 21h0m13 45h0m-4-110h0m4 162h0m-25 9h0m21-36h0m-20-39h0m10 8h0m3-50h0m4-29h0m0 125h0m-16-128h0m-9 139h0m14-135h0m-13 88h0m19 15h0m-7-63h0m9 72h0m3-44h0m6-1h0m-29-85h0m12 142h0m-9-99h0m5-37h0"/>
<path d="M337 1102h0m15-45h0m-8 20h0m5 99h0m5-78h0m-27-15h0m-2 54h0m29 84h0m-23-49h0m8-8h0m-18-186h0m33 75h0m-8-1h0m8 11h0m-22 17h0m19-74h0m-23 137h0m12-49h0m-18-16h0m20-42h0m11 88h0m0-13h0m2-119h0m-5 103h0m-4 94h0m-15-93h0m6-54h0m-5 59h0m20 7h0m-10 11h0m-3 46h0m-14-162h0m9 90h0m-3-79h0m14 107h0m6 33h0m2-24h0m-19-10h0m13-132h0m-5 108h0m-11 115h0m-5-52h0m2-78h0m26 75h0m-19-88h0m-6 82h0m-3-104h0m20 93h0m-18 20h0m10-102h0m9 85h0m8-38h0m-17-88h0m-9 141h0"/>
</g>
<use href="#v5" fill="none" stroke="#111" stroke-width="1.1" stroke-linejoin="round"/>
<rect x="323.4" y="1108.1" width="31" height="3.4" fill="#fff"/>
<use href="#v6" fill="#5AAF3A"/>
<g stroke="#000" stroke-opacity="0.170" stroke-width="4.8" stroke-linecap="round" fill="none">
<path d="M396 1022h0m-15 159h0m16-111h0m-27 31h0m-2-34h0m35 5h0m-33 5h0m33 34h0m-31-17h0m-1-37h0m8 122h0m12-10h0m-2-62h0m-3-35h0m17-79h0m1 156h0m-19-38h0m16-22h0m3 24h0m-11 12h0m1-37h0m-24-101h0m33 165h0m-22-58h0m-7-66h0m15 16h0m-16 35h0m-2-20h0m11 57h0m-13 38h0m33-118h0m-32 111h0m31-83h0m-7-78h0m8 155h0m-12 68h0m-19-84h0m2 107h0m29-61h0m-7 2h0m-11-40h0m-2-112h0m20 49h0m-14 131h0m4-113h0m-4-70h0m13 147h0m2-144h0m-26 91h0m15-55h0m7 141h0m-11-131h0m-18 21h0m30 87h0"/>
<path d="M394 1073h0m-7-26h0m-8 73h0m15-31h0m5 152h0m-15 15h0m-14-170h0m-2-19h0m15 104h0m18-63h0m-28-124h0m1 224h0m26-39h0m-21-23h0m2 46h0m24-75h0m-17-121h0m-5 39h0m4 198h0m-4-261h0m-5 273h0m11-119h0m-6 28h0m8-150h0m9 49h0m-6 81h0m-6-9h0m6-133h0m1 247h0m-10-242h0m20-7h0m-1 176h0m-15-75h0m6-60h0m1-71h0m-14 192h0m2 86h0m-11-146h0m8-28h0m13 76h0m-13-54h0m15-12h0m6 102h0m-30-140h0m16 23h0m-12-17h0m23 116h0m-4-23h0m4-23h0m3 40h0m-10-114h0m-10 105h0m-9-173h0"/>
<path d="M374 1129h0m0 108h0m18-84h0m-11-101h0m1-72h0m-3 140h0m21-137h0m-10 103h0m-9 37h0m-12-141h0m22 65h0m-2 79h0m7-26h0m-11-20h0m-14 44h0m24-58h0m9 9h0m-4 47h0m-18-111h0m-7 139h0m10-97h0m-1 26h0m-5 65h0m-11 10h0m24 71h0m-14-175h0m-8 210h0m15-29h0m-15-10h0m17-252h0m0 214h0m-3-3h0m19-88h0m-18 45h0m18-21h0m0 124h0m-20-218h0m-11-68h0m9 61h0m1 53h0m-8 56h0m7-10h0m-2-76h0m10 80h0m2 32h0m-13-1h0m20-158h0m6 26h0m-12 54h0m9 90h0m-5-52h0m-17 44h0m12-19h0"/>
<path d="M401 1113h0m-27 41h0m29-5h0m-20-113h0m-12 114h0m29 12h0m-13-139h0m2 129h0m14 95h0m-15-267h0m-6 192h0m-9-36h0m15-144h0m1 38h0m4 167h0m-15-98h0m13-35h0m-2 12h0m-7 72h0m0 41h0m9-85h0m10-100h0m-5 10h0m-20 27h0m-3 187h0m-3-132h0m-1 29h0m23 13h0m-15 25h0m16-51h0m-25-13h0m20-79h0m-15 57h0m7 16h0m-9 29h0m6 34h0m25-104h0m-13 127h0m-5-123h0m0 199h0m9-129h0m-23-13h0m3 35h0m30-56h0m-24 20h0m20 55h0m-3-21h0m-28-143h0m3 110h0m-2-135h0m30 50h0m0-13h0m-8 11h0"/>
<path d="M376 1177h0m12-148h0m11 216h0m5-148h0m-19-93h0m10 34h0m-17 167h0m25-17h0m-22-154h0m0-47h0m8 157h0m4-142h0m7 109h0m4 69h0m-23-123h0m-9 92h0m9-1h0m13 111h0m-22-166h0m29-92h0m0 167h0m-12-28h0m-7-40h0m11 27h0m-8-2h0m4-75h0m-15 92h0m14-131h0m-9 75h0m-3-48h0m-6 32h0m20-61h0m-3 36h0m-12 119h0m-6 9h0m18-153h0m-1 111h0m2 53h0m-6 49h0m17-211h0m-27 170h0m11-88h0m10 120h0m-13-256h0m-6 326h0m23-183h0m-21 55h0m15-123h0m-7 27h0m17-115h0m-24 211h0m-5-28h0m33-29h0"/>
<path d="M374 1025h0m16 46h0m-19 75h0m27-93h0m1 87h0m-15 106h0m7-272h0m-16 169h0m13-44h0m5 97h0m-12-144h0m-1-2h0m23 174h0m-24-22h0m5-130h0m-2 110h0m12-185h0m-23-40h0m13 173h0m12-7h0m0 25h0m-10-2h0m13 74h0m-27-193h0m0 115h0m10 19h0m-12-111h0m27-15h0m2 3h0m1-27h0m-28 196h0m28-126h0m-5-85h0m-25 93h0m10-107h0m-6 148h0m27-44h0m-11 3h0m-20 19h0m5 15h0m11 40h0m5 23h0m-12-8h0m-8 32h0m-2-35h0m22-66h0m-18 18h0m6-2h0m-11 55h0m28-111h0m-9 38h0m11 92h0m3 31h0"/>
<path d="M386 1178h0m15-37h0m-18-28h0m8 11h0m-9 20h0m13-50h0m-26-59h0m26 68h0m-4 45h0m3 32h0m-22-117h0m-3 77h0m15 36h0m-3-25h0m9-144h0m4-44h0m-8 170h0m-16-12h0m12-131h0m-7 44h0m16 37h0m-13-94h0m1 181h0m14-190h0m-4 53h0m-5 39h0m-1 17h0m9-10h0m9 8h0m2 142h0m-24-62h0m2-86h0m6 11h0m-16 117h0m21-145h0m-18 99h0m12 13h0m-15-91h0m14 50h0m-16 35h0m15-19h0m-4-35h0m-2-20h0m5-19h0m14-21h0m-14 132h0m-16-10h0m5-88h0m9 6h0m5 43h0m10-150h0m6 240h0m-24-42h0"/>
<path d="M387 1151h0m13-29h0m-10-101h0m-8 10h0m6 4h0m-15 23h0m-6 167h0m20-104h0m9-93h0m-4 9h0m11 66h0m-8 64h0m-7-125h0m3 84h0m7-11h0m5-148h0m-5 118h0m-17-1h0m9 67h0m-16 65h0m-7 37h0m5-85h0m-4-187h0m24 103h0m9 140h0m-1-47h0m-18 13h0m7-4h0m1 27h0m-7-209h0m7 192h0m-4-118h0m7-94h0m-6-8h0m17 17h0m-31 81h0m2 23h0m-3 101h0m-4-22h0m30 22h0m-8-53h0m13 34h0m-25-157h0m21-13h0m-20 81h0m23 90h0m0-56h0m-1 10h0m-2-6h0m-10 27h0m-11 71h0m20-71h0m-20-26h0"/>
<path d="M378 1015h0m16 129h0m8-60h0m-4-97h0m-31 238h0m24-199h0m-7 87h0m7 45h0m-12-40h0m-6 37h0m28 15h0m-14-153h0m4 120h0m2-34h0m-2 2h0m11 127h0m-23-124h0m15-77h0m-17-6h0m0 89h0m22-27h0m-27 41h0m30-147h0m-26 103h0m5 118h0m-11 15h0m18-108h0m9 34h0m5-26h0m-6 50h0m-28 134h0m2-263h0m21 50h0m-12 121h0m11-196h0m-18 218h0m6-60h0m4-79h0m11-2h0m-12 61h0m8-15h0m2-43h0m-19 40h0m25-64h0m-17-64h0m0 26h0m9 115h0m-8-31h0m-6-63h0m5 90h0m5-60h0m-6 102h0m-6-58h0"/>
<path d="M378 987h0m3 113h0m-4-5h0m11 122h0m-2-188h0m-9 201h0m5-125h0m-12-35h0m5 42h0m-4 14h0m11-24h0m9-30h0m9 90h0m-19-63h0m22-36h0m-14-8h0m-8-21h0m2 12h0m-2 63h0m-2 32h0m-6-77h0m1 137h0m15-175h0m-8 155h0m1-65h0m5 63h0m5 105h0m-18-211h0m18-19h0m-23 74h0m27-78h0m-25 15h0m29 63h0m-20-63h0m-9 6h0m1 21h0m27-13h0m4 105h0m-15-82h0m-15 77h0m9-26h0m-13-102h0m19 120h0m-4 83h0m9-219h0m8 103h0m-9 27h0m-1 11h0m-13-49h0m18-82h0m-4 154h0m7-185h0m-17 28h0"/>
<path d="M379 1164h0m-7-85h0m31-16h0m-16 60h0m8 118h0m0-175h0m-28-69h0m27 104h0m7 29h0m-9-92h0m8 36h0m-1 51h0m-9 124h0m-5-268h0m4 84h0m-14 19h0m21 26h0m-10 113h0m10-36h0m-24-72h0m27 17h0m-11-109h0m2 55h0m8 14h0m-30-110h0m2 224h0m5-24h0m6-167h0m-10 51h0m-2-10h0m28-53h0m-7 113h0m3 32h0m-11-158h0m-2 114h0m9 40h0m-2 95h0m-6-187h0m2 35h0m-7 73h0m0 28h0m-1-162h0m9 125h0m19-1h0m-6 59h0m-5-97h0m-11-103h0m8 167h0m14-120h0m-9 222h0m-11-273h0m4-42h0m-9 13h0"/>
<path d="M395 1006h0m-18 161h0m9-30h0m2-60h0m-16-38h0m-1 137h0m-3-120h0m9 50h0m14 118h0m3-117h0m-7-136h0m-17 175h0m21-16h0m-16 5h0m18-102h0m6 146h0m-1 38h0m-22-136h0m21 57h0m6-48h0m-17 49h0m15-80h0m2 132h0m-8-38h0m-25 26h0m20-107h0m7 85h0m-19-71h0m23-25h0m-10 53h0m-6 1h0m-15-55h0m27 8h0m-15 45h0m20 36h0m0-88h0m-18 78h0m14-19h0m-23 98h0m11-23h0m-7-67h0m-6 4h0m12 42h0m-1-57h0m-5 21h0m-8-119h0m7 53h0m15-45h0m3 38h0m-16 9h0m2 121h0m6-21h0m-1 24h0"/>
<path d="M373 1188h0m26 27h0m-16-41h0m5-94h0m-12 1h0m13 167h0m-15-47h0m14-55h0m-16-3h0m17 57h0m-16-95h0m24 10h0m8 15h0m-10 7h0m-14 51h0m-3-13h0m1-70h0m25 58h0m-36-122h0m14 109h0m18-22h0m-5-2h0m2 0h0m-23 7h0m11-86h0m20 109h0m-29-149h0m3 169h0m25-144h0m-23 28h0m19-24h0m-15 90h0m-11-71h0m6 16h0m0-69h0m13 70h0m-25-79h0m17 192h0m-9 31h0m10-80h0m-13-41h0m4-3h0m11-130h0m3 98h0m10-22h0m-15 231h0m-5-66h0m-4 77h0m-1-35h0m-2-133h0m-2-45h0m8 89h0m-13-166h0"/>
<path d="M375 1081h0m19-35h0m-4 13h0m-4 33h0m-3-88h0m-5 72h0m4 16h0m16-61h0m-31 194h0m15-142h0m-2-66h0m-3 58h0m-7-81h0m0 88h0m20 84h0m11-127h0m-31 3h0m20 49h0m12 15h0m-35-138h0m19 116h0m-13 10h0m28 110h0m-13-62h0m-16 12h0m18 79h0m-15-50h0m4-73h0m21 50h0m-8-90h0m9 49h0m-5-34h0m-14-82h0m4 47h0m-3 63h0m-14 70h0m19-20h0m7-165h0m5 123h0m-17-73h0m11 105h0m-5 102h0m3-137h0m-24 45h0m32-77h0m-21 29h0m-9 128h0m15-129h0m-4 4h0m13-54h0m-7 161h0m-10-130h0m-9 208h0"/>
</g>
<use href="#v6" fill="none" stroke="#111" stroke-width="1.1" stroke-linejoin="round"/>
<rect x="370.4" y="1108.6" width="31" height="3.4" fill="#fff"/>
<use href="#v7" fill="#3BA845"/>
<g stroke="#000" stroke-opacity="0.170" stroke-width="4.8" stroke-linecap="round" fill="none">
<path d="M428 1133h0m5 31h0m11 6h0m-11 16h0m-2-161h0m-6 80h0m17 133h0m1-76h0m2-86h0m-5-62h0m-13 79h0m17-45h0m-4 83h0m3 15h0m-4 41h0m-25 25h0m13-63h0m13-33h0m-20-14h0m31 3h0m-4-99h0m-21 28h0m9 161h0m7-73h0m-16 33h0m23-32h0m-7-29h0m-19-48h0m24 134h0m-32-200h0m11 143h0m13-34h0m5-60h0m-22 199h0m-1-60h0m25-57h0m-17 75h0m1 37h0m7-45h0m-19-44h0m22 50h0m-9-36h0m1-95h0m20 84h0m-4-11h0m-6 55h0m-24-31h0m24-64h0m3-20h0m-2-28h0m-13 137h0m-16-123h0m26 48h0m-17-90h0m22 81h0m-1-50h0m-15-45h0m9 97h0m1 32h0m1 75h0m10-163h0m-18 119h0"/>
<path d="M425 1171h0m27-1h0m-24-15h0m10 18h0m-7 21h0m-17-62h0m31-52h0m1-105h0m-18 153h0m7-8h0m-1-50h0m-13-18h0m27-37h0m-12 151h0m-13-39h0m-2-39h0m-6-35h0m2 150h0m21-39h0m9-60h0m-22-130h0m16 143h0m-12-105h0m-8 188h0m5-54h0m-8 19h0m2 34h0m32-81h0m-18 91h0m-8-120h0m-5 93h0m10-1h0m-15-112h0m8 81h0m11-46h0m12-11h0m-1 44h0m3 66h0m-29-7h0m28-204h0m-8 134h0m-16 32h0m6-133h0m1 141h0m8-51h0m-5-48h0m14-25h0m2 80h0m-9 14h0m-2-125h0m-20 44h0m26-76h0m-6 42h0m-14 144h0m18-82h0m-13-52h0m-8 126h0m-2-188h0m13 210h0m-17-19h0m15-22h0"/>
<path d="M451 1131h0m0-101h0m-21 110h0m-1-53h0m7-14h0m-11 111h0m-2-109h0m28-48h0m-15 83h0m-18 8h0m26-118h0m-14 116h0m-10-129h0m12 50h0m7 85h0m2-1h0m-12-44h0m-15-30h0m25-35h0m-7-31h0m-15 134h0m2 32h0m33 0h0m-23-71h0m7 60h0m-5-102h0m-4 1h0m3 71h0m-8-59h0m-7 137h0m14-64h0m3 72h0m-16-113h0m11 3h0m-10 11h0m27 11h0m7 21h0m-28-53h0m26 163h0m-6-140h0m-21 11h0m21 46h0m8-141h0m-23 148h0m16-36h0m-21-33h0m13 75h0m15-76h0m-34 77h0m10-43h0m12-123h0m11 27h0m-26 18h0m-9 125h0m14-61h0m18 103h0m-11-209h0m-18 185h0m15-44h0m-12-31h0m-3 92h0"/>
</g>
<use href="#v7" fill="none" stroke="#111" stroke-width="1.1" stroke-linejoin="round"/>
<rect x="417.5" y="1119.1" width="31" height="3.4" fill="#fff"/>
<use href="#v8" fill="#3DAA6E"/>
<g stroke="#000" stroke-opacity="0.170" stroke-width="4.8" stroke-linecap="round" fill="none">
<path d="M494 1100h0m-23 88h0m10-62h0m13 9h0m-7 80h0m-11-137h0m8 147h0m-7-145h0m6-63h0m-10 80h0m5 104h0m18-51h0m0-78h0m-21-109h0m-2 91h0m24 145h0m1-78h0m-11-6h0m-8 77h0m16-100h0m-2-19h0m-11-122h0m-15 238h0m30-38h0m-28-192h0m15 181h0m2-141h0m11 175h0m-5-20h0m-9-84h0m-13-68h0m24 152h0m-7-21h0m-3-99h0m-17-38h0m31 163h0m-11-115h0m-24 62h0m8 105h0m-4-49h0m-3 5h0m6 23h0m8-177h0m9 99h0m-13 44h0m8 49h0m0-120h0m-2-5h0m16 105h0m-28-80h0m12 81h0m4-79h0"/>
<path d="M498 1194h0m-6-171h0m2 11h0m-11 102h0m9 9h0m7 31h0m-29-12h0m-1-68h0m29-3h0m-36 90h0m2-106h0m5 148h0m23-118h0m4 85h0m-1-194h0m-16-21h0m2 40h0m-11 86h0m15 34h0m-5 61h0m-6-121h0m20 26h0m-8 38h0m-23-112h0m9 1h0m22-16h0m-30 31h0m15-19h0m-12 41h0m-2 97h0m12-11h0m-4-82h0m-5 130h0m17-53h0m1-79h0m6 4h0m-21 34h0m-2-61h0m1 92h0m20-18h0m-29-65h0m10-64h0m4 72h0m8-38h0m-6 69h0m19-43h0m-17 168h0m2-160h0m-6 170h0m13-118h0m9 31h0m-23 58h0"/>
<path d="M475 1216h0m1-118h0m-3 99h0m-9-31h0m21-64h0m-18-76h0m30 132h0m-24-146h0m-6 15h0m9 98h0m22 24h0m-25-26h0m6-66h0m-2-66h0m-14 174h0m10 60h0m17-181h0m8 75h0m-29 31h0m9 52h0m3-135h0m5-49h0m-20 119h0m15 11h0m16-21h0m-33-59h0m21 48h0m-17-107h0m10 0h0m-12 112h0m3 16h0m-1-86h0m19-7h0m-9 96h0m-1-67h0m-9-41h0m29 163h0m-34-139h0m6 68h0m5 94h0m10-178h0m-18 129h0m30-68h0m-14-12h0m-9 38h0m22-151h0m-19 42h0m11 82h0m0 56h0m-18-6h0m26-98h0m-33-61h0"/>
<path d="M497 1061h0m-1-88h0m-11 175h0m-11-128h0m7 92h0m-3 106h0m10-125h0m-3 20h0m3 2h0m-8-14h0m6 48h0m-7-75h0m16 23h0m-18 101h0m10 6h0m-2-5h0m6-51h0m-17-7h0m21-35h0m-27 110h0m15-41h0m13-198h0m-7 145h0m-26-27h0m7 38h0m26 26h0m-16 53h0m7-104h0m-14-142h0m-5 79h0m8 159h0m16 4h0m-11-110h0m-13-19h0m10 10h0m2-112h0m-12 109h0m-2 13h0m24 46h0m3-157h0m5 59h0m-35 23h0m36 44h0m-22-47h0m-4-11h0m25-7h0m-30-29h0m28-27h0m-12 58h0m-11-7h0m16 88h0m-22 16h0"/>
<path d="M498 988h0m0 166h0m-3-135h0m0-61h0m-14 59h0m-12 99h0m17-15h0m-16-31h0m14 8h0m-1 26h0m-15 98h0m-3-49h0m28-19h0m-8-47h0m1 89h0m-7 39h0m7-163h0m-18-87h0m12 143h0m1 8h0m-13-216h0m29 140h0m-23 104h0m13 14h0m-25 22h0m1-195h0m21 107h0m15 78h0m-2-155h0m-27-4h0m11 73h0m4 38h0m-8-42h0m-11 45h0m-2 21h0m3 49h0m12-96h0m-12 14h0m23-75h0m-26 154h0m23-138h0m-24 42h0m0 100h0m29-212h0m-23 103h0m25-15h0m-19 88h0m19 52h0m-11-85h0m-15 92h0m2-13h0m-7-72h0"/>
<path d="M471 1029h0m25 9h0m-33 102h0m12 40h0m11-87h0m4 21h0m-26 71h0m8-174h0m19 152h0m-17 20h0m-11-162h0m34 185h0m-10-130h0m-10-29h0m18 84h0m-30-88h0m19 92h0m-20-21h0m31 2h0m-11-20h0m-2 59h0m14-67h0m-10-1h0m5-80h0m-29 9h0m3 181h0m30-5h0m-11-108h0m-5 46h0m8-113h0m-11 71h0m15-135h0m1 207h0m-24 28h0m19-132h0m10 89h0m-23-34h0m-7-3h0m7-45h0m21 3h0m-8 91h0m9-149h0m-3 59h0m-29 45h0m1 97h0m20-110h0m-2-48h0m0 8h0m8 106h0m4-169h0m-21 197h0m7-138h0"/>
</g>
<use href="#v8" fill="none" stroke="#111" stroke-width="1.1" stroke-linejoin="round"/>
<rect x="464.6" y="1118.0" width="31" height="3.4" fill="#fff"/>
<use href="#v9" fill="#33AE8E"/>
<g stroke="#000" stroke-opacity="0.170" stroke-width="4.8" stroke-linecap="round" fill="none">
<path d="M543 1078h0m-11 57h0m-20-84h0m2-24h0m28 110h0m0-67h0m-21 85h0m24-116h0m-5 107h0m1 4h0m-28-19h0m23-156h0m10 116h0m-14-32h0m-23-70h0m16 165h0m-10-5h0m5 27h0m3-50h0m5-46h0m2 110h0m-15-52h0m26-46h0m-1-26h0m-12 64h0m6 63h0m5-61h0m-3-65h0m-17-7h0m4 39h0m11 114h0m11-14h0m-1-194h0m-5 14h0m-20 148h0m22 7h0m-4-40h0m-21-130h0m5 41h0m25 1h0m-3 30h0m-31 40h0m9-84h0m-2 0h0m6 177h0m9-231h0m-17 210h0m13 25h0m-1-101h0m-17 78h0m7-111h0m10-54h0"/>
<path d="M533 1037h0m4 130h0m0-26h0m-5-103h0m2-10h0m4 131h0m8-52h0m-15-13h0m4-58h0m7 53h0m-26-47h0m16 49h0m4 109h0m-21-109h0m-2 82h0m8-41h0m4 30h0m-1-87h0m19 100h0m-19-25h0m-14 47h0m34-121h0m-18 51h0m11-19h0m-18 52h0m-4-136h0m28-4h0m-31-8h0m25 43h0m-4 162h0m-6-38h0m-9-89h0m6-77h0m8 89h0m-15 40h0m29 0h0m-36-167h0m14 9h0m8 88h0m12 63h0m-18-58h0m6 111h0m-21-129h0m35 93h0m-16 2h0m-8-24h0m3-119h0m6 181h0m-20 23h0m1-142h0m19 24h0m13-73h0"/>
<path d="M523 1160h0m9-133h0m6 142h0m-28-31h0m11 59h0m23-115h0m-24 115h0m6-102h0m-10 63h0m-6 55h0m10-128h0m6-11h0m19 91h0m-7-183h0m-29 159h0m35 46h0m-28-54h0m14 68h0m14-146h0m-9 40h0m-26 62h0m2 6h0m9-176h0m-6 108h0m8 13h0m6 22h0m4 16h0m6 29h0m0-37h0m-11 68h0m-4-133h0m21-13h0m-25 87h0m-1 11h0m15 14h0m13 31h0m-5-61h0m-6-72h0m5 77h0m-10-90h0m-8 98h0m16-58h0m-1 30h0m-4 39h0m-2-156h0m-3 148h0m-9 26h0m20-133h0m5 25h0m-16 6h0m-14 103h0"/>
<path d="M546 1008h0m-34 58h0m-1 39h0m35 21h0m-9-51h0m2 63h0m7-122h0m-28 100h0m-2-25h0m-1 57h0m7 49h0m21-13h0m-34-150h0m0-2h0m4 152h0m29-147h0m-33 153h0m12-231h0m10 253h0m-19-59h0m6-64h0m22-24h0m-20 96h0m-9-17h0m13 8h0m-10-31h0m27-45h0m-14-37h0m12 66h0m3 1h0m-28-37h0m-2 71h0m2-17h0m-4-71h0m22 91h0m2-11h0m-15-125h0m16 38h0m-15 139h0m-8-127h0m14-28h0m18 88h0m-22 35h0m7-103h0m9 15h0m0-42h0m-25-15h0m21 154h0m1-7h0m-21 33h0m10-80h0"/>
<path d="M532 1179h0m-11-47h0m1 64h0m14-114h0m-11 75h0m18 29h0m-26-86h0m24 67h0m-13-16h0m9 22h0m-21-178h0m11 44h0m11 153h0m-10-89h0m13 57h0m-1-38h0m-28 74h0m27-141h0m4 96h0m-27 49h0m29-39h0m-26-147h0m12 120h0m12-21h0m-29-17h0m16-32h0m-21-10h0m7 55h0m30-9h0m-11 15h0m3-122h0m-20 55h0m14-3h0m5 61h0m5 33h0m-22 2h0m-8 10h0m19 7h0m-22-49h0m0-71h0m23 173h0m6-102h0m-3-50h0m-10 139h0m21-69h0m-33-47h0m4 32h0m23 84h0m-10-193h0m7 197h0m2-38h0"/>
</g>
<use href="#v9" fill="none" stroke="#111" stroke-width="1.1" stroke-linejoin="round"/>
<rect x="511.7" y="1124.7" width="31" height="3.4" fill="#fff"/>
<use href="#v10" fill="#27AFAC"/>
<g stroke="#000" stroke-opacity="0.170" stroke-width="4.8" stroke-linecap="round" fill="none">
<path d="M573 1150h0m2-3h0m18 6h0m-15 46h0m-6-193h0m16 96h0m-4-71h0m-19 106h0m14-30h0m-21 27h0m17 32h0m14-49h0m-33-24h0m37 40h0m-24-82h0m-11 93h0m25 3h0m-20 40h0m-2-189h0m31 138h0m-29-75h0m15 63h0m-7 6h0m20-108h0m-25 111h0m1-84h0m13-28h0m-14 178h0m-2-51h0m-4-153h0m14 86h0m18 23h0m-28 20h0m-5-46h0m24 82h0m-21-3h0m22-136h0m-14 16h0m20 62h0m-1-22h0m-25 4h0m13 130h0m7-218h0m0 101h0m-16 100h0m25-32h0m-20-110h0m-17 110h0m8-48h0m3 12h0m10 36h0m6 21h0m-20-8h0m29-24h0m-25 102h0"/>
<path d="M592 1145h0m-28-132h0m0 164h0m25-20h0m-19-32h0m6-14h0m-20 113h0m25-109h0m-20 99h0m24-133h0m-19 10h0m-6 51h0m29-7h0m-8-62h0m1 107h0m-2-66h0m-2-62h0m-18 7h0m12 76h0m9 7h0m-16-1h0m19-114h0m8-37h0m-20 133h0m17 4h0m-30-106h0m7 199h0m-5-111h0m0 24h0m7-131h0m3 201h0m-13-11h0m8-96h0m12 114h0m13 17h0m1-93h0m-36 36h0m6-60h0m-5-1h0m22 65h0m-10 51h0m-8-108h0m0 37h0m28 22h0m-3-20h0m-18-26h0m-6-13h0m7-132h0m-12 110h0m34-43h0m-21 50h0m18 137h0m-2-101h0m6-7h0"/>
<path d="M570 1188h0m23 25h0m-1-88h0m-17 73h0m-10 28h0m-5-151h0m21-33h0m-17-38h0m16 102h0m-2-12h0m1 11h0m-18 32h0m17-8h0m9-69h0m-8 60h0m-22-58h0m7-17h0m23 93h0m-14-3h0m-12-7h0m9 62h0m9-66h0m-21-49h0m32 49h0m2-2h0m0-12h0m-17 103h0m-8-112h0m10 26h0m1 42h0m5-18h0m-9 43h0m0-168h0m1 85h0m7 2h0m3-30h0m-1-37h0m-1 31h0m-20 66h0m20 22h0m10 25h0m-14 21h0m-17-40h0m21-175h0m-24 59h0m0 125h0m26-11h0m3-81h0m-1-61h0m-21 156h0m20-119h0m-24-84h0m-6 161h0m9-4h0"/>
<path d="M586 1102h0m-1 109h0m-29-55h0m12 83h0m9-178h0m-9 170h0m12-146h0m-2 144h0m-3-47h0m-17 27h0m8-2h0m2-5h0m0-195h0m12 161h0m-19-8h0m29-36h0m-14-39h0m-8-82h0m3 194h0m3-45h0m-10 26h0m13-96h0m-5 65h0m-9 66h0m7-66h0m-10-10h0m27-82h0m-16 180h0m-7 11h0m28-114h0m-9 23h0m-17 69h0m24-117h0m-7 51h0m-18 13h0m-9-167h0m6-15h0m-4 73h0m31 91h0m-3-93h0m-30 139h0m36-37h0m-18-13h0m-9 50h0m20-63h0m4-47h0m-9 89h0m-24-41h0m36 28h0m0-75h0m-34 4h0m35-74h0m-6 57h0m-10 83h0"/>
<path d="M566 1054h0m-4 53h0m11 30h0m-13 9h0m0-35h0m26 65h0m-15-98h0m-10-15h0m4 55h0m24 73h0m-3-183h0m-27 94h0m33-54h0m-23 33h0m-5 90h0m6-25h0m17 35h0m2-176h0m3 33h0m-4-47h0m-29 61h0m2 66h0m24-56h0m-27 42h0m3-49h0m19 35h0m-13-19h0m18 96h0m-9 43h0m-7-27h0m13-8h0m11-11h0m-18 26h0m-4-88h0m9 75h0m5-118h0m-7 181h0m-1-131h0m-17 3h0m-1 19h0m1 72h0m30-33h0m-30-39h0m16-2h0m-11 85h0m-2-66h0m8-27h0m-11-102h0m18 173h0m-14-127h0m23 124h0m-29 61h0m31-178h0m-11 140h0"/>
<path d="M557 1160h0m35 3h0m-28-130h0m24 2h0m-27 176h0m7-112h0m20 24h0m-21-18h0m17 67h0m-27-85h0m4 118h0m-1-158h0m-3 50h0m21 39h0m-21-96h0m-1 131h0m3-17h0m1 17h0m-2-68h0m3-32h0m29 140h0m0-65h0m-31-118h0m4 59h0m3-21h0m6-55h0m-13 13h0m-3 87h0m22 16h0m-11 17h0m13 36h0m-22-157h0m14 137h0m-6 14h0m-6-127h0m27 145h0m-16-48h0m15-148h0m-15 109h0m19-90h0m-7 184h0m-25-9h0m15-65h0m4 38h0m-10 26h0m-10-98h0m10 125h0m-11-169h0m13 74h0m-1-42h0m23 95h0m-29-109h0m24 34h0m-7 67h0"/>
<path d="M582 1216h0m10-7h0m-24-216h0m10 108h0m-12-116h0m-3 56h0m21 152h0m-10-164h0m4 161h0m-17 63h0m5-83h0m21-40h0m-26-47h0m-5 87h0m23-15h0m-22-105h0m1 3h0m4 86h0m20-58h0m-16 102h0m12-150h0m-18 46h0m7 6h0m-2 1h0m14 34h0m-6-95h0m-4 192h0m0-16h0m7-114h0m-4 42h0m13-54h0m-9-3h0m17-12h0m-1-36h0m-20 121h0m1-131h0m-11 141h0m18 1h0m8-20h0m-30-141h0m25 176h0m4-72h0m-1-21h0m-18 167h0m-4-140h0m1-20h0m28-53h0m-16 7h0m-2 68h0m13-24h0m-2-15h0m-20 176h0m20-6h0m3-169h0"/>
<path d="M590 1152h0m-10-58h0m11 87h0m-21 8h0m19-25h0m-23 10h0m12-51h0m12-26h0m-18-70h0m-1 89h0m13 53h0m-15-142h0m19 43h0m-16 115h0m15-94h0m-11 142h0m-6-184h0m13 62h0m0 13h0m1-74h0m-13 23h0m6 62h0m-19 67h0m28-35h0m-23-100h0m-7 108h0m34-90h0m-16 52h0m9 55h0m0-26h0m6 34h0m-14-204h0m-15 70h0m8 139h0m23 11h0m-15-69h0m-9-64h0m-7 125h0m5-127h0m16 95h0m9 2h0m-11-9h0m12-158h0m-20 117h0m-9-137h0m15 234h0m11-131h0m-18 37h0m18-71h0m-23 96h0m-2-17h0m9 81h0m14-135h0m-12 129h0"/>
<path d="M571 1013h0m10-28h0m-1 133h0m4-59h0m7 57h0m-2 63h0m-29-97h0m16 16h0m-3-97h0m-1 150h0m-9 25h0m-6-61h0m0 31h0m28-25h0m-5 10h0m7 76h0m-29-35h0m30-11h0m-10-52h0m-10 38h0m-7-40h0m1 111h0m23-112h0m-9 48h0m-18-24h0m35-49h0m-5-7h0m1 17h0m-11 133h0m14-105h0m-9-68h0m-16 51h0m-6-49h0m4 144h0m20-122h0m2-71h0m-7 65h0m-23 94h0m5-94h0m21 72h0m-14-8h0m-8 28h0m29-25h0m-29-78h0m8 78h0m19-92h0m-19 28h0m23 29h0m-36 17h0m25-100h0m-18 41h0m22 62h0m7-8h0m-7-84h0"/>
<path d="M559 1043h0m13-37h0m17 231h0m-4-168h0m-13 93h0m-2 72h0m16-106h0m-12-51h0m-17 84h0m3 37h0m13-61h0m6-120h0m3 35h0m-15-12h0m10 59h0m-6 33h0m3-138h0m9 185h0m-1 95h0m-21-201h0m15 33h0m6 148h0m-11-145h0m-7 117h0m13-132h0m-6 4h0m17 13h0m1 23h0m-3-80h0m-21-7h0m-7 176h0m7-137h0m-4-18h0m1 26h0m-2 33h0m19-9h0m4 38h0m-8-8h0m-14-2h0m3 109h0m10-12h0m7-218h0m-14 25h0m-11 4h0m15 179h0m13-130h0m-23-19h0m-2 125h0m32-148h0m-29 78h0m3-69h0m21-14h0m-10 6h0m-8 22h0"/>
<path d="M580 1162h0m12-95h0m-27-11h0m28 95h0m-27-129h0m-9 204h0m7-198h0m15 129h0m13-5h0m-35-51h0m24 7h0m-22-60h0m11-25h0m-6 38h0m21-25h0m-4-39h0m-2 34h0m-15 27h0m23 79h0m-15-111h0m-9 165h0m21-35h0m-16-5h0m-9-114h0m25 86h0m-23 52h0m1-95h0m17 19h0m-4-36h0m-6 14h0m-9 103h0m22-14h0m1 24h0m-24-79h0m18-14h0m-17-62h0m-4 244h0m30-236h0m6 102h0m-31 39h0m12-55h0m9 55h0m7-28h0m-5-53h0m-21-35h0m27 29h0m-12 10h0m-5 101h0m-16-150h0m22 42h0m3-55h0m8 91h0m-20-10h0m16-89h0"/>
<path d="M573 1210h0m10-27h0m0-190h0m-8 175h0m-17 34h0m22-71h0m-3-138h0m-20 119h0m2-128h0m10 212h0m-8-104h0m24 110h0m-28-8h0m35-41h0m-16-89h0m3 42h0m12 31h0m-21-83h0m22-28h0m-10 29h0m-11 104h0m1-72h0m0 18h0m16-108h0m4 121h0m0-39h0m-12 50h0m-13 4h0m22-103h0m-3 121h0m-24 10h0m-5 26h0m11 58h0m-12-160h0m33-11h0m-31-7h0m14 82h0m-9-13h0m29-15h0m-15 32h0m-12-158h0m5 89h0m-7 44h0m5-57h0m-5 56h0m26-134h0m4 189h0m-3 4h0m-18-47h0m18 33h0m-24 30h0m22-74h0m-24-21h0m24-88h0"/>
</g>
<use href="#v10" fill="none" stroke="#111" stroke-width="1.1" stroke-linejoin="round"/>
<rect x="558.8" y="1121.4" width="31" height="3.4" fill="#fff"/>
<use href="#v11" fill="#22AFC2"/>
<g stroke="#000" stroke-opacity="0.170" stroke-width="4.8" stroke-linecap="round" fill="none">
<path d="M611 1168h0m29-108h0m-12 81h0m-16 20h0m19-59h0m-12-29h0m11 190h0m9-189h0m1 13h0m-9 9h0m-10-102h0m-11 76h0m23 136h0m-5-57h0m-14-13h0m14-11h0m-10 30h0m10-71h0m-25 138h0m0-122h0m30 55h0m-4 43h0m-2-136h0m-22 39h0m11 3h0m11 63h0m-24-18h0m8-16h0m-2-12h0m30 43h0m-1 37h0m-5-87h0m-16-39h0m8 137h0m3 37h0m10-17h0m-4-142h0m-26 48h0m-3-80h0m25 200h0m-21-64h0m9-135h0m18 156h0m-18-79h0m18 12h0m-2 67h0m-10-97h0m-4 10h0m-13-84h0m3 140h0m1-166h0m24 241h0"/>
<path d="M618 1030h0m8-33h0m5 127h0m-8 25h0m-2 33h0m-13-57h0m32 102h0m-30-193h0m6 48h0m5-37h0m4 0h0m-8 54h0m-12-20h0m35 64h0m-25 59h0m24-181h0m-34 187h0m5-7h0m19-18h0m-24-77h0m27-89h0m-6 7h0m-18 197h0m31-154h0m-34 35h0m14 52h0m14-149h0m-14 134h0m16-83h0m-31 193h0m10-175h0m25 41h0m-31-84h0m26 16h0m-13 150h0m-3 57h0m11-133h0m-12-59h0m16-18h0m-19 39h0m6-75h0m20 213h0m-37-127h0m8-12h0m13-87h0m-4 92h0m-16-64h0m31 93h0m-8 27h0m10 45h0m-30-224h0m5 23h0"/>
<path d="M605 1104h0m-2-59h0m11 117h0m26 19h0m-23-62h0m22 35h0m-26-150h0m21 105h0m-25 21h0m27 35h0m0-2h0m-30-138h0m6 164h0m21 57h0m6-124h0m-28 103h0m25-170h0m-28 77h0m4-96h0m0 57h0m-3-125h0m13 203h0m-19 21h0m11-176h0m17 206h0m-8-145h0m-6 42h0m21 14h0m-28-73h0m26-78h0m-26 136h0m15-42h0m1-64h0m-22 154h0m17-8h0m16-71h0m-30 102h0m17 12h0m-17-81h0m6-35h0m22 34h0m-4 67h0m2-92h0m-2 65h0m4-188h0m-24 73h0m-1-40h0m0-42h0m30 96h0m-36 81h0m5-85h0m1-60h0"/>
<path d="M623 1196h0m-5-28h0m9 0h0m-13-79h0m12 10h0m-16 69h0m-2 52h0m10-63h0m-15-65h0m14 90h0m-3-86h0m11-85h0m13 59h0m-30-99h0m8 248h0m-9-105h0m27 49h0m-30-97h0m31-4h0m-12 11h0m-18 0h0m15 88h0m-4 56h0m3-44h0m2 73h0m-16-176h0m27 201h0m-6-99h0m-3-107h0m-8 90h0m-4-7h0m28-103h0m-32 89h0m17-45h0m-12 126h0m0-221h0m9 44h0m12-10h0m-26 211h0m12-52h0m8-56h0m11-44h0m-3-22h0m-29-7h0m33 84h0m-19-99h0m3 76h0m-13 54h0m4-111h0m11 29h0m-1 66h0m-2 26h0"/>
<path d="M625 1158h0m-20-13h0m3-79h0m21 29h0m-4-55h0m-11 115h0m15-67h0m0 128h0m-21-29h0m12 19h0m-10-206h0m0 137h0m17 43h0m-15-52h0m23-14h0m-20 9h0m-2-91h0m11 13h0m-5 137h0m17 52h0m4-264h0m-15 128h0m-11 142h0m24-101h0m-30-63h0m5 41h0m13 55h0m-6 18h0m-9-33h0m28 72h0m-10-210h0m-20 94h0m1-32h0m-6 31h0m28-54h0m-8 20h0m-1-21h0m-19 43h0m7 77h0m0-121h0m8 60h0m0 6h0m-7 31h0m18 91h0m-18-75h0m16-87h0m-10 144h0m-2-67h0m6-34h0m-16-4h0m-1-17h0m27 112h0"/>
<path d="M610 1232h0m-6-33h0m15-154h0m0 119h0m-2-85h0m-7 45h0m-5-62h0m26 79h0m5-89h0m-29 109h0m31-2h0m-19 49h0m13-142h0m-22 95h0m11 60h0m8-181h0m0-48h0m8 142h0m-22-69h0m10-81h0m-3 195h0m13-36h0m-25 57h0m-6-107h0m36 22h0m-9 21h0m-16-202h0m-1 46h0m24 126h0m-29-39h0m1 82h0m10-102h0m10 180h0m-15-165h0m21 59h0m-28-84h0m25-3h0m-16 72h0m6-13h0m-6 47h0m-7 81h0m7-4h0m-5-60h0m8-34h0m-17 71h0m9-122h0m7 43h0m18-99h0m-24 140h0m11-6h0m9 76h0m0 26h0"/>
<path d="M631 1203h0m1-144h0m4-28h0m-31 141h0m25-109h0m-19 70h0m-8-127h0m4 19h0m-1 104h0m20 145h0m7-273h0m-4 64h0m-10 79h0m-10-46h0m5-13h0m-4-50h0m13 10h0m10 59h0m-7-49h0m10-80h0m-5 172h0m1-62h0m-29-34h0m9 180h0m22-159h0m1-8h0m-6 172h0m9-111h0m-1-37h0m-27 69h0m27-175h0m-16 30h0m-3 248h0m22-118h0m-33-23h0m16 140h0m8-231h0m8-53h0m-21 262h0m11-230h0m10 188h0m-20 2h0m-6-81h0m15 35h0m-14-56h0m-7-108h0m11 166h0m-15 49h0m6-100h0m5-53h0m21 110h0m2-137h0"/>
<path d="M618 1166h0m-7-88h0m26 72h0m-21 41h0m-1-79h0m14 108h0m0-220h0m-17 47h0m-8 64h0m8-34h0m21 5h0m-26 60h0m16-85h0m-2-37h0m16 54h0m-17 43h0m2 46h0m18-79h0m-14 126h0m-12-20h0m3-78h0m6-104h0m16 149h0m-36-30h0m5-34h0m27 141h0m-27-92h0m18-75h0m3 130h0m-1-190h0m4 140h0m1-46h0m-1-108h0m-26-33h0m15 171h0m-13-40h0m5 93h0m-3-192h0m19 89h0m-24-30h0m35-19h0m-8 124h0m-5-114h0m0 84h0m-15-75h0m-2 19h0m-5 14h0m31 79h0m1-44h0m-29-12h0m-4-32h0"/>
<path d="M603 1131h0m28-15h0m-26 117h0m-2-99h0m24-108h0m2 210h0m10-97h0m-6 29h0m-9-7h0m-4-7h0m2-99h0m13 105h0m-17-102h0m1 73h0m19 26h0m-19-96h0m20 47h0m-26-47h0m25 161h0m-29-83h0m28-44h0m-3 7h0m-25 53h0m19 14h0m-8-12h0m-7-47h0m-6 32h0m13-10h0m-8 5h0m22 37h0m-14-180h0m19 111h0m-29 86h0m-3-135h0m29 92h0m-21-4h0m15-154h0m-17 145h0m-6-49h0m12-1h0m-5 177h0m11-74h0m-9-186h0m-10-36h0m24 74h0m-15 74h0m16 99h0m9-72h0m-19 4h0m-5 4h0m20-11h0"/>
<path d="M640 1077h0m-36 107h0m32-159h0m-10 184h0m4-130h0m-24 25h0m17-92h0m-19 78h0m32-49h0m-6 31h0m-19 43h0m-2-145h0m6 105h0m-12-4h0m7 80h0m6-75h0m3 76h0m9-77h0m0 19h0m-9 34h0m0-105h0m-11 119h0m-5 2h0m1-57h0m11 22h0m6 94h0m-16-21h0m24-115h0m-21 0h0m-4 184h0m10-182h0m1 35h0m-6 6h0m29 8h0m-19 11h0m17 99h0m1-30h0m-11-128h0m11 53h0m-11 82h0m-8-17h0m5 18h0m-11-138h0m0 132h0m18 48h0m-14-234h0m-1 14h0m11 49h0m-1 119h0m13-116h0m-16 34h0"/>
</g>
<use href="#v11" fill="none" stroke="#111" stroke-width="1.1" stroke-linejoin="round"/>
<rect x="605.9" y="1124.1" width="31" height="3.4" fill="#fff"/>
<use href="#v12" fill="#15AEE6"/>
<g stroke="#000" stroke-opacity="0.170" stroke-width="4.8" stroke-linecap="round" fill="none">
<path d="M682 1063h0m-26 88h0m-3-35h0m26-105h0m5 120h0m-4 44h0m-4-24h0m-9-45h0m-2-10h0m-4 15h0m9 42h0m-18-116h0m0-4h0m12 103h0m8 58h0m-10-59h0m-7-86h0m32 30h0m-26 103h0m25-126h0m1 104h0m-13 15h0m-6-84h0m-12-21h0m12 162h0m17-18h0m1-77h0m-33 112h0m19-118h0m11 73h0m0-183h0m-9 102h0m-18-56h0m14-9h0m-20 146h0m36-65h0m-9 107h0m-13-207h0m20 19h0m-12 44h0m-8 75h0m5 72h0m14-122h0m2-44h0m-29 103h0m23-70h0m-14 42h0m17-81h0m-2-11h0m-16-29h0m-6 72h0m-7-29h0m23 148h0m-24-63h0m1-51h0"/>
<path d="M673 1143h0m0 114h0m-14-186h0m19-45h0m4 174h0m-15-65h0m15 48h0m-24-131h0m26 161h0m-9-111h0m-10 126h0m-3-85h0m-2 37h0m5-84h0m8 18h0m14 64h0m-16 25h0m6-92h0m-7 37h0m-14-3h0m15-42h0m2 37h0m-2 83h0m-8-187h0m15 107h0m-8-52h0m-9-9h0m3 31h0m11 38h0m0-51h0m-16-30h0m2 107h0m-11 3h0m6-79h0m12 81h0m-16-2h0m35 36h0m-29-123h0m17 20h0m-12-25h0m16 20h0m-6-48h0m11 178h0m3-112h0m-18 108h0m6-98h0m-13 59h0m22-106h0m2 21h0m-17 2h0m-8-66h0m10-10h0m12 54h0m-27-47h0m14 75h0"/>
<path d="M680 1173h0m-4 73h0m-15-15h0m-1-42h0m0-86h0m12 126h0m0-97h0m-17 88h0m17-101h0m-12 63h0m12-144h0m-1 108h0m-13-82h0m16 124h0m10-123h0m2 6h0m-11 26h0m1 53h0m-24 70h0m22-116h0m-1 40h0m-9-20h0m12 26h0m8-64h0m-25-6h0m24 44h0m-8 54h0m2-3h0m7-50h0m-16 29h0m-5-32h0m22-68h0m-10 156h0m-22-181h0m7 115h0m27 5h0m-8 37h0m-8-46h0m-20-52h0m1 15h0m18 61h0m14-83h0m-33 92h0m26-77h0m-1 2h0m-24 15h0m26 10h0m-28 129h0m0-82h0m17-142h0m17 93h0m-17 15h0m-15-86h0m24 166h0m4 45h0"/>
<path d="M679 1148h0m-22-113h0m6-19h0m4 168h0m11-4h0m-14-4h0m21 26h0m-14 25h0m-10-100h0m-1 25h0m2 13h0m-7 14h0m31-122h0m-9 69h0m-14-32h0m22 130h0m-25-55h0m-8-98h0m26-16h0m-10 188h0m18-18h0m-5-158h0m5 14h0m-16 37h0m4 27h0m-9-53h0m20 103h0m0-156h0m-26 7h0m-5 94h0m12 118h0m-11-158h0m29-38h0m-23 78h0m11 23h0m13-9h0m-20-124h0m8 29h0m7 115h0m-17 3h0m12-9h0m-4-76h0m-21-13h0m23 68h0m8-46h0m-11 8h0m-20 20h0m11 58h0m0 1h0m19-62h0m-21 15h0m7 54h0m13-4h0m2-175h0m-18 232h0"/>
<path d="M668 1031h0m-12 206h0m-4-226h0m18 170h0m-19-19h0m15-5h0m14-100h0m-23 57h0m-7 84h0m13 7h0m16-43h0m4-103h0m-2 137h0m-10 22h0m6-145h0m6 104h0m-22-106h0m-6 7h0m5 56h0m23-42h0m-13 136h0m2-175h0m-12-8h0m-9 17h0m5 98h0m-6-23h0m17-55h0m15 49h0m-2 88h0m-4-69h0m-11-17h0m-3-107h0m20 142h0m-19-81h0m1 84h0m15 5h0m-4-90h0m-10-19h0m8 12h0m-2 90h0m-2-29h0m-15-25h0m30-16h0m-8 81h0m-11-85h0m1 51h0m10-50h0m7 30h0m-11 3h0m-8-27h0m6 124h0m-15-200h0m3 78h0m0 82h0"/>
</g>
<use href="#v12" fill="none" stroke="#111" stroke-width="1.1" stroke-linejoin="round"/>
<rect x="653.0" y="1130.8" width="31" height="3.4" fill="#fff"/>
<use href="#v13" fill="#3A9CD8"/>
<g stroke="#000" stroke-opacity="0.170" stroke-width="4.8" stroke-linecap="round" fill="none">
<path d="M729 1161h0m-3-20h0m7-10h0m-6 84h0m-12-202h0m-13 67h0m-1-59h0m13 242h0m5-97h0m12-134h0m3 63h0m-1 111h0m-33-82h0m18 150h0m-7-116h0m9-47h0m4-41h0m-9 69h0m1-136h0m17 110h0m-8-25h0m-20-6h0m-5 145h0m19-141h0m-13 34h0m23-142h0m-26 223h0m11-69h0m-4-104h0m3 19h0m9-14h0m-2 174h0m5 7h0m2-148h0m-16-26h0m-2 142h0m2 13h0m3-6h0m-9-51h0m14 65h0m-11-73h0m15-66h0m-8-95h0m-14 142h0m0 83h0m22-85h0m-3 121h0m9-104h0m-28-59h0m-2 113h0m13-149h0"/>
<path d="M723 1124h0m0-63h0m1 122h0m-22-7h0m-3-119h0m22-1h0m-4 168h0m16-89h0m-20 32h0m16-50h0m5-9h0m-2 55h0m-32-102h0m20 11h0m7-73h0m-5 65h0m-4 45h0m-18 166h0m27-183h0m-3-18h0m5 113h0m-9-89h0m-22 103h0m1 22h0m4-135h0m11 27h0m-13 32h0m31 27h0m-15-83h0m5 69h0m-17 14h0m-5-35h0m10-70h0m22 48h0m-6-163h0m-2 214h0m-10 5h0m-11-41h0m6-76h0m-9 176h0m31-70h0m-10-130h0m5 228h0m-21-117h0m13 97h0m-17-50h0m25 21h0m0-180h0m-26 60h0m4-55h0m23 75h0"/>
<path d="M722 1105h0m7 72h0m-13-149h0m15 144h0m-9-86h0m-5 109h0m4-88h0m4-38h0m-18 71h0m6-17h0m-16 143h0m2-125h0m31-77h0m-30-45h0m15-25h0m12 73h0m-5-3h0m3-23h0m-4 120h0m-15 5h0m14-79h0m-9 63h0m-12-162h0m17 137h0m-8 30h0m-5-172h0m11 228h0m-2-21h0m1-26h0m-1-98h0m-5-32h0m12 203h0m-2-81h0m-20-135h0m25 97h0m-22-93h0m3 42h0m8-42h0m1 9h0m3 59h0m0 91h0m-12-115h0m24 60h0m-22-47h0m24 85h0m-7-28h0m-18-43h0m11-18h0m-5 91h0m23-39h0m-23 35h0"/>
<path d="M726 1176h0m-7 47h0m14-81h0m-20-79h0m-2 6h0m12 75h0m4-106h0m-3 104h0m-14 92h0m-8-57h0m12 127h0m0-159h0m16 27h0m-11 78h0m-16-4h0m13-27h0m15-52h0m-3-46h0m-23 55h0m9-62h0m-9 20h0m19 64h0m-11-69h0m5 125h0m0-36h0m-16-54h0m30-2h0m0-84h0m-35-40h0m4 101h0m23 30h0m-27 72h0m9 7h0m-2-54h0m26 41h0m0-188h0m-25 184h0m9-58h0m-8-26h0m26 105h0m-34-175h0m26-56h0m10 241h0m-34-209h0m10 65h0m11 20h0m8-10h0m-25 75h0m3-20h0m-4-91h0m0 88h0"/>
<path d="M708 1037h0m5 90h0m-7-58h0m2 139h0m10-196h0m-3 77h0m-7 57h0m25-78h0m-19 9h0m10 196h0m4-304h0m-24 164h0m-5-114h0m10-28h0m-8 296h0m-4-140h0m18 80h0m-9 11h0m2-126h0m-10-28h0m18 6h0m8 104h0m-10-66h0m1-109h0m-6 33h0m10 88h0m-2-38h0m-6 49h0m14-111h0m-23 28h0m27-28h0m-15 111h0m1 109h0m-6-86h0m-5 40h0m-5-161h0m6 88h0m1-85h0m24 56h0m-29 35h0m12 73h0m-5-155h0m-5 115h0m20-105h0m0 63h0m-25 56h0m21 57h0m-7-134h0m8 152h0m-19-41h0m32-109h0"/>
<path d="M714 1144h0m10-113h0m-9 196h0m18-86h0m-22-108h0m19 47h0m-33-30h0m5-8h0m10 118h0m3-124h0m1 26h0m-15 142h0m29-87h0m-11 119h0m-5-98h0m-11-27h0m-1 155h0m23-233h0m-19 111h0m6-42h0m-7 174h0m24-195h0m-28 182h0m-1-201h0m-3 96h0m9-30h0m4 148h0m8 5h0m4-114h0m-15-81h0m-5 66h0m-3-27h0m31-5h0m-7-27h0m-4 14h0m-16 19h0m21-50h0m-7 172h0m-4-95h0m0-32h0m-6-43h0m-10 3h0m25 96h0m-7-84h0m17 93h0m-28-181h0m-7 86h0m2 45h0m33-103h0m-29-26h0m4 155h0"/>
<path d="M719 1170h0m7-194h0m-8 130h0m12-118h0m-29-23h0m23 211h0m-21-207h0m24 112h0m-1 66h0m0 23h0m-13-125h0m-16-13h0m29 121h0m-25 54h0m-3 23h0m26-158h0m-10 145h0m17-132h0m-13 62h0m-3 61h0m-1-169h0m7 168h0m-15-91h0m1-6h0m20-67h0m4 100h0m-34 26h0m13-121h0m19-1h0m-24 74h0m24 38h0m-26 66h0m2-129h0m-1-103h0m16 150h0m8-15h0m6 18h0m-26 25h0m16-3h0m9-65h0m-30 29h0m8-86h0m6 78h0m-13-42h0m26 2h0m-8 99h0m-13-15h0m4-24h0m7 25h0m11-47h0m-5 144h0"/>
<path d="M733 1098h0m-23-1h0m2 81h0m4-194h0m-15 254h0m-3-83h0m23-14h0m-19-27h0m7 65h0m-10-58h0m32 24h0m0 37h0m-16 13h0m4 46h0m-6-135h0m2-9h0m15 63h0m-19-40h0m11-44h0m-14 117h0m10-119h0m13-88h0m-19 16h0m-14 89h0m20-85h0m6 233h0m-16-88h0m0-142h0m4 144h0m-1 35h0m1-132h0m-13 95h0m4-98h0m3 71h0m6-29h0m-9-109h0m-5 56h0m9 82h0m15-19h0m-3 10h0m-18 61h0m0 87h0m8-14h0m16-106h0m-3-79h0m0 66h0m-21-122h0m27 160h0m-7-133h0m-21 110h0m24-114h0"/>
<path d="M719 1176h0m-22-37h0m20-92h0m3 111h0m-15-170h0m-2 176h0m16 48h0m-6-107h0m-3 133h0m12-35h0m-2-175h0m-5-13h0m13 34h0m-23 95h0m27 81h0m-8-189h0m-17 61h0m13 186h0m-23-232h0m28-34h0m-5 80h0m-9 112h0m-11-29h0m29-43h0m-29 67h0m12-166h0m4-14h0m2 157h0m14-126h0m-16 65h0m2 7h0m-9 33h0m9 11h0m14-35h0m-4 70h0m-3-9h0m-28 85h0m1-299h0m31 123h0m-14 6h0m-16-65h0m4 156h0m3-73h0m15-34h0m-20-28h0m23 202h0m2-160h0m-14 53h0m7 21h0m15-106h0m-6 39h0"/>
<path d="M711 1183h0m18-30h0m-28-118h0m-3 53h0m32 62h0m-8 44h0m8-29h0m-29-129h0m7-12h0m19 210h0m-16 2h0m13 1h0m-6-169h0m15 32h0m-29 178h0m4-215h0m18 14h0m-26 100h0m3-42h0m12 36h0m5-26h0m13 3h0m-20-2h0m-10-30h0m1-23h0m5 148h0m18-153h0m-6-10h0m13 10h0m-36-13h0m16 79h0m-11 126h0m15-138h0m-5 23h0m-10 48h0m23-80h0m-19-86h0m25 118h0m-21-160h0m16 263h0m-19-97h0m-2 67h0m3-26h0m-11-188h0m27 86h0m-22 68h0m10 79h0m9-186h0m1-56h0m-14 114h0m-10-75h0"/>
<path d="M711 1207h0m8-65h0m2 91h0m-3 49h0m-13-158h0m3-64h0m25 28h0m-18 35h0m-18-39h0m9-1h0m4 16h0m14 6h0m-7 79h0m17-58h0m-26 33h0m22 10h0m-18-39h0m7 30h0m-10-75h0m4-43h0m16 11h0m-8 109h0m-2-83h0m-7 58h0m-1-58h0m10 27h0m-19-43h0m25-38h0m-22 56h0m26 37h0m3 113h0m-34-72h0m9-163h0m-6 37h0m24 55h0m3 87h0m-20 2h0m12-23h0m8-63h0m-21 72h0m11-83h0m-22 35h0m12-74h0m-1 208h0m22-62h0m-13-161h0m9 156h0m-10 50h0m-7 0h0m10-57h0m4-219h0"/>
<path d="M701 1239h0m14-48h0m5-2h0m-16 75h0m6-142h0m11 2h0m6 18h0m6-22h0m-14 19h0m-18-38h0m26 38h0m4-99h0m-2 190h0m-6 30h0m-14-163h0m13-49h0m0 54h0m-3-48h0m-2 67h0m14 117h0m-1-58h0m-21-42h0m5 33h0m13-56h0m-10-17h0m-18 35h0m24 4h0m-20 32h0m3 76h0m10-270h0m1 243h0m-7-47h0m9-96h0m3 59h0m9-38h0m-2 96h0m-28-12h0m14-92h0m17 51h0m-3 41h0m-28-35h0m8 145h0m-6-200h0m4 81h0m-8-1h0m17-128h0m4 140h0m3-145h0m-20 155h0m7 74h0m19-55h0"/>
<path d="M728 994h0m-14 213h0m-10-195h0m-6 109h0m15 95h0m7-148h0m5 151h0m-13-57h0m8-15h0m5-21h0m-14 58h0m11-19h0m11-119h0m-10 204h0m-24-219h0m-1-25h0m20 135h0m8-33h0m-7-79h0m9 57h0m-28-23h0m20-7h0m6 8h0m-9 102h0m-1 36h0m15-36h0m-26-56h0m4 38h0m23-2h0m-2-94h0m-3 80h0m-28 26h0m15-136h0m1 46h0m-18 89h0m4-3h0m31-19h0m-21-68h0m12-48h0m-22-4h0m0-33h0m10 202h0m22-80h0m-15-41h0m7 137h0m-12-167h0m20 42h0m-1 19h0m-4 112h0m-16 49h0m21-178h0"/>
<path d="M733 980h0m-9 256h0m-23-142h0m-2 180h0m6-126h0m2-48h0m5-63h0m-3 100h0m-12-23h0m13-4h0m7-21h0m10 108h0m-8-124h0m-19 20h0m4-12h0m8 108h0m-8-29h0m11-182h0m14 42h0m-22 266h0m22-300h0m-22 58h0m11 132h0m-17-128h0m10 114h0m0 83h0m22-181h0m-21 13h0m-14 45h0m5 93h0m5-35h0m23-81h0m-3 58h0m-12-95h0m-19 161h0m9-126h0m25-58h0m-1 110h0m-2 82h0m-24-53h0m8 80h0m22-120h0m-16 97h0m-21-56h0m3-60h0m28 144h0m-9-185h0m14 112h0m-32-28h0m-1-175h0m30 212h0"/>
<path d="M704 1111h0m-4 42h0m0-21h0m22 9h0m-24-51h0m19 99h0m-9 10h0m1-197h0m3 87h0m1 158h0m-5-64h0m9-56h0m-10-18h0m5-23h0m-10-30h0m25 187h0m-25-153h0m30-22h0m1 69h0m-25 51h0m-3-75h0m12 47h0m14-85h0m-13 42h0m11-10h0m-26 39h0m24-25h0m-25-32h0m1 78h0m21 10h0m4-15h0m-22 18h0m25-36h0m-30 41h0m13 42h0m7-181h0m-20 125h0m29-19h0m-26-22h0m0 50h0m-2-44h0m19-28h0m3-27h0m-9 96h0m13-35h0m-4 107h0m6-79h0m-4-98h0m-11 0h0m-6 153h0m12-143h0"/>
<path d="M716 1130h0m-6-91h0m0-48h0m-13 191h0m14 4h0m18-136h0m-28 100h0m-3 2h0m26-4h0m-20 139h0m-3-144h0m18 125h0m4-166h0m4 63h0m-10 31h0m-17-115h0m0-72h0m0 20h0m20 60h0m11 45h0m-27 52h0m13-125h0m-18-69h0m2 126h0m-4-16h0m32 5h0m-18 4h0m-12 70h0m0-43h0m12-37h0m20-5h0m-26 49h0m10-12h0m-9-97h0m2-13h0m4 36h0m13-27h0m4 117h0m-1 18h0m-27-31h0m-2 70h0m13-91h0m-4 79h0m-4 9h0m-7-97h0m2 51h0m11 27h0m-5-58h0m-3 53h0m23-103h0m2 106h0"/>
<path d="M706 1003h0m6 109h0m-8-68h0m28 34h0m-12 43h0m-19 100h0m2-34h0m27 29h0m-15-61h0m-9 47h0m20 5h0m-15-132h0m11 70h0m-3 24h0m14-32h0m-5 28h0m-29-77h0m28 56h0m-18 28h0m-6-71h0m5 118h0m24-117h0m-14 95h0m6-62h0m-9-15h0m-11-47h0m-2-89h0m31 124h0m-17 28h0m7-84h0m-20 28h0m-4 161h0m19-43h0m-6-93h0m-11-154h0m0 170h0m9 28h0m-3 48h0m14 74h0m-23-234h0m2 74h0m1 145h0m14-92h0m13-44h0m-24-29h0m-7-1h0m9 94h0m13-92h0m-1 143h0m6-170h0m-6 164h0"/>
<path d="M721 1176h0m-14-111h0m9 89h0m-18-118h0m35 124h0m-29-94h0m29 151h0m1-73h0m-26-23h0m-4 70h0m7 25h0m1-155h0m12 9h0m-1 2h0m-9 94h0m6 53h0m12-99h0m-29 7h0m22-92h0m-17 176h0m22-42h0m-8-190h0m6 46h0m-31 27h0m5-39h0m18 93h0m-8-1h0m-4 135h0m18-40h0m-22 4h0m-7-110h0m21 180h0m-16 0h0m19-190h0m8 36h0m-3 116h0m-7-31h0m-4-93h0m-9-26h0m16 43h0m-9-92h0m12 3h0m-23 120h0m25-7h0m3-121h0m-21 123h0m-5 20h0m-4-120h0m32 98h0m-32 113h0m4-20h0"/>
<path d="M729 1055h0m3 171h0m-29-90h0m15-78h0m-5 167h0m6-44h0m4-89h0m6 33h0m-25-66h0m15 72h0m7-43h0m-15 141h0m16-226h0m-28 126h0m18-45h0m-6-71h0m-9 68h0m20 82h0m-13 18h0m-2 45h0m3-14h0m3-7h0m-14-73h0m25 118h0m2-57h0m-16-24h0m-12-17h0m12-126h0m10-39h0m-10 175h0m2 130h0m2-206h0m-6 53h0m15-19h0m-14-85h0m20 173h0m-13-19h0m-5-106h0m3 99h0m-14 89h0m11-157h0m10-107h0m-10 158h0m20 28h0m-7-50h0m-17 53h0m2-112h0m-1 132h0m4-136h0m20 47h0m-16 64h0"/>
<path d="M718 1230h0m-14-22h0m7-212h0m23 154h0m0 39h0m-28-46h0m18-60h0m4-32h0m-7 19h0m11 79h0m-22 81h0m-5-169h0m16 57h0m-8-15h0m12-63h0m-27 82h0m7-57h0m8 32h0m-6 55h0m21-69h0m-24 18h0m24 20h0m-29-38h0m26 51h0m-27-47h0m22-74h0m0 123h0m-18 15h0m26 47h0m-7-89h0m-9 53h0m-13-24h0m28 59h0m-6-20h0m-21 68h0m2-161h0m12-62h0m13 127h0m-26 5h0m15-165h0m4 123h0m-9-99h0m12 43h0m-1 116h0m-15 74h0m8-241h0m-11 39h0m29 96h0m-12-63h0m-12 27h0m-4-13h0"/>
<path d="M732 1256h0m-18-103h0m8 48h0m-17-109h0m5-52h0m-6 238h0m9-143h0m11 25h0m-18-127h0m21 162h0m-4-25h0m-13 4h0m16-54h0m-9 57h0m-17 7h0m33-15h0m-17-124h0m15 78h0m-10 19h0m5 36h0m-3-81h0m-20 1h0m29-29h0m-2 151h0m-13-78h0m-8 52h0m-10 64h0m13-139h0m18-82h0m-12 160h0m5-103h0m-18 22h0m5 72h0m3-112h0m-16 34h0m22-16h0m6 70h0m-14-87h0m19 117h0m-19-62h0m10 86h0m-24-209h0m25 148h0m-16-17h0m-9-80h0m22 169h0m-22-39h0m7-10h0m0-1h0m14-58h0m2 59h0"/>
<path d="M723 1122h0m-8 69h0m-13 16h0m28-66h0m-12 43h0m12-100h0m-28 2h0m3 15h0m3 80h0m-11 89h0m25-106h0m-17-103h0m6 14h0m-9 120h0m18-158h0m-19 167h0m17-15h0m3-64h0m2 57h0m9-119h0m-17-101h0m10 293h0m-27-213h0m19 75h0m-11-6h0m23 10h0m-24 68h0m15-74h0m11 145h0m-32-142h0m7-28h0m10 29h0m-17-30h0m3 57h0m13-100h0m-10 182h0m16-88h0m-24 20h0m16 16h0m-4 26h0m-2-159h0m11 161h0m-10-178h0m15 189h0m-1-89h0m-2-40h0m3 63h0m-16 25h0m-5-101h0m14 7h0m1 113h0"/>
<path d="M704 1023h0m4 36h0m-4 229h0m18-286h0m-11 128h0m-8 29h0m31 22h0m-29-133h0m22-29h0m-27 168h0m15-2h0m18 68h0m-9-5h0m-3-156h0m5 56h0m-12 49h0m-8 49h0m10-185h0m-9 125h0m2-12h0m3-11h0m8-65h0m-19 18h0m16-97h0m0-5h0m-12 67h0m14-47h0m11 26h0m-26-6h0m2 65h0m18-14h0m-18-28h0m10 152h0m-8-122h0m-9 122h0m-2-150h0m23 115h0m-2-122h0m-15 187h0m1-178h0m21-47h0m-3 122h0m-4-47h0m-3 27h0m4-15h0m-5 45h0m1 10h0m19-162h0m-24 134h0m2-79h0m-14-2h0"/>
<path d="M709 1054h0m25 67h0m-20 36h0m-6-79h0m9 8h0m11 66h0m-17 66h0m-2-48h0m-7-70h0m14-18h0m-1 97h0m-5-169h0m24 130h0m-20-27h0m7 49h0m-1-54h0m-14 12h0m18-137h0m-1 79h0m-8 85h0m-16-52h0m21 84h0m-8-34h0m22-115h0m-36 122h0m1 87h0m2-133h0m1 98h0m20-204h0m-9 62h0m-14 50h0m13 23h0m-11-24h0m20 86h0m-14-6h0m15-61h0m-20 90h0m-1-204h0m25 115h0m-21 68h0m-1-20h0m28-53h0m-6 18h0m-28-114h0m16 171h0m20-64h0m-2 19h0m0 121h0m-22-234h0m21 24h0m-23 44h0"/>
<path d="M707 1121h0m9-150h0m-15 162h0m19-36h0m1 85h0m-2-105h0m-20-14h0m11 188h0m5-136h0m-12-89h0m25 218h0m3-143h0m0-53h0m-10-60h0m0 195h0m-11 96h0m9-125h0m-9 44h0m2 8h0m6-152h0m-8 194h0m3-48h0m-7-76h0m-6 52h0m25-46h0m8-4h0m-32-20h0m25 69h0m-3 84h0m-21-134h0m12-31h0m-13-19h0m0-88h0m3 250h0m15-211h0m-13 153h0m19-4h0m0-25h0m-21-128h0m1 114h0m22-83h0m-24-70h0m18 97h0m-15 186h0m11-175h0m-16-17h0m14-32h0m4 142h0m6-18h0m-14-30h0m-7 79h0"/>
<path d="M705 1129h0m0-12h0m3-83h0m15 171h0m-2-150h0m-14 209h0m21-3h0m-30-157h0m11 84h0m-11-133h0m13 35h0m0 82h0m21 23h0m-18 13h0m-2-150h0m10 58h0m-6 69h0m4-88h0m-3-107h0m-6 76h0m23-85h0m-21 239h0m-15 13h0m2-80h0m10-129h0m-12-3h0m6-6h0m1 2h0m0 187h0m20-84h0m8 95h0m-18 59h0m-16-84h0m-2-65h0m21 91h0m1-61h0m14-48h0m-9-32h0m-27 213h0m26-184h0m-5-57h0m-21 37h0m13 3h0m21 167h0m0-136h0m1-95h0m-12 25h0m-18 91h0m22 91h0m-6-40h0m-8-196h0"/>
<path d="M731 1051h0m-23 99h0m-9 70h0m3-169h0m4 9h0m-1 132h0m1-101h0m21 15h0m-30 40h0m14-133h0m3 230h0m16-95h0m-12-76h0m2 76h0m-2-67h0m-12 39h0m13 36h0m-6 53h0m14-14h0m-6-174h0m-23 73h0m9 81h0m23-34h0m-5 32h0m1 15h0m-17-23h0m6 65h0m-14-90h0m14-24h0m4-28h0m-6 174h0m-14-206h0m3 152h0m7-24h0m22 62h0m-3-146h0m-13 70h0m10-59h0m-22 45h0m2-28h0m29-56h0m-15 6h0m13 41h0m-28-5h0m11 123h0m-16 36h0m16-245h0m19 102h0m-34-32h0m30 165h0m-21-201h0"/>
<path d="M726 1015h0m4 170h0m-27-134h0m24 59h0m7-51h0m-5 70h0m-11-89h0m7 124h0m-15-84h0m4-56h0m-3 132h0m2 16h0m-15 44h0m27-185h0m-4 123h0m12-14h0m-33 51h0m0-31h0m2-72h0m3-28h0m28 57h0m-20-47h0m-3-17h0m24-57h0m-9 171h0m-26 69h0m21 17h0m3-201h0m-11 127h0m20-128h0m-1 96h0m-29-34h0m3-137h0m-7 93h0m3 87h0m9-73h0m15 19h0m-14 81h0m1-121h0m1-38h0m-11 114h0m26-5h0m3 47h0m-9-26h0m4-35h0m-11 68h0m6 36h0m-22-93h0m20 142h0m-19-98h0m2-139h0"/>
<path d="M698 1278h0m34-227h0m-34 179h0m16-124h0m15 131h0m-5-94h0m-23 28h0m-1-148h0m34-24h0m-12-21h0m-22 278h0m10-189h0m13 119h0m3-57h0m-23 2h0m21 90h0m-23-109h0m27-72h0m-23 105h0m13-175h0m3 182h0m9-76h0m-12 95h0m-1-145h0m-7 109h0m18 8h0m-19-19h0m14-80h0m11-72h0m-16 165h0m-17-60h0m27-18h0m-29 106h0m9 31h0m12-62h0m-1 4h0m8-62h0m-15 109h0m6-159h0m5 190h0m-13-78h0m-12 80h0m0-123h0m21 32h0m-21-10h0m16-57h0m14 27h0m-5-2h0m-19-90h0m23 72h0m-9 232h0"/>
<path d="M720 1161h0m10-70h0m-14 175h0m-10-114h0m-9-32h0m13-14h0m2 59h0m-13-102h0m7 59h0m17-103h0m-6 3h0m16 241h0m-30-26h0m9-183h0m-8-37h0m2 32h0m11 116h0m-5-17h0m-10-170h0m7 121h0m-10-33h0m17 80h0m-13-120h0m-1 100h0m22-60h0m-18 12h0m3 30h0m23 22h0m-3 127h0m-19-235h0m14 185h0m-27-59h0m16-61h0m14 75h0m-25-110h0m4-22h0m19 243h0m-7-154h0m-1 49h0m14-90h0m-23-60h0m-4 67h0m29 28h0m-17-33h0m0 91h0m-1 59h0m-8-98h0m17 2h0m-11-4h0m0-10h0m7-71h0"/>
<path d="M697 1172h0m30 5h0m-18-114h0m6-19h0m0-46h0m-9 122h0m10-84h0m-15 227h0m15-181h0m8 45h0m0 119h0m3-188h0m-5 52h0m8 1h0m-28-53h0m-3 86h0m19-96h0m-10 243h0m3-200h0m2 25h0m18 46h0m-10 104h0m-18-76h0m-1-5h0m15 20h0m-2-102h0m7-47h0m-22 66h0m18 91h0m15 32h0m-7-120h0m-23 104h0m-1-126h0m28-132h0m3 275h0m-3-214h0m-6 167h0m6-56h0m-31 66h0m10-114h0m15 116h0m7-24h0m-6 5h0m-11-14h0m-16-167h0m16 104h0m2-71h0m0 47h0m10 93h0m-26-149h0m9 204h0"/>
<path d="M712 1008h0m-12 106h0m3 159h0m25-282h0m-13 142h0m4 21h0m-3-120h0m-3 136h0m4-33h0m9-73h0m7 109h0m-29-103h0m17 146h0m-24-75h0m29 55h0m-11-28h0m12 97h0m3-116h0m-20-177h0m-6 143h0m-2-104h0m12 125h0m-6-51h0m4 164h0m10-104h0m-17 62h0m2-64h0m15 51h0m-21-164h0m7 71h0m7-117h0m0-15h0m-9 242h0m-9-127h0m9-23h0m14 162h0m13-179h0m-28 29h0m17 136h0m-5-102h0m0 42h0m15-73h0m-21 18h0m-4-60h0m5 3h0m-8 178h0m24-145h0m-20-15h0m1-4h0m18 170h0m4-105h0"/>
<path d="M699 1035h0m12 97h0m-3 50h0m-8 61h0m-3-123h0m27-64h0m-17 54h0m17-89h0m6 171h0m-6-42h0m-17-74h0m-3 90h0m17 3h0m-8 89h0m-6-200h0m23 111h0m-19-56h0m0-66h0m-3 165h0m20-57h0m-6 88h0m-12-91h0m5-86h0m15-24h0m-20 107h0m7-21h0m0-80h0m-6 27h0m-9 82h0m27 69h0m-9 47h0m-21-206h0m8 122h0m12 60h0m-17-220h0m12 121h0m0-152h0m17-25h0m-31 180h0m6 11h0m11-79h0m4 20h0m-6-56h0m9 10h0m8 146h0m-9-67h0m0-115h0m2 54h0m-23-27h0m28 65h0m1 26h0"/>
<path d="M714 980h0m15-21h0m-31 152h0m8 17h0m-6-4h0m4 78h0m0-58h0m13-77h0m-12-13h0m21 45h0m3 52h0m-6-79h0m8 94h0m2-31h0m-6 120h0m0-178h0m-29 8h0m21 96h0m4-85h0m-7 39h0m-2-79h0m-12 51h0m2 5h0m-1-12h0m3 71h0m8-63h0m6-70h0m-1 82h0m-6 75h0m-7 10h0m25-129h0m-26-95h0m11 48h0m0 147h0m9-5h0m-2-30h0m-2-35h0m10 153h0m-11-10h0m12-243h0m-28 180h0m-1 14h0m16-37h0m12 2h0m-21-121h0m-11 142h0m0-9h0m14-17h0m11-35h0m-21-37h0m23 95h0"/>
<path d="M706 1259h0m26-246h0m-25 153h0m17 50h0m-11-96h0m13-85h0m-9-51h0m-15 156h0m11-44h0m20-73h0m-16 83h0m-1 183h0m-18-318h0m33 176h0m-22-97h0m-8 210h0m22-187h0m6 53h0m-29 17h0m26-14h0m-13 36h0m-9 47h0m28-72h0m-18-99h0m-11 124h0m8-27h0m21 103h0m-12-219h0m3 53h0m9 135h0m-1-92h0m-14-36h0m-12 75h0m5-49h0m12 111h0m7-132h0m-24-100h0m25 180h0m-33-172h0m7 95h0m13-54h0m0 82h0m-7 86h0m-13-29h0m24 82h0m7-133h0m-4-69h0m-19 12h0m14-72h0m15 214h0m-16-57h0"/>
<path d="M719 1014h0m13 169h0m-2-92h0m-14-76h0m10 45h0m-11 35h0m1 60h0m13-32h0m-18-67h0m-12 94h0m12 77h0m-3-2h0m1-143h0m22-44h0m-18 85h0m1 1h0m-8 55h0m-6-125h0m1 42h0m17 40h0m-3 8h0m-16-26h0m14-44h0m-8 129h0m23-195h0m-23 128h0m25 27h0m-2 79h0m-14-169h0m-13-38h0m21 157h0m-8-74h0m7 82h0m-23 7h0m30-99h0m0 128h0m2-55h0m2-37h0m-9-181h0m-1 282h0m-24-216h0m36 88h0m-13-47h0m-11 11h0m2 23h0m17 89h0m-19-126h0m-10-6h0m5 46h0m-4-74h0m7 229h0"/>
<path d="M717 1151h0m-1-66h0m8 93h0m-26-49h0m31 6h0m0 26h0m2 37h0m-6-84h0m-1-26h0m-24 9h0m4 54h0m13-79h0m12 83h0m-2 59h0m-5-114h0m-19-70h0m3 21h0m27 205h0m-19-25h0m15-214h0m-32 29h0m19 221h0m-11 26h0m-2-121h0m13-135h0m0 72h0m-14-116h0m14 219h0m1-16h0m-3-60h0m-7 8h0m13-64h0m-7-15h0m0-19h0m-16 121h0m3 44h0m26-46h0m-11 64h0m-14-76h0m21-169h0m0 110h0m0 122h0m-20-124h0m25 54h0m-4 79h0m4-33h0m-8-8h0m-1 59h0m-15-32h0m20-100h0m-13 139h0"/>
<path d="M734 997h0m-19 49h0m-4 64h0m20 63h0m-18 24h0m11-140h0m-23 60h0m-3 79h0m18-89h0m6-50h0m-17 61h0m-1 46h0m3 18h0m25-14h0m-11-55h0m-20 59h0m28-31h0m-23 56h0m8 87h0m8-236h0m-17 122h0m-1-52h0m7 52h0m17-100h0m0 98h0m-25-74h0m2 47h0m26-3h0m-20-79h0m-5 149h0m7-113h0m-13 132h0m2-233h0m2 19h0m15 177h0m-12-87h0m-9 3h0m28 154h0m-18-126h0m-11 145h0m17-184h0m-3 68h0m2-98h0m7 88h0m-12 29h0m15-6h0m-13-33h0m15-26h0m-10 55h0m2-28h0m-15 60h0"/>
<path d="M727 1134h0m-24-74h0m-3-28h0m0 185h0m21-40h0m5-177h0m-28 250h0m6-67h0m-4-5h0m24 54h0m-4-65h0m-10-86h0m-4 73h0m15-126h0m3 72h0m-3 84h0m-2-42h0m-10-1h0m15-30h0m-24 2h0m3-2h0m8 154h0m9-163h0m-21 150h0m7-27h0m23-139h0m4 126h0m1 33h0m-22-206h0m-6 147h0m8-89h0m-12 75h0m-3 126h0m25-123h0m-1-51h0m-10-30h0m-12 19h0m28 35h0m-28 98h0m29-157h0m-30 129h0m24-58h0m-24 84h0m29-187h0m-27-66h0m3 171h0m2-29h0m-1 9h0m26 146h0m-17-122h0m-14-50h0"/>
<path d="M732 1145h0m-21 12h0m-6-94h0m17 138h0m0-41h0m5 62h0m-27-59h0m19 58h0m-8 56h0m-6-159h0m27-31h0m-24 106h0m24-130h0m-27 2h0m21 63h0m-9-138h0m-9 76h0m-1-55h0m4 24h0m-10 120h0m19-130h0m-9 109h0m-6 66h0m25-240h0m-4 258h0m5-27h0m-20-122h0m-10 183h0m11-157h0m-3-9h0m-6 160h0m14-233h0m11 198h0m-9-70h0m-15 59h0m12-86h0m-19-100h0m25 71h0m12-65h0m-29 88h0m-2 163h0m29-56h0m-16-144h0m0 140h0m17-75h0m-25 132h0m13-98h0m-13 51h0m4-235h0m-6 168h0m9-185h0"/>
<path d="M702 1034h0m10 77h0m9 102h0m11-141h0m-33 66h0m8-101h0m-8-24h0m26 115h0m-25-66h0m15-1h0m-16 194h0m7-106h0m-8 48h0m2-150h0m3 136h0m-4-88h0m24-36h0m2-9h0m-12 99h0m3-15h0m-2 15h0m-16 139h0m17-222h0m6 68h0m-8 58h0m2-129h0m0 115h0m7-53h0m8 17h0m-4 100h0m-19-73h0m26 20h0m-18 5h0m2-119h0m12 92h0m-29-87h0m14 10h0m-14-28h0m29 187h0m5-11h0m-5-45h0m-2-88h0m6 52h0m-3-84h0m-25 40h0m21 58h0m-8-120h0m16 122h0m-3-120h0m-14 110h0m7 84h0"/>
<path d="M723 1071h0m-10 194h0m-11-191h0m9 144h0m-7 50h0m-4 10h0m4-78h0m6 27h0m-4-156h0m10 20h0m5-1h0m3-19h0m-12-16h0m-2 1h0m11 9h0m-7-9h0m-8 210h0m1 25h0m4-9h0m3-171h0m-6 14h0m3 146h0m10-179h0m-22 29h0m11 129h0m5 27h0m-16-162h0m16-22h0m-18 170h0m25-51h0m-16-198h0m20 208h0m-17-171h0m7-31h0m-1 70h0m4 55h0m-17-77h0m27 48h0m5 48h0m-16-84h0m14 17h0m-20-21h0m0-51h0m9 207h0m3-4h0m-25-48h0m16 45h0m-7-2h0m-1-76h0m4 30h0m1 69h0"/>
<path d="M718 1222h0m3-91h0m-11 133h0m-8-235h0m8 128h0m-11-60h0m4 153h0m4-98h0m15 62h0m0-48h0m-11-91h0m-5 162h0m8-73h0m15 64h0m-24-161h0m9 140h0m18-109h0m-32-66h0m23 106h0m-12 24h0m-3-82h0m17-78h0m-27 129h0m6-30h0m-4 17h0m6-101h0m23 27h0m0 43h0m-12-39h0m-9 223h0m-10-243h0m33 0h0m1 142h0m-29-52h0m16-29h0m-10-25h0m10 110h0m-16-82h0m13-78h0m-7 71h0m5 202h0m-9-68h0m4-122h0m14-56h0m8 55h0m0 48h0m-18-32h0m21 160h0m-22-35h0m-12-153h0m20-91h0"/>
<path d="M711 1026h0m-1 192h0m-8-178h0m32-24h0m-35 157h0m28-51h0m-20 87h0m-8-78h0m15 17h0m-7-43h0m-8 102h0m35 7h0m-30-51h0m28-69h0m-28-101h0m6 58h0m-13 211h0m33-215h0m-3 131h0m-10 82h0m-19-126h0m23 17h0m9-95h0m-14 159h0m6-59h0m7-157h0m-26 112h0m28 20h0m2 143h0m-7-209h0m8 115h0m-29 55h0m27-175h0m-21 84h0m-3 8h0m5-56h0m15-7h0m-18-13h0m-8 36h0m22-101h0m3 154h0m-12 92h0m-7-254h0m26 77h0m-37-30h0m6 29h0m6 21h0m-11-32h0m33 179h0m3-104h0m-16-121h0"/>
<path d="M723 1094h0m2 156h0m-24-263h0m14 215h0m-15-124h0m30 134h0m-8-22h0m-11-50h0m14 8h0m-17 50h0m-8 43h0m24-178h0m6 24h0m-1-39h0m-28 180h0m31-146h0m-15 58h0m9 107h0m-4-46h0m12-69h0m-23-72h0m15 93h0m1-89h0m-10 115h0m-19-72h0m24 78h0m-9-56h0m13-19h0m-1 21h0m-21-83h0m18 214h0m-13-205h0m18-12h0m-14 141h0m20-89h0m0 11h0m-34 83h0m6-121h0m0 56h0m14 1h0m-19 27h0m32-170h0m-29 95h0m15 62h0m-2-75h0m0 68h0m15-74h0m-32 112h0m22-100h0m-9 36h0"/>
<path d="M713 1048h0m19 74h0m-5-56h0m4 118h0m-3-118h0m-31-17h0m34-45h0m-5 154h0m-23-11h0m0-14h0m22-85h0m-11 75h0m-3 31h0m16 64h0m-7-179h0m0 35h0m2 117h0m-12 52h0m-10-248h0m10 122h0m-11 6h0m-2-47h0m8 153h0m14-150h0m-13 26h0m21-55h0m7 2h0m-18 95h0m10 88h0m-1-94h0m-13-26h0m-4 0h0m26-116h0m-23 145h0m10-69h0m0 51h0m0 69h0m-14 74h0m9-225h0m-5 57h0m-9 102h0m8-144h0m16 6h0m-2-5h0m-17 60h0m26-36h0m-22-51h0m-9 84h0m18 13h0m12-66h0"/>
<path d="M709 1040h0m-4 182h0m21-122h0m-12-2h0m-4 125h0m-10 5h0m19-40h0m11 5h0m-4-83h0m-9 140h0m-4-172h0m10 179h0m-14-47h0m3-102h0m-1 170h0m6-141h0m5-3h0m-24-30h0m34-48h0m-6-34h0m0 19h0m7-19h0m-31 48h0m20 81h0m7-92h0m-7 26h0m-22 112h0m-1-16h0m15-113h0m-16 200h0m15-146h0m21 93h0m-4-113h0m-28 86h0m-4 43h0m10-128h0m9 104h0m-8-144h0m7 144h0m6-161h0m-16 118h0m1-77h0m15 11h0m-22-82h0m20 164h0m-11-93h0m-2 122h0m17-62h0m-24 58h0m28-166h0"/>
<path d="M725 997h0m-10 184h0m-12-52h0m27-17h0m-24-12h0m15 12h0m8-13h0m-25 51h0m5-36h0m18 63h0m-18-96h0m22-14h0m-8 17h0m-23 131h0m27 51h0m-4-159h0m-17 109h0m17-50h0m-4-83h0m-18 129h0m4-158h0m15 219h0m-9-256h0m-4 179h0m-8-72h0m16-38h0m2 69h0m12 66h0m3-161h0m-2 75h0m-2-140h0m1 137h0m-8-38h0m-2-4h0m-12-29h0m0 33h0m-2 56h0m-2 97h0m14-154h0m-8 133h0m23-84h0m-3 47h0m-26-160h0m1 41h0m6 11h0m22 70h0m-18 124h0m8-246h0m5-46h0m-29 65h0"/>
</g>
<use href="#v13" fill="none" stroke="#111" stroke-width="1.1" stroke-linejoin="round"/>
<rect x="700.1" y="1130.8" width="31" height="3.4" fill="#fff"/>
<use href="#v14" fill="#6A8DCB"/>
<g stroke="#000" stroke-opacity="0.170" stroke-width="4.8" stroke-linecap="round" fill="none">
<path d="M760 1185h0m3-159h0m7 139h0m1-114h0m-10-9h0m20 8h0m-3 25h0m-6-19h0m9-35h0m-17 96h0m14-102h0m-5 126h0m6-5h0m-35 72h0m25-74h0m-4 141h0m14-121h0m-27-90h0m-3 65h0m11-63h0m1 70h0m-2-56h0m-5 42h0m22 68h0m4-130h0m-17 89h0m4-127h0m6 70h0m-21 59h0m11-46h0m0 1h0m6-15h0m-17 8h0m12 37h0m-5-71h0m12-47h0m-8 182h0m-13-71h0m-2 88h0m23-135h0m8 175h0m-35-164h0m12 5h0m8 55h0m17 18h0m-31-162h0m7 158h0m-11-133h0m14 24h0m15 77h0m6 63h0"/>
<path d="M779 1131h0m-22 3h0m1 89h0m1-37h0m21-107h0m-23-98h0m23 65h0m-25 122h0m19 43h0m7 44h0m-8-182h0m-21 87h0m13-86h0m-15-64h0m16 116h0m-11-55h0m13-6h0m-21 120h0m7-35h0m4-24h0m18 66h0m3-14h0m-3 92h0m4-88h0m-27-28h0m28-14h0m-35-114h0m28 168h0m5 48h0m-7-242h0m-18 131h0m8 106h0m17-59h0m-13-181h0m6 101h0m2 38h0m7 16h0m-29-61h0m-4 107h0m26-32h0m5-120h0m-34 17h0m26 58h0m-18 24h0m25-113h0m-28 171h0m16-198h0m4 234h0m-21-261h0m16 88h0m-15 240h0"/>
<path d="M765 1135h0m12-147h0m-13 157h0m-4-148h0m10 255h0m-3-123h0m-10 54h0m23 18h0m-17-144h0m-9 116h0m-10-79h0m35 179h0m1-192h0m-16 211h0m12-166h0m-29 58h0m21-142h0m-1 206h0m13-166h0m-15 106h0m-11-196h0m6 127h0m20-96h0m-23 57h0m-2 177h0m16 26h0m-27-205h0m7-4h0m3-63h0m25 184h0m-26-80h0m4 28h0m7 34h0m-17 93h0m30-49h0m-24-80h0m7 31h0m-6-45h0m24 51h0m-12-148h0m-17 6h0m15 111h0m-14-36h0m19-44h0m10 79h0m-35 16h0m34-76h0m-12 44h0m12-76h0m-33 102h0m18-98h0"/>
<path d="M763 1064h0m-19-32h0m33 98h0m3-57h0m-31 3h0m14-24h0m-3 57h0m21 75h0m-25 0h0m-7-11h0m0-193h0m-5 233h0m9-162h0m0 188h0m-1-186h0m22 77h0m2-37h0m-7 136h0m12-196h0m-27 193h0m-10-62h0m13 22h0m8-86h0m5-88h0m-23 137h0m18-58h0m-9-62h0m9 210h0m-13-123h0m10 3h0m16 47h0m-9-9h0m-1-33h0m-20-87h0m28 23h0m-5 73h0m1 20h0m0-135h0m2 118h0m3 97h0m-28 40h0m2-149h0m-5 132h0m21-58h0m-14 25h0m0-61h0m2-141h0m-10 185h0m13-217h0m13 116h0m-8 21h0"/>
<path d="M779 1164h0m-32-88h0m26 192h0m-8-90h0m2-84h0m7-76h0m-2 154h0m-5 75h0m3-146h0m-20 161h0m13-183h0m13 106h0m-14-65h0m-11-14h0m4 59h0m-7-113h0m17 73h0m-5-68h0m19 104h0m-25-64h0m8-16h0m0 163h0m19-184h0m-9 123h0m-23-164h0m20 64h0m-19-28h0m-3 94h0m4-80h0m8 105h0m5-50h0m-10 38h0m1-27h0m22 27h0m-8-28h0m0-4h0m-4-10h0m-15-32h0m-1 99h0m16-118h0m6 164h0m8-97h0m-8 53h0m5-97h0m-15 8h0m12 83h0m-9-177h0m12 32h0m3 145h0m-30-148h0m-5-4h0"/>
<path d="M774 1070h0m0 49h0m-26 29h0m22-54h0m-25 115h0m10-190h0m10 114h0m-16-166h0m24 236h0m7-140h0m-31 121h0m13-182h0m-4 44h0m-2 48h0m0 28h0m11 38h0m-1 107h0m-19-218h0m5 29h0m17-83h0m-11 209h0m-9-33h0m17-9h0m8 27h0m-8-24h0m-1-19h0m-9-75h0m1 8h0m-1-59h0m24 18h0m-25 152h0m9-120h0m4 78h0m-11 38h0m18-99h0m-28 153h0m3-26h0m4-157h0m16 119h0m10-76h0m-24 77h0m0-90h0m-4-34h0m3 100h0m-5-97h0m9 143h0m9-213h0m-17 202h0m10-21h0m-2 108h0m-2-199h0"/>
<path d="M745 1136h0m22 31h0m6-53h0m-27 160h0m18-227h0m10-13h0m0 32h0m-9 177h0m-8-58h0m9-209h0m0 15h0m-13 76h0m-9 62h0m3 103h0m2-151h0m9 105h0m-2-29h0m11-58h0m-20 164h0m18-119h0m14-37h0m-2-25h0m-13 28h0m-9 58h0m7-139h0m8 77h0m-20 66h0m1-110h0m1-67h0m6 271h0m-6-112h0m15 60h0m-20-78h0m8 22h0m7-21h0m-9-132h0m16 144h0m8 18h0m-13-138h0m-13 97h0m5 123h0m18-31h0m-13-108h0m9-39h0m-20 75h0m6-119h0m-1 82h0m14-14h0m11-29h0m-20 155h0m-7 77h0"/>
<path d="M773 1127h0m-24 43h0m0 14h0m30 4h0m-30 7h0m10-111h0m2 71h0m14 12h0m-17-140h0m9-29h0m14 162h0m-12-68h0m0-51h0m5 31h0m-18 53h0m22-101h0m-2 128h0m-17-69h0m12 143h0m-7-218h0m-9 23h0m-8 100h0m3 31h0m15-100h0m2 74h0m-2-94h0m9 170h0m-23-106h0m19-92h0m-14 245h0m19-57h0m-2 44h0m-15-141h0m-5-34h0m-9 18h0m15-79h0m21 129h0m-1 16h0m-14 36h0m0-121h0m13 97h0m-28 44h0m18-14h0m-5-155h0m-7-54h0m4 155h0m-3-107h0m22 21h0m-7-40h0m-15 21h0m-9-33h0"/>
<path d="M775 1161h0m-9-82h0m14-4h0m-27 10h0m19 65h0m-21-77h0m7 41h0m0 12h0m6-109h0m-17 98h0m10 100h0m6-172h0m-12 153h0m23-56h0m-9-31h0m9-19h0m6-31h0m-13 71h0m-10 6h0m23-79h0m-27 128h0m28-137h0m-20 45h0m13 33h0m2-4h0m-27-12h0m3 2h0m27-132h0m-23 147h0m6-67h0m-17 32h0m3 130h0m33-277h0m-11 191h0m-6 124h0m-5-164h0m11-64h0m-22 28h0m9 1h0m-8 48h0m20 143h0m-3-145h0m-21 46h0m11-11h0m7-43h0m3-114h0m-16 130h0m21-89h0m9 90h0m-26 120h0m-2-111h0"/>
<path d="M747 1046h0m26 63h0m-6 108h0m-3-88h0m10-129h0m1 197h0m-18-151h0m16 83h0m-13-115h0m5 6h0m4 116h0m-7-85h0m-1 38h0m6 39h0m8 84h0m0-88h0m-9-46h0m-20 82h0m15 24h0m-11-108h0m20 102h0m-10-90h0m5 56h0m14-132h0m-18 63h0m14 217h0m-7-116h0m5 62h0m-27-162h0m0 144h0m21-180h0m2 73h0m-23-54h0m25 191h0m-20-98h0m10-76h0m19 51h0m-4 32h0m-9-61h0m4-102h0m-26 36h0m6 7h0m25 51h0m-13 84h0m15 13h0m-3-156h0m-31 130h0m37 19h0m-27 41h0m-5-68h0m14 52h0"/>
<path d="M748 987h0m2 216h0m18 52h0m-12-201h0m15 102h0m7 48h0m-25-54h0m22 45h0m-4-108h0m7 177h0m-1-143h0m4-3h0m0 120h0m-33-173h0m-1-18h0m4 94h0m27 83h0m-34-146h0m21 64h0m-11-113h0m-9 119h0m12-127h0m-6 155h0m-3-23h0m10-132h0m-1 60h0m6 1h0m-14 45h0m1 103h0m11-124h0m-1 61h0m-14-144h0m25 61h0m2 104h0m5-90h0m-5 114h0m7-38h0m-7-48h0m4 11h0m-10-128h0m-9 157h0m-14 43h0m3-123h0m9 204h0m8-163h0m9-52h0m2-66h0m6 79h0m-25 130h0m16-174h0m-20 42h0"/>
<path d="M744 1001h0m1 97h0m-1-46h0m12 88h0m23-47h0m-5 100h0m-13-44h0m16-55h0m-20-6h0m23 55h0m-25-128h0m-4 147h0m-6-153h0m23 195h0m2-49h0m-24-146h0m16 158h0m7 24h0m-12-98h0m10 115h0m-12-119h0m-6-72h0m3 164h0m19-89h0m-9-14h0m-6 97h0m13-159h0m2 129h0m2-8h0m-24-8h0m19-13h0m-4 14h0m13 59h0m-32-71h0m29 34h0m-21-86h0m18 24h0m-3 121h0m-13-54h0m10-25h0m13-11h0m-8-13h0m-17-10h0m28 63h0m-3-150h0m-17 211h0m8-75h0m-3 63h0m-20-108h0m13 1h0m7-67h0"/>
<path d="M758 1132h0m-9 39h0m10 46h0m-14-44h0m27-171h0m-16 45h0m0 64h0m-5-8h0m2 149h0m12-133h0m12-18h0m-17-119h0m16 164h0m-15-12h0m-8-122h0m0-24h0m11 116h0m-9-67h0m2 1h0m22 38h0m-19-72h0m1 115h0m16-96h0m-14 109h0m-12-117h0m5 18h0m4 61h0m-15-41h0m7-9h0m18 9h0m-18 221h0m29-37h0m-2-187h0m-30 118h0m-3-56h0m1 63h0m3-48h0m28 71h0m-10-72h0m-15 138h0m26-150h0m-12 26h0m5-108h0m-2-9h0m5 71h0m1-6h0m-13 35h0m8-34h0m-7 69h0m1-9h0m-9-63h0"/>
<path d="M771 1157h0m0-186h0m1 176h0m8-69h0m-22 118h0m19-154h0m-2 73h0m-5 17h0m6-8h0m-10-114h0m-8 98h0m20-46h0m-16 123h0m12-196h0m-5 204h0m-10-41h0m20-53h0m-28-88h0m4 243h0m0-30h0m3-188h0m14 181h0m-8-88h0m11-91h0m-27-26h0m9 208h0m1-151h0m6 25h0m-11-79h0m23 105h0m2 130h0m2-139h0m-15-31h0m-13 124h0m0-102h0m8-109h0m-15 80h0m6 69h0m-3 50h0m21-77h0m7 158h0m-23-95h0m2-111h0m21 194h0m-5-58h0m5 30h0m-11-62h0m-11-97h0m-9-77h0m9 217h0m26-12h0"/>
<path d="M776 1100h0m-27 81h0m9-87h0m-11 170h0m7-108h0m21-1h0m-19 63h0m-11-162h0m16 22h0m6-33h0m13 137h0m-25-158h0m10-21h0m10 203h0m-4-93h0m-16 127h0m-3-171h0m4 119h0m3-9h0m9-91h0m0 21h0m9 46h0m-31 17h0m30-116h0m1 63h0m-13 1h0m-9 19h0m6-93h0m1-16h0m15 25h0m-6-6h0m6-27h0m-24 100h0m11-26h0m-13 101h0m4 68h0m2-84h0m-9-115h0m33 6h0m-30 139h0m24-123h0m-22 103h0m8-46h0m-7-1h0m-5-16h0m29-13h0m3-81h0m-9 36h0m7 137h0m-5-123h0m-26 11h0"/>
<path d="M746 1205h0m5-70h0m22-120h0m-8 66h0m-15 172h0m6-75h0m-2-92h0m-5 168h0m18-103h0m-6-41h0m-3 0h0m-1-102h0m0 24h0m14 148h0m-18-110h0m26 99h0m-29 6h0m16-31h0m13 56h0m-28-36h0m2 32h0m11-33h0m11-12h0m-12-175h0m-6 145h0m9 116h0m-6-141h0m-10-16h0m3 2h0m3 76h0m1-119h0m-8 131h0m18-118h0m-12 161h0m10-176h0m-8 83h0m7 142h0m-20-8h0m26-146h0m-23-4h0m34 59h0m-7-35h0m-13 88h0m-16-94h0m15-58h0m6 135h0m-20-61h0m6-103h0m26 109h0m-2-50h0m-17-79h0"/>
<path d="M751 997h0m28-2h0m-30 197h0m21-26h0m-22-160h0m7 262h0m0-111h0m24 11h0m-2-14h0m-12 79h0m1-77h0m-18-57h0m8-99h0m15 131h0m8-39h0m-14 6h0m4 20h0m-23-112h0m4 269h0m10-117h0m0 44h0m17-27h0m-2 0h0m-19-188h0m18 153h0m6-43h0m-15 29h0m-16 33h0m6 54h0m-1-76h0m26-49h0m-7-85h0m5 24h0m-16-6h0m9 97h0m-12 86h0m-7-58h0m17-95h0m-3 83h0m-17-84h0m20 120h0m-6-184h0m-11 75h0m-4 9h0m26 188h0m-12-124h0m-3 113h0m18-212h0m1 105h0m3 4h0m-24-178h0"/>
<path d="M750 1172h0m17-43h0m-18-42h0m24 72h0m6-105h0m-1 59h0m-10 4h0m-21 14h0m33-96h0m-25 87h0m-3 61h0m26 28h0m-14-155h0m-6 67h0m1 69h0m-9-39h0m-1-83h0m32 165h0m-27-118h0m-2 73h0m11-13h0m-13-154h0m-1 83h0m23 27h0m-6-111h0m-10 16h0m4-13h0m10-15h0m-12 57h0m12-55h0m-10 186h0m17-26h0m-5-53h0m-20-60h0m-3 94h0m0-70h0m2 164h0m24-165h0m-17-95h0m7 53h0m3 80h0m12-125h0m0 94h0m-28 25h0m3 139h0m10-33h0m-16-39h0m24 43h0m-3-26h0m-5-200h0m-10 75h0"/>
<path d="M761 1179h0m-16 35h0m21 6h0m-3-172h0m-8 11h0m15 150h0m6-230h0m-27 222h0m3-116h0m-4 50h0m6 51h0m17-39h0m-17 16h0m9-140h0m-16 193h0m31-237h0m-26 284h0m17-155h0m7 12h0m-11 23h0m-18-118h0m20 45h0m-16 25h0m0 28h0m5 122h0m-11-261h0m16 203h0m13-39h0m4-97h0m-12 108h0m-6-151h0m9 144h0m-6-102h0m15 106h0m2 15h0m-35 8h0m0-77h0m5-46h0m-3-40h0m12 80h0m14 99h0m-25 19h0m24-156h0m-10 59h0m-4-132h0m-2 124h0m20 80h0m1-31h0m-23 37h0m26-136h0m-24 184h0"/>
<path d="M776 1047h0m-13 5h0m-18-7h0m17-3h0m6 102h0m-12 6h0m1-70h0m5 68h0m6-47h0m-4 84h0m-5 0h0m18-123h0m-10-39h0m11 23h0m-16 155h0m1-114h0m-19 91h0m15-36h0m-7 69h0m20-157h0m-10 217h0m4-92h0m-10 4h0m-7-201h0m21 101h0m-22-25h0m19 25h0m-2 95h0m-7-85h0m16-19h0m-26 65h0m0 84h0m24-77h0m-6 32h0m0 32h0m-15-223h0m12 202h0m13-140h0m-10 111h0m2 21h0m-15-183h0m10 76h0m3 137h0m3 5h0m-14-112h0m-7 85h0m9-144h0m-12 153h0m33-73h0m-18 160h0m19-127h0"/>
<path d="M748 1199h0m-1-27h0m10-51h0m-13-51h0m5 122h0m24 11h0m0-84h0m-12 145h0m9-106h0m6 38h0m-15-111h0m4 49h0m13-15h0m-30 115h0m28-99h0m-31 55h0m36-35h0m-5-16h0m-20-59h0m-11-5h0m9-95h0m23 173h0m-5-16h0m-3 48h0m-19-147h0m2 112h0m14-25h0m-10 1h0m-5 28h0m21-62h0m-7 131h0m10-102h0m-15-1h0m-11-68h0m32-49h0m-11 133h0m-3-70h0m11 48h0m-7 78h0m-25-183h0m9 215h0m8-63h0m16-3h0m-24-24h0m6-21h0m10-33h0m-20 52h0m8-58h0m12-91h0m8 247h0m-34-182h0"/>
<path d="M750 1195h0m30-144h0m-15 206h0m-13 20h0m12-121h0m12-167h0m-21 149h0m25 37h0m-11-201h0m2 123h0m-20-137h0m25 87h0m-17 85h0m1 33h0m12 101h0m-4-217h0m-10 86h0m10-118h0m4 136h0m-3 65h0m-11-196h0m-8-34h0m16 92h0m-4 63h0m-15-44h0m16-41h0m-8 62h0m4 6h0m15-1h0m-7 65h0m3-71h0m2 3h0m3-65h0m-5 132h0m-5-139h0m-20 7h0m4 26h0m10 28h0m6 128h0m-16-141h0m1 9h0m14 74h0m-11-99h0m15-91h0m-8 172h0m-12-115h0m20 74h0m0-43h0m-9-46h0m-7 102h0"/>
<path d="M754 1231h0m0-62h0m-1 128h0m-4-206h0m6-39h0m20 137h0m-7-64h0m-21-27h0m33 39h0m-20 103h0m-15-47h0m13-146h0m5 144h0m-14-12h0m15-14h0m10 49h0m-11-63h0m-17-127h0m24 77h0m1 85h0m-17 50h0m23-120h0m-8-49h0m8 46h0m2 134h0m-23-74h0m-8 30h0m8 28h0m7-89h0m12-52h0m-17 46h0m-7 108h0m14-217h0m12 111h0m-23 24h0m-1-17h0m19-115h0m-26 152h0m20-135h0m-19 80h0m31-134h0m-25 58h0m-4 64h0m2 74h0m24-87h0m-23 45h0m-7-68h0m18-71h0m12 157h0m-19-4h0"/>
<path d="M753 1282h0m18-215h0m-22 89h0m22-29h0m8 103h0m-6 20h0m-10-151h0m1 28h0m6-56h0m1 42h0m-11-106h0m1 147h0m2-20h0m-13-44h0m26 77h0m-21-97h0m9-14h0m15-50h0m-10 18h0m-17 141h0m15-38h0m14 90h0m-2-133h0m-33 68h0m13-169h0m19 130h0m-8-57h0m-24 156h0m13-74h0m4-41h0m-6 85h0m-7 3h0m19-173h0m8 64h0m-30 96h0m18-134h0m9 103h0m-20 86h0m20-22h0m0-54h0m-22-33h0m10-7h0m-12 19h0m25-87h0m-10 18h0m13 77h0m-21 5h0m22-20h0m-13-133h0m-4 178h0"/>
<path d="M776 1174h0m3-195h0m-18 222h0m-10 19h0m-2-125h0m12-110h0m-17 69h0m1 80h0m35 2h0m-5 117h0m-17-158h0m20-71h0m-21 141h0m12 16h0m-3-34h0m-21-34h0m0-113h0m22 136h0m8 52h0m6 53h0m-32-113h0m13-5h0m-4 61h0m20-49h0m-6 34h0m0-14h0m0-6h0m-26 22h0m24-133h0m-19 203h0m-2-208h0m6 93h0m5 17h0m12-95h0m-13 38h0m5 72h0m3 108h0m2-134h0m-2-5h0m-17 22h0m-2 31h0m-1-167h0m25 74h0m-26 37h0m20 9h0m9-103h0m-25 120h0m29-19h0m-25-5h0m18 10h0"/>
<path d="M748 1146h0m28-120h0m-4 7h0m-11 134h0m7-10h0m0-53h0m-23-85h0m31 110h0m-15 80h0m5-78h0m0 46h0m8 19h0m-28-24h0m9-162h0m1 178h0m-12-44h0m1 34h0m30 33h0m-18-165h0m15 134h0m-15-66h0m12 144h0m0-20h0m-18-99h0m-5 87h0m5-206h0m25 203h0m-23-102h0m17-111h0m5 158h0m3 41h0m-19-143h0m3 31h0m1 92h0m-3-63h0m20-42h0m-13 76h0m-19-1h0m2-49h0m5 102h0m-7-55h0m22-121h0m-7 184h0m-6-95h0m-5-34h0m-5-47h0m22-7h0m9 22h0m3 74h0m-37 53h0"/>
<path d="M756 1083h0m7 134h0m-5-11h0m20-146h0m-25 176h0m-4-68h0m14-53h0m-16 108h0m14-118h0m1-98h0m10 124h0m-27 117h0m28-87h0m-4-20h0m-6-10h0m4-109h0m-1-31h0m2 251h0m-4-19h0m8-124h0m-27 127h0m9-186h0m16 206h0m-15 29h0m-10-144h0m9-63h0m3-36h0m-3 162h0m12-22h0m10-91h0m-22 18h0m5-5h0m12 0h0m-15 98h0m3 39h0m17-197h0m-18 216h0m21-92h0m-23 59h0m-7-113h0m30 147h0m-12-39h0m-17 40h0m14-65h0m-6-27h0m3-41h0m6 28h0m13 20h0m-30-67h0m18 169h0"/>
<path d="M781 1121h0m-30-92h0m3-41h0m19 241h0m-8-197h0m8 71h0m1 73h0m-13-143h0m6 125h0m-10-62h0m17-84h0m-8 167h0m13 76h0m-16-204h0m-8 140h0m-7-116h0m17 66h0m9-51h0m-30 119h0m13-153h0m10 86h0m3-52h0m6-13h0m-8 12h0m-13-46h0m21 140h0m-13 26h0m17-46h0m-29-105h0m16 123h0m1-3h0m-3-17h0m-7-39h0m8-24h0m-9 104h0m-3-99h0m23 57h0m-26 39h0m29-46h0m-34 10h0m31 33h0m-30-93h0m28-1h0m-10-64h0m15 68h0m-22 102h0m15-116h0m-20 67h0m5 81h0m-2-121h0"/>
<path d="M766 1202h0m0-100h0m-3 96h0m-16-81h0m10 78h0m2-187h0m-14 186h0m17-23h0m-1 22h0m9-100h0m-15 178h0m7-111h0m0-99h0m10 96h0m-1-118h0m-5 176h0m11 31h0m-22-60h0m24-91h0m-7 153h0m-9 5h0m17-94h0m-23 72h0m3-59h0m18-47h0m-23-101h0m-11 53h0m8-62h0m19 111h0m-25 72h0m6-123h0m-2-53h0m-6 156h0m11-117h0m8 31h0m15-78h0m-7 52h0m-4 199h0m9-56h0m-29-48h0m25-52h0m5-14h0m-28-55h0m16 172h0m-1 11h0m15-156h0m1 0h0m-7 8h0m-16 5h0m6 110h0"/>
<path d="M768 1162h0m-18 64h0m29-111h0m-19 85h0m3-76h0m-8-27h0m17 54h0m-3-29h0m8 83h0m-31-172h0m10 186h0m18 11h0m-16-35h0m18-158h0m-8-33h0m-17 31h0m3 202h0m15 24h0m-5-178h0m-1 111h0m15-84h0m-20-42h0m14 81h0m9-183h0m-23 185h0m8-34h0m9-4h0m-6 58h0m5-28h0m-7-117h0m-8 200h0m4-85h0m5 21h0m8-140h0m-6 131h0m1 28h0m-9-44h0m18-63h0m-4 1h0m-17-21h0m6-88h0m-1 34h0m5 102h0m-21-4h0m26 141h0m-29-80h0m5-68h0m23 19h0m-28-25h0m36 59h0"/>
<path d="M778 1061h0m-9 166h0m4-66h0m-2-138h0m-2 122h0m-1-129h0m-17 233h0m-3-11h0m1-30h0m18-57h0m9-154h0m-24 139h0m28-89h0m-23 127h0m-3-5h0m16 96h0m-19-146h0m-6 78h0m-1-54h0m27 66h0m-6-81h0m-13 82h0m27-69h0m-21-50h0m-14 95h0m27-56h0m1 11h0m-7-43h0m-20 7h0m4 5h0m26 139h0m2-29h0m-32-193h0m30 131h0m-20 33h0m-2-107h0m-7 42h0m12 59h0m13-32h0m3 95h0m-12-175h0m15 72h0m-33-55h0m36 34h0m-18-45h0m-2 193h0m20-93h0m-24-59h0m-12-8h0m31-31h0"/>
<path d="M761 1004h0m6 135h0m-18-10h0m31-22h0m-26 24h0m-3-112h0m-2 82h0m9 40h0m16 38h0m-25-80h0m13 94h0m-13-10h0m15 18h0m-18 58h0m15-157h0m-4 16h0m21 74h0m-8-148h0m-3-8h0m-11 65h0m21 129h0m-14-91h0m3-40h0m1 118h0m12-146h0m-4 65h0m-27-110h0m-2 192h0m27-82h0m6-80h0m-33 109h0m9-82h0m8 195h0m7-143h0m-3-17h0m-18-45h0m9-11h0m17 172h0m-27-130h0m6-82h0m-9 64h0m12-58h0m-5 182h0m-5-26h0m15-118h0m5 200h0m3-67h0m8-80h0m-11-18h0m-7-1h0"/>
<path d="M773 1006h0m1 139h0m-28 112h0m4-32h0m25-129h0m-14 34h0m-6-138h0m2 65h0m-7 114h0m14 13h0m-7-6h0m-3-167h0m7 30h0m-11 107h0m25-102h0m-23 172h0m19 72h0m-10-138h0m1-18h0m7-39h0m-8 7h0m-9 111h0m-4-144h0m17 76h0m-15-91h0m14 173h0m5-31h0m-16-24h0m8-96h0m3 93h0m-4-44h0m15-66h0m-19-37h0m1 254h0m-7-183h0m14-28h0m14-87h0m-3 48h0m-29 163h0m31-101h0m-24 14h0m13 148h0m1-78h0m-17 34h0m10-71h0m19 35h0m2 43h0m-15-53h0m-15-62h0m6 160h0"/>
<path d="M746 1204h0m17-97h0m10 162h0m7-162h0m-6 17h0m-1 14h0m-21 56h0m-3-167h0m24-11h0m8 143h0m-26 5h0m-1-72h0m-6 9h0m20 74h0m-23-106h0m9 16h0m8 61h0m9-4h0m2 98h0m-19-166h0m1 106h0m-6-79h0m24-36h0m-3-16h0m-15 38h0m-11-90h0m22 10h0m-5 154h0m-7 5h0m14 23h0m1 69h0m-6-162h0m-14 47h0m2 54h0m0 38h0m7-171h0m16 63h0m-2 136h0m-24-130h0m3 47h0m-5-8h0m6 4h0m25 44h0m-21 54h0m2-101h0m4-143h0m12 72h0m-27-56h0m34-19h0m-15 37h0"/>
<path d="M754 1074h0m12 74h0m1 98h0m-9-23h0m-5-196h0m25 122h0m-19 137h0m10-185h0m11 81h0m-35-58h0m34-57h0m-8 40h0m8 166h0m-16-139h0m-13-83h0m31 95h0m-23-58h0m16 41h0m-26-47h0m15-40h0m7 6h0m6 92h0m-21-103h0m3-46h0m7 243h0m-16-197h0m-1 23h0m2-24h0m3 155h0m1-58h0m-3-1h0m28-31h0m2 143h0m-20-66h0m10-96h0m-23 105h0m33 50h0m-4-47h0m-5 41h0m-1-62h0m2 46h0m-9-85h0m12 34h0m3-171h0m-3 147h0m-1-63h0m-27-30h0m5 56h0m-1-29h0m25-45h0"/>
<path d="M766 1034h0m11 153h0m-7-125h0m-21 84h0m3-147h0m-2 65h0m29-73h0m-6 111h0m5-6h0m-5 41h0m-16-67h0m-8-85h0m23 201h0m-7-141h0m-16 116h0m3 1h0m5 77h0m-4-170h0m-2 10h0m21 138h0m-19-112h0m21 130h0m2-132h0m-5-49h0m-22 43h0m22-72h0m-12 109h0m-12 94h0m15 39h0m16-115h0m-20-79h0m-7-59h0m7 260h0m0-174h0m23-21h0m-4 30h0m-19 81h0m6-182h0m8 189h0m0 38h0m4-135h0m5-39h0m-33-87h0m8 85h0m3 64h0m-6 67h0m-6-209h0m18 242h0m9-166h0m-29 16h0"/>
<path d="M775 1066h0m-8 116h0m2-28h0m-13-48h0m3 52h0m4 119h0m14-140h0m-8 0h0m-14 65h0m-11-110h0m12 124h0m19-41h0m5-89h0m-12-56h0m-6 176h0m6 33h0m-8-94h0m3-79h0m-5 37h0m-11-31h0m21 30h0m-13-121h0m13 17h0m-5 94h0m-18-11h0m17-39h0m9 93h0m0 18h0m4-104h0m-11 125h0m7-18h0m-2 0h0m7-52h0m5 107h0m-26-101h0m5 3h0m-9-67h0m12-19h0m-12 195h0m28 3h0m-12-46h0m7-97h0m-1-21h0m-8 54h0m6-61h0m-22 177h0m20-101h0m9 63h0m-11 82h0m8-309h0"/>
<path d="M772 1078h0m-22-40h0m24 7h0m-10 40h0m-11-49h0m28 113h0m-14 19h0m-6-53h0m1 19h0m-10 22h0m14-28h0m8-58h0m1-9h0m-15 68h0m-11 33h0m24-93h0m-6 50h0m-15 56h0m-2-62h0m7 4h0m-9 32h0m22-18h0m-3 37h0m0 61h0m6-238h0m0 191h0m-9-147h0m-1 119h0m8 80h0m-26-4h0m27-3h0m-24-187h0m30 107h0m-4 3h0m6-15h0m1-30h0m-8-44h0m-9 208h0m-18-116h0m27 9h0m-5-110h0m-23-63h0m35 117h0m-15-57h0m2 150h0m0-105h0m-19 166h0m13-156h0m9-5h0m-7 165h0"/>
<path d="M754 1062h0m10 102h0m4-201h0m-12 170h0m24-66h0m-11 123h0m-3 36h0m11 45h0m-25-204h0m-5 124h0m17-72h0m11 38h0m-4-65h0m-13 69h0m-11-65h0m8-97h0m7 138h0m-14 41h0m7-134h0m4 171h0m18-57h0m-29-21h0m19 36h0m2 19h0m-12-57h0m8 46h0m-5-132h0m8 27h0m2 51h0m6 34h0m-32-16h0m29-5h0m-18-47h0m-5-9h0m26 111h0m-32 43h0m10-36h0m21-117h0m-23-6h0m29 55h0m-17 16h0m-20-90h0m26 31h0m-20-47h0m6 69h0m-8 47h0m14 12h0m19 23h0m-34-156h0m16 85h0"/>
<path d="M765 1061h0m-12 82h0m22-3h0m-14 0h0m-6-163h0m-9 230h0m12 38h0m0-150h0m-1 167h0m-9-62h0m0-154h0m31 138h0m-25-46h0m23-52h0m-11 85h0m-11 99h0m9-40h0m-17-83h0m21-19h0m5-5h0m5-9h0m-23-43h0m-2-71h0m0 196h0m13-64h0m-14-21h0m7-36h0m-10 7h0m-3 98h0m15-191h0m12 95h0m-7 71h0m-8-103h0m-3 86h0m1 107h0m17-118h0m1 2h0m-15 18h0m-8-3h0m-1 46h0m19-153h0m-16 67h0m2-24h0m16 127h0m2-164h0m-26 220h0m13-255h0m18 120h0m-29 18h0m12 37h0"/>
<path d="M756 1108h0m25 75h0m-5-22h0m-26-28h0m13-121h0m-7 18h0m-4 99h0m17 54h0m5-31h0m6-166h0m-4 225h0m-1-99h0m-24 18h0m8-59h0m-11-42h0m8 195h0m13-41h0m-16-13h0m19-50h0m-4-117h0m-23 192h0m4 43h0m4-210h0m-4 214h0m0-203h0m27 100h0m-30 41h0m24 18h0m-6-61h0m15-114h0m0 202h0m-6-37h0m-19-17h0m14-16h0m-1-36h0m-11-60h0m24 75h0m-15 76h0m-13-201h0m14 225h0m6-219h0m5 73h0m-23 182h0m4-179h0m-2 22h0m4 159h0m-1-223h0m-4 57h0m23 8h0m-33-162h0"/>
<path d="M749 1101h0m9 15h0m11-16h0m4 78h0m-9-62h0m-9 151h0m-10-79h0m5-101h0m14 105h0m5 65h0m-9-220h0m9-19h0m6 56h0m-3 22h0m-27 8h0m22 16h0m-12-69h0m14 104h0m12 106h0m-36-108h0m17 14h0m-4-28h0m-6 67h0m13-52h0m12 27h0m-1-99h0m3 53h0m-20-145h0m19 166h0m-9 83h0m3 6h0m-22-207h0m12-53h0m18 101h0m-25 7h0m15 127h0m-6-167h0m-9-23h0m1 222h0m23-173h0m-3 98h0m4-11h0m-14 96h0m1-54h0m-19-32h0m4-34h0m8-9h0m-10-70h0m23 94h0m-15 57h0"/>
<path d="M773 1086h0m4 155h0m-15 31h0m17-155h0m-9-56h0m-21 62h0m16-59h0m-20-72h0m23 63h0m-11 87h0m12 15h0m-16-58h0m13-10h0m4 80h0m-16-98h0m-6 42h0m14 6h0m-10 42h0m15-145h0m3 75h0m4 100h0m-21-9h0m2 19h0m8 12h0m-19-214h0m27 84h0m5-13h0m4 70h0m-3-6h0m-27-86h0m24-73h0m-7 106h0m-17 90h0m15 74h0m1-134h0m-10-29h0m19 103h0m-19-12h0m25-32h0m-33 57h0m32-30h0m-27-159h0m1 109h0m8 159h0m15-90h0m-32-6h0m27-106h0m-10-28h0m13 183h0m-20-258h0"/>
<path d="M754 1075h0m7-24h0m-15 247h0m31-276h0m-22 2h0m17 35h0m-11 138h0m-11-163h0m24 205h0m-27-77h0m30-47h0m-31 179h0m15-192h0m-3 47h0m19 23h0m-23 37h0m0 19h0m-9-177h0m34 127h0m-30-174h0m20 270h0m-22-281h0m20 90h0m-3 28h0m11-26h0m0 106h0m-19-55h0m8-60h0m-6 90h0m16-148h0m-22 203h0m24-101h0m-31 110h0m31-180h0m-27-16h0m2 35h0m26 114h0m-8 53h0m-9-14h0m18-153h0m-16 79h0m4 97h0m7-184h0m-1 199h0m-13-115h0m18 11h0m-32-44h0m3-21h0m4 46h0m-7 42h0"/>
<path d="M769 1059h0m-16 116h0m25-40h0m-16 104h0m-3-63h0m18-34h0m-31 27h0m24-164h0m-11 46h0m-7 154h0m-3-36h0m-1-27h0m29-134h0m-15 84h0m-10 30h0m24 12h0m5-23h0m-26 104h0m23-108h0m-34-130h0m21 117h0m-3 58h0m11-58h0m6-45h0m-28-23h0m27 28h0m-8 41h0m2 53h0m-12-176h0m-1 201h0m-13-47h0m32-101h0m3 173h0m-31-151h0m14 245h0m-17-123h0m-1-27h0m3 28h0m5-151h0m-9 63h0m22 48h0m11 66h0m-21 110h0m5-137h0m-11 52h0m24-107h0m-18-141h0m14 152h0m-14-86h0m18 116h0"/>
<path d="M759 1198h0m-9-114h0m23 66h0m-16-153h0m9 140h0m-7-95h0m12 87h0m3-58h0m-1 27h0m-16-44h0m11 221h0m-2-229h0m-1 68h0m-5-16h0m1-27h0m13 41h0m-29-36h0m29 134h0m-21 11h0m-3-159h0m-3 93h0m30 118h0m-14-177h0m7-119h0m10 135h0m-12 23h0m-15-45h0m-1 106h0m24-88h0m-12 4h0m7 2h0m-23 111h0m29-123h0m-25 145h0m3-147h0m-1-21h0m10-41h0m-12 109h0m29-82h0m-12-21h0m-5 23h0m9 99h0m-6 102h0m6 3h0m-26-3h0m27-167h0m-7 65h0m-4-54h0m-13-86h0m-1 105h0"/>
<path d="M766 1056h0m-9 104h0m23-72h0m-9 20h0m-22 13h0m5 119h0m-5-69h0m21-51h0m-22 116h0m-2-104h0m20 74h0m13-224h0m-22 194h0m7-13h0m-11-176h0m25 47h0m-27 201h0m9-97h0m-11 46h0m1-65h0m29-60h0m-14 167h0m8-116h0m1-25h0m-21 47h0m-8-30h0m2 29h0m10 44h0m4-60h0m-13-23h0m-3 64h0m5 96h0m-1-241h0m18 35h0m-15 249h0m22-47h0m3-225h0m-29 66h0m24 89h0m-3-130h0m-24 47h0m14-20h0m-12 21h0m9 62h0m0-96h0m16 110h0m-14-41h0m17 59h0m-10-68h0m-11 75h0"/>
<path d="M778 1064h0m-25 106h0m22-81h0m1 201h0m-12-310h0m9 257h0m-10-183h0m3 107h0m-20 83h0m17 23h0m0-137h0m-14-78h0m24 150h0m7-82h0m-6 50h0m7-12h0m-5 53h0m-20-106h0m10 91h0m-18 42h0m10-53h0m-5-187h0m11 33h0m10 48h0m-5-59h0m3-6h0m4 40h0m-28 104h0m12-128h0m13 14h0m-26 231h0m31-209h0m-19 179h0m7-197h0m-22 112h0m6-83h0m1-4h0m10 74h0m-4 11h0m2 112h0m-9-217h0m-4 142h0m23-49h0m10-46h0m-17 65h0m-14-52h0m28-115h0m-17 14h0m12 4h0m-21 134h0"/>
<path d="M745 1073h0m11 169h0m-4-106h0m25-74h0m-2 62h0m5-112h0m-16 94h0m-14 60h0m14-67h0m1 150h0m7-122h0m-9 7h0m2 48h0m-10-85h0m16 43h0m-21-38h0m14-19h0m-5 0h0m-1-22h0m21 72h0m-21-83h0m15 50h0m-2-105h0m-2 163h0m-6 88h0m5-170h0m-10 25h0m14 105h0m8-117h0m-19 155h0m-11-162h0m2 17h0m13 20h0m-18 68h0m6-50h0m13-79h0m-3 83h0m8-26h0m2 135h0m-9-114h0m-19 0h0m16-20h0m-15 113h0m-2-115h0m11 31h0m24-163h0m0 142h0m-18 104h0m-12-66h0m6 117h0"/>
<path d="M745 1198h0m10-78h0m0-45h0m9-85h0m3 191h0m-17-42h0m7 16h0m13-95h0m-17 125h0m15-51h0m1 139h0m-24-206h0m4 18h0m32 11h0m-18-102h0m-6-22h0m10 84h0m-17 29h0m13 109h0m-8-57h0m21 28h0m-4-79h0m5 34h0m-11-12h0m7 38h0m-1-131h0m0 82h0m-12-31h0m-5 1h0m-7 105h0m17 4h0m-10-29h0m-6-133h0m15 248h0m-9-176h0m1 34h0m-8 84h0m19-164h0m6 109h0m-17 13h0m17 10h0m0-49h0m-12 22h0m9-33h0m-17 19h0m7 108h0m6-100h0m-9 115h0m9-145h0m-18 7h0"/>
<path d="M775 1172h0m-11-71h0m-10 137h0m2-145h0m21 36h0m2-60h0m-6 158h0m-15-131h0m-8 162h0m8 14h0m-1-122h0m22 23h0m-1-162h0m-7-3h0m-26 32h0m22 93h0m12-2h0m-14 85h0m5-70h0m-24 118h0m18 28h0m-4-233h0m-7-8h0m-3-65h0m9 32h0m14 73h0m-14 17h0m9 36h0m9 62h0m-28-120h0m27 41h0m-5 131h0m-8 13h0m8-261h0m0 60h0m-13 56h0m-9-49h0m20 4h0m-3 75h0m-10-54h0m4-136h0m19 90h0m-4 5h0m6-35h0m-22 197h0m-1-67h0m5-23h0m5 59h0m13-54h0m-11-20h0"/>
<path d="M778 1191h0m-32-220h0m18 191h0m-15 30h0m3-196h0m4 135h0m7-30h0m-1-28h0m-17-2h0m12 201h0m19-178h0m-30 65h0m5-143h0m30 62h0m-18 78h0m-11 11h0m-2 14h0m23-65h0m-28 5h0m1 44h0m23 72h0m-15-52h0m7-33h0m-2-157h0m-4 239h0m21-253h0m-22 118h0m9-1h0m-17-53h0m0-9h0m-1 184h0m2-51h0m4-57h0m29 107h0m1-112h0m-11-40h0m-11 11h0m2-68h0m18 21h0m-32 13h0m13 8h0m-4 128h0m1-135h0m23 73h0m-6 35h0m-25-22h0m28 48h0m-5 66h0m-9-54h0m-13-146h0"/>
<path d="M759 1047h0m19 180h0m-1-199h0m-28 81h0m31 193h0m-16-152h0m15-40h0m-34 80h0m8-35h0m3-111h0m-1 101h0m20-70h0m-17 46h0m17 35h0m-2-159h0m-25 194h0m-3-97h0m9-50h0m0-30h0m13 76h0m-9-36h0m23 105h0m-14-36h0m6-3h0m7-19h0m-31-109h0m21 35h0m-19 81h0m4 25h0m20 14h0m-15-144h0m6 60h0m9 34h0m-25-20h0m23 49h0m-12-136h0m-13 204h0m21-119h0m2 189h0m-15-231h0m7 180h0m-12-23h0m14 8h0m-21-70h0m5-37h0m-4-70h0m29 59h0m-9-30h0m-16 19h0m-4-48h0"/>
<path d="M766 1147h0m-15-32h0m8 60h0m5-19h0m9 53h0m-20-127h0m22 169h0m-16-241h0m-2 217h0m20-90h0m3-37h0m-21 50h0m20-74h0m-10 112h0m-19-136h0m25-61h0m-6 263h0m9-245h0m-17 137h0m3-18h0m-6 94h0m23-150h0m-4 105h0m-26-180h0m0 25h0m9 125h0m17-101h0m-1-86h0m-28 139h0m22 58h0m-22-141h0m2 141h0m11 78h0m6 17h0m-11-25h0m-1-62h0m-7 46h0m32-113h0m-36-13h0m25 20h0m-23 70h0m34-179h0m-15 93h0m-8 100h0m12-98h0m-19-51h0m28 85h0m-23 9h0m16 132h0m9-14h0"/>
<path d="M771 1069h0m-17-99h0m2 168h0m-10-34h0m34 42h0m-2 56h0m-17-193h0m0 105h0m14-56h0m-11 151h0m0-90h0m-5-75h0m-9 252h0m7-129h0m3-38h0m19 23h0m-13-85h0m-16 47h0m24 121h0m2-168h0m0 53h0m-19-47h0m8 53h0m4 117h0m-17-131h0m20-8h0m6-19h0m-33-111h0m8 233h0m23-132h0m-26 113h0m-4-137h0m16 39h0m5 65h0m8-38h0m-26 89h0m2 17h0m-1-103h0m31 63h0m-24-67h0m7 110h0m-9-64h0m-5-134h0m29 27h0m-32 197h0m18-108h0m-12-25h0m-8 86h0m8-8h0m11 58h0"/>
<path d="M756 1089h0m-4-73h0m-5 127h0m17-18h0m-10 173h0m14-271h0m-3 48h0m-17 132h0m1-41h0m4 81h0m13-119h0m-14-79h0m0 108h0m21-29h0m1-78h0m-27 144h0m16-32h0m-16 57h0m5-131h0m5 36h0m-7-108h0m5 80h0m-8 89h0m21-105h0m4 144h0m-2-88h0m11-83h0m-28 55h0m18 2h0m-22-41h0m2-69h0m22 130h0m-1-78h0m-18 95h0m17-117h0m5 51h0m-10 78h0m-2 6h0m13-124h0m-18-47h0m2 158h0m-11-77h0m26 116h0m4-101h0m-30-37h0m-3 82h0m14 62h0m0-105h0m17-16h0m-7 125h0"/>
<path d="M778 1119h0m-26-84h0m4 230h0m15-140h0m-23-33h0m20 138h0m-16-130h0m15 9h0m-1 32h0m-6 23h0m20-14h0m-24-15h0m13 44h0m-23-106h0m16 133h0m-8-19h0m12 46h0m10-59h0m-9-17h0m-3-93h0m9 98h0m-21 12h0m16-3h0m1-66h0m10 116h0m-18-5h0m-7 9h0m0-72h0m-9 31h0m32-103h0m-6 27h0m-1 7h0m-20 94h0m10 46h0m12-118h0m-9 20h0m14-40h0m-24-10h0m6-56h0m9 4h0m-2 16h0m9 164h0m6-56h0m-8 37h0m-17 64h0m-6-254h0m-3 116h0m6-85h0m8 73h0m-5 173h0"/>
</g>
<use href="#v14" fill="none" stroke="#111" stroke-width="1.1" stroke-linejoin="round"/>
<rect x="747.2" y="1131.9" width="31" height="3.4" fill="#fff"/>
<use href="#v15" fill="#8C80C0"/>
<g stroke="#000" stroke-opacity="0.311" stroke-width="4.8" stroke-linecap="round" fill="none">
<path d="M826 1147h0m0 6h0m-34-114h0m26 23h0m-5-49h0m-12 134h0m20 70h0m3-111h0m0 44h0m2 12h0m-32-1h0m12 16h0m-15-115h0m26 52h0m6 99h0m-31-47h0m11-39h0m1 18h0m-2 65h0m4-88h0m6-66h0m-9-25h0m6 40h0m16-59h0m-24 136h0m-3-54h0m13 53h0m-15-3h0m4-94h0m26 67h0m-22-10h0m-2 92h0m18-203h0m-5 136h0m-11 10h0m5 11h0m6-66h0m-2 103h0m-17-142h0m19 205h0m-11-136h0m17-108h0m-22 109h0m7-1h0m13 100h0m-7-44h0m-1 16h0m-7-36h0m-1 61h0m3-65h0"/>
<path d="M815 1141h0m-3-9h0m8 110h0m3-99h0m-20 55h0m-3-79h0m3-60h0m-10-63h0m6 272h0m25-197h0m1-51h0m-2 147h0m-4-92h0m-22 20h0m19 38h0m-7 50h0m14-137h0m-27 147h0m13-59h0m-5 122h0m13-220h0m2 187h0m-9-144h0m-10 41h0m-8 60h0m24 5h0m-12-119h0m-1-111h0m-3 75h0m4 131h0m-6-20h0m17 93h0m-10-95h0m16 19h0m6-68h0m-35 39h0m8-118h0m11 162h0m-2-20h0m7-11h0m1-11h0m-9-65h0m-16 155h0m19-113h0m0 18h0m15-23h0m-8-54h0m-19 69h0m20 123h0m8-156h0"/>
<path d="M822 1159h0m-3-45h0m-2-64h0m-16 76h0m27-18h0m-3 42h0m-27-45h0m30-57h0m-11 89h0m-17 38h0m23-146h0m-5 76h0m1 14h0m-10-18h0m6 59h0m6-58h0m-14 159h0m-15-20h0m12-100h0m2 19h0m-7-24h0m15-93h0m2 84h0m-12-19h0m1 159h0m22-136h0m-20-30h0m0 102h0m-9-89h0m21 51h0m-14-18h0m-14 94h0m23-116h0m1-44h0m-2 8h0m12-7h0m2-87h0m-25 231h0m-2 39h0m-2-65h0m6-70h0m21-19h0m-32 85h0m24-254h0m5 157h0m-24 20h0m25 55h0m-29-164h0m28 116h0m4 90h0"/>
<path d="M797 1090h0m23 28h0m8 27h0m-4-96h0m0 152h0m-29-54h0m32-77h0m1 80h0m-26 8h0m20-90h0m-15-139h0m14 91h0m-21 168h0m15-143h0m-23 18h0m25-2h0m-20 106h0m3-37h0m1-106h0m0 107h0m8-30h0m-10 72h0m17-30h0m-2 22h0m-21 37h0m14-10h0m8-133h0m10-43h0m-5 87h0m-12-106h0m5 76h0m12 106h0m-22 15h0m24 19h0m-2-78h0m-28 121h0m31-117h0m-1-10h0m-36-106h0m8 116h0m7 24h0m19-100h0m-18 125h0m1-6h0m7 34h0m12-123h0m-27 120h0m10-129h0m15 44h0m-25-30h0"/>
<path d="M827 1271h0m-36-241h0m12 172h0m17 59h0m-17-131h0m25 80h0m-15-104h0m-7-90h0m-5 151h0m-4 37h0m5-68h0m3-5h0m12 58h0m-6-48h0m16-1h0m-6-126h0m-18 4h0m7 245h0m-17-179h0m-1 56h0m10 29h0m17-110h0m-8 49h0m3-41h0m8 26h0m2 144h0m-7-180h0m-11 174h0m-2-94h0m9-120h0m9 41h0m-5 15h0m9 46h0m-14-120h0m-12 53h0m-5 108h0m16-80h0m10-47h0m-6 132h0m1-41h0m7 66h0m0-76h0m-6-80h0m-15 104h0m-1-77h0m3-36h0m12 86h0m10 125h0m-24-92h0m15-62h0"/>
<path d="M828 1200h0m-8-25h0m-1-100h0m-10 72h0m-4 55h0m5 55h0m-6-203h0m19-62h0m-31 144h0m12 92h0m-1-95h0m23 97h0m-13-31h0m5-64h0m1-107h0m-22 173h0m29-119h0m-23 80h0m13-91h0m-12 166h0m9-105h0m12 126h0m-32-87h0m0 102h0m-2-56h0m15-176h0m16 99h0m-11 110h0m12-6h0m3-46h0m-30 8h0m14-184h0m12 158h0m-26-123h0m10 96h0m-4-76h0m22-150h0m-2 232h0m-23-130h0m20 160h0m-26-130h0m25-39h0m-25 50h0m1 142h0m-3-107h0m17 81h0m-12-82h0m27-54h0m-22 86h0m25 73h0"/>
<path d="M821 1250h0m-1-93h0m-25-93h0m21 137h0m-15-29h0m1-70h0m-3-35h0m11 193h0m16-131h0m-5 51h0m-12-54h0m-10-76h0m16 193h0m10-158h0m-26-83h0m-6-34h0m23 198h0m-25-99h0m32 91h0m-22-14h0m14 23h0m-3-23h0m9 57h0m-18-50h0m4-62h0m5-56h0m0 179h0m-19-70h0m9-15h0m21 11h0m-3 19h0m-14-26h0m-14 44h0m14-88h0m-7 25h0m19-28h0m-17 37h0m5-57h0m8 157h0m2-157h0m6 149h0m-5-62h0m-7 10h0m-12-92h0m1 26h0m4 51h0m1 26h0m20-39h0m-16-15h0m-5 65h0"/>
<path d="M791 1066h0m29 95h0m-22 105h0m16-88h0m2 21h0m-21-162h0m24 25h0m-24 43h0m23-33h0m1 11h0m3 170h0m-6-170h0m8 64h0m-8 79h0m2-158h0m-15 56h0m26 45h0m-4-45h0m-9-37h0m-11-35h0m4 77h0m16 18h0m-8 69h0m-21-194h0m18 162h0m-17-44h0m20-86h0m-20 29h0m9 133h0m10-57h0m10-132h0m-15 176h0m-19 41h0m29-16h0m-16-129h0m-10-6h0m10-59h0m3 204h0m13-94h0m-27-29h0m3 15h0m-1 22h0m6-56h0m16-54h0m6 105h0m-22-33h0m7 53h0m3-109h0m-18-56h0m1 179h0"/>
<path d="M797 1201h0m23 50h0m7-49h0m-16-108h0m-10 36h0m25 81h0m-19-60h0m-13-11h0m-1-72h0m30-33h0m-11 30h0m10-14h0m2 168h0m1-210h0m-6 75h0m8 124h0m-1-71h0m-9 80h0m-18-116h0m4-12h0m4-12h0m7 76h0m0-33h0m-18-56h0m2 68h0m27-52h0m-11 180h0m10-187h0m-30-78h0m-1 26h0m11 113h0m-10 33h0m7-39h0m22-138h0m-28 66h0m12 117h0m-14-22h0m5-24h0m18 32h0m-13-2h0m-3-75h0m20 48h0m4 19h0m-16-28h0m2-14h0m12 63h0m-2-68h0m5 50h0m-33-20h0m27 13h0"/>
<path d="M794 1231h0m22-245h0m-4 88h0m3 70h0m-15 17h0m14 33h0m-10-74h0m3 117h0m16-50h0m-2 46h0m-8 4h0m-16-81h0m31-96h0m-33 137h0m16-199h0m3 89h0m-21 10h0m10 94h0m15-90h0m-9 33h0m3-58h0m-6 180h0m19-209h0m-13 137h0m-5-122h0m14 146h0m-2-94h0m-18 15h0m9-46h0m-7 98h0m23-51h0m-25-67h0m16 112h0m-3-51h0m-10 39h0m14 17h0m8-48h0m-24 43h0m2-38h0m10-47h0m-2-4h0m-18 49h0m11 1h0m13-87h0m-11 152h0m-7-84h0m-2 30h0m14 29h0m-18 20h0m0-79h0"/>
<path d="M809 1230h0m7-53h0m-17-92h0m29-24h0m-18 87h0m3 37h0m-20 46h0m13-166h0m-12 95h0m-2-28h0m15-103h0m-9 75h0m-6 7h0m9 66h0m22-32h0m0-65h0m5 143h0m-19-128h0m-4 72h0m11-71h0m-21 111h0m32-75h0m-33 64h0m14-131h0m17 26h0m-9 162h0m-15-126h0m4 97h0m19-92h0m-28 49h0m8-43h0m3 13h0m-11-83h0m31 86h0m-1-70h0m-4 110h0m-30-12h0m8-7h0m28 2h0m-11-91h0m-2 160h0m1-169h0m-7 101h0m-17-65h0m22 150h0m-21-93h0m15-21h0m-17 9h0m3-84h0m32-7h0"/>
<path d="M795 1035h0m33 20h0m-6 188h0m-18-110h0m18 108h0m0-77h0m-26-36h0m0-36h0m12-75h0m1 76h0m19 11h0m-35 7h0m17 124h0m-16-165h0m31 149h0m-22-127h0m-5 19h0m4-74h0m26 1h0m-35-34h0m17 200h0m0-8h0m2 27h0m14-9h0m-12-9h0m-17-51h0m13-34h0m-9 59h0m7 20h0m-13-24h0m12-9h0m17-114h0m0-13h0m-18 101h0m-12-37h0m32-57h0m-31 102h0m24-71h0m-22 93h0m14-37h0m4 95h0m-22-153h0m25-39h0m-20 68h0m12-47h0m-4 111h0m15 58h0m-27-162h0m6 102h0m3-96h0"/>
<path d="M826 1007h0m-3 24h0m-27 2h0m27 136h0m5-11h0m-29-91h0m9-13h0m-8 84h0m-1-15h0m24 38h0m0-17h0m-2-95h0m7 138h0m-30-28h0m-2 14h0m22-142h0m-19 73h0m-3-5h0m30-65h0m-1 174h0m-17-36h0m1-45h0m10-65h0m-16-9h0m24 12h0m-12 83h0m-8 14h0m13 5h0m-8-143h0m11 39h0m-24-70h0m7 212h0m-8-92h0m23-86h0m-17 150h0m2 31h0m21-16h0m-29-3h0m4-121h0m24 42h0m-9 87h0m-5-57h0m12 1h0m-21 60h0m-11-117h0m33 75h0m-5-69h0m-17 5h0m13 22h0m-19 20h0"/>
<path d="M808 1221h0m13-87h0m-4 90h0m0-63h0m-2-9h0m-10-95h0m7 183h0m16-94h0m-25-72h0m12 122h0m3 16h0m-3-21h0m-13 0h0m-10-43h0m23 14h0m0-12h0m-2 97h0m10 21h0m-22-74h0m18-73h0m-11 139h0m-6-132h0m5-48h0m21-77h0m-19 195h0m7-121h0m8 123h0m-33-154h0m10 118h0m-7-143h0m27 179h0m-8-44h0m-5 38h0m-7-26h0m25-92h0m-24 114h0m-6 73h0m32-45h0m-21-121h0m-13-61h0m8 82h0m23-70h0m-7 33h0m-10-47h0m13 88h0m-22 24h0m14-25h0m6-14h0m-21-111h0m5 107h0"/>
<path d="M817 1249h0m5-113h0m3 23h0m-20 6h0m2-37h0m15-49h0m3 6h0m-20 20h0m-1 77h0m0-28h0m14 2h0m-16-91h0m-4-55h0m0 150h0m6 37h0m24-151h0m-30 185h0m1-3h0m17-3h0m-12-83h0m-5-95h0m9 58h0m6 37h0m-23-77h0m30 109h0m-27-25h0m25-22h0m-27 33h0m2-212h0m26 135h0m-26 5h0m31-50h0m-32 4h0m18 110h0m3-96h0m-17 47h0m-3-57h0m18 48h0m16-39h0m-25 63h0m4 4h0m4 147h0m-13-90h0m2 56h0m3-122h0m15 119h0m-14-121h0m-5 33h0m-3-80h0m28 109h0"/>
<path d="M800 1215h0m16-24h0m-2-163h0m-11 105h0m16 116h0m-13-171h0m1 110h0m1-206h0m7 117h0m2-18h0m-14 92h0m21 66h0m0-195h0m-26 198h0m24-185h0m-5 115h0m-20-79h0m22-69h0m-19 151h0m22-178h0m-20 108h0m19 65h0m-7-169h0m-4 99h0m7 146h0m4-60h0m-3 18h0m-25-165h0m21 62h0m-12 81h0m8 14h0m-12-23h0m5 99h0m3-188h0m2 152h0m7-170h0m-9 167h0m9-149h0m-8 76h0m-12-49h0m-3-47h0m0 70h0m9 56h0m22-54h0m-15 23h0m14 1h0m-12 74h0m-18-83h0m27-6h0m-28-48h0"/>
<path d="M823 1071h0m-20 23h0m17-37h0m-13 30h0m5 9h0m-21-17h0m11 76h0m3 67h0m7-149h0m16-45h0m0 88h0m-7 125h0m-26-55h0m22 42h0m1-34h0m-4-99h0m-22 90h0m5-93h0m0 59h0m-4 9h0m16 54h0m-15-42h0m32-103h0m-3 110h0m-5-59h0m-18-58h0m19 66h0m-27-44h0m9 112h0m8 28h0m-6-152h0m15 158h0m8-35h0m-23 9h0m0-47h0m3 48h0m19-139h0m2-14h0m-8-29h0m0 196h0m-17-177h0m-5 7h0m-5 123h0m22 71h0m8-87h0m-30-86h0m31 109h0m-28 83h0m15-215h0m-16 126h0"/>
<path d="M817 1175h0m4 78h0m-21-296h0m12 272h0m12-97h0m-22 32h0m-6-52h0m29 133h0m-13-48h0m15-10h0m-26-121h0m-10 39h0m1 29h0m34-76h0m-3 106h0m-12-97h0m-7-29h0m13-45h0m-17 194h0m26-152h0m-1 85h0m-18 24h0m12-49h0m5-80h0m-33 21h0m1 164h0m9-62h0m22 79h0m-20 33h0m10-239h0m0 48h0m-14-81h0m3 185h0m1-37h0m4 35h0m14-23h0m-2 45h0m9 30h0m-30-126h0m17 23h0m11 82h0m-12-119h0m1 107h0m-8-22h0m11-64h0m5-14h0m0 9h0m-10 31h0m3-27h0m-4 131h0"/>
<path d="M810 1124h0m-18 105h0m32-37h0m-8-82h0m10-18h0m-6 71h0m3-38h0m-11-10h0m11 77h0m-6 45h0m-26-167h0m23-32h0m-22 188h0m18-56h0m-15-63h0m0-68h0m22 183h0m10-146h0m-20 52h0m-7 25h0m20-146h0m-19 23h0m10 161h0m-15-30h0m24 9h0m-6-59h0m-22 105h0m13-54h0m5 58h0m-14-152h0m0-69h0m24 69h0m-21 116h0m26-43h0m-21 50h0m20-97h0m-31 110h0m32-51h0m-24 113h0m27-136h0m-36-49h0m21-65h0m-8 130h0m21 102h0m-9-50h0m-13-55h0m16 83h0m-14-42h0m19 51h0m-25-262h0"/>
<path d="M798 1037h0m-6 164h0m12-183h0m-11 108h0m8 121h0m-8-19h0m2-179h0m28 106h0m-19 88h0m5-101h0m-6 54h0m-3-17h0m13 79h0m2-229h0m0 121h0m-21-19h0m26 60h0m8-24h0m-28-109h0m-1 148h0m-4-69h0m2 61h0m6 62h0m21-65h0m-14-106h0m-7 12h0m14 12h0m-18 73h0m-1-75h0m25-79h0m-17-22h0m-11 58h0m4 21h0m0 139h0m25-29h0m-16-170h0m17 45h0m-1 18h0m-18-1h0m-8 81h0m-7 23h0m5-149h0m6 188h0m19-157h0m2 108h0m-22-164h0m11 178h0m-6 2h0m20-197h0m-7 144h0"/>
<path d="M795 1077h0m-4-48h0m35 156h0m-32-11h0m21-27h0m-1-3h0m-14 106h0m8-23h0m0-56h0m2-65h0m-16 41h0m2-65h0m0 120h0m7-123h0m-6-25h0m0 59h0m5 24h0m9 51h0m7-145h0m-4 33h0m12-85h0m-6 64h0m6 89h0m-20-63h0m-3 103h0m14-145h0m-19 17h0m19 93h0m3 43h0m-2-113h0m-12 19h0m-13 54h0m12-4h0m7 57h0m-2 2h0m-1-102h0m-8 66h0m-8-87h0m33 192h0m-5-127h0m-18 72h0m-12-117h0m21-27h0m-20 54h0m33 59h0m1-118h0m-2 2h0m-1 170h0m-27-105h0m13-31h0"/>
<path d="M796 1047h0m22 34h0m3-16h0m-9 105h0m-14-72h0m15 5h0m8-9h0m-22 113h0m-7-52h0m20 5h0m10-121h0m-4-26h0m-7 165h0m-18-24h0m30 107h0m-4-48h0m-5-102h0m1 8h0m-5 128h0m-8-46h0m-6-65h0m-3-19h0m15 54h0m5-84h0m1-33h0m-7-5h0m-3-27h0m22 111h0m-28 7h0m11 10h0m11-25h0m-2 69h0m9-153h0m1 47h0m-32 51h0m21-17h0m-18 4h0m28 96h0m-1-28h0m-3 11h0m-26-105h0m-4-51h0m10 68h0m-6 19h0m30-49h0m-9 44h0m-19-28h0m1 29h0m-7 134h0m35-135h0"/>
<path d="M801 1187h0m-8-25h0m35-79h0m-6-66h0m1 200h0m-22-33h0m-5 25h0m5-64h0m18 5h0m-16-94h0m3 24h0m-4-105h0m16 129h0m-8-5h0m-7 1h0m1 131h0m6-135h0m11 6h0m-15 81h0m6 50h0m4 44h0m9-273h0m-34 236h0m31-285h0m-29 291h0m28-13h0m-13-121h0m-2 80h0m8-72h0m-19-36h0m3 61h0m24-99h0m-8 193h0m-5-187h0m-14-108h0m33 129h0m-36 126h0m31 11h0m-24-36h0m-5-21h0m14 7h0m18 17h0m-25-95h0m13 163h0m-23-129h0m28 165h0m2-184h0m-29 139h0m11-98h0m5-95h0"/>
<path d="M819 1007h0m-1 125h0m1 40h0m-1-54h0m7-82h0m-6 103h0m-11-20h0m-12 5h0m-2 51h0m7-6h0m23 65h0m1-149h0m-15-15h0m2 134h0m-18-85h0m5-8h0m21 138h0m6-174h0m-10 101h0m6 10h0m-24-80h0m3 36h0m-8-41h0m27 107h0m-7-90h0m8-131h0m1 194h0m-13-129h0m19 10h0m-13 157h0m-5-142h0m18 44h0m-15-15h0m-2 54h0m-9-137h0m4 101h0m10 74h0m-16-67h0m5-117h0m-5 112h0m-7-37h0m8 64h0m4-129h0m5 239h0m3-215h0m-2 96h0m-12-106h0m23 159h0m-7-99h0m-6 157h0"/>
<path d="M820 1239h0m-7-77h0m-2 2h0m-8-8h0m17 79h0m-20-141h0m22-44h0m-24 80h0m4 60h0m13-102h0m-20 56h0m17 83h0m3-111h0m-11-72h0m18 147h0m-19-3h0m10 36h0m-2-68h0m15-15h0m-16 58h0m-5 35h0m2-172h0m9 78h0m5-44h0m5 76h0m-15-70h0m-16-112h0m14 162h0m17 32h0m-22 2h0m-12-51h0m14-6h0m1 20h0m-13 33h0m3 36h0m-2-230h0m17 149h0m1 19h0m-12 20h0m8 45h0m13-55h0m-16-77h0m8-38h0m-7 205h0m-7-203h0m-4 6h0m-2 18h0m18 72h0m8-29h0m-27 71h0"/>
<path d="M792 1189h0m2-118h0m10 163h0m6-49h0m6-62h0m-16 32h0m-7 19h0m27-72h0m-20 163h0m13-133h0m-18-39h0m16-40h0m-19 201h0m18-168h0m8 72h0m10-121h0m-32 144h0m0-72h0m9-47h0m-8 110h0m-1-43h0m25 130h0m-19-128h0m24 70h0m-33-38h0m-1-90h0m13 90h0m18 15h0m-15-54h0m17-4h0m0-59h0m-11 182h0m5-157h0m-26 11h0m25 71h0m-25-80h0m1 60h0m11-91h0m11-14h0m-21 148h0m17-93h0m-14 91h0m13-123h0m2 32h0m-6 134h0m11-100h0m-26-39h0m6-7h0m23 35h0m-18-171h0"/>
<path d="M818 1151h0m-17-143h0m0 213h0m-3-30h0m19 5h0m-25-71h0m36-5h0m-4 35h0m-5 17h0m5 83h0m-13-190h0m3 188h0m-20-61h0m7-85h0m9 51h0m3-45h0m12-115h0m-28 81h0m0 53h0m23 101h0m-12 35h0m18-262h0m-30 160h0m-3-38h0m32 19h0m-22-61h0m12-71h0m8 15h0m-27 180h0m2-32h0m24 4h0m-6-41h0m-17-55h0m-8 86h0m34 10h0m-4-103h0m-24 42h0m12-46h0m9-32h0m-19-26h0m18 3h0m-8 94h0m19 7h0m-5 11h0m-7-54h0m-3 4h0m6-140h0m-2 216h0m-12-17h0m7 51h0"/>
<path d="M792 1185h0m35-13h0m-13 101h0m-5-114h0m-8-3h0m14 96h0m-17 3h0m2-61h0m-5-24h0m15 76h0m-15-49h0m25-130h0m-10 146h0m-4-105h0m5 2h0m14-31h0m2 94h0m-4 114h0m-7-285h0m-16 94h0m4 74h0m24-27h0m-36 89h0m33-175h0m-19 83h0m-13 8h0m14-122h0m6 64h0m9 109h0m-20-85h0m14 61h0m-15 49h0m17-61h0m2-66h0m-25 53h0m1-74h0m24 34h0m-7 82h0m4-69h0m-19 34h0m21 82h0m5-187h0m-12 193h0m4-57h0m5-17h0m-24-38h0m4-24h0m-9-109h0m35 162h0m-27-97h0"/>
<path d="M819 1051h0m-26 139h0m17 54h0m7-31h0m-5-99h0m9 94h0m-17-101h0m-6-83h0m5 38h0m24 47h0m-21 60h0m-7-177h0m3 221h0m15-197h0m-20 157h0m-6 20h0m16 33h0m10-154h0m6 196h0m4-282h0m1 120h0m-35-37h0m9-18h0m2-56h0m21 232h0m-28-29h0m-6-45h0m11-90h0m22 67h0m-4-39h0m-4 105h0m-25 45h0m36-61h0m1 65h0m-13-6h0m-13-160h0m-3 4h0m13-19h0m11 97h0m-25-98h0m11 11h0m-9 103h0m17 46h0m11-109h0m-22-69h0m-4 60h0m5-17h0m-9 156h0m-6-237h0m14 228h0"/>
<path d="M806 1171h0m13-87h0m-18-10h0m7-11h0m0 34h0m-9 7h0m-6 79h0m0 65h0m21-117h0m-17-17h0m-3 39h0m20 10h0m-8-36h0m-7 59h0m3-51h0m22 27h0m-9-82h0m-12 134h0m18-74h0m-4-21h0m-13-133h0m4 246h0m-2-74h0m15 39h0m-17 14h0m-8 5h0m24-116h0m-26 17h0m25-24h0m-10-57h0m-2 55h0m5-10h0m-7 67h0m-1-55h0m13 72h0m-13-58h0m22 19h0m-14 67h0m-14-80h0m-6 5h0m16 23h0m-1 69h0m-12-88h0m4-36h0m17 40h0m-13 138h0m4-109h0m-10 52h0m28 49h0m-15-59h0"/>
<path d="M826 1177h0m-25-79h0m21 58h0m2-70h0m-11-48h0m-5 8h0m-4 98h0m5 90h0m1-210h0m0 66h0m-19 25h0m10 140h0m-7-16h0m30-127h0m-8-53h0m-22 2h0m26 51h0m8 17h0m-17 41h0m10-74h0m3 89h0m-9-18h0m4-93h0m7 133h0m-20 45h0m-15-174h0m23 95h0m10-48h0m-8 122h0m-2-101h0m-19-108h0m5 115h0m1-64h0m16 10h0m-14-22h0m0-27h0m19 153h0m-3-18h0m-9-134h0m8 60h0m-11 81h0m5-86h0m16-126h0m-10 176h0m-15-53h0m22 160h0m-6-155h0m-10 48h0m-13-158h0m0 200h0"/>
<path d="M824 1146h0m-7-13h0m-6-6h0m3 95h0m3-11h0m-11-91h0m-8-22h0m11 139h0m4-117h0m-9 97h0m22-94h0m-24-57h0m5-46h0m8 51h0m8-49h0m-19 216h0m18-141h0m-6-102h0m1 201h0m-16 51h0m4-127h0m5 41h0m-10-78h0m23 98h0m-21 14h0m15-126h0m-25 160h0m9 6h0m16-39h0m8-86h0m-22 111h0m20-55h0m-22-94h0m-1 108h0m26-6h0m-22-75h0m1-61h0m-13 165h0m0-28h0m31 35h0m-1-98h0m-13-99h0m13 53h0m-13 138h0m-4-176h0m17 215h0m-4-86h0m5-153h0m-28 147h0m24-73h0"/>
<path d="M805 1079h0m0-22h0m7 113h0m13-141h0m3 156h0m-1-47h0m0 99h0m-35-194h0m6 77h0m27 140h0m-29-174h0m27 27h0m-2 3h0m5 79h0m-14-100h0m8 86h0m3-26h0m1 31h0m-8 90h0m-19-108h0m-3 34h0m3-29h0m13-85h0m-11 148h0m3-95h0m19-59h0m3 72h0m-28 106h0m11-148h0m-15 30h0m30 28h0m-23 15h0m26 40h0m-20-151h0m1 17h0m-2 1h0m-12-60h0m1 154h0m19-44h0m-4-75h0m12-20h0m-10 36h0m-2 149h0m12-68h0m1-3h0m-19 71h0m6-125h0m6-99h0m6 97h0m-9 87h0"/>
<path d="M802 1093h0m19 16h0m-5-20h0m-13-40h0m11 134h0m0-59h0m-8 74h0m-15-38h0m2 25h0m31-156h0m-11 150h0m3-122h0m11 39h0m-24 1h0m-5 55h0m29 32h0m-6 82h0m2-140h0m5 74h0m-13-118h0m-15 73h0m-6-143h0m-2 114h0m2-58h0m-1 175h0m25-140h0m-13 34h0m-14-31h0m12-18h0m10 113h0m10-100h0m-26 76h0m11 3h0m-2-103h0m12 62h0m-23 18h0m30-52h0m-25-42h0m-5 141h0m20-118h0m8-68h0m-23 216h0m15-187h0m-9 28h0m13 165h0m-21-181h0m6 150h0m10-6h0m5-132h0m-28 35h0"/>
<path d="M818 1009h0m-15 69h0m10 43h0m-1 44h0m-12 67h0m-4-115h0m20 87h0m4-10h0m8-87h0m-5 7h0m0-7h0m-21 97h0m15-49h0m-18 17h0m-8 2h0m3 68h0m4-137h0m21 11h0m-11-11h0m-13-39h0m14 114h0m-4-52h0m6-48h0m3 50h0m-20-67h0m26 18h0m-27 14h0m-1 45h0m33-41h0m-13 38h0m-7-32h0m8-33h0m-12-63h0m6 110h0m16 144h0m-9-13h0m-16-89h0m7-86h0m-7 116h0m1-88h0m-6-7h0m13 59h0m-9 9h0m12-90h0m15-25h0m-11 172h0m-6-210h0m11 67h0m7 9h0m-23 35h0"/>
<path d="M800 1236h0m0-128h0m9 156h0m-3-88h0m20-106h0m-33-78h0m10 98h0m14 6h0m1-7h0m8 155h0m-1-67h0m-6 68h0m8-131h0m-4-106h0m-3-4h0m0 227h0m-3-160h0m-17 11h0m-7-5h0m35 24h0m-2 33h0m-9 53h0m-15-19h0m-11-60h0m33 75h0m-24-88h0m14 54h0m-3-32h0m-14 12h0m22-53h0m-14 30h0m21-30h0m-20 47h0m21 39h0m-18 16h0m5 20h0m-3-24h0m17-14h0m-4-176h0m-21 43h0m-2 19h0m-5 158h0m27 14h0m-23-95h0m11 114h0m-8-90h0m25-15h0m-19 21h0m-12-129h0m14 111h0"/>
<path d="M810 1072h0m-1 14h0m1 17h0m6 32h0m-2-30h0m10 119h0m2-65h0m-16 66h0m2-21h0m10-50h0m-9-2h0m-21 7h0m1 83h0m6-155h0m1-60h0m5 175h0m16-127h0m-4 108h0m6-96h0m-26 86h0m17 65h0m-19-15h0m25-128h0m-8 156h0m5-187h0m3 58h0m-4-38h0m0 54h0m-3 12h0m-11 56h0m-8 22h0m9-38h0m-7 23h0m23-86h0m2 46h0m-5 34h0m6 2h0m-6-45h0m12-118h0m-24 0h0m22-14h0m-23 102h0m0-35h0m7 6h0m-18-81h0m17 10h0m-6 79h0m-5-27h0m18 132h0m10 0h0"/>
<path d="M815 1204h0m-15-47h0m20 2h0m7 50h0m-9-59h0m-26-68h0m32 13h0m-2 139h0m-17-52h0m5-147h0m11 5h0m-9 185h0m-7-183h0m14 149h0m-25-107h0m1 54h0m27-42h0m-2 87h0m-5-31h0m2-73h0m-23 95h0m7-91h0m13 92h0m7-56h0m-14-16h0m-16 27h0m32-125h0m-4 198h0m7-63h0m-34 10h0m31-52h0m-32 35h0m2-55h0m-1 137h0m19-15h0m16 56h0m-10-89h0m1 44h0m-19-85h0m12-48h0m-1 66h0m-5 85h0m-13-121h0m27 95h0m-28-132h0m22 139h0m-15-18h0m18-72h0m11 78h0m-8-47h0"/>
<path d="M820 1182h0m-2-108h0m9 21h0m-5 162h0m-16-135h0m-9 74h0m1 11h0m7 3h0m16-27h0m-29-26h0m6-33h0m14-13h0m-12 59h0m-6-50h0m6 31h0m7-32h0m-6 59h0m1 11h0m22-1h0m-20-78h0m-3 27h0m23 77h0m-10-56h0m-12-48h0m10-30h0m-15-28h0m13 111h0m-2-35h0m-5 37h0m15-36h0m-27-39h0m13 0h0m14 24h0m0 92h0m-13-148h0m23 106h0m-29-77h0m15 125h0m-10-145h0m3 144h0m-3-5h0m-6-56h0m11-42h0m7 44h0m-1-26h0m-11 30h0m9-3h0m3 31h0m-6-93h0m-7 10h0"/>
<path d="M796 991h0m32 185h0m-25 51h0m-12-14h0m26-130h0m-9 67h0m-14 68h0m27-187h0m-10 179h0m-6-186h0m22 169h0m-7-83h0m-28-22h0m26-70h0m-3 104h0m9 47h0m-13-152h0m16 115h0m-30-120h0m6 81h0m0 74h0m17-111h0m-3 192h0m-24-137h0m14-15h0m-8-5h0m12 97h0m-17-106h0m26 9h0m-1-7h0m-13 3h0m23 151h0m-10-105h0m6-34h0m0 163h0m-9-127h0m-20-49h0m27-95h0m3 144h0m-13 30h0m-21-95h0m32 58h0m3 93h0m-14-81h0m5 67h0m-14-124h0m19-88h0m-21 137h0m12-32h0m12-36h0"/>
<path d="M827 1054h0m-11 48h0m0-6h0m-8 130h0m11-57h0m-1-7h0m7-80h0m-16 54h0m17-42h0m-12-24h0m13 90h0m-21 97h0m16-47h0m-7-199h0m0 243h0m-24-20h0m8-94h0m4-100h0m2 171h0m-7-100h0m10 34h0m-7-38h0m22 46h0m-23-38h0m15 18h0m-22 118h0m28-114h0m-22-96h0m-5 115h0m12 50h0m-1-87h0m19 91h0m-9-35h0m-22-94h0m22 156h0m-20-166h0m12 41h0m11-47h0m4 67h0m-28-57h0m8 59h0m16 14h0m-6 41h0m-7 49h0m4-143h0m-16 66h0m21 42h0m-1-139h0m-3 152h0m8-174h0"/>
<path d="M818 1059h0m-10 28h0m17 35h0m-32 117h0m28-36h0m-4-129h0m10 50h0m-3 87h0m-10-52h0m-5 66h0m-17-42h0m9 15h0m21-127h0m2 127h0m-19-25h0m3-153h0m9 145h0m2 4h0m9-48h0m-18 84h0m8-7h0m0-50h0m3-62h0m0-50h0m-3 168h0m-11-173h0m9 46h0m10 133h0m-32-104h0m32 52h0m-17 75h0m-13 20h0m31-226h0m-9 53h0m-2-13h0m-15 88h0m12-81h0m-8 115h0m9 31h0m-15-122h0m13-50h0m-4 124h0m5 13h0m-11-115h0m0 106h0m15-166h0m-26 129h0m13-35h0m8-40h0m5-135h0"/>
<path d="M814 1249h0m-6-131h0m-6-16h0m22-46h0m-30 76h0m13-13h0m-5-8h0m-5-2h0m4-89h0m-8 145h0m2-126h0m13 142h0m0-164h0m-9 98h0m11 24h0m3 94h0m2-59h0m9 14h0m-12-39h0m-9-5h0m14-52h0m-16 118h0m22 5h0m4-103h0m-10 114h0m-20-137h0m2 190h0m21-149h0m4 99h0m-6 6h0m4-18h0m3 55h0m-25-219h0m22 113h0m-26-119h0m8 207h0m18-96h0m-24-52h0m10 127h0m3-126h0m7 22h0m-26-33h0m6-56h0m16-12h0m12 63h0m-21 188h0m7-233h0m-15 54h0m2-31h0m10 94h0"/>
<path d="M809 1059h0m-3 161h0m-6-86h0m-3 67h0m26-159h0m-20-16h0m-9 128h0m33-101h0m-26 90h0m19 7h0m-21 70h0m-2-137h0m14 15h0m-17 129h0m29-174h0m-3 176h0m-10-87h0m1 52h0m7-97h0m11 118h0m-20-34h0m20-134h0m-18-25h0m-4 52h0m7 90h0m3-110h0m-22 83h0m29 0h0m-19-67h0m-1 143h0m1-140h0m9 63h0m14 141h0m-11-122h0m-11 32h0m23-73h0m-4-91h0m-17 162h0m-3 11h0m7 13h0m-9-169h0m21 94h0m-24-54h0m17 106h0m-3-79h0m10-18h0m-30 18h0m6 53h0m4-79h0m12-127h0"/>
<path d="M812 1193h0m-20-58h0m0 18h0m36-39h0m-17 12h0m16-112h0m-36 108h0m28 34h0m-23-18h0m6-78h0m8 51h0m5 166h0m-15-147h0m-8 1h0m11-53h0m24 75h0m-29-16h0m16-29h0m8 43h0m-10-89h0m-4 139h0m-3-55h0m-14 2h0m36 47h0m-22-78h0m-10-31h0m15-11h0m-3 74h0m-15 58h0m37-69h0m-29-58h0m-4 90h0m13 42h0m6-135h0m-13 15h0m19 109h0m3-112h0m-22 42h0m5 63h0m3-49h0m1 16h0m5-33h0m5-34h0m1 111h0m-18-150h0m23 148h0m-27-108h0m19 27h0m-27 107h0m2-30h0"/>
<path d="M812 1145h0m-21-53h0m7 124h0m11-167h0m19 65h0m-32 101h0m28-98h0m-21-16h0m-7 50h0m10-24h0m19-66h0m-8-25h0m-14 170h0m-2 31h0m3-64h0m7-108h0m11 117h0m-23-35h0m-1-100h0m25 39h0m-7 172h0m-2-33h0m8-63h0m1 26h0m-18-57h0m-9-22h0m0 71h0m14-5h0m-18-23h0m6 0h0m24-192h0m-22 196h0m-2-136h0m-1 40h0m4 77h0m0-4h0m-1 9h0m12 7h0m16-12h0m-34 119h0m34-183h0m-7 141h0m-9-123h0m-13 120h0m28-72h0m-33-122h0m22 72h0m10-18h0m1 60h0m-13-76h0"/>
<path d="M808 1095h0m-4 53h0m-7-1h0m28-3h0m-29-123h0m8 130h0m13-11h0m-24-68h0m-1 145h0m7-133h0m12 113h0m0-63h0m-12 82h0m-5 57h0m28-211h0m-11 86h0m4 110h0m-23-45h0m32-169h0m-2-15h0m5 131h0m-35-50h0m27 89h0m-14-107h0m-3 109h0m-6 46h0m28-69h0m-16-160h0m-3 149h0m-2 102h0m10-134h0m-17-95h0m6 161h0m-7-62h0m4-104h0m6 79h0m-11-7h0m24-69h0m1 56h0m-17 131h0m2-204h0m-4 107h0m24 11h0m-6-107h0m1 94h0m4 6h0m-10-134h0m-8 114h0m-2-8h0m-1-34h0"/>
<path d="M808 1233h0m16-198h0m-9-34h0m-3 187h0m8-111h0m-10 6h0m13 91h0m-4 70h0m-15 22h0m21-68h0m-15 35h0m5 21h0m1-109h0m-17-118h0m8 109h0m-1-52h0m21 66h0m-35-68h0m9 161h0m15-170h0m-12 170h0m8-93h0m-3-98h0m2 90h0m-3-111h0m1 110h0m-10-53h0m11 86h0m-6-89h0m9-15h0m11 205h0m-27-132h0m4-173h0m7 140h0m10 121h0m7-40h0m-19-106h0m-7 57h0m16-54h0m-18 13h0m1 3h0m20 8h0m-24 31h0m23 29h0m-14-71h0m-7 1h0m8-36h0m7 75h0m-5-36h0m-4-42h0"/>
<path d="M799 1054h0m1 85h0m-3 112h0m8-122h0m0-55h0m-9 67h0m17 89h0m-20-9h0m14-224h0m-12 184h0m8-135h0m-7 91h0m24 98h0m-26-43h0m4 20h0m2-40h0m17 96h0m-3-169h0m-1 126h0m-14-58h0m1 50h0m8-74h0m-8 26h0m26-13h0m-29 110h0m22-159h0m-7 73h0m16-110h0m-12 101h0m0 76h0m-21-85h0m13 38h0m-16 40h0m7-58h0m7-57h0m-14 79h0m22-85h0m0 124h0m-19-211h0m21 28h0m11-1h0m-4 4h0m-19 149h0m-11 10h0m3-135h0m2-28h0m17 203h0m-12-125h0m5 70h0m18-131h0"/>
<path d="M814 1124h0m-19-53h0m8 4h0m-9 22h0m15 136h0m-15 12h0m14-93h0m-8-69h0m4 199h0m6-134h0m4 57h0m6-12h0m0 20h0m9-100h0m-7 23h0m-11-24h0m5-72h0m11 51h0m-20-15h0m20-5h0m-12 145h0m-13-21h0m17-116h0m-13-8h0m9-49h0m-19 123h0m21-23h0m8 23h0m-15-67h0m11 90h0m-6-31h0m-11 82h0m1-105h0m-3-72h0m0 123h0m10-145h0m-7 162h0m-4-74h0m-7 92h0m25-57h0m-8 39h0m-18-12h0m3-71h0m10-168h0m5 143h0m7 146h0m-2-119h0m-20 46h0m3 15h0m-4-9h0"/>
<path d="M796 1069h0m19 27h0m11-55h0m-21 115h0m-12 41h0m-1 20h0m16-186h0m-15 41h0m0-10h0m22-23h0m8 115h0m-19-31h0m9 85h0m14-78h0m-2-115h0m-28 179h0m11-133h0m-16-19h0m13 204h0m11-133h0m-9 164h0m19-14h0m-30-49h0m-3-69h0m25 1h0m-10-115h0m-2 75h0m13-43h0m-24 141h0m-2-182h0m-1 201h0m10 47h0m7-106h0m-15-99h0m24-37h0m-12 127h0m6 64h0m-16-192h0m20 165h0m-5-34h0m5-58h0m-12-39h0m-7 56h0m25-44h0m-25 87h0m31-127h0m-8 88h0m-22 57h0m23-95h0m-21-1h0"/>
<path d="M812 1002h0m-13 65h0m4 47h0m-8 57h0m16-137h0m0-3h0m17 215h0m-22-109h0m10-101h0m6-39h0m-1 158h0m-22-100h0m12 110h0m-12-41h0m-5 118h0m17-84h0m-3-45h0m-14 50h0m31-8h0m-7-173h0m-21 211h0m27-107h0m-23 65h0m-10-8h0m2 2h0m6 26h0m1 61h0m12-152h0m6 184h0m-8-122h0m17 40h0m-23-50h0m10-72h0m-17 203h0m-2-139h0m7 13h0m18-20h0m-13 23h0m-9 72h0m10-43h0m9-76h0m-8 51h0m-15-3h0m11 59h0m-6 48h0m15-196h0m-2 224h0m-17-149h0m6 95h0m-5-76h0"/>
<path d="M802 1218h0m22-153h0m-30-48h0m27 207h0m-10-71h0m-16 31h0m29 58h0m-21-181h0m10-17h0m4 7h0m4 72h0m-20-9h0m-1 93h0m15 67h0m-2-132h0m-22-84h0m7-26h0m3 61h0m25-7h0m-3-17h0m-23-64h0m-6 155h0m9-55h0m-5-39h0m-3 122h0m16-2h0m7 42h0m-20-80h0m26-29h0m-27 45h0m7 35h0m-12-115h0m22-59h0m-6 58h0m-13 47h0m3-24h0m2-2h0m8 24h0m-17 65h0m37 13h0m-2-48h0m-12 28h0m-4 4h0m4-120h0m-23-11h0m37 37h0m-3-70h0m-21 65h0m19 49h0m-23 105h0"/>
<path d="M825 1199h0m-8 55h0m-6-242h0m5 154h0m11 31h0m-21-105h0m11-36h0m5 56h0m-13-18h0m-10 43h0m-8-20h0m15 24h0m-4-22h0m19 149h0m-24-202h0m31 12h0m-30-37h0m-6 208h0m25-205h0m6 136h0m-25-38h0m22-107h0m-10 159h0m-15 67h0m30-138h0m-20 121h0m7-97h0m-3-54h0m7 81h0m-12 52h0m16-53h0m4-116h0m-9 7h0m1 38h0m-17-29h0m-4 165h0m11-219h0m7 102h0m-13 10h0m10-28h0m-18 138h0m19-114h0m15 43h0m-8 53h0m-26-175h0m13-15h0m21 187h0m-30-69h0m16-72h0m-12 120h0"/>
<path d="M804 1048h0m-5 36h0m4-44h0m0 191h0m-5-117h0m1 5h0m-7 15h0m7-64h0m9 54h0m12 55h0m-28-11h0m30-93h0m-27 74h0m20-134h0m13 115h0m-22-16h0m-7 50h0m18-24h0m7-88h0m-28 118h0m17-122h0m-13 108h0m10-34h0m15 22h0m-1-27h0m-4 37h0m-19-69h0m11 29h0m-12 11h0m22-2h0m-25 16h0m-3-14h0m21 55h0m8 8h0m-16-30h0m4-128h0m-13 114h0m15 8h0m14-14h0m-20 118h0m16-5h0m-17-121h0m15-79h0m-4-1h0m-18 117h0m5-8h0m17-79h0m-27 16h0m5 150h0m12-288h0"/>
<path d="M822 1141h0m-22-6h0m-6-10h0m-2-1h0m0 36h0m12-53h0m-13-12h0m31 84h0m2-163h0m1 119h0m-15 9h0m10 72h0m-3-85h0m8-95h0m-18 62h0m-6-31h0m7 19h0m1 87h0m-7 77h0m2-172h0m-9 88h0m0 25h0m12-106h0m-13 25h0m20-33h0m9 34h0m-2-100h0m2 211h0m-29-73h0m22-28h0m-4 23h0m-1-31h0m-4 47h0m-15 0h0m23-122h0m-3 156h0m-13 2h0m-7-136h0m32 133h0m-23-120h0m27-84h0m-37 151h0m36-65h0m-25 208h0m8-243h0m-2 106h0m1 39h0m12-38h0m-17-3h0m-1-20h0"/>
<path d="M800 1215h0m22-118h0m-29 67h0m21 9h0m-21-2h0m30 3h0m-4 25h0m9-10h0m-19 22h0m17-198h0m-34 166h0m13 61h0m17-19h0m-21-157h0m17 109h0m-24-130h0m14 38h0m-16 151h0m6-11h0m20-144h0m-22 57h0m19 108h0m1-76h0m8-119h0m-16 174h0m0-143h0m2 17h0m-10-41h0m12-6h0m-10 64h0m16-89h0m10 120h0m-12-34h0m7-114h0m-31 219h0m2-140h0m8-17h0m25 108h0m-35-100h0m4 63h0m22 99h0m-5-26h0m-12-149h0m2 22h0m24 187h0m-16-54h0m-8-136h0m24 104h0m-26-172h0m13 206h0"/>
<path d="M816 1242h0m0-84h0m-10 16h0m15-88h0m-21-5h0m-5 189h0m32-85h0m-3-51h0m-27 53h0m17 0h0m-8-83h0m-11-47h0m-2 120h0m1-13h0m23 35h0m3-160h0m-9 50h0m3 46h0m12 114h0m-12-17h0m10-65h0m-23-71h0m20 28h0m-22-3h0m25-13h0m-1 13h0m-17 51h0m5 73h0m5-58h0m11-105h0m-10 14h0m10 8h0m-27-65h0m-1 14h0m13-9h0m0 157h0m-10 49h0m-8-107h0m12-26h0m4 18h0m-9 48h0m-9-64h0m30-55h0m5-69h0m-29 163h0m7-130h0m-10 109h0m7 30h0m24-85h0m-32-74h0"/>
<path d="M814 1116h0m-2-88h0m-1 89h0m11 71h0m-29-40h0m7-132h0m15 127h0m-7-154h0m10 119h0m6-67h0m-25 210h0m29-164h0m-29 64h0m-2-61h0m3-3h0m9 0h0m9 46h0m-1 29h0m-12-107h0m-5 170h0m20-161h0m-19 84h0m1-82h0m8 79h0m-3-39h0m-13 84h0m12-41h0m16-99h0m-16 132h0m9 62h0m-17-72h0m8 19h0m20-43h0m-4 74h0m-20-129h0m-2-55h0m15 39h0m12-37h0m-10 66h0m-6 89h0m13-146h0m-18 77h0m3-7h0m15 49h0m-3-55h0m-10 160h0m-13-142h0m6 5h0m-4 21h0m24-91h0"/>
<path d="M818 1194h0m-24-47h0m6 81h0m3-19h0m21-136h0m-1 50h0m-3-121h0m-2 117h0m-10-118h0m-3 83h0m-13 99h0m16-18h0m6-52h0m-13-72h0m14 30h0m6 163h0m-6-31h0m-16-79h0m22-40h0m3 31h0m-2-53h0m0-51h0m-7 8h0m-5 167h0m-16 11h0m25-49h0m-25 48h0m4-156h0m20 167h0m-15-126h0m3 71h0m-5-24h0m19-117h0m-20 123h0m17 46h0m-13-132h0m15 100h0m-4-31h0m-18-22h0m2 129h0m23-121h0m-19 126h0m2-135h0m-12-55h0m13 60h0m1 49h0m-15-110h0m23 48h0m-2 62h0m11-92h0"/>
</g>
<use href="#v15" fill="none" stroke="#111" stroke-width="1.1" stroke-linejoin="round"/>
<rect x="794.2" y="1132.4" width="31" height="3.4" fill="#fff"/>
<use href="#v16" fill="#A07DBA"/>
<g stroke="#000" stroke-opacity="0.342" stroke-width="4.8" stroke-linecap="round" fill="none">
<path d="M869 1048h0m-4 159h0m-9-96h0m-18 34h0m30-26h0m-16-82h0m5-11h0m14 180h0m-23-93h0m23 59h0m-6-163h0m8 125h0m-28-88h0m4-9h0m-2 164h0m24-35h0m-20 23h0m-2-141h0m8 75h0m16 25h0m-21-45h0m11-115h0m3 21h0m-7 188h0m-19-163h0m19 35h0m9 220h0m-30-152h0m37-97h0m-21 67h0m12-17h0m0 51h0m5-39h0m-29-4h0m19 57h0m-3 48h0m16-221h0m-1 208h0m-3-28h0m-27 61h0m26 21h0m-11-71h0m6-118h0m1 22h0m-19 204h0m29-81h0m-8-112h0m7-17h0m-33 13h0m28 43h0"/>
<path d="M862 1150h0m-1 40h0m-13-38h0m6-115h0m13 134h0m0-59h0m-5-22h0m13 57h0m-6 50h0m-28-53h0m34-195h0m0 220h0m-10 44h0m-3-13h0m-3-144h0m4-60h0m-9 174h0m6-93h0m-20 198h0m13-32h0m-13-146h0m15-106h0m17 164h0m-25-69h0m8-118h0m17 90h0m-11 48h0m-14-114h0m-8 83h0m0 114h0m6-10h0m28-53h0m-12-72h0m-21 81h0m13 67h0m8 56h0m-13-156h0m22 106h0m-16-142h0m-10 128h0m-2-68h0m27-46h0m6 66h0m-10-24h0m-5-12h0m-18 138h0m2-167h0m11 98h0m-7 1h0m13-13h0"/>
<path d="M842 1095h0m11 38h0m1 6h0m3 96h0m-4-253h0m-7 9h0m10 265h0m19-114h0m-26 52h0m4-53h0m8 31h0m-8-62h0m-10-127h0m15 264h0m0-120h0m-13-54h0m19 173h0m3-139h0m4-10h0m-30 31h0m3 101h0m-3-194h0m10 5h0m-11 146h0m34 21h0m-31-37h0m-5-124h0m18 14h0m-5 39h0m-5 36h0m9 10h0m-16 31h0m3 25h0m14 58h0m17-204h0m-4 23h0m-6-28h0m3 86h0m-9-4h0m5 18h0m-21 8h0m18-176h0m6 147h0m10 42h0m0-55h0m-8 15h0m3-64h0m-31 29h0m30-70h0m-9 175h0"/>
<path d="M850 1105h0m-7 33h0m-5 118h0m24-108h0m5-111h0m2 3h0m-4 130h0m9-91h0m-27 56h0m-3-39h0m6-12h0m21 110h0m-30-118h0m-2-112h0m17 111h0m4 79h0m13-119h0m-15 49h0m-17 53h0m24-1h0m7-28h0m-2-92h0m-21 12h0m-6 86h0m-4-48h0m7 28h0m4 13h0m-1 6h0m21 116h0m-30-64h0m0-1h0m7-5h0m-4-104h0m-1 118h0m21-119h0m-14 150h0m11-34h0m-8-127h0m-13-21h0m13 146h0m12 91h0m-23-181h0m33 2h0m-4 46h0m-8-14h0m-23-63h0m3 59h0m24-73h0m-24 181h0m4-15h0"/>
<path d="M873 1116h0m-33 84h0m6 6h0m-3-115h0m24 90h0m-25 64h0m15-139h0m16 111h0m-12-101h0m12 39h0m-28 79h0m1-110h0m0-73h0m17 182h0m7 3h0m-23-103h0m9-4h0m2 7h0m6 124h0m-13-144h0m6 80h0m18 63h0m-30-152h0m23 117h0m-22 25h0m-3-81h0m9-166h0m-8 196h0m-2-65h0m33 18h0m-8 7h0m-1-158h0m5 91h0m-4-8h0m7 96h0m-9 41h0m-11-196h0m18 194h0m-32-9h0m-1-146h0m22 86h0m-6-47h0m-1-37h0m4 144h0m13-2h0m-11-91h0m-18-46h0m23 69h0m10-26h0m-34 143h0"/>
<path d="M857 1219h0m1 68h0m-1-167h0m15 97h0m-3-49h0m2-57h0m-12 87h0m12-54h0m-30-33h0m15-99h0m2 157h0m-18 77h0m5-264h0m2 190h0m8-48h0m-13 24h0m27-122h0m-30 109h0m23-41h0m-1-78h0m-21 182h0m4-16h0m19-69h0m-14-59h0m-6 13h0m2-58h0m19 137h0m11-97h0m-11 20h0m-12 160h0m-8-51h0m22-92h0m-24 145h0m14-108h0m-13 14h0m26-113h0m-30 223h0m14-117h0m11-76h0m-25-6h0m21-12h0m-19 67h0m16-70h0m-12 39h0m-5-16h0m32 99h0m2-83h0m-20 109h0m-8 10h0m10-56h0"/>
<path d="M855 1131h0m18 42h0m-12 45h0m-5 33h0m-14-200h0m5 33h0m14 95h0m-10-31h0m4 77h0m-4-210h0m20 145h0m-31 50h0m-2-62h0m6 11h0m23-98h0m-28 135h0m22-150h0m-10 229h0m11-121h0m-9 72h0m-8-160h0m27 152h0m-27-196h0m20 61h0m4 198h0m-4-115h0m-4-170h0m-2 0h0m8 279h0m-27-166h0m32 112h0m-2-116h0m-16-53h0m17 166h0m-3-102h0m-15 2h0m15 95h0m-24-111h0m15 46h0m5 26h0m6 5h0m-9 25h0m2-3h0m12-184h0m-12-87h0m12 244h0m-28-48h0m1-46h0m1 94h0m21-21h0"/>
<path d="M855 1027h0m18 139h0m-31-112h0m24 243h0m5-241h0m0 215h0m-31-144h0m6 87h0m16-71h0m-10 6h0m-12-16h0m33 85h0m-31-112h0m32-70h0m-2 31h0m-29 35h0m10 59h0m-6-124h0m2 77h0m21-1h0m-1 113h0m-15-153h0m-2 133h0m23-102h0m-29 26h0m-5 56h0m18-99h0m-18 53h0m3-44h0m31-3h0m-5 109h0m-2-109h0m-28 15h0m29-23h0m3 49h0m-10 34h0m-20-111h0m3 63h0m-3 37h0m30 24h0m-27-137h0m22 226h0m-18-160h0m25 2h0m-3 31h0m-31-65h0m20-73h0m-9 96h0m-5-95h0m1 101h0"/>
<path d="M854 1094h0m19 115h0m-13-91h0m8 58h0m-5-3h0m-2-97h0m11-33h0m-1 113h0m-33-93h0m30 26h0m-10 64h0m11 60h0m-3-96h0m-7 96h0m3-218h0m-6 109h0m-1-67h0m-3 71h0m-11-91h0m12-5h0m-9 91h0m6 148h0m23-229h0m-3 160h0m0 57h0m-27-139h0m3-55h0m12 109h0m12 57h0m-13-115h0m-11 159h0m19-163h0m-18-76h0m15 138h0m-13 68h0m7 3h0m18 30h0m-9-196h0m-14 35h0m22 88h0m-10-82h0m7 189h0m5-230h0m-25 133h0m17-145h0m1 176h0m-9-257h0m2 133h0m-11-11h0m7-48h0"/>
<path d="M859 1230h0m-2-157h0m4 137h0m-21-88h0m29-32h0m-21-14h0m7 85h0m12 42h0m7-48h0m-18-130h0m-4 93h0m-8 13h0m17 82h0m5-60h0m-7-60h0m6-25h0m8 94h0m-28-83h0m21 115h0m-20-86h0m-3-48h0m-4-49h0m33 83h0m-18 58h0m14 45h0m-20-182h0m6 86h0m3-200h0m15 124h0m-3 258h0m5-217h0m-2 140h0m-6-74h0m-27-7h0m9 96h0m9-40h0m17-155h0m-12 189h0m-8-106h0m-15-17h0m22 31h0m-18 83h0m9-4h0m-1-29h0m-10-33h0m17-18h0m-12 24h0m7-43h0m8-47h0m-1-5h0"/>
<path d="M849 1162h0m21-47h0m-17-41h0m5 67h0m12 74h0m-18-8h0m6-184h0m4 154h0m-7-109h0m-9 179h0m21-192h0m4-18h0m-26 173h0m15-6h0m-12 5h0m-1-226h0m25 272h0m-30 21h0m14-101h0m-3-2h0m1 38h0m10-70h0m-18 101h0m15-57h0m9-72h0m-15 6h0m-1 149h0m6-146h0m3 67h0m-3 31h0m-16-132h0m24 77h0m-14-70h0m12 59h0m-15-6h0m14-82h0m6-6h0m-17 160h0m-13-137h0m3-16h0m11-19h0m6 104h0m-5-145h0m6 142h0m-2 77h0m13-143h0m-3-78h0m-4 116h0m-26 3h0m5 26h0"/>
<path d="M875 1077h0m-19 124h0m15-72h0m-31-26h0m12-37h0m-1-12h0m13 78h0m-5 38h0m-5 47h0m19-51h0m-22-155h0m12 140h0m0-62h0m9 162h0m-25-214h0m28 155h0m-28-68h0m10 9h0m-7 167h0m12-235h0m-2 141h0m-14 7h0m29-151h0m-4 66h0m-20 40h0m-9 82h0m8-133h0m5-13h0m2-34h0m-16-51h0m34 179h0m-24-56h0m3-60h0m17 161h0m-12-171h0m-1 13h0m15 166h0m-11-200h0m9-2h0m-25-96h0m19 141h0m10 15h0m-1 57h0m-11-144h0m-17 63h0m3 124h0m15-135h0m0 158h0m-25-116h0m21 16h0"/>
<path d="M868 1023h0m-27 49h0m26 55h0m-27-13h0m35-67h0m-12 144h0m5-18h0m-9-40h0m-11-43h0m17 2h0m10 70h0m-36 46h0m30-215h0m-13 168h0m-14 39h0m6 35h0m-6 36h0m5-193h0m5-33h0m13 80h0m-7-75h0m1 139h0m4-63h0m-24-21h0m12 110h0m-3-111h0m19-34h0m-3 80h0m-15-43h0m16-21h0m8 81h0m-33-115h0m19 41h0m5 79h0m-18-5h0m12-83h0m-17 16h0m32 54h0m1-168h0m-33 116h0m13-14h0m21 207h0m-31-106h0m7-27h0m-4 95h0m23-159h0m3 145h0m-15-16h0m3-171h0m2 209h0"/>
<path d="M867 1234h0m-14-150h0m-11-57h0m0 215h0m15-80h0m4 93h0m10-111h0m-28-62h0m21 130h0m7 53h0m-22-135h0m4-98h0m11-21h0m-21 195h0m15-8h0m5 63h0m-2-162h0m-17 90h0m2-124h0m12-43h0m10 209h0m-12-94h0m-17-79h0m17 47h0m-15-60h0m4-27h0m27 35h0m-30 52h0m14 105h0m-5-234h0m6 63h0m-9 10h0m14-29h0m-4 176h0m3-90h0m-9 84h0m15-18h0m6 72h0m-8-88h0m-7-13h0m-15-13h0m-4-130h0m31 149h0m-8 129h0m-12-173h0m-1-40h0m-11-51h0m10 72h0m9 192h0m0-39h0"/>
<path d="M852 1211h0m10 54h0m7-50h0m-11-147h0m2 200h0m14-137h0m-28 30h0m9 76h0m20-221h0m-23 102h0m-6-11h0m7-3h0m4-67h0m12-61h0m-5 282h0m-17-130h0m-3 62h0m-2-38h0m21-133h0m-12 31h0m15-57h0m-28 199h0m14-225h0m13 113h0m2-79h0m-2 229h0m-23 37h0m-2-37h0m7-130h0m-6 86h0m6-148h0m-5 21h0m8 12h0m24-76h0m-26 287h0m6-172h0m-12 149h0m17-108h0m-2 33h0m-17-206h0m31 211h0m-33-137h0m15 47h0m-14 89h0m33-180h0m-6 116h0m-26 105h0m17-203h0m2 32h0m-5 122h0"/>
<path d="M851 1221h0m-10-190h0m15 83h0m14-29h0m-15 18h0m-13-48h0m15-80h0m-12 79h0m27 140h0m-32 94h0m13-252h0m-2 164h0m11-62h0m-24-21h0m10 34h0m-9-94h0m6 138h0m17-148h0m-6 109h0m13-26h0m-7 79h0m-21 14h0m2-72h0m-1 38h0m22 58h0m-2-67h0m8-78h0m-19-19h0m23 121h0m-31-103h0m23-88h0m-8-19h0m-16 86h0m1 121h0m7-202h0m9 101h0m10 23h0m-3-77h0m-20 76h0m9-86h0m4 179h0m-12-13h0m19-59h0m-22-31h0m-5 55h0m18-44h0m10 67h0m-14-94h0m16-86h0m-22 126h0"/>
<path d="M875 1052h0m-17 63h0m15-44h0m-21-44h0m11 46h0m-3 85h0m-4-175h0m4 237h0m6-61h0m4-93h0m-14-39h0m6 65h0m-5-114h0m15 68h0m-30 151h0m29-137h0m4 65h0m-1 129h0m-20-267h0m21 180h0m-23-163h0m11 31h0m2 252h0m4-100h0m2-161h0m2 117h0m-4-115h0m-23 21h0m-3 92h0m7-42h0m3 152h0m-12-155h0m9 72h0m10 51h0m-16-131h0m-2 111h0m16-99h0m5 1h0m10 84h0m-33-149h0m-1 12h0m35 156h0m-28 3h0m4-102h0m-8-9h0m7-56h0m12 9h0m-10 48h0m-11-26h0m6-3h0"/>
<path d="M847 1022h0m-5 31h0m24 14h0m-14 210h0m8-158h0m1 8h0m-17-20h0m1-16h0m14 25h0m16 71h0m-10-89h0m2 123h0m-6 2h0m-16-240h0m20 12h0m6 36h0m-3 49h0m4-66h0m-9 273h0m-23-209h0m23 16h0m-14-7h0m0 2h0m8-73h0m9 48h0m0 76h0m-25-10h0m26 52h0m-18-84h0m1 70h0m-5-159h0m8 237h0m-11-216h0m12 86h0m-10 37h0m11-95h0m16 138h0m2 95h0m-30-98h0m1-125h0m23 140h0m-27 45h0m31-261h0m4 198h0m-28-46h0m-3 74h0m15-158h0m-2 177h0m13-225h0m3 47h0"/>
<path d="M844 1094h0m20 5h0m-15 161h0m15-125h0m6-13h0m-6-178h0m-21 146h0m23 199h0m2-271h0m-18 248h0m4-195h0m12 36h0m-28 54h0m10-33h0m7 8h0m10 8h0m-12-88h0m-2 63h0m7-37h0m5-41h0m0 123h0m-6-117h0m19-23h0m-34 147h0m18-65h0m10-123h0m-31 94h0m33 89h0m-8-40h0m-12 107h0m7-221h0m-7 185h0m4-71h0m11 2h0m-16 129h0m25-56h0m-37-170h0m9 203h0m16-66h0m2-99h0m-17 73h0m-5 144h0m4-203h0m6-5h0m3 23h0m-9 23h0m12 40h0m-22-149h0m24 15h0m13 115h0"/>
<path d="M860 1212h0m-2 49h0m-19-140h0m33-32h0m-4-20h0m-12 173h0m-13-149h0m17 7h0m0 13h0m-18-20h0m17 135h0m-1-17h0m1-178h0m-6 76h0m19 64h0m-21-28h0m17-105h0m-22 183h0m-4-192h0m9 36h0m21 1h0m-6 60h0m3 55h0m-25 11h0m20-36h0m7-88h0m-6 106h0m-20-182h0m12 225h0m8-51h0m-10 128h0m-12-64h0m22-241h0m-4 226h0m-15-136h0m7 33h0m23 32h0m-22 89h0m-9-69h0m24-129h0m4 143h0m-21-164h0m17 156h0m-9 123h0m-19-320h0m23 144h0m-4 4h0m12-83h0m-21 36h0m5 178h0"/>
<path d="M840 1065h0m26 189h0m-7-77h0m-6-56h0m3-111h0m6 94h0m0 16h0m-17 135h0m22-136h0m-20-64h0m26 99h0m-14 117h0m-1-109h0m15-41h0m-12-29h0m-20-25h0m1 66h0m21 67h0m10-219h0m1 38h0m-2 141h0m1-164h0m-27 220h0m4-113h0m20-58h0m0 63h0m-17 51h0m11-20h0m-10-62h0m14 78h0m-15-69h0m21-136h0m-13-4h0m3 146h0m-11 132h0m15-71h0m5-3h0m-2-41h0m-2-171h0m-3 198h0m-1 118h0m-16-237h0m-2 70h0m24-6h0m-9 127h0m1-56h0m-12-7h0m10-38h0m-3-4h0m15 161h0"/>
<path d="M839 1191h0m19-112h0m-8-49h0m21 89h0m-22-112h0m15 213h0m8-111h0m-1-31h0m-4-92h0m5 177h0m-27-11h0m3-144h0m23 222h0m2-76h0m-32-137h0m25 54h0m-2-12h0m-13 19h0m-10 22h0m5 18h0m29 81h0m-28-22h0m26 28h0m-2 16h0m-26-46h0m20-38h0m-15 104h0m12-15h0m-17-84h0m11-6h0m-9 11h0m-6 53h0m9-168h0m5 32h0m15 63h0m-1-115h0m-19 146h0m12-43h0m3 45h0m9-49h0m-21-87h0m12 95h0m-5 65h0m8-27h0m-9-49h0m0 2h0m-11-22h0m2 49h0m14 122h0m-12-179h0"/>
<path d="M875 1202h0m-35-219h0m10 163h0m-10 12h0m19 29h0m-19-244h0m17 105h0m-16 92h0m8 16h0m20-163h0m-13 111h0m18 35h0m-22-30h0m-2 45h0m24-11h0m-4-88h0m-30 81h0m14 33h0m1-107h0m14 64h0m-4 20h0m9-11h0m-9 12h0m-17-61h0m1-69h0m-3 122h0m24-78h0m1 137h0m-11-64h0m-14-147h0m18 72h0m-17 22h0m-3 111h0m28 13h0m-1-222h0m-9 102h0m-10-32h0m8 23h0m-8 146h0m6-78h0m-12 1h0m0-43h0m25 77h0m-28-135h0m6 216h0m1-180h0m-5-32h0m15 99h0m3-97h0m12 37h0"/>
<path d="M850 991h0m22 109h0m-10 188h0m5-196h0m8 15h0m-29 33h0m-4 8h0m3-70h0m10 156h0m10-30h0m-16-189h0m18 50h0m-4 84h0m-19-95h0m-4 100h0m5 118h0m22-192h0m4 100h0m5-42h0m-23-134h0m-2 148h0m-6-67h0m7-36h0m10-24h0m14 241h0m-25-95h0m3-44h0m10 8h0m-9 138h0m-10-129h0m16 40h0m-11-17h0m4-105h0m-13 151h0m1-117h0m31-36h0m-27 110h0m-1 28h0m5-103h0m25 35h0m-27-94h0m22 30h0m-10 217h0m3-202h0m-20-103h0m4 174h0m-7-102h0m17 181h0m7-55h0m-23-61h0"/>
<path d="M850 939h0m5 273h0m-14-53h0m29-160h0m-32 185h0m22-72h0m-13 25h0m12-112h0m8 0h0m-12-30h0m2 199h0m12-61h0m-16-30h0m2-55h0m17 93h0m-33-43h0m1 171h0m1-120h0m33-158h0m-16 136h0m-4 101h0m-8-92h0m28-19h0m-32 56h0m14-81h0m13 6h0m-30 90h0m16 5h0m-1-34h0m7-36h0m-7-9h0m18 122h0m-18-84h0m-15 136h0m31-119h0m-7-139h0m-21 164h0m1-2h0m14-88h0m2 119h0m-21-76h0m18-16h0m10 35h0m9-155h0m0 71h0m-12 13h0m-3 38h0m11-151h0m-9 257h0m-23-190h0"/>
<path d="M860 1194h0m14-125h0m-23 72h0m-7-56h0m-4 152h0m-2-93h0m20-73h0m-18 100h0m26 58h0m-9-91h0m2-82h0m16 122h0m-35 9h0m28 67h0m4-112h0m3-31h0m-36-72h0m29 135h0m-20-16h0m27-125h0m-14 122h0m-22 113h0m33-193h0m-21 232h0m7-146h0m2-109h0m12 164h0m-25 29h0m7-76h0m6-71h0m-16-44h0m5 137h0m-3-34h0m20-107h0m-5 97h0m10-44h0m4-10h0m-5 126h0m-18 42h0m10-78h0m-7 52h0m19-160h0m-17-36h0m17 106h0m-16-104h0m1 162h0m-8-23h0m-6-73h0m-3 16h0m6-114h0"/>
<path d="M846 1057h0m21 112h0m-20-103h0m-4-25h0m9 13h0m4 47h0m-12-29h0m21 55h0m-10 137h0m-4-75h0m-13 118h0m30-88h0m-14-125h0m-14 167h0m27-24h0m-23-217h0m28 32h0m-29 75h0m5 143h0m-7-217h0m19 58h0m-6 50h0m12-72h0m6 79h0m-6 33h0m-13-54h0m-8-92h0m29 49h0m-19 20h0m5-40h0m-1-91h0m-13 48h0m-3 120h0m16-20h0m-4 34h0m7 29h0m-2 7h0m-17-181h0m27 78h0m1-132h0m2 130h0m-25-21h0m22-20h0m-30 90h0m15 65h0m20 6h0m-17-200h0m-19-29h0m13 31h0m4-41h0"/>
<path d="M843 1159h0m30-13h0m-19-83h0m4 80h0m7 21h0m-21-31h0m12 48h0m15-85h0m-9-37h0m10-17h0m-9 154h0m1 26h0m-21-160h0m32 38h0m-33 45h0m-2 40h0m16-67h0m14-112h0m-21 82h0m25 52h0m-1 97h0m-21-72h0m17-48h0m3-91h0m-26-39h0m-7 241h0m31 3h0m-17-156h0m22-22h0m-21 147h0m-9-10h0m-5-92h0m15-10h0m-1 145h0m-5-58h0m25 97h0m-10-193h0m-6 141h0m-13-109h0m13 53h0m-17 4h0m16 22h0m16 32h0m-34-87h0m22-176h0m12 165h0m-12-63h0m-14-4h0m25 189h0m-8-118h0"/>
<path d="M866 1111h0m-17 17h0m26-140h0m-3 213h0m-27 6h0m20-49h0m8-11h0m-34 118h0m13-199h0m-10 75h0m17-92h0m-12-48h0m-4 153h0m6-120h0m2 237h0m10-197h0m-16 87h0m16-98h0m-20 41h0m2 32h0m26 40h0m-16-18h0m19-20h0m-5-112h0m-6 200h0m-4-32h0m13 49h0m-20-27h0m-7-73h0m25-66h0m6-47h0m-12 109h0m-6-6h0m11 90h0m-15-120h0m-11 142h0m16-158h0m17 44h0m-28-71h0m28 28h0m-28 63h0m6-87h0m10 35h0m-2 108h0m-15-5h0m29-54h0m-2 72h0m-19-79h0m-8-101h0m11 203h0"/>
<path d="M845 1262h0m11-71h0m-8-83h0m26 34h0m-33-74h0m31 60h0m-2 61h0m5-157h0m-7 120h0m-6-21h0m-2 14h0m-17 13h0m2 8h0m12 97h0m11-37h0m2-178h0m-14 229h0m12-13h0m-7-127h0m-2-23h0m-14 62h0m11-61h0m5-58h0m-6-11h0m11 79h0m-27 66h0m19-104h0m13-53h0m1 16h0m-10 75h0m10-30h0m-24-8h0m-7 18h0m15-10h0m9 70h0m-9-178h0m9 107h0m-27-104h0m6 5h0m-4 222h0m32-240h0m-33 307h0m33-133h0m-31 116h0m20-199h0m9 42h0m-2-52h0m-15 101h0m-7 14h0m22-143h0"/>
<path d="M839 1053h0m27 110h0m-5-150h0m10 224h0m-11-96h0m-11-44h0m10 43h0m16-102h0m-11 4h0m4 52h0m-11 81h0m12-64h0m-13 8h0m-10 150h0m23-71h0m-31-181h0m26 155h0m-24-12h0m13-179h0m14 112h0m-28 57h0m28-18h0m-10 164h0m-10-190h0m17 71h0m2 5h0m-19-2h0m-9 57h0m21-45h0m-18-33h0m28 86h0m4-4h0m-17-64h0m-8-89h0m13 37h0m-19 10h0m-2-61h0m17 65h0m-2-112h0m-9 145h0m11 26h0m-14-44h0m0-58h0m2 96h0m30 4h0m-31-136h0m13 106h0m16 86h0m-25-43h0m9-174h0"/>
<path d="M864 1143h0m-3 117h0m-21-7h0m13-85h0m19-118h0m-8 70h0m-9 28h0m0-27h0m8 21h0m-1 141h0m-1-222h0m-17 61h0m20 35h0m8-163h0m-26 227h0m22-124h0m7 22h0m-28-19h0m12 48h0m-9-13h0m14 50h0m3-43h0m-16 35h0m2-132h0m-6 126h0m16 53h0m11-199h0m-30 5h0m28 55h0m-21 40h0m-6-17h0m11-25h0m-9 45h0m16-54h0m-3-29h0m2 24h0m-24-41h0m32 152h0m-7-92h0m-2 64h0m-7-83h0m7 180h0m-16-229h0m23 264h0m-24-134h0m26-37h0m-14-112h0m-10 132h0m20 22h0m-22-8h0"/>
<path d="M856 1076h0m-15-16h0m32-3h0m-27 128h0m19 95h0m-16-4h0m-6-264h0m1 168h0m27 20h0m-24-80h0m23 81h0m6-159h0m-37-52h0m27 124h0m-14-71h0m11 214h0m-25-244h0m14 4h0m14 139h0m-26 77h0m19-5h0m-12-147h0m25 57h0m-4 58h0m-18 92h0m25-258h0m-26 167h0m1-66h0m22-92h0m-5 117h0m-1-6h0m0-8h0m7-36h0m1 103h0m-5-85h0m-2 50h0m4 43h0m-15-154h0m-13 37h0m-4-12h0m27 86h0m-24-1h0m-1-85h0m16-33h0m-1 93h0m-3-82h0m11-20h0m-16-20h0m-6 61h0m13 26h0"/>
<path d="M840 1189h0m26 2h0m-14 22h0m12-59h0m-18-93h0m4 130h0m22-147h0m-1 37h0m-28 25h0m18 69h0m13-77h0m-18 67h0m12 31h0m-14-74h0m8 39h0m3 92h0m-18-109h0m19-23h0m-20 162h0m17-185h0m-20 60h0m10 62h0m12-2h0m-19-250h0m28 151h0m-25-4h0m0 31h0m-10 18h0m3-67h0m19-61h0m-3-15h0m-1 50h0m16 142h0m-4-22h0m-9-72h0m-13-115h0m17 138h0m-5-22h0m5 53h0m-2-74h0m-12 23h0m6 138h0m-12-177h0m19-24h0m-3-36h0m-1 254h0m14-247h0m-14 245h0m-14-108h0m16 80h0"/>
<path d="M850 1271h0m14-289h0m-11 231h0m22 5h0m-35-26h0m0-53h0m17-72h0m12 45h0m-30 157h0m16-146h0m6 29h0m0-44h0m1 49h0m3-182h0m-19 183h0m8-101h0m2 54h0m-16 21h0m1 144h0m4-169h0m-3 53h0m24 51h0m-25-18h0m20 26h0m14 8h0m-22-134h0m9 117h0m-4-133h0m-20 33h0m2-94h0m35 79h0m-34 86h0m16-12h0m-15-61h0m11-63h0m15 84h0m-8 107h0m-2-120h0m-16 93h0m6-116h0m-3-80h0m13 151h0m-6-129h0m-4-43h0m1 219h0m-1-179h0m10 159h0m-3-140h0m6 207h0m-19 12h0"/>
<path d="M869 1068h0m-6 126h0m-4-48h0m16 49h0m-29 2h0m8 68h0m4-21h0m1-136h0m-4 96h0m-8-209h0m3 206h0m-2-140h0m1 96h0m-6-164h0m-4 148h0m33-96h0m1 133h0m-6 46h0m3-110h0m-4 1h0m-6 44h0m-18 22h0m20 19h0m-8-45h0m16-44h0m-13 10h0m5-131h0m-18 196h0m2-16h0m20-53h0m-2 82h0m-10-36h0m-11-94h0m10 15h0m13 1h0m-25-24h0m1-74h0m17 207h0m-16-47h0m9 113h0m-2-144h0m-11 127h0m14-122h0m7-10h0m-22 58h0m30-87h0m-9 41h0m-13-24h0m2 36h0m24 96h0"/>
<path d="M851 1168h0m11 88h0m13-72h0m-28 45h0m9-139h0m17 49h0m-14-162h0m-7 175h0m-1-69h0m8-86h0m15 163h0m-35-39h0m34 23h0m-6-8h0m-1 121h0m5-140h0m-20-72h0m10 103h0m-17-150h0m24 113h0m-23 34h0m7 118h0m3-147h0m16-77h0m-4 150h0m3 4h0m0-126h0m3-61h0m-32 174h0m12 34h0m21-64h0m-23 108h0m15-115h0m-24-107h0m3 248h0m8-88h0m11-83h0m-2 130h0m3-26h0m8-109h0m-28 68h0m0-54h0m2 46h0m13-56h0m-4 133h0m9-81h0m-18-23h0m10 37h0m17-163h0m-8-45h0"/>
<path d="M864 1170h0m-7-80h0m-7 25h0m1-33h0m-12-49h0m3 57h0m21 56h0m-11 2h0m0 42h0m2-133h0m21 59h0m-33 41h0m6-49h0m7 55h0m-2-83h0m20 57h0m-19-69h0m16 100h0m-6-170h0m-8 14h0m5-26h0m-6 83h0m-10 48h0m1-40h0m6 23h0m19-57h0m-6-8h0m-26 104h0m14 102h0m18-61h0m-16 0h0m-3 39h0m17-109h0m-23 65h0m1-200h0m28 229h0m-18-37h0m1-196h0m17 60h0m-1-6h0m-19 168h0m-2-46h0m17 31h0m-25 87h0m15-167h0m-12-44h0m21 179h0m-17-93h0m-8-92h0m14-23h0"/>
<path d="M853 1223h0m-5-235h0m1 154h0m26-15h0m-36-99h0m11 197h0m-5-67h0m21 48h0m-4-53h0m-19-24h0m29 97h0m-4-120h0m-20 45h0m14-96h0m-21 68h0m24 96h0m-21 10h0m28-33h0m-24-80h0m10-8h0m8 112h0m5-110h0m-26 117h0m30-39h0m-7 20h0m-3-112h0m8 131h0m-2-163h0m-14 69h0m4 4h0m-12 75h0m5-136h0m-1 43h0m-8-9h0m30 92h0m-2-45h0m-30-46h0m6-16h0m5 5h0m1-72h0m20 253h0m-33-162h0m20 16h0m7-34h0m-28-101h0m23 130h0m-3 51h0m4-34h0m8-70h0m-3 191h0"/>
<path d="M858 1095h0m-19 73h0m18-75h0m7-12h0m-13 130h0m-6 68h0m-1-91h0m4-144h0m-8 193h0m18-277h0m10 79h0m1 103h0m-10-47h0m14 61h0m-11 43h0m-1-70h0m-17 115h0m30-186h0m0 125h0m-29-164h0m13 26h0m-19-35h0m36 18h0m-17 162h0m-3 87h0m15-166h0m-6 59h0m-19 81h0m5-145h0m12-40h0m-15 168h0m16-90h0m4-73h0m2-41h0m-17 184h0m2 10h0m13-136h0m-25 44h0m8-53h0m16-80h0m-5 69h0m-6-4h0m16 29h0m-20-55h0m19 38h0m-14 44h0m18 96h0m-22-183h0m23 143h0m-35-235h0"/>
<path d="M862 1026h0m-5 135h0m-12 98h0m12-232h0m14 42h0m-2 62h0m-23-49h0m10 93h0m10-22h0m-6-17h0m-17 30h0m-3-126h0m30 211h0m-20-274h0m23 137h0m2-136h0m-37 288h0m13-247h0m-6 74h0m2 156h0m5-75h0m-9-59h0m17-68h0m14 177h0m-3-103h0m-13-13h0m3 103h0m-5-85h0m14 52h0m-15-109h0m3 185h0m4-157h0m-8-44h0m-13 66h0m5-5h0m-7 48h0m0-118h0m13-28h0m3 236h0m13-140h0m-9 58h0m-2-57h0m-18 93h0m11-71h0m24-66h0m-30 171h0m10-50h0m-2-216h0m22 132h0m-28-182h0"/>
<path d="M859 1092h0m12 45h0m-32 30h0m26 37h0m-24-121h0m-2 95h0m26-73h0m-23-79h0m25 94h0m-28-13h0m9 41h0m21-49h0m-22-68h0m10 49h0m-2 114h0m20-50h0m-34-54h0m-2-18h0m5-11h0m28 71h0m-10 23h0m4 22h0m8 4h0m-23-83h0m19 34h0m-8-102h0m9 40h0m1-50h0m-3 144h0m-16-142h0m-13 185h0m4-62h0m22 78h0m-6-183h0m-3 182h0m10-118h0m-16-36h0m16 58h0m-10 172h0m-9-140h0m26 40h0m-25-244h0m4 213h0m-14-141h0m21 90h0m12 95h0m-13 26h0m4-275h0m-5 215h0m-20-19h0"/>
<path d="M855 1096h0m-12 30h0m25-44h0m-7 106h0m-9-64h0m1 34h0m19-19h0m-8 36h0m-23 26h0m7-190h0m10 107h0m1 23h0m8 4h0m-1 128h0m6-134h0m1-35h0m-18 82h0m11-64h0m-22-42h0m-3 76h0m30-16h0m-25-126h0m-5 84h0m18-32h0m11 3h0m-10 45h0m7-59h0m-19 30h0m4-19h0m-6 10h0m29-139h0m-13 264h0m-19-97h0m25 154h0m5-244h0m-27 28h0m23 19h0m3 92h0m-8-53h0m-17 78h0m4-60h0m-10-59h0m-1 162h0m22 24h0m8-114h0m-22-53h0m7-38h0m2 95h0m10 79h0m-29 31h0"/>
<path d="M872 1039h0m0 58h0m-8-39h0m-10 177h0m8-112h0m-15 36h0m28 13h0m-6-85h0m-14-9h0m-13-30h0m19 6h0m-11 99h0m10-36h0m-17 119h0m23-255h0m0 190h0m-7 44h0m-4-80h0m-11-168h0m2 40h0m21 240h0m4-282h0m-2 150h0m-27 47h0m15-17h0m8-89h0m2 46h0m-7 43h0m12 20h0m-33-11h0m9-50h0m19-76h0m-26 35h0m28 34h0m-21-11h0m6-133h0m2 159h0m2-15h0m9 117h0m4 28h0m-13-262h0m15 51h0m-33 187h0m33-153h0m-35-74h0m12 105h0m-12-45h0m27-5h0m1 156h0m-26 73h0"/>
<path d="M871 1100h0m-21 59h0m-11-74h0m12-13h0m-2 4h0m26 73h0m-23-31h0m14 7h0m-3-7h0m-25 58h0m4 42h0m33-15h0m-10-50h0m-12-48h0m18 114h0m-28-207h0m4 204h0m9-57h0m15 102h0m-13-175h0m-13 124h0m28-55h0m-23-99h0m-8 61h0m4 183h0m-3-134h0m32 52h0m-15-28h0m9 62h0m2-124h0m-12-4h0m-21-70h0m5-30h0m8 153h0m4 25h0m-9-135h0m2 2h0m10-10h0m9 44h0m-22 37h0m3-98h0m-7 20h0m6 189h0m18-160h0m-7-1h0m17 110h0m-13-80h0m-20 74h0m1-172h0m30 130h0"/>
<path d="M870 1113h0m5-65h0m-10-10h0m-17 10h0m3 68h0m1 98h0m23-93h0m-26-30h0m8 64h0m8-132h0m-12 194h0m-8-239h0m26 57h0m-6 36h0m1 140h0m-14 3h0m14 7h0m8-25h0m-25-60h0m20 45h0m-20 2h0m21 86h0m-20-159h0m-9-57h0m34 180h0m-34-76h0m25-103h0m-27 136h0m31-125h0m-23 209h0m12-179h0m9 5h0m-20 45h0m-1-43h0m20 72h0m-3 20h0m-25-89h0m29-31h0m-14 69h0m19-59h0m-23 177h0m5-68h0m11-128h0m1 105h0m-18-95h0m-10 106h0m22-107h0m-11 182h0m24-114h0m-17 152h0"/>
<path d="M841 1209h0m21-25h0m-2-1h0m-6-78h0m1 55h0m-1-36h0m-2 1h0m-5 35h0m18-58h0m-12-52h0m-5 92h0m-7-108h0m14 30h0m6 24h0m-5 17h0m-11-3h0m21 58h0m-15-17h0m14-23h0m9-37h0m-29 105h0m9-50h0m-4-146h0m3 46h0m17 177h0m-21-167h0m22 64h0m-10-92h0m-3 125h0m6-34h0m1 98h0m-27-78h0m9-86h0m27 117h0m-23-116h0m2 48h0m-14-63h0m3 78h0m21-72h0m-12 172h0m11 10h0m5-31h0m-7 27h0m-20 45h0m28-98h0m4-7h0m-33-132h0m12 78h0m19 33h0m-31-160h0"/>
<path d="M852 1058h0m2 20h0m9 114h0m-9 50h0m14-41h0m-26-95h0m23 76h0m-9-53h0m-16 66h0m21-178h0m-11 58h0m16-16h0m-25 139h0m8-94h0m-3-102h0m17 178h0m-6 47h0m6-102h0m5-65h0m-18 93h0m17-72h0m-8-133h0m0 90h0m7 220h0m8-82h0m-22-45h0m6-43h0m-17-28h0m3 87h0m3-48h0m-5 160h0m18 26h0m7-228h0m6 99h0m-14 33h0m13-20h0m-23-2h0m26-103h0m-33 14h0m7-110h0m6 251h0m3-151h0m-15 83h0m19 51h0m-11 35h0m4-57h0m-16 19h0m5 6h0m16-58h0m-14 123h0"/>
<path d="M853 1196h0m10-19h0m2-111h0m11-32h0m-20 14h0m19 40h0m-25-17h0m-7 112h0m1-123h0m11 125h0m-11-83h0m23-6h0m-9 45h0m-2-59h0m-7 150h0m-10-43h0m7 31h0m-7-92h0m24 75h0m-12 60h0m-10-110h0m5-140h0m13 137h0m-9 101h0m15-172h0m-20-5h0m3 13h0m3-41h0m13 199h0m-6-57h0m-13-28h0m30-172h0m-18 74h0m-1 96h0m-8-8h0m14-182h0m5 75h0m-27 214h0m13-97h0m10-22h0m-5 29h0m-10-47h0m0-115h0m22 205h0m-31-199h0m3 82h0m-1-20h0m19-57h0m-5 164h0m-7 0h0"/>
<path d="M863 1208h0m-17-15h0m12 21h0m-14-145h0m2 85h0m4-27h0m10-25h0m-3 151h0m14-98h0m-20-3h0m-7 19h0m-3 21h0m12-131h0m-13 24h0m22 26h0m-7 52h0m-2 45h0m-11-186h0m23 190h0m4-3h0m3-84h0m-2-43h0m-23-50h0m13 77h0m-2 34h0m-1 56h0m-16-69h0m20-4h0m-4-154h0m-10 38h0m-7 47h0m28 58h0m-5-59h0m10 78h0m-7 72h0m-10-254h0m-16 252h0m19-115h0m-10-90h0m3 132h0m7-20h0m15 19h0m-6 55h0m-4 3h0m-18-100h0m2 0h0m26 35h0m-3 53h0m-28 29h0m20 54h0"/>
<path d="M860 1156h0m10-27h0m-23-1h0m13-101h0m-16 72h0m6 69h0m15-10h0m4 25h0m-3-71h0m9-8h0m-13 55h0m-8-28h0m11-142h0m-2 70h0m-7 159h0m8-129h0m-3 46h0m5-15h0m-11-54h0m-3 136h0m-10-79h0m2-101h0m17 129h0m6 112h0m3-236h0m-8 173h0m11-103h0m-15 8h0m-9-12h0m1-39h0m-8 146h0m29-142h0m3 98h0m-21-19h0m14-18h0m3-47h0m1-12h0m1 182h0m-10-34h0m-5-34h0m-13 111h0m5-257h0m26 112h0m-19-8h0m0-55h0m-15 61h0m20 25h0m-14 37h0m25 21h0m-4-43h0"/>
<path d="M873 1190h0m-33-62h0m15 22h0m9 108h0m-21-121h0m16 146h0m-11-69h0m22 91h0m-12-176h0m-7 91h0m6-68h0m1-89h0m-4 126h0m-4 56h0m18-136h0m-12 109h0m9 14h0m-23-55h0m11-12h0m9 76h0m-16-28h0m-6-149h0m13 82h0m5-45h0m-12 68h0m15 66h0m-21-172h0m6 50h0m-6-194h0m23 69h0m-12 166h0m24-41h0m-26-24h0m17-67h0m1 45h0m-19-53h0m-7 175h0m27 18h0m-17-65h0m21 71h0m-12-40h0m-15-93h0m3 3h0m6-59h0m-6-20h0m-8 259h0m19-206h0m2-59h0m-21 160h0m16-5h0"/>
<path d="M845 1038h0m-4-10h0m7 70h0m13-90h0m-14-4h0m-8 25h0m28 95h0m4 16h0m-9-51h0m-14-14h0m-7 87h0m2 14h0m15-18h0m15 45h0m-17-188h0m14-10h0m-1 29h0m-25 11h0m18 153h0m-23-72h0m9-64h0m1 44h0m15-79h0m1 73h0m-24-37h0m8 59h0m-9 4h0m34-45h0m-4 115h0m-12 2h0m4-38h0m-24-75h0m30 56h0m0-135h0m-28 204h0m31-19h0m-31-208h0m3 192h0m9 43h0m4-164h0m16 45h0m3-46h0m-12-65h0m5 239h0m-18-243h0m-1 225h0m1 17h0m10-246h0m-15 224h0m-2-242h0"/>
<path d="M858 1173h0m4-2h0m-3-119h0m12 164h0m-30-139h0m23 94h0m11-84h0m-2 68h0m-4 22h0m0-39h0m0-152h0m-10 167h0m-3-32h0m-9-35h0m2 36h0m17-111h0m7 162h0m-27-51h0m27 84h0m-17-65h0m-4-60h0m-8 143h0m20-127h0m-15 27h0m24 37h0m-4-136h0m-25 206h0m30-77h0m-3 96h0m-23-119h0m2 29h0m-5-199h0m1 166h0m3 3h0m1 25h0m-4-214h0m8 213h0m21-117h0m-14 145h0m3-87h0m5-32h0m-1 86h0m-13-155h0m9 199h0m7-110h0m-11 8h0m-9-51h0m18 147h0m-27 70h0m6-156h0"/>
<path d="M875 993h0m-25 182h0m19-27h0m-25-20h0m-5-85h0m27 120h0m-19-96h0m13 123h0m-21 29h0m13 53h0m3-60h0m-1-111h0m-12 9h0m1-16h0m4-56h0m1 149h0m-8-78h0m27 42h0m-1 21h0m3-17h0m-11-28h0m-15 61h0m24-35h0m7 80h0m-24-19h0m6-97h0m-9 52h0m28-20h0m-1 71h0m-7-158h0m-5-16h0m-20 105h0m3-53h0m15 7h0m-1-59h0m1 104h0m12-73h0m-24 103h0m4-19h0m4 6h0m13-101h0m-10 89h0m13 69h0m0-122h0m-19-163h0m17 66h0m-26 227h0m0-142h0m14 67h0m10 87h0"/>
<path d="M860 1219h0m-14-37h0m-7-114h0m3 66h0m3 10h0m5-71h0m9 47h0m-5 73h0m-6-151h0m7 63h0m19-13h0m-22-48h0m3 155h0m-16-2h0m8-145h0m9-58h0m11-1h0m5-5h0m-18 169h0m21 103h0m-19-66h0m-17 7h0m33-21h0m2-72h0m-35-116h0m18 234h0m-3-72h0m-16 11h0m20 69h0m10-82h0m-25-43h0m0 87h0m24-76h0m-9 5h0m-7-21h0m9 16h0m-21-39h0m35 65h0m-3 11h0m-4-20h0m-29 11h0m29-124h0m-23 163h0m-2 5h0m12-74h0m-5 17h0m26 6h0m-20 72h0m-10-50h0m12-145h0"/>
<path d="M875 1228h0m-19-23h0m-16-13h0m34 14h0m-34 19h0m35-198h0m-36-17h0m22 127h0m-6-48h0m-9 97h0m28-32h0m-29-130h0m3 83h0m17-108h0m-4 57h0m7 44h0m-1 184h0m-21-65h0m-5-10h0m14-35h0m-1 15h0m12-6h0m-10-30h0m16-15h0m-8-69h0m-3 33h0m-16 146h0m16-61h0m15-119h0m-28 147h0m15-83h0m6-110h0m-30 86h0m23 102h0m-17-123h0m4 54h0m-1-95h0m10 141h0m14-136h0m-14 110h0m4-103h0m-4 69h0m-17-9h0m5 75h0m-6-112h0m1-128h0m30 210h0m0-39h0m-9 11h0m-16 113h0"/>
<path d="M861 1175h0m-21 79h0m-1-237h0m34 152h0m-7-39h0m-22-57h0m11 174h0m-5-157h0m-8 19h0m19-95h0m-4 213h0m10-204h0m6 256h0m-1-28h0m-16-214h0m-13 131h0m16-4h0m4-156h0m-16 13h0m-5 117h0m30 68h0m2-176h0m-10 34h0m-13 110h0m11-87h0m-13 107h0m26-61h0m-31 29h0m11 1h0m18 14h0m-5-38h0m4 140h0m-12-216h0m9 115h0m-21 16h0m3 33h0m-9-251h0m33 213h0m-16-84h0m4 61h0m5 113h0m-21-270h0m0 237h0m6-79h0m-4-117h0m19 189h0m2-84h0m1 113h0m-18-30h0m-1-60h0"/>
<path d="M852 1139h0m5-6h0m-3-142h0m20 10h0m-22 167h0m4-124h0m7 182h0m-13-130h0m23 96h0m-32-141h0m11 176h0m3-65h0m10-110h0m-18 127h0m15-14h0m-13-170h0m0 155h0m25-68h0m-29 100h0m19-116h0m-4-86h0m-18 223h0m33 12h0m-5-24h0m-6-179h0m-16 160h0m-4 12h0m2-16h0m-2-32h0m17 92h0m-13-28h0m13-20h0m-22-61h0m17 41h0m14-57h0m-3-53h0m-2 215h0m9-62h0m-24 6h0m-11-48h0m33 10h0m-16-69h0m4 45h0m-1-28h0m-4-22h0m11-16h0m-2 45h0m-22 84h0m10-23h0m19-178h0"/>
<path d="M856 1051h0m18 99h0m-31-37h0m0-1h0m30 24h0m-31-6h0m-4 97h0m16-37h0m6-23h0m-13-71h0m12-47h0m15 177h0m-27-99h0m13 50h0m15 88h0m-14-100h0m-14 13h0m25-89h0m-2 51h0m-21 6h0m20-107h0m-26 201h0m31-84h0m-14-35h0m-10 33h0m-6-4h0m31 19h0m-12 81h0m12-183h0m-4 54h0m1-51h0m-21 137h0m1 18h0m2-46h0m12 66h0m5-138h0m-23 50h0m-4 64h0m9-121h0m10 37h0m-6 46h0m-2-187h0m-14 76h0m7 7h0m6 71h0m5 125h0m11-76h0m-25 47h0m24-47h0m-1-223h0"/>
</g>
<use href="#v16" fill="none" stroke="#111" stroke-width="1.1" stroke-linejoin="round"/>
<rect x="841.3" y="1134.1" width="31" height="3.4" fill="#fff"/>
<use href="#v17" fill="#AE70B0"/>
<g stroke="#000" stroke-opacity="0.170" stroke-width="4.8" stroke-linecap="round" fill="none">
<path d="M900 1077h0m16-68h0m-20 248h0m0-146h0m-9 12h0m6-25h0m2-52h0m13 29h0m3-5h0m6-10h0m-4 176h0m-12-59h0m-6 47h0m9-6h0m16-219h0m-9 241h0m-24-179h0m31 156h0m-26-85h0m13-8h0m-10 16h0m27-59h0m-24 13h0m14 122h0m-17-87h0m-3 20h0m8-138h0m-3 11h0m2 229h0m16-235h0m-16 118h0m1 37h0m-5-205h0m19 235h0m-5-77h0m-15-46h0m7 105h0m-13-18h0m31-3h0m-29-35h0m29 24h0m-3-128h0m-26 7h0m20 114h0m-5 27h0m-19-148h0m2 166h0m19 68h0m-22-82h0m37-17h0m-30-33h0m8 81h0"/>
<path d="M888 1237h0m30-66h0m-14-77h0m-7-68h0m14 85h0m-24 54h0m28-50h0m6 1h0m-5-52h0m-10 11h0m-10 157h0m0-158h0m21 42h0m-18-57h0m10 160h0m9 55h0m-2-241h0m-11 89h0m16 23h0m-30 82h0m-5-70h0m32-145h0m-5 157h0m4-88h0m-21-56h0m-6 197h0m5-205h0m8 102h0m-8 50h0m2 24h0m24-61h0m-19-179h0m-2 224h0m15-94h0m-8 14h0m-17 18h0m15 71h0m5 0h0m-3-46h0m6-71h0m-8-31h0m-19 98h0m25 45h0m-2-126h0m-19-31h0m1 94h0m17-83h0m-17 9h0m-1-6h0m7 79h0m11-33h0m-2 92h0"/>
<path d="M907 1193h0m-4 24h0m9-193h0m3 105h0m-19 61h0m23-42h0m-1-131h0m-22-81h0m1 300h0m-6-244h0m8 95h0m-10-18h0m29 28h0m-11 93h0m-9-144h0m-13-21h0m5 118h0m25-23h0m-15 140h0m19-146h0m-29-14h0m19-84h0m-18 93h0m6 14h0m0-38h0m13-101h0m11 206h0m-27 48h0m-5-171h0m20-48h0m10 115h0m-33-30h0m4-32h0m32 145h0m-6-109h0m-12 56h0m-4-167h0m10 72h0m-18 72h0m4 50h0m16 31h0m9 13h0m-3-245h0m-24 168h0m-7-137h0m18 149h0m11-131h0m5 120h0m-25 22h0m26-95h0m-27 76h0m0-27h0"/>
<path d="M890 1075h0m29-90h0m-26 238h0m-2-19h0m19-65h0m-20-29h0m22 45h0m-19 54h0m-5-9h0m26 58h0m-1-332h0m-2 339h0m1-127h0m-14-51h0m18 177h0m-20-68h0m-7-10h0m-3-26h0m36-49h0m-14 115h0m-6-174h0m15-48h0m-2 49h0m-18 106h0m19 90h0m-14-202h0m6 88h0m-13-25h0m-2-89h0m3 98h0m-2 85h0m16-211h0m-7 208h0m8-78h0m-12-83h0m-5 138h0m16-27h0m-17 23h0m10-220h0m-11 108h0m8-51h0m19 247h0m-25-244h0m-7 232h0m27-64h0m-26-126h0m24-15h0m2 171h0m-7-54h0m-15-128h0m15 51h0m-2-90h0"/>
<path d="M921 1071h0m-7-4h0m-9 188h0m-17-180h0m33-58h0m-20 91h0m3 18h0m-7-2h0m-8-55h0m33-22h0m-26 107h0m12-135h0m-3 108h0m16-10h0m-11-10h0m-15-46h0m16 115h0m6-83h0m-31 21h0m15-116h0m9 106h0m-5-33h0m-11-19h0m5 37h0m-7 108h0m22-101h0m-20 148h0m11-147h0m16 5h0m-26 11h0m7-62h0m14 79h0m-10 123h0m-16-172h0m7-72h0m13 219h0m9-88h0m-4-53h0m-7-72h0m-1 107h0m15-37h0m-11 75h0m7-109h0m-2 107h0m-6 82h0m-16-18h0m15-206h0m4 21h0m-23 217h0m0-149h0m12 126h0m1-51h0"/>
<path d="M912 1108h0m-17 7h0m25-160h0m-15 232h0m-17 17h0m28-89h0m-6 148h0m-20-246h0m16 175h0m-5-120h0m2 87h0m5 66h0m-2-18h0m-3-81h0m-4-73h0m-3 182h0m6-77h0m7-46h0m-22-22h0m23-26h0m-24 115h0m29-60h0m-14 77h0m-4-170h0m-4 134h0m10-89h0m18 182h0m-10-121h0m11-54h0m-16 89h0m-4 56h0m-10-100h0m5-7h0m8 15h0m-19-60h0m18 13h0m15 76h0m-16 30h0m-17 1h0m12-10h0m5-120h0m11 92h0m-24 35h0m10-121h0m14 133h0m-4-20h0m-21-37h0m10-12h0m23-153h0m-22 112h0m21 53h0m-34 61h0"/>
<path d="M916 1160h0m-10-107h0m9-29h0m-3 33h0m-24 69h0m32-81h0m-32-17h0m15 233h0m-3-164h0m21 12h0m-18 9h0m17 149h0m-20-152h0m-5 38h0m2-41h0m25 4h0m-36-42h0m7 67h0m10 17h0m-18-4h0m9-24h0m24-35h0m-25-95h0m-1 178h0m11-17h0m-9 31h0m3 27h0m-6-76h0m26-106h0m5 99h0m-26 14h0m-7-68h0m23-2h0m0 177h0m-8-118h0m-7 15h0m25 12h0m-16-99h0m-16 123h0m14-35h0m-13 8h0m0 2h0m22 56h0m-25-119h0m23 47h0m-26 14h0m23 10h0m-5-113h0m-8 37h0m6 23h0m-4 4h0m-9 68h0"/>
<path d="M905 1203h0m-9-5h0m2 13h0m-7-56h0m-1-105h0m18 77h0m-15-128h0m20 191h0m4-42h0m-22-152h0m26 34h0m-30 119h0m24 53h0m-8-36h0m11-107h0m-3 98h0m0-91h0m-6 109h0m-6-88h0m-18 60h0m21-8h0m9-17h0m1-68h0m-16 122h0m17-37h0m-20-35h0m4 14h0m-7 40h0m2-88h0m17 13h0m-5-58h0m2 173h0m-10 20h0m-4-39h0m15 65h0m3-143h0m-20 138h0m20-28h0m6-181h0m-34 69h0m29 127h0m4-78h0m-20-120h0m-3 178h0m20-97h0m-24-9h0m29 133h0m-33-95h0m1 77h0m31-143h0m-21 97h0m17-114h0"/>
<path d="M903 1074h0m-7-87h0m12 118h0m-14-52h0m13-48h0m7 39h0m-2 141h0m0 54h0m-21-125h0m-4-13h0m4 36h0m28-65h0m-7-21h0m-12 40h0m20 137h0m-18-151h0m-6 25h0m0-101h0m18 53h0m-22-20h0m15 176h0m-6-81h0m-11-87h0m20 90h0m9-137h0m-7 105h0m-7 37h0m-11-43h0m18 73h0m-16-191h0m22 187h0m-32-124h0m34 3h0m-32 59h0m28 101h0m-29-29h0m2-115h0m11 108h0m12-134h0m3 44h0m-24 89h0m17 23h0m-4-209h0m-9 40h0m-2 74h0m7-16h0m14 78h0m-9-4h0m11 32h0m1-89h0m-26 48h0m11 80h0"/>
<path d="M916 1185h0m5-105h0m-22-79h0m4 180h0m17-184h0m-30 12h0m31 231h0m-35-61h0m13 11h0m8-97h0m-12 4h0m27 24h0m-18 71h0m-1-212h0m1 118h0m10 79h0m2-4h0m4-78h0m-13 91h0m-1-66h0m-9-76h0m14 124h0m-12-75h0m14-91h0m-19 76h0m-5-64h0m-1-27h0m0 111h0m25 54h0m-14 52h0m-3-157h0m13 154h0m9-69h0m2 18h0m-9-71h0m-1 81h0m4-21h0m-4-11h0m1 35h0m4 56h0m0-89h0m-28 53h0m12 96h0m1-135h0m22 57h0m-7-93h0m-28 43h0m16 5h0m12-106h0m5 29h0m-10-8h0m-23 122h0"/>
<path d="M899 1102h0m-13 25h0m4 99h0m21-124h0m-22-25h0m9 25h0m3-15h0m-3-23h0m6 69h0m10-89h0m-13 144h0m-7-138h0m26 90h0m-17-150h0m8 249h0m3-170h0m-28 60h0m9 67h0m16-39h0m-25-17h0m36 123h0m-2-91h0m-13 16h0m-19 23h0m21-24h0m8-96h0m-18-42h0m2 222h0m16-102h0m-16 30h0m-6-14h0m-5 45h0m9-84h0m-11-19h0m27-129h0m-12 242h0m-17 19h0m28-206h0m-28 158h0m17 3h0m-11-16h0m8 3h0m21-138h0m-32-37h0m21 147h0m-21-64h0m23 109h0m-25-58h0m22-31h0m-12-12h0m1-16h0m3-96h0"/>
<path d="M890 1149h0m22-100h0m-5-6h0m16 197h0m-7-103h0m-22 5h0m28-51h0m-5 2h0m-16-4h0m-1 72h0m14 44h0m-11-44h0m-13-76h0m7 98h0m-2 57h0m27-70h0m-29 84h0m2-90h0m-1-68h0m-5 94h0m8-124h0m-12 91h0m13-142h0m22 196h0m-31-84h0m20 66h0m6-9h0m-17-82h0m13-59h0m-15 133h0m-8-41h0m24-84h0m-24 27h0m29-6h0m-3 81h0m-24-81h0m7 86h0m18-35h0m-24-104h0m-4 121h0m24 89h0m-21-85h0m22 34h0m-19-82h0m25 75h0m-18-74h0m-8 46h0m21 66h0m-1-48h0m8-83h0m-25-100h0m-6 41h0"/>
<path d="M886 1010h0m30 35h0m-25 93h0m20 43h0m-22-112h0m33 131h0m-36-40h0m23-34h0m13-47h0m0 138h0m-10-140h0m-1 133h0m-5 47h0m1-87h0m15-46h0m-32-76h0m-3-63h0m15 55h0m18-33h0m1 224h0m-4 12h0m-31-130h0m25 55h0m6-98h0m-26 99h0m-2-14h0m-2 4h0m29-126h0m-6 190h0m-20-126h0m16 113h0m-13-56h0m21 57h0m-12-143h0m18 159h0m-27-148h0m22 8h0m8 116h0m-33-110h0m-4-71h0m1 113h0m28 60h0m-11 3h0m11 73h0m-12-189h0m-3-71h0m7 167h0m-14-119h0m13 91h0m-7 4h0m11 18h0"/>
<path d="M915 995h0m7 98h0m-28 28h0m-4 116h0m4-199h0m26 116h0m-6-82h0m-19 40h0m-4 91h0m17-114h0m-4-13h0m8 57h0m-6 43h0m-1 9h0m1-47h0m12-8h0m-1 47h0m-10 19h0m-6-86h0m17 158h0m1-255h0m-5 67h0m-29-96h0m4 89h0m23-10h0m-13 132h0m-1-47h0m-1-33h0m12 44h0m-23-132h0m24 149h0m-11 44h0m-6-176h0m29 231h0m-1-91h0m1-46h0m-9 94h0m-15-26h0m-11-93h0m8 115h0m7-183h0m-5 101h0m-5-129h0m15 101h0m7 1h0m-7-83h0m14 28h0m-27-81h0m21 63h0m-19 31h0m20 18h0"/>
<path d="M890 1101h0m20 67h0m-22 1h0m19 66h0m-21-175h0m29-21h0m3 155h0m-32-128h0m30 123h0m-20-28h0m-1 104h0m-8-223h0m31 167h0m-25-4h0m-6-115h0m20 13h0m-8 63h0m-9-68h0m33 91h0m-8-51h0m-17-86h0m-8 57h0m21-5h0m-21 60h0m7-74h0m11 139h0m-6-83h0m-11 81h0m30-100h0m-10 67h0m-9-153h0m-4 165h0m15-217h0m-27 241h0m19-121h0m2 142h0m2-186h0m-21 13h0m22 88h0m-4 109h0m-12-264h0m20 135h0m-14-68h0m4 80h0m-2-182h0m-15 153h0m4 100h0m24-155h0m-15 112h0m-6 63h0m17-45h0"/>
<path d="M899 1180h0m6-123h0m8 213h0m-16-88h0m-6-27h0m25-101h0m-7 85h0m-3 115h0m-14-69h0m8-144h0m-2 39h0m1 11h0m11 1h0m0-11h0m5 64h0m-20-148h0m-9 116h0m18 10h0m-10-69h0m-1-15h0m17 100h0m-19-58h0m-4-77h0m1 161h0m-1-124h0m26-55h0m0 75h0m-7 201h0m-15-173h0m3 11h0m11 32h0m-18 134h0m1-29h0m-3-181h0m24 114h0m-9 48h0m10-100h0m-9-32h0m-10-109h0m1 68h0m-4 33h0m16 79h0m1-15h0m-15-89h0m1-99h0m5 120h0m10 10h0m-13 170h0m23-237h0m-14 177h0m11 5h0"/>
</g>
<use href="#v17" fill="none" stroke="#111" stroke-width="1.1" stroke-linejoin="round"/>
<rect x="888.4" y="1136.8" width="31" height="3.4" fill="#fff"/>
<use href="#v18" fill="#C0649F"/>
<g stroke="#000" stroke-opacity="0.170" stroke-width="4.8" stroke-linecap="round" fill="none">
<path d="M959 1216h0m-3-18h0m-16-43h0m5 42h0m-9-154h0m7 207h0m8-107h0m-10-98h0m12 233h0m-14-192h0m10 125h0m-13-13h0m10-138h0m-11 13h0m-2 81h0m20-27h0m-3-106h0m-10 186h0m20-128h0m-18-8h0m13 103h0m-6-147h0m16 71h0m-13-15h0m-12 94h0m17-48h0m-18 95h0m10 13h0m15-34h0m-25-163h0m11 112h0m-14-106h0m8 79h0m21-12h0m-17 114h0m15-168h0m-14 2h0m1 54h0m20-58h0m-24 173h0m0-193h0m7 199h0m-9-202h0m25 129h0m-28 71h0m13-95h0m-12-3h0m20-30h0m-3-31h0m5 54h0m-13 34h0m18 60h0"/>
<path d="M952 1147h0m13-25h0m-22-94h0m-4 100h0m24 108h0m-11-163h0m-10 67h0m-7-34h0m18 132h0m-7-183h0m-2 145h0m8-136h0m-10 92h0m-2-101h0m20 16h0m-4 85h0m-4 50h0m5 12h0m-19-75h0m4-4h0m12-40h0m-21-7h0m24-38h0m5 67h0m-15 48h0m9-75h0m-8-56h0m-7-22h0m24 136h0m-7 27h0m-23-87h0m28-55h0m0 66h0m-13-41h0m18 51h0m-34 33h0m12-65h0m11 80h0m11-136h0m-9-16h0m-3 127h0m-8 56h0m12-33h0m4-102h0m-1 60h0m5-44h0m-32 46h0m24 44h0m-16-55h0m2-82h0m6 101h0m16 50h0"/>
<path d="M952 950h0m16 306h0m1-26h0m-14-107h0m-14 121h0m20-68h0m-26-27h0m26 105h0m4-232h0m1 137h0m-4-150h0m0 68h0m-5 71h0m-20 76h0m-4-91h0m12-62h0m1 147h0m10-180h0m10 135h0m-3-116h0m-2 37h0m-3 7h0m-2 117h0m9-43h0m-30-68h0m10 71h0m25-32h0m-34 4h0m13-110h0m18 42h0m-16-52h0m-1 22h0m-2 186h0m10-115h0m7 28h0m2 114h0m-32-103h0m30-149h0m-6 234h0m-7-123h0m-14 97h0m19-38h0m3-64h0m-14 87h0m8-53h0m4-54h0m-20 76h0m-2-118h0m16-9h0m1 75h0m-13-83h0m15-70h0"/>
<path d="M969 1024h0m-32 154h0m8-122h0m-4 127h0m3-141h0m18 99h0m-19 52h0m-1-15h0m18-3h0m10-91h0m-22-41h0m-8 26h0m20-3h0m-17 1h0m5 45h0m17 138h0m-33 10h0m34-220h0m-33 161h0m26-68h0m-7-97h0m10 68h0m-7 48h0m-14-92h0m-2-61h0m-4 247h0m32-119h0m1 19h0m-22-73h0m-13 100h0m8-84h0m-8 42h0m20-8h0m5-13h0m-5 37h0m-3-127h0m-2 109h0m6-93h0m-14 154h0m14-116h0m-3 49h0m14-5h0m-27 67h0m9-79h0m11 12h0m-24-23h0m15-4h0m-7 30h0m-10-79h0m12 222h0m-5 5h0m14-212h0"/>
<path d="M954 1039h0m-15 112h0m7 41h0m8-69h0m-12 7h0m21 62h0m-10-135h0m16 157h0m-35-185h0m8 77h0m11-32h0m16 52h0m-19 80h0m14-42h0m-6 99h0m-18-69h0m-2-78h0m6 40h0m9 80h0m-18-71h0m19 43h0m-6-36h0m17-113h0m0 92h0m-1-41h0m-29-29h0m24 45h0m-14 16h0m-8-60h0m15 67h0m-5 11h0m-2-89h0m9 179h0m5-121h0m-21 61h0m12-81h0m9 147h0m-27-32h0m30-81h0m-10-60h0m10 0h0m-19 51h0m0-68h0m13 205h0m11-155h0m-28-93h0m-4 208h0m33-145h0m0-48h0m-7 115h0m-6 32h0m14-3h0"/>
<path d="M949 1066h0m12 0h0m-12 119h0m-4-12h0m2 4h0m16-178h0m-11 6h0m-3 270h0m9-297h0m-19 242h0m13 18h0m5-46h0m-14-32h0m-9-7h0m15-71h0m-1 148h0m-5-73h0m-4-105h0m10-49h0m-1 228h0m6-145h0m2-27h0m-10 59h0m-4-94h0m-3 109h0m28-91h0m-10 134h0m-1-29h0m5-55h0m-10 12h0m-2 102h0m13-42h0m-11-96h0m12 104h0m-15 61h0m-8-108h0m16 3h0m4 55h0m9-128h0m-17 145h0m-19-49h0m13-52h0m13 52h0m-18-25h0m-1 75h0m24-61h0m-12 43h0m4-112h0m-22 73h0m30 71h0m-8-58h0m-10 61h0"/>
<path d="M967 1048h0m-9 135h0m8 37h0m0-127h0m-21 134h0m-7-38h0m9-6h0m20-140h0m-34 156h0m16-51h0m6-80h0m-11 47h0m5 152h0m-16-120h0m2-23h0m9-36h0m24-15h0m1 53h0m-3-91h0m-18 5h0m-12 47h0m34 55h0m-35 79h0m-1-172h0m22 72h0m5-77h0m-12 100h0m-14 52h0m6-12h0m25 10h0m-30 5h0m29-153h0m-30 201h0m17-17h0m10-155h0m-3 85h0m-16 35h0m25-26h0m-33-95h0m29 113h0m-25-90h0m26 96h0m-5-11h0m-4-43h0m10-24h0m-10-58h0m4 101h0m7-38h0m-10-29h0m-6-3h0m-18 87h0"/>
<path d="M949 1185h0m-10-53h0m27 74h0m-33-70h0m30 82h0m-31 33h0m5-234h0m31 246h0m-12-53h0m7 28h0m-19-149h0m23 92h0m-33-64h0m35 38h0m-23-101h0m13 163h0m11-55h0m-33-43h0m16-6h0m9 127h0m6-181h0m-32 55h0m27 98h0m-25-13h0m21-135h0m2 72h0m-20-56h0m13 34h0m-8 77h0m-2-79h0m-4 56h0m18-45h0m4-60h0m0 65h0m-17 50h0m7-63h0m1 7h0m15 42h0m-2-142h0m-13 33h0m-13 99h0m28-26h0m-6 53h0m-10-22h0m-5 48h0m14-67h0m-19-126h0m27 28h0m-26 153h0m23-164h0m-13 81h0"/>
<path d="M941 1119h0m-5 136h0m11-255h0m1 138h0m9-30h0m-3-27h0m-21 62h0m33 46h0m-29-117h0m17 36h0m1 29h0m-4 39h0m-17-41h0m23-3h0m-14-28h0m2 51h0m16 66h0m-23 0h0m25-48h0m-9-169h0m2 145h0m0 31h0m-5 11h0m-15-178h0m20 98h0m5 56h0m-17 24h0m16-142h0m-23 50h0m0 127h0m19-57h0m8-146h0m-26 174h0m17 53h0m-22-31h0m11-176h0m-3 71h0m11-10h0m-7 29h0m-2 72h0m-8-110h0m35 2h0m-24 143h0m10-19h0m-13-77h0m16 25h0m-8-93h0m-17 75h0m15 17h0m3-51h0m16-46h0"/>
<path d="M968 1144h0m-35-37h0m8-82h0m-1 7h0m9 173h0m-7-205h0m0 50h0m-7 185h0m14-84h0m-11-11h0m19-17h0m-10 25h0m1 50h0m3-123h0m-18 25h0m24 55h0m-22-10h0m30-59h0m0 54h0m-25-22h0m8 84h0m4-11h0m-10-82h0m17 67h0m-4-163h0m-18 176h0m26-10h0m3 41h0m-2-148h0m-13 5h0m9-61h0m-8 132h0m-10 86h0m11-227h0m-15 29h0m32 29h0m-17-32h0m-9 124h0m25-104h0m-23 119h0m11-143h0m-3 7h0m-17 24h0m10-17h0m14 103h0m5 33h0m-18-91h0m7 92h0m-18-135h0m32 132h0m-20-33h0"/>
<path d="M960 1219h0m-6-98h0m8 121h0m1-43h0m-2-41h0m-14-9h0m-14-10h0m30-173h0m-6 245h0m-7-89h0m-5-55h0m7 66h0m7 102h0m-19-103h0m28-104h0m0 105h0m-35 36h0m0-24h0m22 9h0m-5 71h0m9-32h0m4 46h0m-22-44h0m1-21h0m5-48h0m-11 28h0m2 36h0m20-75h0m9 12h0m-27-5h0m10-50h0m-9 13h0m22 155h0m-11-168h0m-10 147h0m13-125h0m5 7h0m-2-69h0m-3 21h0m14 89h0m-22-38h0m19 143h0m-3-23h0m-2-28h0m-23-78h0m0-160h0m18 277h0m-14-205h0m15 90h0m-20 33h0m26 10h0"/>
<path d="M961 1226h0m4 31h0m-10-105h0m-13-153h0m22 71h0m-16 76h0m-10 31h0m8-92h0m-5-55h0m19 95h0m5 1h0m-2 16h0m-10 116h0m-1-115h0m4 57h0m12-152h0m-18 24h0m4 46h0m-1 123h0m-9-97h0m10-29h0m-1-32h0m-12 124h0m-8 24h0m34-37h0m-19-42h0m-7-30h0m-5 79h0m6-70h0m16-50h0m7 117h0m-14-136h0m4-7h0m5-29h0m-22 170h0m-2 63h0m27-163h0m-12 30h0m-16 98h0m0-45h0m1 8h0m22-54h0m-11-20h0m5 4h0m0 114h0m3-74h0m10 55h0m-16 7h0m-10-82h0m30-13h0m-32-86h0"/>
<path d="M956 1206h0m3-169h0m-14 7h0m2 181h0m15 15h0m-5-109h0m4-47h0m-8-69h0m-16 173h0m11-186h0m17 201h0m-27-21h0m-3 53h0m21-128h0m-17-47h0m8 100h0m7-55h0m-11-10h0m19 41h0m-26-29h0m33 4h0m-26 75h0m17-115h0m-18 153h0m16-47h0m-7-105h0m-7-30h0m-3 57h0m2 89h0m-1-72h0m1 69h0m-1-166h0m1 203h0m-2-159h0m9 19h0m19 78h0m-36-100h0m37 87h0m-30-28h0m13-18h0m-7-58h0m8 230h0m-18-240h0m-3 70h0m1 132h0m4-43h0m4-63h0m12-42h0m-10 106h0m18-70h0m-7-66h0"/>
<path d="M937 1097h0m17-35h0m0 134h0m4-4h0m-4-84h0m-6 127h0m6-176h0m-1 148h0m-17-143h0m1 100h0m6-63h0m1 70h0m-9-44h0m25 46h0m-11 37h0m-8-209h0m27 231h0m-27 0h0m23-128h0m-6-30h0m-10 44h0m-8 65h0m9-179h0m-1 3h0m-4 27h0m1 160h0m-5-46h0m-1-54h0m30-13h0m-34 159h0m15-88h0m-18 22h0m26-160h0m-5 137h0m-17 28h0m16-13h0m9-73h0m-4 71h0m-13-61h0m-1 75h0m24-31h0m-7-114h0m-2 40h0m-17 24h0m15 89h0m-23-148h0m19 230h0m-17-14h0m22-5h0m-22-118h0m26-88h0"/>
<path d="M955 1052h0m-12-35h0m10 97h0m-18-24h0m31 42h0m-9 63h0m-22-115h0m31 69h0m-4 3h0m-20-89h0m2 65h0m24 110h0m-6-65h0m-12 72h0m19-121h0m-6 67h0m-16-116h0m11-60h0m-1 74h0m-11-1h0m15 174h0m-15-207h0m-7 157h0m22-122h0m0 64h0m3 6h0m-14-120h0m-9 2h0m2 151h0m24-21h0m-10-134h0m-24 17h0m27 97h0m-17 105h0m5-185h0m-15 91h0m10-83h0m-3 129h0m20-131h0m-16 105h0m-5 56h0m9-109h0m12 10h0m-10 0h0m0-17h0m3-106h0m-6 163h0m16-91h0m-24 41h0m18-3h0m-19 40h0"/>
<path d="M967 1132h0m0 49h0m-22-26h0m-5-80h0m12 109h0m11 20h0m-7-104h0m-10 132h0m9-128h0m-21 26h0m2 110h0m15-159h0m-12 186h0m16-64h0m-22-141h0m7-35h0m-4 157h0m4-3h0m28 81h0m-17-176h0m-2 51h0m-15-21h0m-1 25h0m7-45h0m10 2h0m0-27h0m7 49h0m-4-125h0m-9 96h0m4 120h0m-11-137h0m19-48h0m-12 57h0m-3-16h0m16 129h0m1 8h0m-10 65h0m-10-128h0m27 19h0m-23 47h0m1-164h0m22 63h0m-18-95h0m-12 49h0m2 90h0m7-36h0m-5 65h0m-1-54h0m2-100h0m8 83h0m4-46h0"/>
<path d="M964 1117h0m5 53h0m-26-149h0m3 48h0m11 114h0m-9-81h0m10-64h0m-2 103h0m0 89h0m-18-72h0m26-5h0m-27 16h0m-2-32h0m2-138h0m7 90h0m17-90h0m-26 219h0m31-9h0m-29-50h0m31 80h0m-25-13h0m-9-101h0m20 7h0m-16 102h0m-4-124h0m32 54h0m-9 75h0m6-89h0m-1 31h0m-28-6h0m31-45h0m-24 45h0m-4 0h0m17-127h0m-14 38h0m27 106h0m-31-66h0m2-126h0m7 110h0m19 76h0m-26 65h0m28-33h0m1-151h0m-24 90h0m10-45h0m10-108h0m-17 37h0m5 99h0m-6-13h0m-1-72h0m11 186h0"/>
<path d="M935 1134h0m34 8h0m-18-43h0m-14-46h0m15 132h0m11 12h0m-29-192h0m16 126h0m-7 71h0m7-193h0m6 82h0m-9-31h0m16 202h0m-30-212h0m22-12h0m-20 66h0m24 67h0m-23 37h0m29-108h0m-3 63h0m-28-8h0m21-70h0m8-1h0m-21 96h0m25-94h0m-9 80h0m-23 40h0m-2 48h0m23-80h0m-14-23h0m21-96h0m-20 200h0m21-43h0m-25-24h0m10-150h0m1 109h0m10-121h0m-3 80h0m0-18h0m0 96h0m-23-28h0m22-140h0m-16 126h0m15 27h0m8-94h0m-21 9h0m2-82h0m-6 73h0m3 60h0m-6 39h0m-2 39h0"/>
<path d="M939 1107h0m24 64h0m-21-77h0m7 27h0m3 75h0m15-22h0m1-35h0m-13 14h0m10-97h0m-6 56h0m3 34h0m-9-88h0m13 44h0m1 60h0m0 35h0m-20-35h0m11-41h0m-1 18h0m-16-91h0m12 19h0m3 31h0m-24 111h0m36-156h0m-8-14h0m-16 92h0m16-100h0m-7 78h0m-8 101h0m21-27h0m-8-108h0m10 59h0m-20 115h0m10-148h0m0-8h0m11 130h0m1-32h0m-15-15h0m10-176h0m-32 258h0m33-157h0m-14-113h0m0 76h0m-4 96h0m-6-37h0m24-82h0m-2 84h0m-7 12h0m0-10h0m-9 102h0m21-107h0m-6-30h0"/>
<path d="M942 1064h0m14 51h0m-1-7h0m1 116h0m13-186h0m-2 82h0m-26 8h0m9 69h0m13-31h0m4 83h0m-27-24h0m9-101h0m11-114h0m4 70h0m-5 107h0m-20-73h0m16 89h0m-20-63h0m14 78h0m-13-73h0m0 14h0m29-145h0m-14-8h0m-3 87h0m-1 84h0m22-27h0m-7 43h0m-2-109h0m4-38h0m-29 151h0m25-86h0m3 101h0m-23-39h0m0-92h0m-3 37h0m-1 116h0m12-198h0m-7 147h0m23 3h0m-31-62h0m3-24h0m17-98h0m-11 58h0m10 99h0m-16-135h0m25 151h0m-5 19h0m-18-53h0m5-36h0m10-32h0m0 68h0"/>
</g>
<use href="#v18" fill="none" stroke="#111" stroke-width="1.1" stroke-linejoin="round"/>
<rect x="935.5" y="1136.8" width="31" height="3.4" fill="#fff"/>
<use href="#v19" fill="#E3609E"/>
<g stroke="#000" stroke-opacity="0.170" stroke-width="4.8" stroke-linecap="round" fill="none">
<path d="M989 1176h0m27-50h0m-35 110h0m27-104h0m-27-44h0m33-15h0m-21 145h0m-6-54h0m3 78h0m13-107h0m1 30h0m2 43h0m-8-55h0m-15 111h0m5-92h0m9 19h0m7-72h0m-22-29h0m16 85h0m10 21h0m8 65h0m-4-87h0m-27-129h0m-2 167h0m33 42h0m-27-50h0m5-31h0m-3-6h0m-4-154h0m2 199h0m6 31h0m16 9h0m-21-229h0m14 73h0m7 78h0m-2-52h0m-23-74h0m12 192h0m7-133h0m-18 22h0m-3 130h0m0-268h0m16 126h0m-15 18h0m6 38h0m5 26h0m4 39h0m6-87h0m4 63h0m-17-71h0m3-44h0m-11 3h0"/>
<path d="M1002 1167h0m-17-127h0m6 97h0m12-107h0m11 141h0m-24-64h0m14-79h0m12 164h0m-22-197h0m-10 180h0m22-27h0m-23-24h0m6 67h0m6-83h0m15 34h0m3-53h0m3 135h0m-34-177h0m23 58h0m-24-99h0m22 149h0m10 64h0m-14 13h0m-19-83h0m14 124h0m-4-70h0m15 10h0m-22-115h0m17 66h0m4-78h0m9 113h0m-17-74h0m17 94h0m-13-29h0m-13 58h0m0-18h0m0-146h0m15 176h0m-22-178h0m1 72h0m16-22h0m-13 20h0m6 53h0m-7-99h0m-3 140h0m19 14h0m-6-73h0m-11 18h0m0 15h0m25-123h0m-27 26h0m19-54h0"/>
<path d="M980 1204h0m15-37h0m2-23h0m15-11h0m-21 110h0m25-112h0m-18-78h0m-18 107h0m36 8h0m-18 78h0m8-124h0m-13-2h0m-13 91h0m4-91h0m22-43h0m-15 16h0m25 5h0m-34 139h0m24-118h0m-4 81h0m-17 49h0m24-69h0m2 42h0m-3-73h0m1 45h0m4-121h0m-4 13h0m-2 120h0m-3-103h0m5 88h0m-22-132h0m6 140h0m15-133h0m-24 28h0m30 55h0m-2 86h0m-14-91h0m13-8h0m-30 114h0m27-195h0m1-39h0m-6 221h0m-15-10h0m10-160h0m-13 173h0m-3-63h0m34-4h0m-30 53h0m14-68h0m-20 46h0m26-159h0m2 90h0"/>
<path d="M1000 1209h0m16-139h0m1 27h0m-16 57h0m-4 46h0m-14-42h0m23-34h0m-24-111h0m2 199h0m23-49h0m-23-95h0m1 150h0m28-147h0m-33 66h0m32 2h0m-4-31h0m-24 74h0m15-7h0m13-60h0m-25 93h0m29-140h0m-7-33h0m2 71h0m-1 113h0m-1-173h0m-1 127h0m-25-135h0m-1 215h0m32-35h0m-2-43h0m-32-141h0m32 19h0m-2-25h0m-21 37h0m5 34h0m0-94h0m4 167h0m-3-117h0m6 204h0m13-91h0m-7-39h0m-15 85h0m3-143h0m-4 126h0m9 16h0m-17-73h0m3-72h0m27 68h0m-6 112h0m-15-79h0m2 49h0m23-33h0"/>
<path d="M1000 1151h0m-19 72h0m32-79h0m-14-5h0m-17 23h0m11-47h0m-2-6h0m-7 77h0m5-26h0m4-3h0m17-143h0m-5-9h0m-17 76h0m9 184h0m9-1h0m-19-24h0m2-126h0m-5-125h0m17 121h0m-4 124h0m7-103h0m12 51h0m-15-80h0m12 137h0m-16-95h0m13 149h0m-14-77h0m18-67h0m-33-27h0m24 62h0m4-1h0m-5-64h0m-2-21h0m-20 51h0m9-44h0m11-2h0m12 40h0m-33 136h0m31-213h0m-13-21h0m12 111h0m-6 3h0m-1 87h0m11-100h0m-15 80h0m-20-12h0m19-5h0m-15-54h0m-4 124h0m4-57h0m15-22h0m2 33h0"/>
<path d="M990 1238h0m25 28h0m-30-24h0m-2-221h0m12 258h0m-1-110h0m-4 5h0m-4-87h0m27 142h0m-9-141h0m-22 14h0m2 94h0m26 49h0m-23-139h0m3 98h0m15-199h0m9 47h0m-9 111h0m11-74h0m-12 47h0m8 109h0m-12-45h0m9-50h0m-30-10h0m31-34h0m0 136h0m-19 16h0m-2-155h0m-6-84h0m15 101h0m-18-60h0m14 91h0m12 53h0m-25-61h0m21-24h0m-6-3h0m-6 18h0m20 69h0m-30 13h0m4-36h0m8-70h0m-6 140h0m27-54h0m-2-67h0m-10 40h0m-21-127h0m19 72h0m11 33h0m4 53h0m-17-125h0m8 33h0m-16 11h0"/>
<path d="M999 1204h0m6-110h0m-4 12h0m-8-3h0m21 138h0m-21 12h0m0-69h0m12 39h0m-26-52h0m25-49h0m-15 127h0m8-210h0m-4 143h0m3-111h0m-16 124h0m35 28h0m-15 50h0m-15-17h0m-3-77h0m3-86h0m21 14h0m-24 99h0m1 43h0m5-161h0m-6 73h0m17 62h0m-8 33h0m3 36h0m-13-242h0m-1-34h0m29 81h0m-6 111h0m-8-39h0m-15-151h0m2 21h0m32 229h0m0-253h0m-18 143h0m-6 45h0m11-3h0m-21-86h0m32-41h0m4-4h0m-30 168h0m-4-176h0m13 136h0m10-169h0m7 167h0m-29-65h0m11 17h0m5 57h0m18 82h0"/>
<path d="M1002 1206h0m-19 38h0m12-52h0m-12-81h0m0 62h0m27-10h0m3 72h0m-3-187h0m-8 199h0m-9-224h0m10 221h0m-22-146h0m-2 70h0m23 76h0m11-111h0m-12-33h0m-16 53h0m4 39h0m-9-141h0m9 99h0m18-49h0m9 82h0m-24 16h0m-6 35h0m-5-26h0m30-146h0m-29 84h0m18-81h0m5-16h0m9 72h0m0-38h0m3 33h0m-11 76h0m-18-73h0m7-71h0m-6 95h0m5 125h0m-8-179h0m0 119h0m19-79h0m-14-63h0m7-36h0m5 166h0m3-43h0m-25 109h0m4-78h0m29 28h0m-9-48h0m9 37h0m-30 46h0m13-69h0m6 61h0"/>
<path d="M982 1184h0m9-163h0m-9 239h0m4-31h0m7-121h0m6 76h0m1-128h0m-15 10h0m25 209h0m-2-130h0m-27 45h0m22-48h0m-6-24h0m13 111h0m-29 15h0m5-31h0m28-186h0m-15 41h0m-18 142h0m17-45h0m-6-138h0m-1 180h0m-4-65h0m17 11h0m-19-58h0m0 47h0m18-18h0m-22 56h0m16 74h0m-15 15h0m7-109h0m-6-7h0m0-82h0m8-22h0m-7 113h0m27-108h0m4 83h0m-6 28h0m-4-151h0m-21 9h0m-2 63h0m2 60h0m14 17h0m-1 35h0m13 9h0m-14-12h0m5-98h0m-4 51h0m-3 96h0m-9-1h0m20-33h0m0-195h0"/>
<path d="M984 1081h0m23 75h0m9 47h0m-26-39h0m21 24h0m-24-8h0m5 52h0m11 6h0m-19-117h0m32 91h0m-35-158h0m16 201h0m-14-25h0m18-120h0m10 32h0m-3-22h0m-18 82h0m1 64h0m-9-156h0m0-64h0m32 107h0m-7-24h0m5-44h0m-6 120h0m-18-205h0m-4 74h0m26 113h0m-17-80h0m14 69h0m5-85h0m-13-11h0m13 105h0m-14 88h0m-5-76h0m24-97h0m-25 60h0m-3-49h0m11-8h0m8-41h0m-8 69h0m-4 51h0m-10 25h0m8 5h0m13-158h0m-6 110h0m-8-110h0m13 31h0m1 7h0m-24 23h0m2 88h0m-3-78h0m34 82h0"/>
<path d="M998 1250h0m-5-156h0m-10 68h0m12 40h0m18-31h0m-23-79h0m16-31h0m-25 182h0m25-116h0m7-24h0m-18 86h0m-12 20h0m13-29h0m5 96h0m-1-15h0m1-150h0m7 34h0m5 42h0m-6-134h0m-20 90h0m-7-57h0m2-22h0m31 206h0m-23-68h0m16-32h0m-23 78h0m19-237h0m9 185h0m-2-107h0m-23 117h0m20-32h0m1 45h0m-9-213h0m1 86h0m-3 73h0m-10 5h0m25-122h0m-29 173h0m0-184h0m31 1h0m-21 147h0m7-7h0m-20 2h0m15-18h0m21-85h0m-13 96h0m-10 22h0m-5-57h0m27 49h0m0 8h0m-17-9h0m16-85h0"/>
<path d="M992 1172h0m-5-68h0m15 101h0m11-15h0m-25-80h0m23 82h0m-12-7h0m-13-118h0m27 150h0m-34 0h0m35-9h0m-1 48h0m-18-132h0m9-108h0m-16 135h0m9 41h0m-15-16h0m33-54h0m-6 127h0m-29-93h0m15-70h0m14-100h0m-21 244h0m14 16h0m-16-204h0m3 1h0m8 33h0m9 136h0m-2-61h0m-24 67h0m32-4h0m-11 1h0m-21 43h0m4-235h0m15 181h0m13-112h0m3 12h0m-13 74h0m8 50h0m6-30h0m-21-166h0m22 129h0m-17 61h0m-19 18h0m0-101h0m23 1h0m-6-26h0m-18-77h0m4 125h0m19-70h0m13 206h0m-31-79h0"/>
<path d="M1012 1109h0m-32 24h0m14-73h0m-6 92h0m22-41h0m1-72h0m-13 156h0m18-18h0m-3 11h0m-26 17h0m13-139h0m-7 96h0m15 39h0m-21-18h0m8-88h0m21-87h0m-12 92h0m-7-31h0m14 169h0m-5-69h0m-21 70h0m7-209h0m11 94h0m-23-50h0m0 90h0m24-63h0m-10 109h0m0-24h0m14 20h0m-21-190h0m24 97h0m-24-38h0m20 63h0m-23 91h0m8 23h0m-10-228h0m5 250h0m16-213h0m2 118h0m-9 22h0m-11 16h0m20-65h0m-17-109h0m17 175h0m8-66h0m3 21h0m-31-130h0m-2 25h0m13 9h0m13 14h0m-29-56h0m21 41h0"/>
<path d="M997 1234h0m8 26h0m-3-61h0m0-136h0m-8 24h0m9 19h0m-4-52h0m-7 64h0m-7 9h0m7-42h0m24 46h0m-19 45h0m6-102h0m-3 113h0m-16 5h0m31-62h0m-36-108h0m1 107h0m28 49h0m6-69h0m-32-42h0m20 129h0m14 24h0m-33-54h0m1-46h0m30-75h0m-29 103h0m20-67h0m-14 46h0m18-31h0m-5 10h0m-4 49h0m-20 33h0m7 5h0m28 43h0m-6-210h0m-14 151h0m12-41h0m-7 57h0m0-96h0m-3 159h0m0-157h0m7 94h0m-8-27h0m15-90h0m-1 116h0m-24-65h0m1 47h0m29 112h0m-29-37h0m4-113h0m15-33h0"/>
<path d="M991 1038h0m0 21h0m7 18h0m7 14h0m8 97h0m-19-28h0m15 35h0m-15-31h0m-1-18h0m-12-71h0m16 54h0m-10-34h0m28 128h0m-35-216h0m24 59h0m3 123h0m-27-152h0m27 145h0m5-8h0m-25 19h0m0 46h0m-4-33h0m3-65h0m6 34h0m1 100h0m10-89h0m-18-13h0m20-46h0m5 45h0m-3-43h0m-25 74h0m-2 3h0m3 52h0m28-179h0m-31 65h0m12-13h0m7 25h0m-8-15h0m8-134h0m-16 247h0m28-61h0m-3 35h0m5-139h0m-31 11h0m6 86h0m4 30h0m15-96h0m-20-59h0m19 75h0m-24 51h0m17 25h0m-13-81h0"/>
<path d="M994 1112h0m0 83h0m-1-83h0m19-42h0m-5 32h0m-9 37h0m-6-7h0m0-63h0m15 33h0m-23 32h0m18 31h0m1 32h0m13-59h0m-12-43h0m-9-60h0m9 32h0m-20 110h0m18-18h0m-11 76h0m21-68h0m-2 30h0m-15 50h0m21-12h0m-26-62h0m19-19h0m-20-40h0m23 64h0m-25-148h0m25 9h0m4 91h0m-33 9h0m13-27h0m-10 34h0m4 99h0m-1-135h0m-2 77h0m-6 44h0m30-31h0m-11-97h0m11 141h0m-23 3h0m17-104h0m1-5h0m-10-46h0m-9 139h0m20-117h0m-19 118h0m19-8h0m-3-62h0m11-14h0m-25 41h0m8 11h0"/>
<path d="M1003 1198h0m-13-10h0m-1-54h0m11 113h0m-10-160h0m0 15h0m0 63h0m15-10h0m-5 20h0m10-6h0m-26-150h0m32 86h0m-26-41h0m11 148h0m2-100h0m-13 122h0m1-52h0m18-173h0m-13 113h0m-14 25h0m32-9h0m-5 50h0m-5-60h0m2 15h0m-19 3h0m7-102h0m-9 147h0m20-1h0m0 20h0m-6-24h0m-13 8h0m12-16h0m9 61h0m-5-94h0m-21-62h0m32 52h0m-9 77h0m7-1h0m-20 48h0m-3-24h0m-2 32h0m7-55h0m8 33h0m-17-39h0m25-27h0m-29-34h0m20 117h0m13-218h0m-32-17h0m27 213h0m-1-98h0m-26 25h0"/>
<path d="M1005 1223h0m1-88h0m-12-100h0m-13 116h0m1 52h0m17-154h0m-18 57h0m4 158h0m0-120h0m18-134h0m6 48h0m-29 184h0m17-44h0m10 57h0m5-251h0m-32 235h0m23-246h0m-5 176h0m-17 125h0m17-69h0m9-56h0m-28-50h0m36 33h0m-27-108h0m17 148h0m-18 35h0m17-114h0m-18 118h0m26-166h0m-29 91h0m0-104h0m32-1h0m-25 21h0m26 23h0m-20-65h0m-8 8h0m19 23h0m-7 179h0m-13-118h0m-2 7h0m20-5h0m-11 72h0m4-129h0m1 117h0m-10-136h0m17 157h0m-12 46h0m3-234h0m-11 186h0m21-4h0m-2-150h0m-16 85h0"/>
<path d="M1011 1131h0m-14 38h0m12-80h0m-10 160h0m0-89h0m-13 110h0m3-89h0m-3-63h0m13 62h0m-18-52h0m10-52h0m24 124h0m-28-27h0m-5-103h0m32 55h0m-8 57h0m-17 57h0m19-159h0m-8 26h0m14-92h0m-34 182h0m4 10h0m26 43h0m-8 20h0m-11-106h0m6 63h0m0-52h0m10-137h0m-12-13h0m-9 175h0m-3-85h0m7-38h0m-1-18h0m-5 28h0m17 117h0m-20 25h0m10-14h0m22-36h0m-28 45h0m21-174h0m-24 152h0m8 63h0m-1-9h0m1-83h0m19-61h0m-23 133h0m9-20h0m21-73h0m-19-58h0m6 121h0m13-21h0m-31-74h0"/>
<path d="M992 1254h0m-1-41h0m6-28h0m-7-29h0m17 68h0m-6-20h0m-1-4h0m-15 67h0m10-24h0m-6-58h0m23 59h0m-10 53h0m-17-102h0m-3-30h0m7-53h0m8 147h0m-7-238h0m18 171h0m-16 8h0m7-115h0m15 60h0m-19-90h0m16 81h0m-1-68h0m-29 177h0m22-165h0m13 125h0m-23-61h0m-13 74h0m29-19h0m-5-131h0m-21 150h0m22-49h0m-1-3h0m10-55h0m-34 61h0m11-59h0m3 11h0m10 50h0m-11-96h0m-10 7h0m23-2h0m-23 190h0m23-72h0m0-79h0m-13-25h0m-12 63h0m16 23h0m-8-51h0m0 81h0m-7-86h0m6-81h0"/>
<path d="M1000 1268h0m-14-26h0m29-177h0m-12 83h0m-18 50h0m5 1h0m21-98h0m-28 72h0m26 68h0m-14-35h0m1-39h0m-1 25h0m2-96h0m-17 24h0m24 144h0m-21-56h0m16 76h0m-19-78h0m17-137h0m-16-37h0m8 220h0m1-201h0m6-9h0m-2 196h0m-9-183h0m0 114h0m2-23h0m26 76h0m-13 50h0m-3-95h0m-1-17h0m16 53h0m4-126h0m-22 1h0m7 138h0m-5-95h0m9-60h0m3-31h0m-18 115h0m2 132h0m9-146h0m-10 7h0m5 80h0m-10-117h0m22-34h0m-13 143h0m1-2h0m17 33h0m-19-103h0m1-45h0m2-79h0"/>
</g>
<use href="#v19" fill="none" stroke="#111" stroke-width="1.1" stroke-linejoin="round"/>
<rect x="982.6" y="1168.3" width="31" height="3.4" fill="#fff"/>
<use href="#v20" fill="#E5648C"/>
<g stroke="#000" stroke-opacity="0.170" stroke-width="4.8" stroke-linecap="round" fill="none">
<path d="M1045 1261h0m-5-122h0m15 67h0m1-28h0m7 80h0m-3 22h0m0-131h0m-32 35h0m1-31h0m24 37h0m-20-65h0m-3 66h0m18-57h0m6 74h0m-21-13h0m-6-93h0m2 88h0m18 43h0m-6 63h0m-13-149h0m4-32h0m10 62h0m-3 43h0m-12-61h0m26 9h0m-26 1h0m1-10h0m24 2h0m-26-82h0m24 166h0m-13-28h0m20 44h0m-18-98h0m20 10h0m-32 21h0m11 109h0m25-60h0m-19-8h0m10-23h0m-20-45h0m2 8h0m17-66h0m-3 26h0m-19 163h0m10-148h0m-9-26h0m20 102h0m10-74h0m-29 30h0m28 40h0"/>
<path d="M1063 1143h0m-23-68h0m-11 172h0m23-168h0m1 154h0m-18-42h0m8 6h0m11 16h0m-16-95h0m-10-26h0m29 96h0m1-25h0m-22 78h0m5-87h0m15-18h0m-26 83h0m14-35h0m0 75h0m-6-10h0m15-78h0m7 114h0m-10-16h0m-19-45h0m31 59h0m-16 19h0m12-139h0m-16-35h0m-10 83h0m25-101h0m-7 38h0m-15 2h0m-4 1h0m20-6h0m1 41h0m-7-49h0m-17 68h0m7 31h0m-3 42h0m21-29h0m-12-21h0m-15-16h0m22 97h0m-1-115h0m6 87h0m4-131h0m6-8h0m-1 81h0m-16 45h0m-11-66h0m22-44h0"/>
<path d="M1051 1229h0m8-75h0m-28-21h0m2 60h0m9 101h0m14-156h0m-29 121h0m2-128h0m7 79h0m-8 5h0m12 33h0m20-16h0m-22-139h0m19 64h0m-29 64h0m25-25h0m0 51h0m-12-147h0m23 100h0m-35-43h0m28 25h0m-13 43h0m19-48h0m-1 12h0m-31 80h0m14-156h0m-15 104h0m15-62h0m13 41h0m-18 16h0m7-110h0m5 93h0m-3 20h0m10-139h0m-27 32h0m32-10h0m-14 117h0m-17-81h0m-1 36h0m1-14h0m6 73h0m-3-91h0m15-46h0m-24 13h0m6 82h0m-2-92h0m3 86h0m22 10h0m-25 106h0m27-119h0"/>
<path d="M1061 1217h0m-15 69h0m-20-41h0m22-41h0m-10-47h0m13 32h0m6 5h0m-20-13h0m8 24h0m13 24h0m5 62h0m-17-175h0m11 103h0m-22 45h0m-9-94h0m26 54h0m-19-177h0m15 145h0m-7-60h0m-6 51h0m9 133h0m1-112h0m11 9h0m-28 0h0m24 45h0m-22-48h0m29-17h0m-9 54h0m-15-26h0m14-31h0m-17 18h0m15-70h0m0-56h0m-7 234h0m19-43h0m-10-126h0m-2 102h0m4-78h0m-11 115h0m5-35h0m4-72h0m-9-26h0m7 56h0m-2-7h0m16 39h0m-28 30h0m-2-22h0m6-32h0m-9-71h0m18-28h0"/>
</g>
<use href="#v20" fill="none" stroke="#111" stroke-width="1.1" stroke-linejoin="round"/>
<rect x="1029.7" y="1186.6" width="31" height="3.4" fill="#fff"/>
<g font-size="24.8" text-anchor="end">
<text transform="translate(104.6 1371.2) rotate(-45)">NKbright</text>
<text transform="translate(156.7 1371.2) rotate(-45)">NKdim</text>
<text transform="translate(208.6 1371.2) rotate(-45)">memory CD8T</text>
<text transform="translate(255.8 1371.2) rotate(-45)">cyto CD4T</text>
<text transform="translate(305.1 1371.2) rotate(-45)">memory/naive CD8T</text>
<text transform="translate(345.8 1371.2) rotate(-45)">mDC</text>
<text transform="translate(398.5 1371.2) rotate(-45)">reg CD4T</text>
<text transform="translate(443.3 1371.2) rotate(-45)">double negative T</text>
<text transform="translate(485.0 1371.2) rotate(-45)">mono 3</text>
<text transform="translate(533.5 1371.2) rotate(-45)">naive CD4T</text>
<text transform="translate(552.4 1383.7) rotate(-45)">transitioning to stim</text>
<text transform="translate(584.0 1371.2) rotate(-45)">B</text>
<text transform="translate(627.7 1371.2) rotate(-45)">mono 4</text>
<text transform="translate(674.8 1371.2) rotate(-45)">pDC</text>
<text transform="translate(727.3 1371.2) rotate(-45)">th1 CD4T</text>
<text transform="translate(774.7 1371.2) rotate(-45)">th2 CD4T</text>
<text transform="translate(815.5 1371.2) rotate(-45)">mono 1</text>
<text transform="translate(868.9 1371.2) rotate(-45)">naive CD4T</text>
<text transform="translate(918.3 1371.2) rotate(-45)">naive CD8T</text>
<text transform="translate(959.8 1371.2) rotate(-45)">mono 2</text>
<text transform="translate(1005.4 1371.2) rotate(-45)">megakaryocyte</text>
<text transform="translate(1057.7 1371.2) rotate(-45)">hemapoietic stem</text>
</g>
</g>
<g id="panelc">
<rect x="1558.1" y="822.4" width="166.6" height="27.2" fill="#544595"/>
<rect x="1871.2" y="822.4" width="167.3" height="27.2" fill="#7AC4BD"/>
<rect x="1558.1" y="852.7" width="163.9" height="27.2" fill="#544595"/>
<rect x="1871.2" y="852.7" width="89.9" height="27.2" fill="#7AC4BD"/>
<rect x="1558.1" y="883.0" width="133.7" height="27.2" fill="#544595"/>
<rect x="1871.2" y="883.0" width="132.7" height="27.2" fill="#7AC4BD"/>
<rect x="1558.1" y="913.3" width="100.8" height="27.2" fill="#7AC4BD"/>
<rect x="1871.2" y="913.3" width="231.4" height="27.2" fill="#7AC4BD"/>
<rect x="1558.1" y="943.6" width="66.8" height="27.2" fill="#7AC4BD"/>
<rect x="1838.8" y="943.6" width="32.4" height="27.2" fill="#7AC4BD"/>
<rect x="1558.1" y="973.9" width="53.9" height="27.2" fill="#7AC4BD"/>
<rect x="1849.1" y="973.9" width="22.1" height="27.2" fill="#7AC4BD"/>
<rect x="1558.1" y="1004.2" width="14.6" height="27.2" fill="#7AC4BD"/>
<rect x="1790.1" y="1004.2" width="81.1" height="27.2" fill="#7AC4BD"/>
<rect x="1558.1" y="1034.5" width="3.2" height="27.2" fill="#7AC4BD"/>
<rect x="1871.2" y="1034.5" width="17.7" height="27.2" fill="#7AC4BD"/>
<rect x="1551.6" y="1064.8" width="6.5" height="27.2" fill="#7AC4BD"/>
<rect x="1862.4" y="1064.8" width="8.8" height="27.2" fill="#7AC4BD"/>
<rect x="1550.6" y="1095.1" width="7.5" height="27.2" fill="#7AC4BD"/>
<rect x="1871.2" y="1095.1" width="36.1" height="27.2" fill="#7AC4BD"/>
<rect x="1550.0" y="1125.4" width="8.1" height="27.2" fill="#7AC4BD"/>
<rect x="1807.1" y="1125.4" width="64.1" height="27.2" fill="#7AC4BD"/>
<rect x="1544.6" y="1155.7" width="13.5" height="27.2" fill="#7AC4BD"/>
<rect x="1871.2" y="1155.7" width="33.9" height="27.2" fill="#7AC4BD"/>
<rect x="1537.1" y="1186.0" width="21.0" height="27.2" fill="#7AC4BD"/>
<rect x="1871.2" y="1186.0" width="21.4" height="27.2" fill="#7AC4BD"/>
<rect x="1530.1" y="1216.3" width="28.0" height="27.2" fill="#7AC4BD"/>
<rect x="1852.0" y="1216.3" width="19.2" height="27.2" fill="#7AC4BD"/>
<rect x="1525.2" y="1246.6" width="32.9" height="27.2" fill="#7AC4BD"/>
<rect x="1871.2" y="1246.6" width="109.8" height="27.2" fill="#7AC4BD"/>
<rect x="1513.9" y="1276.9" width="44.2" height="27.2" fill="#7AC4BD"/>
<rect x="1871.2" y="1276.9" width="87.7" height="27.2" fill="#7AC4BD"/>
<rect x="1512.3" y="1307.2" width="45.8" height="27.2" fill="#7AC4BD"/>
<rect x="1871.2" y="1307.2" width="8.1" height="27.2" fill="#7AC4BD"/>
<rect x="1510.7" y="1337.5" width="47.4" height="27.2" fill="#7AC4BD"/>
<rect x="1803.4" y="1337.5" width="67.8" height="27.2" fill="#7AC4BD"/>
<rect x="1492.3" y="1367.8" width="65.8" height="27.2" fill="#7AC4BD"/>
<rect x="1871.2" y="1367.8" width="68.5" height="27.2" fill="#7AC4BD"/>
<rect x="1476.7" y="1398.1" width="81.4" height="27.2" fill="#7AC4BD"/>
<rect x="1871.2" y="1398.1" width="95.8" height="27.2" fill="#7AC4BD"/>
<rect x="1413.6" y="1428.4" width="144.5" height="27.2" fill="#7AC4BD"/>
<rect x="1871.2" y="1428.4" width="88.4" height="27.2" fill="#7AC4BD"/>
<path d="M1558.1 819V1459" stroke="#9a9a9a" stroke-width="1.2" stroke-dasharray="6 3"/>
<path d="M1871.2 819V1459" stroke="#9a9a9a" stroke-width="1.2" stroke-dasharray="6 3"/>
<path d="M1397.7 818V1459.5H1741" fill="none" stroke="#000" stroke-width="1.9"/>
<path d="M1775.6 819V1459.5H2118" fill="none" stroke="#000" stroke-width="1.9"/>
<path d="M1392 836.0H1397.7M1769.6 836.0H1775.6" stroke="#000" stroke-width="1.9"/>
<path d="M1392 866.3H1397.7M1769.6 866.3H1775.6" stroke="#000" stroke-width="1.9"/>
<path d="M1392 896.6H1397.7M1769.6 896.6H1775.6" stroke="#000" stroke-width="1.9"/>
<path d="M1392 926.9H1397.7M1769.6 926.9H1775.6" stroke="#000" stroke-width="1.9"/>
<path d="M1392 957.2H1397.7M1769.6 957.2H1775.6" stroke="#000" stroke-width="1.9"/>
<path d="M1392 987.5H1397.7M1769.6 987.5H1775.6" stroke="#000" stroke-width="1.9"/>
<path d="M1392 1017.8H1397.7M1769.6 1017.8H1775.6" stroke="#000" stroke-width="1.9"/>
<path d="M1392 1048.1H1397.7M1769.6 1048.1H1775.6" stroke="#000" stroke-width="1.9"/>
<path d="M1392 1078.4H1397.7M1769.6 1078.4H1775.6" stroke="#000" stroke-width="1.9"/>
<path d="M1392 1108.7H1397.7M1769.6 1108.7H1775.6" stroke="#000" stroke-width="1.9"/>
<path d="M1392 1139.0H1397.7M1769.6 1139.0H1775.6" stroke="#000" stroke-width="1.9"/>
<path d="M1392 1169.3H1397.7M1769.6 1169.3H1775.6" stroke="#000" stroke-width="1.9"/>
<path d="M1392 1199.6H1397.7M1769.6 1199.6H1775.6" stroke="#000" stroke-width="1.9"/>
<path d="M1392 1229.9H1397.7M1769.6 1229.9H1775.6" stroke="#000" stroke-width="1.9"/>
<path d="M1392 1260.2H1397.7M1769.6 1260.2H1775.6" stroke="#000" stroke-width="1.9"/>
<path d="M1392 1290.5H1397.7M1769.6 1290.5H1775.6" stroke="#000" stroke-width="1.9"/>
<path d="M1392 1320.8H1397.7M1769.6 1320.8H1775.6" stroke="#000" stroke-width="1.9"/>
<path d="M1392 1351.1H1397.7M1769.6 1351.1H1775.6" stroke="#000" stroke-width="1.9"/>
<path d="M1392 1381.4H1397.7M1769.6 1381.4H1775.6" stroke="#000" stroke-width="1.9"/>
<path d="M1392 1411.7H1397.7M1769.6 1411.7H1775.6" stroke="#000" stroke-width="1.9"/>
<path d="M1392 1442.0H1397.7M1769.6 1442.0H1775.6" stroke="#000" stroke-width="1.9"/>
<path d="M1450.3 1459.5V1468" stroke="#000" stroke-width="1.9"/>
<path d="M1504.2 1459.5V1468" stroke="#000" stroke-width="1.9"/>
<path d="M1558.1 1459.5V1468" stroke="#000" stroke-width="1.9"/>
<path d="M1612.0 1459.5V1468" stroke="#000" stroke-width="1.9"/>
<path d="M1665.9 1459.5V1468" stroke="#000" stroke-width="1.9"/>
<path d="M1719.8 1459.5V1468" stroke="#000" stroke-width="1.9"/>
<path d="M1797.5 1459.5V1468" stroke="#000" stroke-width="1.9"/>
<path d="M1871.2 1459.5V1468" stroke="#000" stroke-width="1.9"/>
<path d="M1944.9 1459.5V1468" stroke="#000" stroke-width="1.9"/>
<path d="M2018.6 1459.5V1468" stroke="#000" stroke-width="1.9"/>
<path d="M2092.3 1459.5V1468" stroke="#000" stroke-width="1.9"/>
<g font-size="24.8" text-anchor="end">
<text x="1389" y="842.5">memory CD8T</text>
<text x="1389" y="872.8">NKbright</text>
<text x="1389" y="903.1">NKdim</text>
<text x="1389" y="933.4">memory/naive CD8T</text>
<text x="1389" y="963.7">double negative T</text>
<text x="1389" y="994.0">reg CD4T</text>
<text x="1389" y="1024.3">mDC</text>
<text x="1389" y="1054.6">mono 3</text>
<text x="1389" y="1084.9">cyto CD4T</text>
<text x="1389" y="1115.2">naive CD4T trans to stim</text>
<text x="1389" y="1145.5">B</text>
<text x="1389" y="1175.8">mono 4</text>
<text x="1389" y="1206.1">mono 1</text>
<text x="1389" y="1236.4">pDC</text>
<text x="1389" y="1266.7">naive CD8T</text>
<text x="1389" y="1297.0">mono 2</text>
<text x="1389" y="1327.3">th1 CD4T</text>
<text x="1389" y="1357.6">th2 CD4T</text>
<text x="1389" y="1387.9">naive CD4T</text>
<text x="1389" y="1418.2">megakaryocyte</text>
<text x="1389" y="1448.5">hemapoietic stem</text>
</g>
<g font-size="24.8" text-anchor="middle">
<text font-size="25.2" x="1458.3" y="1493.7">-2</text>
<text font-size="25.2" x="1512.2" y="1493.7">-1</text>
<text font-size="25.2" x="1562.1" y="1493.7">0</text>
<text font-size="25.2" x="1613.6" y="1493.7">1</text>
<text font-size="25.2" x="1667.9" y="1493.7">2</text>
<text font-size="25.2" x="1728.8" y="1493.7">3</text>
<text font-size="25.2" x="1800.1" y="1493.7">-1</text>
<text font-size="25.2" x="1870.7" y="1493.7">0</text>
<text font-size="25.2" x="1944.9" y="1493.7">1</text>
<text font-size="25.2" x="2019.2" y="1493.7">2</text>
<text font-size="25.2" x="2093.5" y="1493.7">3</text>
<text x="1591.4" y="1528">Cell type association</text>
<text x="1945.5" y="1528">Cell type heterogeneity</text>
</g>
<text font-size="24.8" x="1266" y="1528">MC z-score:</text>
</g>
</svg></body></html>
